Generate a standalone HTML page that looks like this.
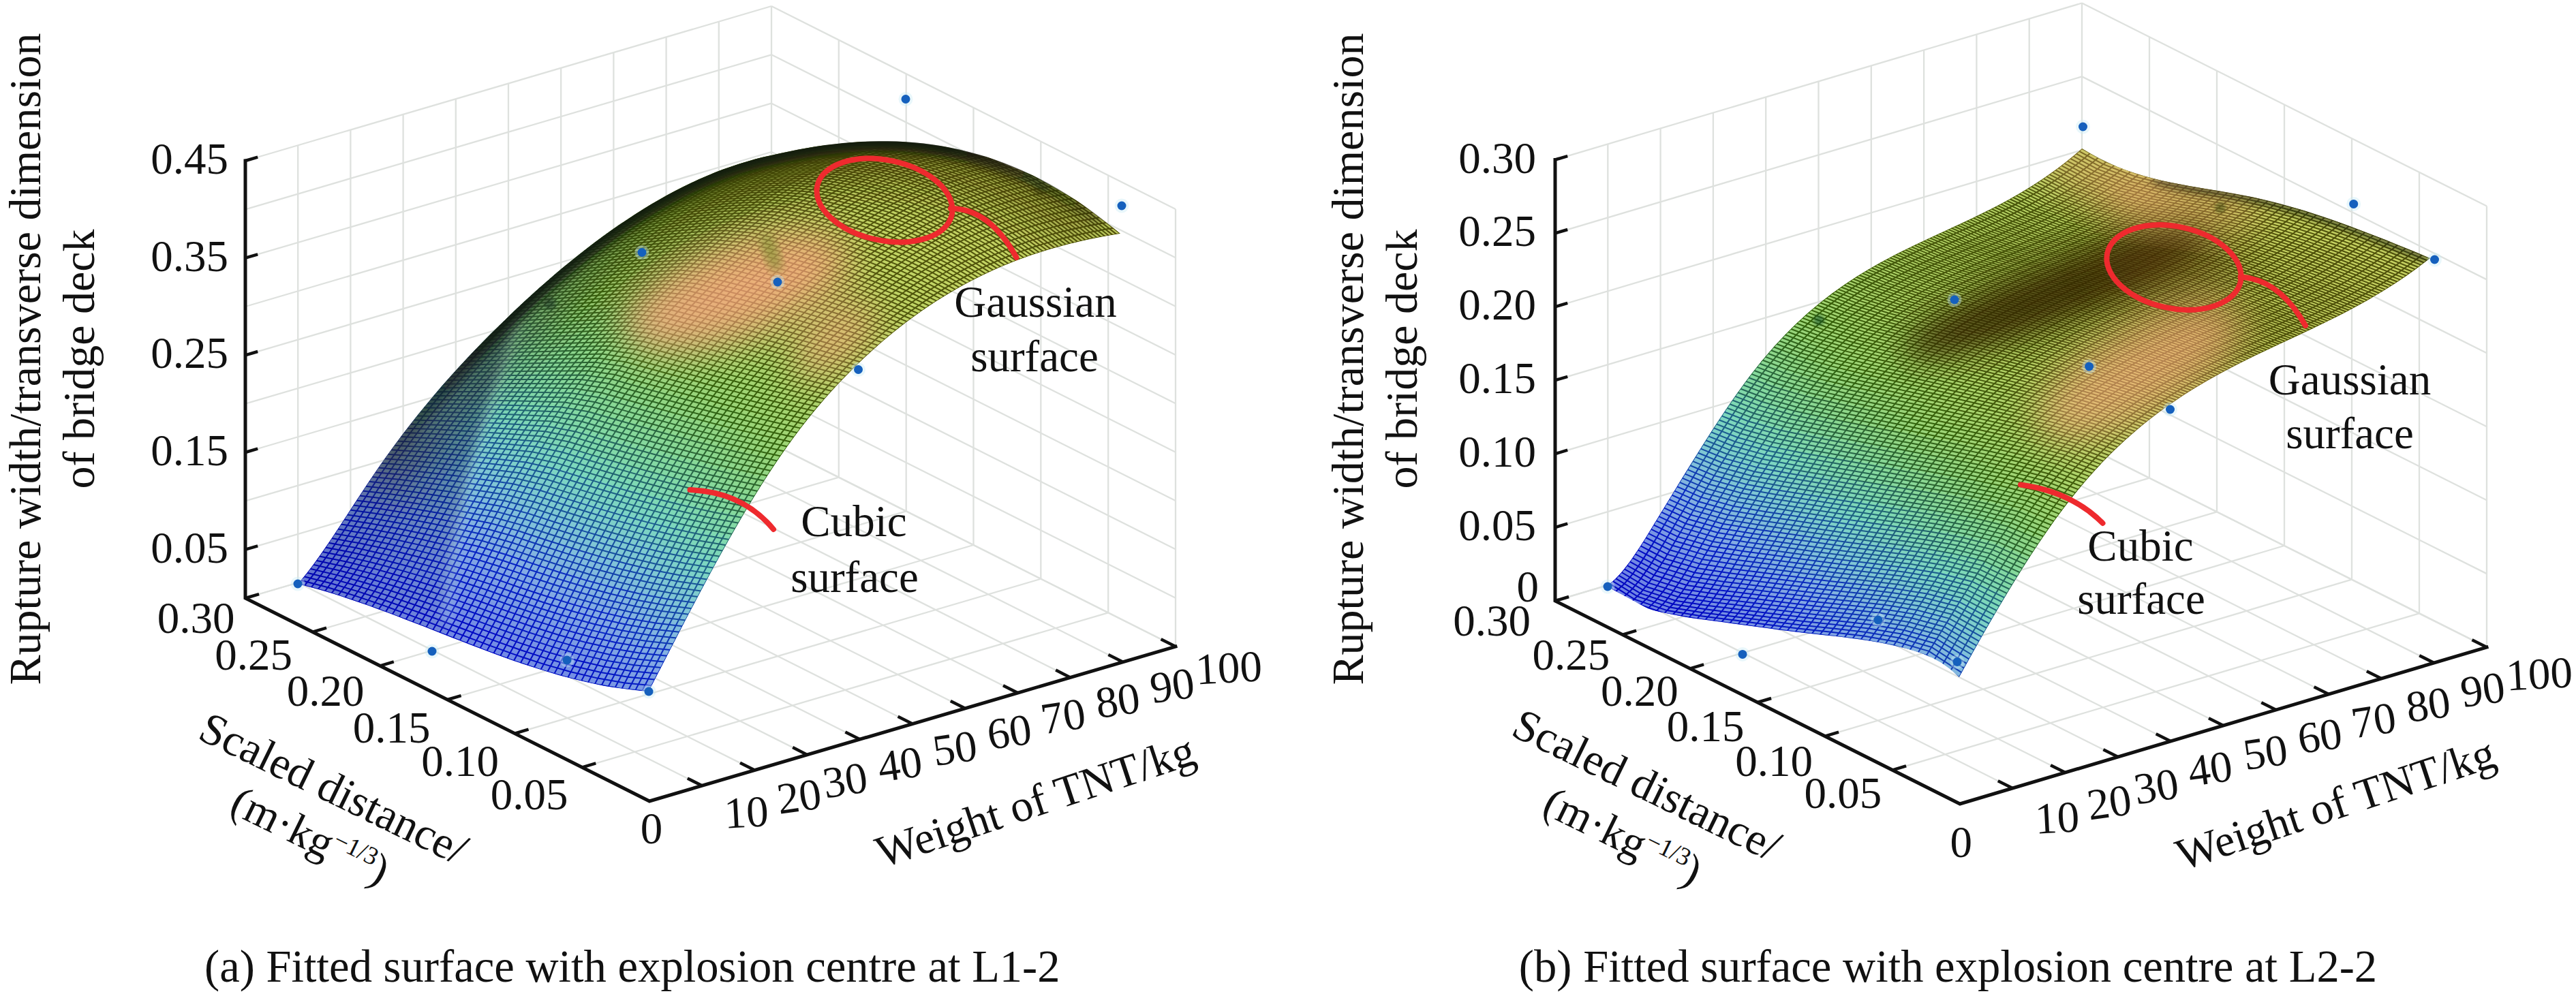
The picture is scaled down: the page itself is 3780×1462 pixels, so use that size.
<!DOCTYPE html>
<html><head><meta charset="utf-8"><title>Fitted surfaces</title>
<style>html,body{margin:0;padding:0;background:#fff}body{width:3780px;height:1462px;overflow:hidden}text{font-family:'Liberation Serif', serif}</style></head>
<body>
<svg width="3780" height="1462" viewBox="0 0 3780 1462" style="display:block;font-family:'Liberation Serif', serif;font-size:65px" fill="#111">
<rect width="3780" height="1462" fill="#fff"/>
<defs>
<linearGradient id="qL0" gradientUnits="userSpaceOnUse" x1="954.9" y1="1009.4" x2="439.9" y2="853.6"><stop offset="0" stop-color="#7e9fe4"/><stop offset="0.2" stop-color="#7590e4"/><stop offset="0.5" stop-color="#7289e4"/><stop offset="0.8" stop-color="#7086e4"/><stop offset="1" stop-color="#6e81e4"/></linearGradient><linearGradient id="qL1" gradientUnits="userSpaceOnUse" x1="960.6" y1="998.2" x2="445.6" y2="846.7"><stop offset="0" stop-color="#80a3e4"/><stop offset="0.2" stop-color="#7793e4"/><stop offset="0.5" stop-color="#738be4"/><stop offset="0.8" stop-color="#7187e4"/><stop offset="1" stop-color="#6f82e4"/></linearGradient><linearGradient id="qL2" gradientUnits="userSpaceOnUse" x1="966.4" y1="987.1" x2="451.4" y2="839.5"><stop offset="0" stop-color="#82a6e4"/><stop offset="0.2" stop-color="#7997e4"/><stop offset="0.5" stop-color="#758ee4"/><stop offset="0.8" stop-color="#7289e4"/><stop offset="1" stop-color="#6f83e4"/></linearGradient><linearGradient id="qL3" gradientUnits="userSpaceOnUse" x1="972.2" y1="975.9" x2="457.2" y2="831.9"><stop offset="0" stop-color="#84aae4"/><stop offset="0.2" stop-color="#7b9ae4"/><stop offset="0.5" stop-color="#7792e4"/><stop offset="0.8" stop-color="#728ae4"/><stop offset="1" stop-color="#7084e4"/></linearGradient><linearGradient id="qL4" gradientUnits="userSpaceOnUse" x1="978" y1="964.7" x2="463" y2="824.1"><stop offset="0" stop-color="#83aee2"/><stop offset="0.2" stop-color="#7d9ee4"/><stop offset="0.5" stop-color="#7895e4"/><stop offset="0.8" stop-color="#748de4"/><stop offset="1" stop-color="#7085e4"/></linearGradient><linearGradient id="qL5" gradientUnits="userSpaceOnUse" x1="983.7" y1="953.5" x2="468.7" y2="816"><stop offset="0" stop-color="#83b2e1"/><stop offset="0.2" stop-color="#7fa1e4"/><stop offset="0.5" stop-color="#7a98e4"/><stop offset="0.8" stop-color="#7690e4"/><stop offset="1" stop-color="#7187e4"/></linearGradient><linearGradient id="qL6" gradientUnits="userSpaceOnUse" x1="989.5" y1="942.3" x2="474.5" y2="807.8"><stop offset="0" stop-color="#82b6df"/><stop offset="0.2" stop-color="#81a5e4"/><stop offset="0.5" stop-color="#7c9ce4"/><stop offset="0.8" stop-color="#7793e4"/><stop offset="1" stop-color="#7188e4"/></linearGradient><linearGradient id="qL7" gradientUnits="userSpaceOnUse" x1="995.3" y1="931.2" x2="480.2" y2="799.4"><stop offset="0" stop-color="#81badd"/><stop offset="0.2" stop-color="#83a8e4"/><stop offset="0.5" stop-color="#7e9fe4"/><stop offset="0.8" stop-color="#7996e4"/><stop offset="1" stop-color="#7289e4"/></linearGradient><linearGradient id="qL8" gradientUnits="userSpaceOnUse" x1="1001" y1="920.1" x2="486" y2="790.8"><stop offset="0" stop-color="#81bddb"/><stop offset="0.2" stop-color="#84ace3"/><stop offset="0.5" stop-color="#80a3e4"/><stop offset="0.8" stop-color="#7b99e4"/><stop offset="1" stop-color="#738be4"/></linearGradient><linearGradient id="qL9" gradientUnits="userSpaceOnUse" x1="1006.8" y1="909" x2="491.8" y2="782.1"><stop offset="0" stop-color="#80c1d9"/><stop offset="0.2" stop-color="#83b0e1"/><stop offset="0.5" stop-color="#82a7e4"/><stop offset="0.8" stop-color="#7c9ce4"/><stop offset="1" stop-color="#758ee4"/></linearGradient><linearGradient id="qL10" gradientUnits="userSpaceOnUse" x1="1012.5" y1="898" x2="497.6" y2="773.3"><stop offset="0" stop-color="#7fc5d6"/><stop offset="0.2" stop-color="#82b4df"/><stop offset="0.5" stop-color="#84aae4"/><stop offset="0.8" stop-color="#7e9fe4"/><stop offset="1" stop-color="#7691e4"/></linearGradient><linearGradient id="qL11" gradientUnits="userSpaceOnUse" x1="1018.3" y1="887" x2="503.3" y2="764.5"><stop offset="0" stop-color="#7fc8d3"/><stop offset="0.2" stop-color="#81b8de"/><stop offset="0.5" stop-color="#83aee2"/><stop offset="0.8" stop-color="#80a2e4"/><stop offset="1" stop-color="#7793e4"/></linearGradient><linearGradient id="qL12" gradientUnits="userSpaceOnUse" x1="1024.1" y1="876" x2="509.1" y2="755.6"><stop offset="0" stop-color="#7ecbcf"/><stop offset="0.2" stop-color="#81bcdc"/><stop offset="0.5" stop-color="#83b2e0"/><stop offset="0.8" stop-color="#81a6e4"/><stop offset="1" stop-color="#7996e4"/></linearGradient><linearGradient id="qL13" gradientUnits="userSpaceOnUse" x1="1029.8" y1="865.2" x2="514.9" y2="746.7"><stop offset="0" stop-color="#7dcecb"/><stop offset="0.2" stop-color="#80c0da"/><stop offset="0.5" stop-color="#82b6df"/><stop offset="0.8" stop-color="#83a9e4"/><stop offset="1" stop-color="#7a99e4"/></linearGradient><linearGradient id="qL14" gradientUnits="userSpaceOnUse" x1="1035.6" y1="854.4" x2="520.6" y2="737.8"><stop offset="0" stop-color="#7dd1c7"/><stop offset="0.2" stop-color="#7fc4d7"/><stop offset="0.5" stop-color="#81badd"/><stop offset="0.8" stop-color="#84ace3"/><stop offset="1" stop-color="#7c9be4"/></linearGradient><linearGradient id="qL15" gradientUnits="userSpaceOnUse" x1="1041.4" y1="843.7" x2="526.4" y2="729"><stop offset="0" stop-color="#7cd4c4"/><stop offset="0.2" stop-color="#7fc7d3"/><stop offset="0.5" stop-color="#81bedb"/><stop offset="0.8" stop-color="#83afe2"/><stop offset="1" stop-color="#7d9ee4"/></linearGradient><linearGradient id="qL16" gradientUnits="userSpaceOnUse" x1="1047.2" y1="833" x2="532.2" y2="720.2"><stop offset="0" stop-color="#7bd7c0"/><stop offset="0.2" stop-color="#7ecad0"/><stop offset="0.5" stop-color="#80c1d9"/><stop offset="0.8" stop-color="#82b3e0"/><stop offset="1" stop-color="#7fa1e4"/></linearGradient><linearGradient id="qL17" gradientUnits="userSpaceOnUse" x1="1052.9" y1="822.5" x2="537.9" y2="711.4"><stop offset="0" stop-color="#7cd8bb"/><stop offset="0.2" stop-color="#7dcdcc"/><stop offset="0.5" stop-color="#7fc5d7"/><stop offset="0.8" stop-color="#82b6df"/><stop offset="1" stop-color="#80a3e4"/></linearGradient><linearGradient id="qL18" gradientUnits="userSpaceOnUse" x1="1058.7" y1="812" x2="543.7" y2="702.8"><stop offset="0" stop-color="#7dd8b7"/><stop offset="0.2" stop-color="#7dd0c8"/><stop offset="0.5" stop-color="#7fc8d3"/><stop offset="0.8" stop-color="#81b9dd"/><stop offset="1" stop-color="#82a6e4"/></linearGradient><linearGradient id="qL19" gradientUnits="userSpaceOnUse" x1="1064.5" y1="801.6" x2="549.5" y2="694.3"><stop offset="0" stop-color="#7fd9b2"/><stop offset="0.2" stop-color="#7cd3c4"/><stop offset="0.5" stop-color="#7ecbcf"/><stop offset="0.8" stop-color="#81bddc"/><stop offset="1" stop-color="#83a8e4"/></linearGradient><linearGradient id="qL20" gradientUnits="userSpaceOnUse" x1="1070.2" y1="791.4" x2="555.2" y2="685.9"><stop offset="0" stop-color="#80d9ad"/><stop offset="0.2" stop-color="#7cd6c1"/><stop offset="0.5" stop-color="#7dcdcc"/><stop offset="0.8" stop-color="#80c0da"/><stop offset="1" stop-color="#84abe4"/></linearGradient><linearGradient id="qL21" gradientUnits="userSpaceOnUse" x1="1076" y1="781.3" x2="561" y2="677.6"><stop offset="0" stop-color="#82d9a8"/><stop offset="0.2" stop-color="#7cd8bd"/><stop offset="0.5" stop-color="#7dd0c8"/><stop offset="0.8" stop-color="#80c3d9"/><stop offset="1" stop-color="#83aee2"/></linearGradient><linearGradient id="qL22" gradientUnits="userSpaceOnUse" x1="1081.8" y1="771.3" x2="566.8" y2="669.5"><stop offset="0" stop-color="#83d9a4"/><stop offset="0.2" stop-color="#7dd8b8"/><stop offset="0.5" stop-color="#7cd3c5"/><stop offset="0.8" stop-color="#7fc6d5"/><stop offset="1" stop-color="#83b0e1"/></linearGradient><linearGradient id="qL23" gradientUnits="userSpaceOnUse" x1="1087.5" y1="761.4" x2="572.5" y2="661.4"><stop offset="0" stop-color="#84d99f"/><stop offset="0.2" stop-color="#7ed8b3"/><stop offset="0.5" stop-color="#7cd6c1"/><stop offset="0.8" stop-color="#7fc8d2"/><stop offset="1" stop-color="#82b3e0"/></linearGradient><linearGradient id="qL24" gradientUnits="userSpaceOnUse" x1="1093.3" y1="751.6" x2="578.3" y2="653.5"><stop offset="0" stop-color="#86d99a"/><stop offset="0.2" stop-color="#80d9ae"/><stop offset="0.5" stop-color="#7bd8be"/><stop offset="0.8" stop-color="#7ecacf"/><stop offset="1" stop-color="#82b6df"/></linearGradient><linearGradient id="qL25" gradientUnits="userSpaceOnUse" x1="1099.1" y1="741.9" x2="584.1" y2="645.7"><stop offset="0" stop-color="#88d996"/><stop offset="0.2" stop-color="#81d9aa"/><stop offset="0.5" stop-color="#7dd8b9"/><stop offset="0.8" stop-color="#7ecdcd"/><stop offset="1" stop-color="#82b8de"/></linearGradient><linearGradient id="qL26" gradientUnits="userSpaceOnUse" x1="1104.8" y1="732.4" x2="589.8" y2="638"><stop offset="0" stop-color="#8ad892"/><stop offset="0.2" stop-color="#82d9a5"/><stop offset="0.5" stop-color="#7ed8b5"/><stop offset="0.8" stop-color="#7dcfca"/><stop offset="1" stop-color="#81bbdd"/></linearGradient><linearGradient id="qL27" gradientUnits="userSpaceOnUse" x1="1110.6" y1="723.1" x2="595.6" y2="630.5"><stop offset="0" stop-color="#8cd78e"/><stop offset="0.2" stop-color="#84d9a1"/><stop offset="0.5" stop-color="#7fd9b0"/><stop offset="0.8" stop-color="#7dd1c7"/><stop offset="1" stop-color="#81bddb"/></linearGradient><linearGradient id="qL28" gradientUnits="userSpaceOnUse" x1="1116.4" y1="713.8" x2="601.4" y2="623"><stop offset="0" stop-color="#8fd789"/><stop offset="0.2" stop-color="#85d99d"/><stop offset="0.5" stop-color="#80d9ac"/><stop offset="0.8" stop-color="#7cd3c4"/><stop offset="1" stop-color="#80bfda"/></linearGradient><linearGradient id="qL29" gradientUnits="userSpaceOnUse" x1="1122.1" y1="704.7" x2="607.1" y2="615.6"><stop offset="0" stop-color="#91d685"/><stop offset="0.2" stop-color="#87d998"/><stop offset="0.5" stop-color="#82d9a8"/><stop offset="0.8" stop-color="#7cd6c1"/><stop offset="1" stop-color="#80c2d9"/></linearGradient><linearGradient id="qL30" gradientUnits="userSpaceOnUse" x1="1127.9" y1="695.8" x2="612.9" y2="608.4"><stop offset="0" stop-color="#93d581"/><stop offset="0.2" stop-color="#89d894"/><stop offset="0.5" stop-color="#83d9a4"/><stop offset="0.8" stop-color="#7bd8bf"/><stop offset="1" stop-color="#7fc4d8"/></linearGradient><linearGradient id="qL31" gradientUnits="userSpaceOnUse" x1="1133.7" y1="687" x2="618.7" y2="601.2"><stop offset="0" stop-color="#95d57e"/><stop offset="0.2" stop-color="#8bd890"/><stop offset="0.5" stop-color="#84d9a0"/><stop offset="0.8" stop-color="#7cd8bb"/><stop offset="1" stop-color="#7fc6d5"/></linearGradient><linearGradient id="qL32" gradientUnits="userSpaceOnUse" x1="1139.4" y1="678.3" x2="624.4" y2="594.2"><stop offset="0" stop-color="#97d47a"/><stop offset="0.2" stop-color="#8dd78c"/><stop offset="0.5" stop-color="#85d99c"/><stop offset="0.8" stop-color="#7dd8b8"/><stop offset="1" stop-color="#7fc7d3"/></linearGradient><linearGradient id="qL33" gradientUnits="userSpaceOnUse" x1="1145.2" y1="669.9" x2="630.2" y2="587.2"><stop offset="0" stop-color="#99d476"/><stop offset="0.2" stop-color="#8fd689"/><stop offset="0.5" stop-color="#87d998"/><stop offset="0.8" stop-color="#7ed8b4"/><stop offset="1" stop-color="#7ec9d1"/></linearGradient><linearGradient id="qL34" gradientUnits="userSpaceOnUse" x1="1151" y1="661.5" x2="636" y2="580.3"><stop offset="0" stop-color="#9bd475"/><stop offset="0.2" stop-color="#91d685"/><stop offset="0.5" stop-color="#88d895"/><stop offset="0.8" stop-color="#7fd9b1"/><stop offset="1" stop-color="#7ecbcf"/></linearGradient><linearGradient id="qL35" gradientUnits="userSpaceOnUse" x1="1156.7" y1="653.4" x2="641.7" y2="573.5"><stop offset="0" stop-color="#9dd473"/><stop offset="0.2" stop-color="#93d581"/><stop offset="0.5" stop-color="#8ad891"/><stop offset="0.8" stop-color="#80d9ae"/><stop offset="1" stop-color="#7ecccd"/></linearGradient><linearGradient id="qL36" gradientUnits="userSpaceOnUse" x1="1162.5" y1="645.4" x2="647.5" y2="566.8"><stop offset="0" stop-color="#9fd472"/><stop offset="0.2" stop-color="#95d57e"/><stop offset="0.5" stop-color="#8cd78e"/><stop offset="0.8" stop-color="#81d9ab"/><stop offset="1" stop-color="#7dcecb"/></linearGradient><linearGradient id="qL37" gradientUnits="userSpaceOnUse" x1="1168.2" y1="637.6" x2="653.3" y2="560.2"><stop offset="0" stop-color="#a1d471"/><stop offset="0.2" stop-color="#97d47a"/><stop offset="0.5" stop-color="#8ed78a"/><stop offset="0.8" stop-color="#82d9a8"/><stop offset="1" stop-color="#7dd0c9"/></linearGradient><linearGradient id="qL38" gradientUnits="userSpaceOnUse" x1="1174" y1="629.9" x2="659" y2="553.7"><stop offset="0" stop-color="#a3d470"/><stop offset="0.2" stop-color="#98d477"/><stop offset="0.5" stop-color="#90d687"/><stop offset="0.8" stop-color="#83d9a5"/><stop offset="1" stop-color="#7dd1c7"/></linearGradient><linearGradient id="qL39" gradientUnits="userSpaceOnUse" x1="1179.8" y1="622.4" x2="664.8" y2="547.3"><stop offset="0" stop-color="#a4d46f"/><stop offset="0.2" stop-color="#9ad475"/><stop offset="0.5" stop-color="#91d684"/><stop offset="0.8" stop-color="#84d9a2"/><stop offset="1" stop-color="#7cd3c5"/></linearGradient><linearGradient id="qL40" gradientUnits="userSpaceOnUse" x1="1185.6" y1="615.1" x2="670.6" y2="540.9"><stop offset="0" stop-color="#a6d46e"/><stop offset="0.2" stop-color="#9cd474"/><stop offset="0.5" stop-color="#93d581"/><stop offset="0.8" stop-color="#84d99f"/><stop offset="1" stop-color="#7cd4c3"/></linearGradient><linearGradient id="qL41" gradientUnits="userSpaceOnUse" x1="1191.3" y1="608" x2="676.3" y2="534.6"><stop offset="0" stop-color="#a8d46d"/><stop offset="0.2" stop-color="#9ed473"/><stop offset="0.5" stop-color="#95d57e"/><stop offset="0.8" stop-color="#85d99c"/><stop offset="1" stop-color="#7cd6c1"/></linearGradient><linearGradient id="qL42" gradientUnits="userSpaceOnUse" x1="1197.1" y1="601" x2="682.1" y2="528.4"><stop offset="0" stop-color="#a9d46c"/><stop offset="0.2" stop-color="#9fd472"/><stop offset="0.5" stop-color="#96d47b"/><stop offset="0.8" stop-color="#86d999"/><stop offset="1" stop-color="#7bd7bf"/></linearGradient><linearGradient id="qL43" gradientUnits="userSpaceOnUse" x1="1202.9" y1="594.1" x2="687.9" y2="522.2"><stop offset="0" stop-color="#abd46b"/><stop offset="0.2" stop-color="#a1d471"/><stop offset="0.5" stop-color="#98d478"/><stop offset="0.8" stop-color="#88d996"/><stop offset="1" stop-color="#7cd8bd"/></linearGradient><linearGradient id="qL44" gradientUnits="userSpaceOnUse" x1="1208.6" y1="587.4" x2="693.6" y2="516.1"><stop offset="0" stop-color="#add46a"/><stop offset="0.2" stop-color="#a3d470"/><stop offset="0.5" stop-color="#99d476"/><stop offset="0.8" stop-color="#89d894"/><stop offset="1" stop-color="#7cd8ba"/></linearGradient><linearGradient id="qL45" gradientUnits="userSpaceOnUse" x1="1214.4" y1="580.8" x2="699.4" y2="510.1"><stop offset="0" stop-color="#aed469"/><stop offset="0.2" stop-color="#a4d46f"/><stop offset="0.5" stop-color="#9bd475"/><stop offset="0.8" stop-color="#8ad891"/><stop offset="1" stop-color="#7dd8b8"/></linearGradient><linearGradient id="qL46" gradientUnits="userSpaceOnUse" x1="1220.1" y1="574.4" x2="705.1" y2="504.1"><stop offset="0" stop-color="#b0d468"/><stop offset="0.2" stop-color="#a6d46e"/><stop offset="0.5" stop-color="#9dd474"/><stop offset="0.8" stop-color="#8cd78f"/><stop offset="1" stop-color="#7ed8b6"/></linearGradient><linearGradient id="qL47" gradientUnits="userSpaceOnUse" x1="1225.9" y1="568.1" x2="710.9" y2="498.2"><stop offset="0" stop-color="#b1d467"/><stop offset="0.2" stop-color="#a7d46d"/><stop offset="0.5" stop-color="#9ed473"/><stop offset="0.8" stop-color="#8dd78c"/><stop offset="1" stop-color="#7ed8b3"/></linearGradient><linearGradient id="qL48" gradientUnits="userSpaceOnUse" x1="1231.7" y1="561.9" x2="716.7" y2="492.4"><stop offset="0" stop-color="#b2d467"/><stop offset="0.2" stop-color="#a9d46c"/><stop offset="0.5" stop-color="#a0d472"/><stop offset="0.8" stop-color="#8fd78a"/><stop offset="1" stop-color="#7fd9b1"/></linearGradient><linearGradient id="qL49" gradientUnits="userSpaceOnUse" x1="1237.4" y1="555.9" x2="722.4" y2="486.6"><stop offset="0" stop-color="#b3d466"/><stop offset="0.2" stop-color="#aad46b"/><stop offset="0.5" stop-color="#a1d471"/><stop offset="0.8" stop-color="#90d687"/><stop offset="1" stop-color="#80d9af"/></linearGradient><linearGradient id="qL50" gradientUnits="userSpaceOnUse" x1="1243.2" y1="549.9" x2="728.2" y2="480.9"><stop offset="0" stop-color="#b4d466"/><stop offset="0.2" stop-color="#acd46a"/><stop offset="0.5" stop-color="#a3d470"/><stop offset="0.8" stop-color="#91d685"/><stop offset="1" stop-color="#80d9ac"/></linearGradient><linearGradient id="qL51" gradientUnits="userSpaceOnUse" x1="1249" y1="544.1" x2="734" y2="475.2"><stop offset="0" stop-color="#b4d466"/><stop offset="0.2" stop-color="#add469"/><stop offset="0.5" stop-color="#a4d46f"/><stop offset="0.8" stop-color="#92d582"/><stop offset="1" stop-color="#81d9aa"/></linearGradient><linearGradient id="qL52" gradientUnits="userSpaceOnUse" x1="1254.8" y1="538.4" x2="739.8" y2="469.5"><stop offset="0" stop-color="#b5d466"/><stop offset="0.2" stop-color="#afd468"/><stop offset="0.5" stop-color="#a5d46e"/><stop offset="0.8" stop-color="#94d580"/><stop offset="1" stop-color="#82d9a8"/></linearGradient><linearGradient id="qL53" gradientUnits="userSpaceOnUse" x1="1260.5" y1="532.8" x2="745.5" y2="464"><stop offset="0" stop-color="#b6d466"/><stop offset="0.2" stop-color="#b0d468"/><stop offset="0.5" stop-color="#a7d46d"/><stop offset="0.8" stop-color="#95d57d"/><stop offset="1" stop-color="#82d9a6"/></linearGradient><linearGradient id="qL54" gradientUnits="userSpaceOnUse" x1="1266.3" y1="527.3" x2="751.3" y2="458.4"><stop offset="0" stop-color="#b6d466"/><stop offset="0.2" stop-color="#b1d467"/><stop offset="0.5" stop-color="#a8d46c"/><stop offset="0.8" stop-color="#96d47b"/><stop offset="1" stop-color="#83d9a4"/></linearGradient><linearGradient id="qL55" gradientUnits="userSpaceOnUse" x1="1272" y1="521.9" x2="757" y2="452.9"><stop offset="0" stop-color="#b7d465"/><stop offset="0.2" stop-color="#b2d466"/><stop offset="0.5" stop-color="#aad46c"/><stop offset="0.8" stop-color="#98d479"/><stop offset="1" stop-color="#84d9a1"/></linearGradient><linearGradient id="qL56" gradientUnits="userSpaceOnUse" x1="1277.8" y1="516.6" x2="762.8" y2="447.5"><stop offset="0" stop-color="#b8d465"/><stop offset="0.2" stop-color="#b3d466"/><stop offset="0.5" stop-color="#abd46b"/><stop offset="0.8" stop-color="#99d476"/><stop offset="1" stop-color="#84d99f"/></linearGradient><linearGradient id="qL57" gradientUnits="userSpaceOnUse" x1="1283.6" y1="511.4" x2="768.6" y2="442.1"><stop offset="0" stop-color="#b8d465"/><stop offset="0.2" stop-color="#b4d466"/><stop offset="0.5" stop-color="#acd46a"/><stop offset="0.8" stop-color="#9ad475"/><stop offset="1" stop-color="#85d99d"/></linearGradient><linearGradient id="qL58" gradientUnits="userSpaceOnUse" x1="1289.3" y1="506.2" x2="774.4" y2="436.8"><stop offset="0" stop-color="#b9d465"/><stop offset="0.2" stop-color="#b5d466"/><stop offset="0.5" stop-color="#aed469"/><stop offset="0.8" stop-color="#9bd474"/><stop offset="1" stop-color="#85d99b"/></linearGradient><linearGradient id="qL59" gradientUnits="userSpaceOnUse" x1="1295.1" y1="501.2" x2="780.1" y2="431.5"><stop offset="0" stop-color="#bad465"/><stop offset="0.2" stop-color="#b5d466"/><stop offset="0.5" stop-color="#afd468"/><stop offset="0.8" stop-color="#9dd474"/><stop offset="1" stop-color="#86d999"/></linearGradient><linearGradient id="qL60" gradientUnits="userSpaceOnUse" x1="1300.9" y1="496.3" x2="785.9" y2="426.3"><stop offset="0" stop-color="#bad465"/><stop offset="0.2" stop-color="#b6d466"/><stop offset="0.5" stop-color="#b0d468"/><stop offset="0.8" stop-color="#9ed473"/><stop offset="1" stop-color="#87d997"/></linearGradient><linearGradient id="qL61" gradientUnits="userSpaceOnUse" x1="1306.7" y1="491.5" x2="791.6" y2="421.1"><stop offset="0" stop-color="#bbd465"/><stop offset="0.2" stop-color="#b7d466"/><stop offset="0.5" stop-color="#b1d467"/><stop offset="0.8" stop-color="#9fd472"/><stop offset="1" stop-color="#88d895"/></linearGradient><linearGradient id="qL62" gradientUnits="userSpaceOnUse" x1="1312.4" y1="486.8" x2="797.4" y2="416"><stop offset="0" stop-color="#bbd465"/><stop offset="0.2" stop-color="#b8d465"/><stop offset="0.5" stop-color="#b2d466"/><stop offset="0.8" stop-color="#a0d471"/><stop offset="1" stop-color="#89d894"/></linearGradient><linearGradient id="qL63" gradientUnits="userSpaceOnUse" x1="1318.2" y1="482.2" x2="803.2" y2="411"><stop offset="0" stop-color="#bcd464"/><stop offset="0.2" stop-color="#b8d465"/><stop offset="0.5" stop-color="#b3d466"/><stop offset="0.8" stop-color="#a1d471"/><stop offset="1" stop-color="#8ad892"/></linearGradient><linearGradient id="qL64" gradientUnits="userSpaceOnUse" x1="1323.9" y1="477.7" x2="809" y2="405.9"><stop offset="0" stop-color="#bcd464"/><stop offset="0.2" stop-color="#b9d465"/><stop offset="0.5" stop-color="#b4d466"/><stop offset="0.8" stop-color="#a2d470"/><stop offset="1" stop-color="#8bd890"/></linearGradient><linearGradient id="qL65" gradientUnits="userSpaceOnUse" x1="1329.7" y1="473.3" x2="814.7" y2="401"><stop offset="0" stop-color="#bdd464"/><stop offset="0.2" stop-color="#bad465"/><stop offset="0.5" stop-color="#b4d466"/><stop offset="0.8" stop-color="#a4d46f"/><stop offset="1" stop-color="#8cd78e"/></linearGradient><linearGradient id="qL66" gradientUnits="userSpaceOnUse" x1="1335.5" y1="468.9" x2="820.5" y2="396.1"><stop offset="0" stop-color="#bdd464"/><stop offset="0.2" stop-color="#bad465"/><stop offset="0.5" stop-color="#b5d466"/><stop offset="0.8" stop-color="#a5d46f"/><stop offset="1" stop-color="#8dd78c"/></linearGradient><linearGradient id="qL67" gradientUnits="userSpaceOnUse" x1="1341.2" y1="464.7" x2="826.2" y2="391.3"><stop offset="0" stop-color="#bed464"/><stop offset="0.2" stop-color="#bbd465"/><stop offset="0.5" stop-color="#b6d466"/><stop offset="0.8" stop-color="#a6d46e"/><stop offset="1" stop-color="#8ed78b"/></linearGradient><linearGradient id="qL68" gradientUnits="userSpaceOnUse" x1="1347" y1="460.5" x2="832" y2="386.5"><stop offset="0" stop-color="#bed464"/><stop offset="0.2" stop-color="#bbd465"/><stop offset="0.5" stop-color="#b6d466"/><stop offset="0.8" stop-color="#a7d46d"/><stop offset="1" stop-color="#8fd789"/></linearGradient><linearGradient id="qL69" gradientUnits="userSpaceOnUse" x1="1352.8" y1="456.4" x2="837.8" y2="381.8"><stop offset="0" stop-color="#bed464"/><stop offset="0.2" stop-color="#bcd464"/><stop offset="0.5" stop-color="#b7d465"/><stop offset="0.8" stop-color="#a8d46d"/><stop offset="1" stop-color="#90d687"/></linearGradient><linearGradient id="qL70" gradientUnits="userSpaceOnUse" x1="1358.5" y1="452.5" x2="843.5" y2="377.1"><stop offset="0" stop-color="#bfd464"/><stop offset="0.2" stop-color="#bdd464"/><stop offset="0.5" stop-color="#b8d465"/><stop offset="0.8" stop-color="#a9d46c"/><stop offset="1" stop-color="#91d686"/></linearGradient><linearGradient id="qL71" gradientUnits="userSpaceOnUse" x1="1364.3" y1="448.6" x2="849.3" y2="372.5"><stop offset="0" stop-color="#bfd464"/><stop offset="0.2" stop-color="#bdd464"/><stop offset="0.5" stop-color="#b8d465"/><stop offset="0.8" stop-color="#aad46b"/><stop offset="1" stop-color="#91d684"/></linearGradient><linearGradient id="qL72" gradientUnits="userSpaceOnUse" x1="1370.1" y1="444.8" x2="855.1" y2="368"><stop offset="0" stop-color="#c0d464"/><stop offset="0.2" stop-color="#bed464"/><stop offset="0.5" stop-color="#b9d465"/><stop offset="0.8" stop-color="#abd46b"/><stop offset="1" stop-color="#92d683"/></linearGradient><linearGradient id="qL73" gradientUnits="userSpaceOnUse" x1="1375.8" y1="441" x2="860.8" y2="363.5"><stop offset="0" stop-color="#c0d464"/><stop offset="0.2" stop-color="#bed464"/><stop offset="0.5" stop-color="#b9d465"/><stop offset="0.8" stop-color="#acd46a"/><stop offset="1" stop-color="#93d581"/></linearGradient><linearGradient id="qL74" gradientUnits="userSpaceOnUse" x1="1381.6" y1="437.4" x2="866.6" y2="359"><stop offset="0" stop-color="#c0d463"/><stop offset="0.2" stop-color="#bfd464"/><stop offset="0.5" stop-color="#bad465"/><stop offset="0.8" stop-color="#add46a"/><stop offset="1" stop-color="#94d580"/></linearGradient><linearGradient id="qL75" gradientUnits="userSpaceOnUse" x1="1387.4" y1="433.8" x2="872.4" y2="354.7"><stop offset="0" stop-color="#c1d463"/><stop offset="0.2" stop-color="#bfd464"/><stop offset="0.5" stop-color="#bad465"/><stop offset="0.8" stop-color="#aed469"/><stop offset="1" stop-color="#95d57e"/></linearGradient><linearGradient id="qL76" gradientUnits="userSpaceOnUse" x1="1393.2" y1="430.4" x2="878.1" y2="350.4"><stop offset="0" stop-color="#c1d463"/><stop offset="0.2" stop-color="#c0d464"/><stop offset="0.5" stop-color="#bbd465"/><stop offset="0.8" stop-color="#afd468"/><stop offset="1" stop-color="#95d57d"/></linearGradient><linearGradient id="qL77" gradientUnits="userSpaceOnUse" x1="1398.9" y1="427" x2="883.9" y2="346.1"><stop offset="0" stop-color="#c1d463"/><stop offset="0.2" stop-color="#c0d463"/><stop offset="0.5" stop-color="#bbd465"/><stop offset="0.8" stop-color="#b0d468"/><stop offset="1" stop-color="#96d47b"/></linearGradient><linearGradient id="qL78" gradientUnits="userSpaceOnUse" x1="1404.7" y1="423.6" x2="889.7" y2="341.9"><stop offset="0" stop-color="#c2d463"/><stop offset="0.2" stop-color="#c1d463"/><stop offset="0.5" stop-color="#bcd464"/><stop offset="0.8" stop-color="#b1d467"/><stop offset="1" stop-color="#97d47a"/></linearGradient><linearGradient id="qL79" gradientUnits="userSpaceOnUse" x1="1410.4" y1="420.4" x2="895.4" y2="337.8"><stop offset="0" stop-color="#c2d463"/><stop offset="0.2" stop-color="#c1d463"/><stop offset="0.5" stop-color="#bcd464"/><stop offset="0.8" stop-color="#b1d467"/><stop offset="1" stop-color="#98d479"/></linearGradient><linearGradient id="qL80" gradientUnits="userSpaceOnUse" x1="1416.2" y1="417.2" x2="901.2" y2="333.7"><stop offset="0" stop-color="#c2d463"/><stop offset="0.2" stop-color="#c2d463"/><stop offset="0.5" stop-color="#bdd464"/><stop offset="0.8" stop-color="#b2d467"/><stop offset="1" stop-color="#98d477"/></linearGradient><linearGradient id="qL81" gradientUnits="userSpaceOnUse" x1="1422" y1="414.2" x2="907" y2="329.8"><stop offset="0" stop-color="#c2d463"/><stop offset="0.2" stop-color="#c2d463"/><stop offset="0.5" stop-color="#bdd464"/><stop offset="0.8" stop-color="#b2d466"/><stop offset="1" stop-color="#99d476"/></linearGradient><linearGradient id="qL82" gradientUnits="userSpaceOnUse" x1="1427.8" y1="411.2" x2="912.8" y2="325.8"><stop offset="0" stop-color="#c3d463"/><stop offset="0.2" stop-color="#c3d463"/><stop offset="0.5" stop-color="#bed464"/><stop offset="0.8" stop-color="#b3d466"/><stop offset="1" stop-color="#9ad475"/></linearGradient><linearGradient id="qL83" gradientUnits="userSpaceOnUse" x1="1433.5" y1="408.2" x2="918.5" y2="321.9"><stop offset="0" stop-color="#c3d463"/><stop offset="0.2" stop-color="#c3d463"/><stop offset="0.5" stop-color="#bed464"/><stop offset="0.8" stop-color="#b3d466"/><stop offset="1" stop-color="#9ad475"/></linearGradient><linearGradient id="qL84" gradientUnits="userSpaceOnUse" x1="1439.3" y1="405.4" x2="924.3" y2="318.1"><stop offset="0" stop-color="#c3d463"/><stop offset="0.2" stop-color="#c3d463"/><stop offset="0.5" stop-color="#bfd464"/><stop offset="0.8" stop-color="#b4d466"/><stop offset="1" stop-color="#9bd475"/></linearGradient><linearGradient id="qL85" gradientUnits="userSpaceOnUse" x1="1445" y1="402.6" x2="930" y2="314.4"><stop offset="0" stop-color="#c3d463"/><stop offset="0.2" stop-color="#c3d463"/><stop offset="0.5" stop-color="#bfd464"/><stop offset="0.8" stop-color="#b4d466"/><stop offset="1" stop-color="#9cd474"/></linearGradient><linearGradient id="qL86" gradientUnits="userSpaceOnUse" x1="1450.8" y1="399.9" x2="935.8" y2="310.7"><stop offset="0" stop-color="#c3d463"/><stop offset="0.2" stop-color="#c4d363"/><stop offset="0.5" stop-color="#bfd464"/><stop offset="0.8" stop-color="#b5d466"/><stop offset="1" stop-color="#9cd474"/></linearGradient><linearGradient id="qL87" gradientUnits="userSpaceOnUse" x1="1456.6" y1="397.2" x2="941.6" y2="307.1"><stop offset="0" stop-color="#c3d463"/><stop offset="0.2" stop-color="#c4d363"/><stop offset="0.5" stop-color="#c0d464"/><stop offset="0.8" stop-color="#b5d466"/><stop offset="1" stop-color="#9dd474"/></linearGradient><linearGradient id="qL88" gradientUnits="userSpaceOnUse" x1="1462.3" y1="394.6" x2="947.4" y2="303.6"><stop offset="0" stop-color="#c3d463"/><stop offset="0.2" stop-color="#c4d363"/><stop offset="0.5" stop-color="#c0d464"/><stop offset="0.8" stop-color="#b5d466"/><stop offset="1" stop-color="#9dd473"/></linearGradient><linearGradient id="qL89" gradientUnits="userSpaceOnUse" x1="1468.1" y1="392.1" x2="953.1" y2="300.1"><stop offset="0" stop-color="#c3d463"/><stop offset="0.2" stop-color="#c4d363"/><stop offset="0.5" stop-color="#c0d463"/><stop offset="0.8" stop-color="#b6d466"/><stop offset="1" stop-color="#9ed473"/></linearGradient><linearGradient id="qL90" gradientUnits="userSpaceOnUse" x1="1473.9" y1="389.7" x2="958.9" y2="296.7"><stop offset="0" stop-color="#c3d463"/><stop offset="0.2" stop-color="#c4d363"/><stop offset="0.5" stop-color="#c1d463"/><stop offset="0.8" stop-color="#b6d466"/><stop offset="1" stop-color="#9ed472"/></linearGradient><linearGradient id="qL91" gradientUnits="userSpaceOnUse" x1="1479.7" y1="387.3" x2="964.6" y2="293.3"><stop offset="0" stop-color="#c4d363"/><stop offset="0.2" stop-color="#c4d362"/><stop offset="0.5" stop-color="#c1d463"/><stop offset="0.8" stop-color="#b6d466"/><stop offset="1" stop-color="#9fd472"/></linearGradient><linearGradient id="qL92" gradientUnits="userSpaceOnUse" x1="1485.4" y1="385" x2="970.4" y2="290"><stop offset="0" stop-color="#c4d363"/><stop offset="0.2" stop-color="#c4d362"/><stop offset="0.5" stop-color="#c1d463"/><stop offset="0.8" stop-color="#b7d466"/><stop offset="1" stop-color="#9fd472"/></linearGradient><linearGradient id="qL93" gradientUnits="userSpaceOnUse" x1="1491.2" y1="382.7" x2="976.2" y2="286.8"><stop offset="0" stop-color="#c4d363"/><stop offset="0.2" stop-color="#c4d362"/><stop offset="0.5" stop-color="#c2d463"/><stop offset="0.8" stop-color="#b7d466"/><stop offset="1" stop-color="#a0d472"/></linearGradient><linearGradient id="qL94" gradientUnits="userSpaceOnUse" x1="1497" y1="380.6" x2="981.9" y2="283.7"><stop offset="0" stop-color="#c4d363"/><stop offset="0.2" stop-color="#c4d362"/><stop offset="0.5" stop-color="#c2d463"/><stop offset="0.8" stop-color="#b7d465"/><stop offset="1" stop-color="#a0d471"/></linearGradient><linearGradient id="qL95" gradientUnits="userSpaceOnUse" x1="1502.7" y1="378.4" x2="987.7" y2="280.6"><stop offset="0" stop-color="#c4d363"/><stop offset="0.2" stop-color="#c4d362"/><stop offset="0.5" stop-color="#c2d463"/><stop offset="0.8" stop-color="#b7d465"/><stop offset="1" stop-color="#a1d471"/></linearGradient><linearGradient id="qL96" gradientUnits="userSpaceOnUse" x1="1508.5" y1="376.4" x2="993.5" y2="277.6"><stop offset="0" stop-color="#c4d363"/><stop offset="0.2" stop-color="#c4d362"/><stop offset="0.5" stop-color="#c2d463"/><stop offset="0.8" stop-color="#b8d465"/><stop offset="1" stop-color="#a1d471"/></linearGradient><linearGradient id="qL97" gradientUnits="userSpaceOnUse" x1="1514.2" y1="374.4" x2="999.2" y2="274.7"><stop offset="0" stop-color="#c4d363"/><stop offset="0.2" stop-color="#c4d362"/><stop offset="0.5" stop-color="#c3d463"/><stop offset="0.8" stop-color="#b8d465"/><stop offset="1" stop-color="#a2d471"/></linearGradient><linearGradient id="qL98" gradientUnits="userSpaceOnUse" x1="1520" y1="372.4" x2="1005" y2="271.8"><stop offset="0" stop-color="#c4d363"/><stop offset="0.2" stop-color="#c4d362"/><stop offset="0.5" stop-color="#c3d463"/><stop offset="0.8" stop-color="#b8d465"/><stop offset="1" stop-color="#a2d470"/></linearGradient><linearGradient id="qL99" gradientUnits="userSpaceOnUse" x1="1525.8" y1="370.5" x2="1010.8" y2="269"><stop offset="0" stop-color="#c4d363"/><stop offset="0.2" stop-color="#c4d362"/><stop offset="0.5" stop-color="#c3d463"/><stop offset="0.8" stop-color="#b8d465"/><stop offset="1" stop-color="#a2d470"/></linearGradient><linearGradient id="qL100" gradientUnits="userSpaceOnUse" x1="1531.6" y1="368.7" x2="1016.6" y2="266.3"><stop offset="0" stop-color="#c4d363"/><stop offset="0.2" stop-color="#c4d362"/><stop offset="0.5" stop-color="#c3d463"/><stop offset="0.8" stop-color="#b8d465"/><stop offset="1" stop-color="#a3d470"/></linearGradient><linearGradient id="qL101" gradientUnits="userSpaceOnUse" x1="1537.3" y1="367" x2="1022.3" y2="263.6"><stop offset="0" stop-color="#c4d363"/><stop offset="0.2" stop-color="#c4d362"/><stop offset="0.5" stop-color="#c3d463"/><stop offset="0.8" stop-color="#b9d465"/><stop offset="1" stop-color="#a3d470"/></linearGradient><linearGradient id="qL102" gradientUnits="userSpaceOnUse" x1="1543.1" y1="365.2" x2="1028.1" y2="261"><stop offset="0" stop-color="#c4d363"/><stop offset="0.2" stop-color="#c4d362"/><stop offset="0.5" stop-color="#c3d463"/><stop offset="0.8" stop-color="#b9d465"/><stop offset="1" stop-color="#a3d470"/></linearGradient><linearGradient id="qL103" gradientUnits="userSpaceOnUse" x1="1548.8" y1="363.6" x2="1033.8" y2="258.5"><stop offset="0" stop-color="#c4d363"/><stop offset="0.2" stop-color="#c4d362"/><stop offset="0.5" stop-color="#c3d463"/><stop offset="0.8" stop-color="#b9d465"/><stop offset="1" stop-color="#a3d46f"/></linearGradient><linearGradient id="qL104" gradientUnits="userSpaceOnUse" x1="1554.6" y1="362" x2="1039.6" y2="256.1"><stop offset="0" stop-color="#c4d363"/><stop offset="0.2" stop-color="#c4d362"/><stop offset="0.5" stop-color="#c3d463"/><stop offset="0.8" stop-color="#b9d465"/><stop offset="1" stop-color="#a4d46f"/></linearGradient><linearGradient id="qL105" gradientUnits="userSpaceOnUse" x1="1560.4" y1="360.4" x2="1045.4" y2="253.7"><stop offset="0" stop-color="#c4d363"/><stop offset="0.2" stop-color="#c4d362"/><stop offset="0.5" stop-color="#c3d463"/><stop offset="0.8" stop-color="#b9d465"/><stop offset="1" stop-color="#a4d46f"/></linearGradient><linearGradient id="qL106" gradientUnits="userSpaceOnUse" x1="1566.2" y1="358.9" x2="1051.2" y2="251.5"><stop offset="0" stop-color="#c4d363"/><stop offset="0.2" stop-color="#c4d362"/><stop offset="0.5" stop-color="#c3d463"/><stop offset="0.8" stop-color="#b9d465"/><stop offset="1" stop-color="#a4d46f"/></linearGradient><linearGradient id="qL107" gradientUnits="userSpaceOnUse" x1="1571.9" y1="357.4" x2="1056.9" y2="249.2"><stop offset="0" stop-color="#c4d363"/><stop offset="0.2" stop-color="#c4d362"/><stop offset="0.5" stop-color="#c3d463"/><stop offset="0.8" stop-color="#b9d465"/><stop offset="1" stop-color="#a4d46f"/></linearGradient><linearGradient id="qL108" gradientUnits="userSpaceOnUse" x1="1577.7" y1="356" x2="1062.7" y2="247.1"><stop offset="0" stop-color="#c4d363"/><stop offset="0.2" stop-color="#c4d362"/><stop offset="0.5" stop-color="#c3d463"/><stop offset="0.8" stop-color="#b9d465"/><stop offset="1" stop-color="#a4d46f"/></linearGradient><linearGradient id="qL109" gradientUnits="userSpaceOnUse" x1="1583.4" y1="354.7" x2="1068.4" y2="245"><stop offset="0" stop-color="#c4d363"/><stop offset="0.2" stop-color="#c4d362"/><stop offset="0.5" stop-color="#c3d463"/><stop offset="0.8" stop-color="#b9d465"/><stop offset="1" stop-color="#a4d46f"/></linearGradient><linearGradient id="qL110" gradientUnits="userSpaceOnUse" x1="1589.2" y1="353.4" x2="1074.2" y2="243"><stop offset="0" stop-color="#c4d363"/><stop offset="0.2" stop-color="#c4d362"/><stop offset="0.5" stop-color="#c3d463"/><stop offset="0.8" stop-color="#b9d465"/><stop offset="1" stop-color="#a5d46f"/></linearGradient><linearGradient id="qL111" gradientUnits="userSpaceOnUse" x1="1595" y1="352.1" x2="1080" y2="241.1"><stop offset="0" stop-color="#c4d363"/><stop offset="0.2" stop-color="#c4d362"/><stop offset="0.5" stop-color="#c3d463"/><stop offset="0.8" stop-color="#b9d465"/><stop offset="1" stop-color="#a5d46f"/></linearGradient><linearGradient id="qL112" gradientUnits="userSpaceOnUse" x1="1600.8" y1="350.9" x2="1085.8" y2="239.3"><stop offset="0" stop-color="#c4d363"/><stop offset="0.2" stop-color="#c4d362"/><stop offset="0.5" stop-color="#c3d463"/><stop offset="0.8" stop-color="#b9d465"/><stop offset="1" stop-color="#a5d46f"/></linearGradient><linearGradient id="qL113" gradientUnits="userSpaceOnUse" x1="1606.5" y1="349.7" x2="1091.5" y2="237.5"><stop offset="0" stop-color="#c4d363"/><stop offset="0.2" stop-color="#c4d362"/><stop offset="0.5" stop-color="#c3d463"/><stop offset="0.8" stop-color="#b9d465"/><stop offset="1" stop-color="#a5d46f"/></linearGradient><linearGradient id="qL114" gradientUnits="userSpaceOnUse" x1="1612.3" y1="348.5" x2="1097.3" y2="235.9"><stop offset="0" stop-color="#c3d463"/><stop offset="0.2" stop-color="#c4d362"/><stop offset="0.5" stop-color="#c3d463"/><stop offset="0.8" stop-color="#b9d465"/><stop offset="1" stop-color="#a5d46f"/></linearGradient><linearGradient id="qL115" gradientUnits="userSpaceOnUse" x1="1618" y1="347.5" x2="1103.1" y2="234.3"><stop offset="0" stop-color="#c3d463"/><stop offset="0.2" stop-color="#c4d362"/><stop offset="0.5" stop-color="#c3d463"/><stop offset="0.8" stop-color="#b9d465"/><stop offset="1" stop-color="#a5d46f"/></linearGradient><linearGradient id="qL116" gradientUnits="userSpaceOnUse" x1="1623.8" y1="346.4" x2="1108.8" y2="232.7"><stop offset="0" stop-color="#c3d463"/><stop offset="0.2" stop-color="#c4d362"/><stop offset="0.5" stop-color="#c3d463"/><stop offset="0.8" stop-color="#b9d465"/><stop offset="1" stop-color="#a5d46f"/></linearGradient><linearGradient id="qL117" gradientUnits="userSpaceOnUse" x1="1629.6" y1="345.4" x2="1114.6" y2="231.3"><stop offset="0" stop-color="#c3d463"/><stop offset="0.2" stop-color="#c4d362"/><stop offset="0.5" stop-color="#c3d463"/><stop offset="0.8" stop-color="#b9d465"/><stop offset="1" stop-color="#a5d46f"/></linearGradient><linearGradient id="qL118" gradientUnits="userSpaceOnUse" x1="1635.4" y1="344.4" x2="1120.3" y2="229.9"><stop offset="0" stop-color="#c3d463"/><stop offset="0.2" stop-color="#c4d362"/><stop offset="0.5" stop-color="#c3d463"/><stop offset="0.8" stop-color="#b9d465"/><stop offset="1" stop-color="#a4d46f"/></linearGradient><linearGradient id="qL119" gradientUnits="userSpaceOnUse" x1="1641.1" y1="343.5" x2="1126.1" y2="228.6"><stop offset="0" stop-color="#c3d463"/><stop offset="0.2" stop-color="#c4d362"/><stop offset="0.5" stop-color="#c3d463"/><stop offset="0.8" stop-color="#b9d465"/><stop offset="1" stop-color="#a4d46f"/></linearGradient><g id="qL"><path d="M951.7,1015.6L887.3,1007.6L822.9,992.5L758.5,972.2L694.2,948.6L629.8,923.5L565.4,898.7L501,876.1L436.5,857.5L443.2,849.7L507.6,867.3L571.9,889L636.3,912.8L700.6,937.4L765,960.7L829.3,980.6L893.7,995.4L958.1,1003.2Z" fill="url(#qL0)"/><path d="M957.4,1004.5L893.1,996.7L828.7,981.9L764.3,961.9L699.9,938.6L635.5,914L571.1,890.2L506.7,868.5L442.3,850.8L449,842.6L513.3,859.4L577.7,880.2L642,903.1L706.4,927.1L770.7,950.1L835.1,969.8L899.5,984.3L963.9,992Z" fill="url(#qL1)"/><path d="M963.2,993.3L898.8,985.6L834.5,971L770.1,951.3L705.7,928.3L641.3,904.3L576.9,881.3L512.5,860.5L448.1,843.7L454.7,835.2L519.1,851.2L583.4,871.1L647.8,893.1L712.1,916.6L776.5,939.3L840.9,958.7L905.2,973.2L969.6,980.8Z" fill="url(#qL2)"/><path d="M969,982.1L904.6,974.4L840.2,960L775.8,940.5L711.5,917.8L647.1,894.3L582.7,872.3L518.3,852.3L453.9,836.3L460.5,827.5L524.8,842.7L589.2,861.8L653.5,882.9L717.9,905.9L782.3,928.3L846.6,947.6L911,961.9L975.4,969.6Z" fill="url(#qL3)"/><path d="M974.7,970.9L910.4,963.2L846,948.8L781.6,929.6L717.2,907.1L652.9,884.1L588.5,863L524.1,843.9L459.7,828.6L466.2,819.6L530.6,834L594.9,852.3L659.3,872.5L723.7,895L788,917.2L852.4,936.3L916.8,950.6L981.2,958.5Z" fill="url(#qL4)"/><path d="M980.5,959.7L916.1,951.9L851.8,937.6L787.4,918.5L723,896.3L658.6,873.8L594.2,853.5L529.8,835.2L465.4,820.7L472,811.4L536.4,825.2L600.7,842.6L665.1,862L729.4,884L793.8,906L858.2,925L922.5,939.3L986.9,947.3Z" fill="url(#qL5)"/><path d="M986.3,948.5L921.9,940.5L857.5,926.2L793.2,907.3L728.8,885.3L664.4,863.2L600,843.8L535.6,826.4L471.2,812.5L477.8,803L542.1,816.2L606.5,832.8L670.8,851.4L735.2,872.9L799.6,894.7L863.9,913.6L928.3,927.9L992.7,936.1Z" fill="url(#qL6)"/><path d="M992,937.4L927.7,929.2L863.3,914.8L798.9,896L734.5,874.2L670.2,852.6L605.8,834L541.4,817.3L477,804.2L483.5,794.5L547.9,807L612.2,822.9L676.6,840.7L741,861.8L805.3,883.4L869.7,902.1L934.1,916.5L998.5,925Z" fill="url(#qL7)"/><path d="M997.8,926.2L933.4,917.8L869.1,903.4L804.7,884.6L740.3,863L675.9,841.9L611.5,824.1L547.1,808.2L482.7,795.7L489.3,785.9L553.6,797.7L618,812.9L682.4,829.9L746.7,850.6L811.1,872L875.5,890.7L939.8,905.2L1004.2,913.9Z" fill="url(#qL8)"/><path d="M1003.6,915.1L939.2,906.4L874.8,891.9L810.5,873.2L746.1,851.8L681.7,831.1L617.3,814.1L552.9,798.9L488.5,787L495.1,777.1L559.4,788.4L623.8,802.9L688.1,819.1L752.5,839.3L816.9,860.6L881.2,879.2L945.6,893.8L1010,902.8Z" fill="url(#qL9)"/><path d="M1009.3,904.1L945,895L880.6,880.5L816.2,861.8L751.8,840.6L687.5,820.3L623.1,804.1L558.7,789.6L494.3,778.3L500.8,768.3L565.2,779L629.5,792.8L693.9,808.2L758.3,828.1L822.6,849.2L887,867.8L951.4,882.5L1015.8,891.8Z" fill="url(#qL10)"/><path d="M1015.1,893.1L950.7,883.7L886.4,869.1L822,850.5L757.6,829.4L693.2,809.5L628.8,794L564.4,780.2L500.1,769.5L506.6,759.4L570.9,769.6L635.3,782.7L699.7,797.4L764,816.9L828.4,837.9L892.8,856.4L957.1,871.2L1021.5,880.9Z" fill="url(#qL11)"/><path d="M1020.9,882.1L956.5,872.4L892.1,857.7L827.8,839.1L763.4,818.2L699,798.7L634.6,783.9L570.2,770.8L505.8,760.6L512.3,750.6L576.7,760.2L641.1,772.6L705.4,786.6L769.8,805.8L834.2,826.6L898.5,845.1L962.9,860L1027.3,870Z" fill="url(#qL12)"/><path d="M1026.6,871.2L962.3,861.2L897.9,846.3L833.5,827.8L769.1,807L704.8,787.9L640.4,773.9L576,761.4L511.6,751.7L518.1,741.7L582.5,750.8L646.8,762.6L711.2,775.9L775.6,794.6L839.9,815.3L904.3,833.8L968.7,848.8L1033.1,859.1Z" fill="url(#qL13)"/><path d="M1032.4,860.4L968,850.1L903.7,835.1L839.3,816.6L774.9,795.9L710.5,777.1L646.1,763.8L581.7,752L517.4,742.8L523.9,732.8L588.2,741.4L652.6,752.6L717,765.2L781.3,783.6L845.7,804.2L910.1,822.6L974.4,837.7L1038.8,848.4Z" fill="url(#qL14)"/><path d="M1038.2,849.6L973.8,839L909.4,823.9L845.1,805.4L780.7,784.8L716.3,766.4L651.9,753.8L587.5,742.6L523.1,734L529.6,724L594,732.1L658.4,742.7L722.7,754.6L787.1,772.7L851.5,793.1L915.8,811.5L980.2,826.8L1044.6,837.7Z" fill="url(#qL15)"/><path d="M1043.9,838.9L979.6,828L915.2,812.8L850.8,794.3L786.4,773.9L722.1,755.8L657.7,743.9L593.3,733.3L528.9,725.1L535.4,715.2L599.8,722.8L664.1,732.8L728.5,744.1L792.9,761.8L857.2,782.1L921.6,800.5L986,815.9L1050.4,827.1Z" fill="url(#qL16)"/><path d="M1049.7,828.3L985.3,817.1L921,801.8L856.6,783.4L792.2,763L727.8,745.3L663.4,734L599,724L534.6,716.4L541.2,706.5L605.5,713.7L669.9,723.1L734.3,733.7L798.6,751.1L863,771.3L927.4,789.6L991.8,805.1L1056.1,816.6Z" fill="url(#qL17)"/><path d="M1055.5,817.8L991.1,806.3L926.7,790.9L862.3,772.5L798,752.3L733.6,734.9L669.2,724.3L604.8,714.8L540.4,707.7L547,697.9L611.3,704.6L675.7,713.4L740,723.4L804.4,740.5L868.8,760.5L933.1,778.8L997.5,794.4L1061.9,806.2Z" fill="url(#qL18)"/><path d="M1061.2,807.4L996.9,795.6L932.5,780.1L868.1,761.8L803.7,741.7L739.3,724.7L675,714.6L610.6,705.8L546.2,699.1L552.7,689.5L617.1,695.7L681.4,703.9L745.8,713.3L810.2,730L874.5,749.9L938.9,768.2L1003.3,783.8L1067.7,795.9Z" fill="url(#qL19)"/><path d="M1067,797.1L1002.6,785.1L938.2,769.4L873.9,751.2L809.5,731.2L745.1,714.5L680.7,705.1L616.3,696.8L551.9,690.6L558.5,681.1L622.9,686.9L687.2,694.5L751.6,703.3L815.9,719.7L880.3,739.5L944.7,757.7L1009.1,773.4L1073.4,785.7Z" fill="url(#qL20)"/><path d="M1072.8,786.9L1008.4,774.6L944,758.9L879.6,740.7L815.3,720.9L750.9,704.5L686.5,695.7L622.1,688L557.7,682.3L564.3,672.9L628.6,678.2L693,685.3L757.3,693.4L821.7,709.5L886.1,729.2L950.5,747.3L1014.8,763.1L1079.2,775.6Z" fill="url(#qL21)"/><path d="M1078.5,776.8L1014.1,764.3L949.8,748.5L885.4,730.4L821,710.7L756.6,694.6L692.2,686.5L627.9,679.4L563.5,674.1L570,664.9L634.4,669.6L698.8,676.2L763.1,683.7L827.5,699.4L891.9,719L956.2,737.1L1020.6,752.9L1085,765.7Z" fill="url(#qL22)"/><path d="M1084.3,766.9L1019.9,754.1L955.5,738.3L891.2,720.2L826.8,700.6L762.4,684.9L698,677.4L633.6,670.8L569.2,666L575.8,656.9L640.2,661.2L704.5,667.2L768.9,674.1L833.3,689.5L897.6,708.9L962,727L1026.4,742.9L1090.8,755.8Z" fill="url(#qL23)"/><path d="M1090,757L1025.7,744.1L961.3,728.2L896.9,710.2L832.5,690.7L768.2,675.3L703.8,668.4L639.4,662.4L575,658L581.6,649L645.9,652.9L710.3,658.4L774.7,664.7L839,679.7L903.4,699.1L967.8,717L1032.1,733L1096.5,746.1Z" fill="url(#qL24)"/><path d="M1095.8,747.3L1031.4,734.2L967.1,718.3L902.7,700.3L838.3,681L773.9,665.9L709.5,659.5L645.1,654L580.7,650.2L587.4,641.3L651.7,644.7L716.1,649.6L780.4,655.4L844.8,670.1L909.2,689.3L973.5,707.2L1037.9,723.2L1102.3,736.6Z" fill="url(#qL25)"/><path d="M1101.6,737.8L1037.2,724.4L972.8,708.4L908.4,690.5L844.1,671.3L779.7,656.6L715.3,650.8L650.9,645.8L586.5,642.4L593.1,633.7L657.5,636.6L721.8,641L786.2,646.2L850.6,660.7L914.9,679.7L979.3,697.6L1043.7,713.6L1108.1,727.1Z" fill="url(#qL26)"/><path d="M1107.3,728.3L1043,714.8L978.6,698.8L914.2,680.9L849.8,661.9L785.4,647.4L721.1,642.2L656.7,637.8L592.3,634.8L598.9,626.2L663.3,628.7L727.6,632.6L792,637.2L856.3,651.4L920.7,670.3L985.1,688.1L1049.5,704.1L1113.8,717.8Z" fill="url(#qL27)"/><path d="M1113.1,719L1048.7,705.3L984.3,689.3L920,671.5L855.6,652.5L791.2,638.4L726.8,633.7L662.4,629.8L598,627.3L604.7,618.7L669,620.9L733.4,624.2L797.7,628.3L862.1,642.2L926.5,661L990.9,678.7L1055.2,694.8L1119.6,708.6Z" fill="url(#qL28)"/><path d="M1118.9,709.8L1054.5,696L990.1,679.9L925.7,662.2L861.4,643.4L797,629.5L732.6,625.4L668.2,622L603.8,619.8L610.4,611.4L674.8,613.1L739.2,616L803.5,619.6L867.9,633.2L932.2,651.9L996.6,669.5L1061,685.6L1125.4,699.6Z" fill="url(#qL29)"/><path d="M1124.6,700.8L1060.2,686.8L995.9,670.7L931.5,653L867.1,634.4L802.7,620.8L738.3,617.2L674,614.2L609.6,612.5L616.2,604.2L680.6,605.5L744.9,608L809.3,611L873.6,624.3L938,642.9L1002.4,660.5L1066.8,676.6L1131.1,690.8Z" fill="url(#qL30)"/><path d="M1130.4,691.9L1066,677.8L1001.6,661.7L937.3,644.1L872.9,625.5L808.5,612.2L744.1,609.1L679.7,606.6L615.3,605.3L622,597.1L686.3,598L750.7,600L815.1,602.6L879.4,615.6L943.8,634.1L1008.2,651.6L1072.5,667.8L1136.9,682Z" fill="url(#qL31)"/><path d="M1136.1,683.2L1071.8,668.9L1007.4,652.8L943,635.2L878.6,616.8L814.3,603.7L749.9,601.1L685.5,599.1L621.1,598.2L627.7,590.1L692.1,590.6L756.5,592.2L820.8,594.3L885.2,607.1L949.6,625.4L1013.9,642.9L1078.3,659.1L1142.7,673.5Z" fill="url(#qL32)"/><path d="M1141.9,674.6L1077.5,660.2L1013.2,644.1L948.8,626.6L884.4,608.2L820,595.4L755.6,593.3L691.2,591.7L626.9,591.2L633.5,583.2L697.9,583.4L762.2,584.5L826.6,586.2L891,598.7L955.3,616.9L1019.7,634.3L1084.1,650.6L1148.5,665.1Z" fill="url(#qL33)"/><path d="M1147.7,666.2L1083.3,651.7L1018.9,635.5L954.5,618.1L890.2,599.8L825.8,587.3L761.4,585.6L697,584.5L632.6,584.3L639.3,576.4L703.6,576.2L768,576.9L832.4,578.2L896.7,590.4L961.1,608.6L1025.5,626L1089.9,642.2L1154.2,656.8Z" fill="url(#qL34)"/><path d="M1153.4,658L1089.1,643.3L1024.7,627.1L960.3,609.7L895.9,591.6L831.5,579.3L767.2,578L702.8,577.3L638.4,577.4L645.1,569.6L709.4,569.1L773.8,569.5L838.1,570.3L902.5,582.4L966.9,600.4L1031.3,617.8L1095.6,634L1160,648.8Z" fill="url(#qL35)"/><path d="M1159.2,649.9L1094.8,635.1L1030.4,618.9L966.1,601.6L901.7,583.5L837.3,571.4L772.9,570.6L708.5,570.2L644.1,570.7L650.8,563L715.2,562.2L779.5,562.2L843.9,562.6L908.3,574.5L972.7,592.4L1037,609.7L1101.4,626L1165.8,640.9Z" fill="url(#qL36)"/><path d="M1164.9,642L1100.6,627.1L1036.2,610.8L971.8,593.5L907.4,575.6L843.1,563.7L778.7,563.3L714.3,563.3L649.9,564L656.6,556.4L721,555.3L785.3,555L849.7,555.1L914.1,566.7L978.4,584.6L1042.8,601.8L1107.2,618.1L1171.6,633.1Z" fill="url(#qL37)"/><path d="M1170.7,634.3L1106.3,619.3L1042,603L977.6,585.7L913.2,567.8L848.8,556.2L784.4,556.1L720.1,556.4L655.7,557.5L662.4,549.9L726.7,548.6L791.1,547.9L855.5,547.7L919.8,559.1L984.2,576.9L1048.6,594.1L1112.9,610.5L1177.3,625.6Z" fill="url(#qL38)"/><path d="M1176.5,626.7L1112.1,611.6L1047.7,595.3L983.3,578L919,560.2L854.6,548.8L790.2,549L725.8,549.6L661.4,551L668.1,543.5L732.5,541.9L796.9,541L861.2,540.4L925.6,551.7L990,569.4L1054.3,586.6L1118.7,603L1183.1,618.2Z" fill="url(#qL39)"/><path d="M1182.2,619.3L1117.9,604.1L1053.5,587.7L989.1,570.5L924.7,552.8L860.4,541.5L796,542.1L731.6,543L667.2,544.6L673.9,537.2L738.3,535.4L802.6,534.2L867,533.3L931.4,544.4L995.7,562.1L1060.1,579.2L1124.5,595.6L1188.9,611Z" fill="url(#qL40)"/><path d="M1188,612.1L1123.6,596.7L1059.2,580.3L994.9,563.2L930.5,545.5L866.1,534.4L801.7,535.2L737.3,536.4L673,538.2L679.7,530.9L744,528.9L808.4,527.4L872.8,526.3L937.1,537.3L1001.5,554.9L1065.9,572L1130.3,588.5L1194.6,603.9Z" fill="url(#qL41)"/><path d="M1193.8,605L1129.4,589.5L1065,573.1L1000.6,556L936.3,538.4L871.9,527.4L807.5,528.5L743.1,530L678.7,532L685.4,524.8L749.8,522.5L814.2,520.8L878.5,519.4L942.9,530.3L1007.3,547.8L1071.7,564.9L1136,581.4L1200.4,597Z" fill="url(#qL42)"/><path d="M1199.5,598L1135.1,582.5L1070.8,566L1006.4,548.9L942,531.3L877.6,520.5L813.3,521.9L748.9,523.6L684.5,525.8L691.2,518.6L755.6,516.2L819.9,514.3L884.3,512.6L948.7,523.3L1013.1,540.8L1077.4,558L1141.8,574.5L1206.2,590.2Z" fill="url(#qL43)"/><path d="M1205.3,591.3L1140.9,575.6L1076.5,559L1012.2,541.9L947.8,524.4L883.4,513.7L819,515.3L754.6,517.2L690.3,519.7L697,512.6L761.3,509.9L825.7,507.8L890.1,505.9L954.5,516.5L1018.8,533.9L1083.2,551.1L1147.6,567.7L1212,583.6Z" fill="url(#qL44)"/><path d="M1211,584.6L1146.7,568.7L1082.3,552.1L1017.9,535L953.5,517.5L889.2,506.9L824.8,508.8L760.4,511L696,513.6L702.8,506.6L767.1,503.7L831.5,501.3L895.9,499.2L960.2,509.7L1024.6,527.1L1089,544.2L1153.3,561L1217.7,577.1Z" fill="url(#qL45)"/><path d="M1216.8,578.1L1152.4,562L1088.1,545.3L1023.7,528.2L959.3,510.8L894.9,500.3L830.5,502.4L766.2,504.8L701.8,507.6L708.5,500.7L772.9,497.6L837.3,495L901.6,492.7L966,503L1030.4,520.3L1094.7,537.5L1159.1,554.4L1223.5,570.7Z" fill="url(#qL46)"/><path d="M1222.6,571.7L1158.2,555.4L1093.8,538.6L1029.5,521.4L965.1,504.1L900.7,493.7L836.3,496L771.9,498.6L707.5,501.7L714.3,494.8L778.7,491.5L843,488.7L907.4,486.2L971.8,496.4L1036.1,513.7L1100.5,530.9L1164.9,547.9L1229.3,564.5Z" fill="url(#qL47)"/><path d="M1228.3,565.5L1164,548.9L1099.6,531.9L1035.2,514.7L970.8,497.4L906.5,487.2L842.1,489.7L777.7,492.5L713.3,495.8L720.1,489L784.4,485.5L848.8,482.4L913.2,479.7L977.5,489.8L1041.9,507.1L1106.3,524.3L1170.7,541.4L1235,558.4Z" fill="url(#qL48)"/><path d="M1234.1,559.4L1169.7,542.5L1105.4,525.4L1041,508.1L976.6,490.9L912.2,480.8L847.8,483.4L783.5,486.5L719.1,490L725.8,483.2L790.2,479.5L854.6,476.2L918.9,473.4L983.3,483.3L1047.7,500.5L1112,517.8L1176.4,535.1L1240.8,552.4Z" fill="url(#qL49)"/><path d="M1239.8,553.4L1175.5,536.2L1111.1,518.9L1046.7,501.6L982.4,484.4L918,474.4L853.6,477.2L789.2,480.5L724.8,484.2L731.6,477.5L796,473.5L860.3,470.1L924.7,467.1L989.1,476.9L1053.4,494L1117.8,511.4L1182.2,528.9L1246.6,546.5Z" fill="url(#qL50)"/><path d="M1245.6,547.5L1181.2,529.9L1116.9,512.4L1052.5,495.1L988.1,477.9L923.8,468.1L859.4,471.1L795,474.5L730.6,478.5L737.4,471.9L801.7,467.6L866.1,464L930.5,460.8L994.8,470.5L1059.2,487.6L1123.6,505L1188,522.7L1252.4,540.7Z" fill="url(#qL51)"/><path d="M1251.4,541.7L1187,523.8L1122.6,506.1L1058.3,488.6L993.9,471.6L929.5,461.9L865.1,465L800.8,468.6L736.4,472.8L743.1,466.2L807.5,461.8L871.9,457.9L936.2,454.6L1000.6,464.2L1065,481.2L1129.4,498.7L1193.7,516.7L1258.1,535.1Z" fill="url(#qL52)"/><path d="M1257.1,536L1192.8,517.7L1128.4,499.8L1064,482.3L999.7,465.2L935.3,455.7L870.9,458.9L806.5,462.8L742.1,467.2L748.9,460.7L813.3,455.9L877.6,451.9L942,448.5L1006.4,458L1070.7,474.9L1135.1,492.5L1199.5,510.7L1263.9,529.5Z" fill="url(#qL53)"/><path d="M1262.9,530.5L1198.5,511.7L1134.2,493.5L1069.8,475.9L1005.4,459L941,449.5L876.7,452.9L812.3,456.9L747.9,461.7L754.7,455.2L819,450.2L883.4,445.9L947.8,442.4L1012.1,451.8L1076.5,468.7L1140.9,486.3L1205.3,504.8L1269.7,524.1Z" fill="url(#qL54)"/><path d="M1268.7,525L1204.3,505.8L1139.9,487.4L1075.6,469.7L1011.2,452.8L946.8,443.4L882.4,446.9L818,451.2L753.7,456.1L760.4,449.7L824.8,444.5L889.2,440L953.5,436.4L1017.9,445.6L1082.3,462.5L1146.7,480.2L1211.1,499L1275.4,518.7Z" fill="url(#qL55)"/><path d="M1274.4,519.7L1210.1,500L1145.7,481.2L1081.3,463.5L1017,446.6L952.6,437.4L888.2,441L823.8,445.5L759.4,450.7L766.2,444.3L830.6,438.8L894.9,434.2L959.3,430.4L1023.7,439.5L1088.1,456.3L1152.4,474.2L1216.8,493.2L1281.2,513.5Z" fill="url(#qL56)"/><path d="M1280.2,514.4L1215.8,494.2L1151.5,475.2L1087.1,457.3L1022.7,440.6L958.3,431.5L894,435.2L829.6,439.8L765.2,445.3L772,439L836.3,433.2L900.7,428.3L965.1,424.5L1029.5,433.5L1093.8,450.2L1158.2,468.2L1222.6,487.6L1287,508.3Z" fill="url(#qL57)"/><path d="M1285.9,509.2L1221.6,488.5L1157.2,469.2L1092.9,451.3L1028.5,434.5L964.1,425.5L899.7,429.3L835.3,434.2L771,439.9L777.7,433.7L842.1,427.6L906.5,422.6L970.9,418.7L1035.2,427.6L1099.6,444.2L1164,462.3L1228.4,482L1292.8,503.3Z" fill="url(#qL58)"/><path d="M1291.7,504.2L1227.4,483L1163,463.3L1098.6,445.2L1034.2,428.6L969.9,419.7L905.5,423.6L841.1,428.6L776.7,434.6L783.5,428.4L847.9,422.1L912.2,416.9L976.6,412.9L1041,421.7L1105.4,438.3L1169.7,456.5L1234.1,476.5L1298.5,498.3Z" fill="url(#qL59)"/><path d="M1297.5,499.2L1233.1,477.4L1168.8,457.5L1104.4,439.3L1040,422.7L975.6,413.9L911.2,417.9L846.9,423.1L782.5,429.4L789.3,423.2L853.6,416.6L918,411.2L982.4,407.2L1046.8,415.9L1111.1,432.4L1175.5,450.8L1239.9,471.1L1304.3,493.5Z" fill="url(#qL60)"/><path d="M1303.2,494.4L1238.9,472L1174.5,451.7L1110.1,433.4L1045.8,416.8L981.4,408.2L917,412.2L852.6,417.6L788.2,424.2L795.1,418.1L859.4,411.2L923.8,405.7L988.2,401.6L1052.5,410.1L1116.9,426.6L1181.3,445.1L1245.7,465.7L1310.1,488.7Z" fill="url(#qL61)"/><path d="M1309,489.6L1244.6,466.7L1180.3,446.1L1115.9,427.6L1051.5,411.1L987.2,402.6L922.8,406.6L858.4,412.2L794,419L800.8,413L865.2,405.9L929.6,400.1L993.9,396L1058.3,404.4L1122.7,420.8L1187.1,439.5L1251.4,460.5L1315.8,484Z" fill="url(#qL62)"/><path d="M1314.8,484.9L1250.4,461.4L1186,440.4L1121.7,421.8L1057.3,405.4L992.9,397L928.5,401.1L864.2,406.8L799.8,413.9L806.6,408L871,400.6L935.3,394.7L999.7,390.5L1064.1,398.8L1128.4,415.2L1192.8,433.9L1257.2,455.3L1321.6,479.5Z" fill="url(#qL63)"/><path d="M1320.5,480.3L1256.2,456.2L1191.8,434.9L1127.4,416.1L1063.1,399.7L998.7,391.4L934.3,395.6L869.9,401.5L805.5,408.9L812.4,403L876.7,395.3L941.1,389.2L1005.5,385L1069.8,393.2L1134.2,409.5L1198.6,428.5L1263,450.2L1327.4,475Z" fill="url(#qL64)"/><path d="M1326.3,475.9L1261.9,451.1L1197.6,429.4L1133.2,410.5L1068.8,394.2L1004.4,386L940.1,390.2L875.7,396.3L811.3,403.9L818.1,398.1L882.5,390.1L946.9,383.9L1011.2,379.6L1075.6,387.7L1140,404L1204.4,423.1L1268.8,445.2L1333.2,470.6Z" fill="url(#qL65)"/><path d="M1332,471.5L1267.7,446.1L1203.3,424L1139,405L1074.6,388.7L1010.2,380.6L945.8,384.8L881.5,391.1L817.1,399L823.9,393.2L888.3,385L952.6,378.6L1017,374.3L1081.4,382.3L1145.7,398.5L1210.1,417.8L1274.5,440.3L1338.9,466.3Z" fill="url(#qL66)"/><path d="M1337.8,467.2L1273.5,441.2L1209.1,418.7L1144.7,399.5L1080.4,383.3L1016,375.3L951.6,379.5L887.2,385.9L822.8,394.1L829.7,388.4L894,379.9L958.4,373.4L1022.8,369.1L1087.1,377L1151.5,393.1L1215.9,412.5L1280.3,435.4L1344.7,462.2Z" fill="url(#qL67)"/><path d="M1343.6,463L1279.2,436.3L1214.9,413.5L1150.5,394.1L1086.1,377.9L1021.7,370L957.4,374.3L893,380.8L828.6,389.3L835.4,383.7L899.8,374.9L964.2,368.2L1028.5,363.9L1092.9,371.7L1157.3,387.8L1221.7,407.4L1286.1,430.7L1350.5,458Z" fill="url(#qL68)"/><path d="M1349.3,458.9L1285,431.5L1220.6,408.3L1156.3,388.8L1091.9,372.6L1027.5,364.8L963.1,369.1L898.7,375.8L834.4,384.6L841.2,379L905.6,370L969.9,363.1L1034.3,358.8L1098.7,366.5L1163.1,382.6L1227.4,402.3L1291.8,426L1356.2,454Z" fill="url(#qL69)"/><path d="M1355.1,454.8L1290.7,426.9L1226.4,403.2L1162,383.5L1097.6,367.4L1033.3,359.7L968.9,364L904.5,370.9L840.1,379.9L847,374.4L911.3,365.1L975.7,358.1L1040.1,353.8L1104.5,361.4L1168.8,377.4L1233.2,397.3L1297.6,421.4L1362,450.1Z" fill="url(#qL70)"/><path d="M1360.9,450.9L1296.5,422.2L1232.2,398.2L1167.8,378.3L1103.4,362.3L1039,354.7L974.7,359L910.3,366L845.9,375.2L852.7,369.8L917.1,360.2L981.5,353.1L1045.9,348.8L1110.2,356.4L1174.6,372.3L1239,392.4L1303.4,416.9L1367.8,446.2Z" fill="url(#qL71)"/><path d="M1366.6,447L1302.3,417.7L1237.9,393.3L1173.5,373.3L1109.2,357.3L1044.8,349.7L980.4,354L916,361.1L851.6,370.6L858.5,365.3L922.9,355.5L987.3,348.2L1051.6,344L1116,351.4L1180.4,367.3L1244.8,387.5L1309.1,412.4L1373.6,442.5Z" fill="url(#qL72)"/><path d="M1372.4,443.2L1308,413.3L1243.7,388.4L1179.3,368.2L1114.9,352.3L1050.6,344.9L986.2,349.1L921.8,356.4L857.4,366.1L864.3,360.8L928.7,350.8L993,343.4L1057.4,339.2L1121.8,346.5L1186.1,362.4L1250.5,382.8L1314.9,408.1L1379.3,438.8Z" fill="url(#qL73)"/><path d="M1378.1,439.6L1313.8,408.9L1249.4,383.7L1185.1,363.3L1120.7,347.4L1056.3,340.1L991.9,344.3L927.6,351.7L863.2,361.7L870.1,356.4L934.4,346.2L998.8,338.7L1063.2,334.4L1127.5,341.7L1191.9,357.6L1256.3,378.1L1320.7,403.8L1385.1,435.2Z" fill="url(#qL74)"/><path d="M1383.9,436L1319.6,404.7L1255.2,379L1190.8,358.5L1126.5,342.6L1062.1,335.3L997.7,339.6L933.3,347L868.9,357.3L875.8,352.1L940.2,341.6L1004.6,334L1068.9,329.8L1133.3,337L1197.7,352.8L1262.1,373.5L1326.5,399.7L1390.9,431.7Z" fill="url(#qL75)"/><path d="M1389.7,432.4L1325.3,400.5L1261,374.4L1196.6,353.7L1132.2,337.9L1067.8,330.7L1003.5,334.9L939.1,342.5L874.7,352.9L881.6,347.8L946,337.1L1010.3,329.4L1074.7,325.2L1139.1,332.3L1203.5,348.1L1267.8,369L1332.2,395.6L1396.6,428.3Z" fill="url(#qL76)"/><path d="M1395.4,429L1331.1,396.4L1266.7,369.9L1202.4,349L1138,333.2L1073.6,326.1L1009.2,330.3L944.9,337.9L880.5,348.6L887.4,343.6L951.7,332.7L1016.1,324.9L1080.5,320.7L1144.8,327.8L1209.2,343.5L1273.6,364.6L1338,391.6L1402.4,424.9Z" fill="url(#qL77)"/><path d="M1401.2,425.6L1336.8,392.4L1272.5,365.5L1208.1,344.4L1143.7,328.7L1079.4,321.6L1015,325.7L950.6,333.5L886.2,344.4L893.1,339.4L957.5,328.3L1021.9,320.4L1086.2,316.3L1150.6,323.3L1215,339L1279.4,360.3L1343.8,387.6L1408.2,421.7Z" fill="url(#qL78)"/><path d="M1407,422.3L1342.6,388.4L1278.3,361.1L1213.9,339.9L1149.5,324.2L1085.1,317.2L1020.8,321.3L956.4,329.1L892,340.3L898.9,335.4L963.3,324L1027.6,316L1092,312L1156.4,318.9L1220.8,334.6L1285.1,356L1349.5,383.8L1413.9,418.5Z" fill="url(#qL79)"/><path d="M1412.7,419.1L1348.4,384.6L1284,356.9L1219.6,335.5L1155.3,319.8L1090.9,312.8L1026.5,316.9L962.1,324.8L897.8,336.2L904.7,331.3L969,319.8L1033.4,311.7L1097.8,307.8L1162.2,314.6L1226.5,330.3L1290.9,351.9L1355.3,380L1419.7,415.3Z" fill="url(#qL80)"/><path d="M1418.5,416L1354.1,380.8L1289.8,352.7L1225.4,331.1L1161,315.5L1096.7,308.6L1032.3,312.6L967.9,320.6L903.5,332.1L910.4,327.4L974.8,315.6L1039.2,307.5L1103.6,303.6L1167.9,310.4L1232.3,326.1L1296.7,347.8L1361.1,376.4L1425.5,412.3Z" fill="url(#qL81)"/><path d="M1424.2,413L1359.9,377.1L1295.5,348.6L1231.2,326.9L1166.8,311.2L1102.4,304.4L1038,308.3L973.7,316.4L909.3,328.2L916.2,323.5L980.6,311.6L1045,303.3L1109.3,299.5L1173.7,306.3L1238.1,321.9L1302.5,343.9L1366.9,372.8L1431.3,409.3Z" fill="url(#qL82)"/><path d="M1430,410L1365.7,373.5L1301.3,344.6L1236.9,322.7L1172.6,307.1L1108.2,300.3L1043.8,304.2L979.4,312.4L915.1,324.3L922,319.6L986.3,307.5L1050.7,299.3L1115.1,295.5L1179.5,302.3L1243.8,317.9L1308.2,340L1372.6,369.3L1437,406.5Z" fill="url(#qL83)"/><path d="M1435.8,407.1L1371.4,370L1307.1,340.7L1242.7,318.7L1178.3,303.1L1113.9,296.3L1049.6,300.1L985.2,308.3L920.8,320.4L927.8,315.9L992.1,303.6L1056.5,295.3L1120.9,291.6L1185.2,298.3L1249.6,313.9L1314,336.2L1378.4,365.9L1442.8,403.6Z" fill="url(#qL84)"/><path d="M1441.5,404.2L1377.2,366.6L1312.8,336.9L1248.5,314.7L1184.1,299.1L1119.7,292.4L1055.3,296.1L991,304.4L926.6,316.6L933.5,312.2L997.9,299.8L1062.3,291.4L1126.6,287.8L1191,294.4L1255.4,310L1319.8,332.5L1384.2,362.5L1448.6,400.9Z" fill="url(#qL85)"/><path d="M1447.3,401.5L1382.9,363.2L1318.6,333.2L1254.2,310.8L1189.8,295.2L1125.5,288.5L1061.1,292.2L996.7,300.5L932.3,312.9L939.3,308.5L1003.7,296L1068,287.6L1132.4,284L1196.8,290.7L1261.2,306.2L1325.5,328.8L1389.9,359.3L1454.3,398.2Z" fill="url(#qL86)"/><path d="M1453.1,398.8L1388.7,359.9L1324.4,329.6L1260,307L1195.6,291.4L1131.2,284.8L1066.9,288.3L1002.5,296.7L938.1,309.3L945.1,304.9L1009.4,292.3L1073.8,283.8L1138.2,280.4L1202.6,287L1266.9,302.5L1331.3,325.3L1395.7,356.1L1460.1,395.6Z" fill="url(#qL87)"/><path d="M1458.8,396.2L1394.5,356.8L1330.1,326L1265.7,303.3L1201.4,287.7L1137,281.1L1072.6,284.6L1008.2,293L943.9,305.7L950.8,301.4L1015.2,288.6L1079.6,280.1L1144,276.8L1208.3,283.4L1272.7,298.9L1337.1,321.9L1401.5,353L1465.9,393.1Z" fill="url(#qL88)"/><path d="M1464.6,393.6L1400.2,353.7L1335.9,322.6L1271.5,299.7L1207.1,284.1L1142.8,277.5L1078.4,280.9L1014,289.4L949.6,302.2L956.6,298L1021,285.1L1085.3,276.6L1149.7,273.3L1214.1,279.9L1278.5,295.4L1342.9,318.5L1407.2,350L1471.6,390.6Z" fill="url(#qL89)"/><path d="M1470.4,391.1L1406,350.6L1341.6,319.2L1277.3,296.1L1212.9,280.6L1148.5,274L1084.2,277.3L1019.8,285.8L955.4,298.7L962.4,294.6L1026.7,281.6L1091.1,273.1L1155.5,269.9L1219.9,276.5L1284.2,292L1348.6,315.3L1413,347.1L1477.4,388.2Z" fill="url(#qL90)"/><path d="M1476.1,388.7L1411.8,347.7L1347.4,315.9L1283,292.7L1218.7,277.2L1154.3,270.6L1089.9,273.8L1025.5,282.3L961.2,295.3L968.1,291.3L1032.5,278.2L1096.9,269.7L1161.3,266.6L1225.6,273.1L1290,288.7L1354.4,312.1L1418.8,344.2L1483.2,385.9Z" fill="url(#qL91)"/><path d="M1481.9,386.4L1417.5,344.8L1353.2,312.8L1288.8,289.4L1224.4,273.8L1160,267.3L1095.7,270.4L1031.3,278.9L966.9,292L973.9,288.1L1038.3,274.8L1102.7,266.3L1167,263.3L1231.4,269.9L1295.8,285.4L1360.2,309L1424.6,341.4L1489,383.6Z" fill="url(#qL92)"/><path d="M1487.6,384.1L1423.3,342L1358.9,309.7L1294.6,286.1L1230.2,270.6L1165.8,264L1101.4,267L1037.1,275.5L972.7,288.7L979.7,284.9L1044.1,271.6L1108.4,263.1L1172.8,260.2L1237.2,266.7L1301.6,282.3L1365.9,306L1430.3,338.8L1494.7,381.4Z" fill="url(#qL93)"/><path d="M1493.4,381.9L1429.1,339.3L1364.7,306.6L1300.3,283L1235.9,267.4L1171.6,260.9L1107.2,263.8L1042.8,272.3L978.5,285.6L985.4,281.8L1049.8,268.4L1114.2,259.9L1178.6,257.1L1243,263.7L1307.3,279.2L1371.7,303.1L1436.1,336.1L1500.5,379.2Z" fill="url(#qL94)"/><path d="M1499.2,379.7L1434.8,336.7L1370.5,303.7L1306.1,279.9L1241.7,264.3L1177.3,257.8L1113,260.6L1048.6,269.1L984.2,282.4L991.2,278.8L1055.6,265.3L1120,256.8L1184.3,254.2L1248.7,260.7L1313.1,276.3L1377.5,300.3L1441.9,333.6L1506.3,377.2Z" fill="url(#qL95)"/><path d="M1504.9,377.6L1440.6,334.2L1376.2,300.9L1311.8,276.9L1247.5,261.4L1183.1,254.8L1118.7,257.5L1054.4,266L990,279.4L997,275.8L1061.4,262.3L1125.7,253.8L1190.1,251.3L1254.5,257.8L1318.9,273.4L1383.2,297.6L1447.6,331.2L1512,375.1Z" fill="url(#qL96)"/><path d="M1510.7,375.6L1446.3,331.7L1382,298.1L1317.6,274L1253.2,258.5L1188.9,251.9L1124.5,254.5L1060.1,262.9L995.7,276.4L1002.8,272.9L1067.1,259.4L1131.5,250.9L1195.9,248.5L1260.3,255L1324.6,270.6L1389,294.9L1453.4,328.8L1517.8,373.2Z" fill="url(#qL97)"/><path d="M1516.5,373.6L1452.1,329.3L1387.7,295.5L1323.4,271.2L1259,255.6L1194.6,249.1L1130.3,251.5L1065.9,260L1001.5,273.5L1008.5,270.1L1072.9,256.5L1137.3,248.1L1201.7,245.7L1266,252.3L1330.4,267.9L1394.8,292.4L1459.2,326.5L1523.6,371.3Z" fill="url(#qL98)"/><path d="M1522.2,371.7L1457.9,327L1393.5,292.9L1329.1,268.5L1264.8,252.9L1200.4,246.3L1136,248.7L1071.6,257.1L1007.3,270.7L1014.3,267.3L1078.7,253.7L1143,245.3L1207.4,243.1L1271.8,249.7L1336.2,265.4L1400.6,289.9L1464.9,324.3L1529.3,369.4Z" fill="url(#qL99)"/><path d="M1528,369.8L1463.6,324.8L1399.3,290.4L1334.9,265.9L1270.5,250.3L1206.2,243.7L1141.8,245.9L1077.4,254.3L1013,267.9L1020.1,264.6L1084.4,251L1148.8,242.7L1213.2,240.6L1277.6,247.2L1342,262.8L1406.3,287.5L1470.7,322.1L1535.1,367.6Z" fill="url(#qL100)"/><path d="M1533.8,368L1469.4,322.6L1405,288L1340.7,263.4L1276.3,247.8L1211.9,241.1L1147.5,243.3L1083.2,251.6L1018.8,265.2L1025.8,262L1090.2,248.4L1154.6,240.1L1219,238.1L1283.3,244.8L1347.7,260.4L1412.1,285.2L1476.5,320L1540.9,365.9Z" fill="url(#qL101)"/><path d="M1539.5,366.3L1475.2,320.5L1410.8,285.7L1346.4,261L1282.1,245.3L1217.7,238.6L1153.3,240.7L1088.9,249L1024.6,262.6L1031.6,259.5L1096,245.9L1160.4,237.6L1224.7,235.7L1289.1,242.4L1353.5,258.1L1417.9,283L1482.3,318L1546.6,364.2Z" fill="url(#qL102)"/><path d="M1545.3,364.6L1480.9,318.5L1416.6,283.5L1352.2,258.6L1287.8,242.9L1223.4,236.2L1159.1,238.2L1094.7,246.4L1030.3,260L1037.4,257L1101.8,243.4L1166.1,235.2L1230.5,233.4L1294.9,240.2L1359.3,255.9L1423.6,280.9L1488,316.1L1552.4,362.6Z" fill="url(#qL103)"/><path d="M1551.1,362.9L1486.7,316.5L1422.3,281.3L1358,256.4L1293.6,240.7L1229.2,233.9L1164.8,235.7L1100.5,243.9L1036.1,257.6L1043.1,254.6L1107.5,241L1171.9,232.9L1236.3,231.2L1300.7,238L1365,253.7L1429.4,278.8L1493.8,314.3L1558.2,361Z" fill="url(#qL104)"/><path d="M1556.8,361.4L1492.5,314.7L1428.1,279.3L1363.7,254.2L1299.3,238.5L1235,231.7L1170.6,233.4L1106.2,241.5L1041.9,255.2L1048.9,252.3L1113.3,238.7L1177.7,230.7L1242,229.1L1306.4,235.9L1370.8,251.7L1435.2,276.9L1499.6,312.5L1563.9,359.5Z" fill="url(#qL105)"/><path d="M1562.6,359.8L1498.2,312.9L1433.9,277.3L1369.5,252.1L1305.1,236.4L1240.7,229.6L1176.4,231.2L1112,239.2L1047.6,252.8L1054.7,250.1L1119.1,236.5L1183.4,228.5L1247.8,227L1312.2,233.9L1376.6,249.7L1440.9,275L1505.3,310.7L1569.7,358Z" fill="url(#qL106)"/><path d="M1568.4,358.3L1504,311.1L1439.6,275.4L1375.2,250.1L1310.9,234.3L1246.5,227.5L1182.1,229L1117.8,237L1053.4,250.6L1060.5,247.9L1124.8,234.4L1189.2,226.4L1253.6,225.1L1318,232L1382.3,247.8L1446.7,273.2L1511.1,309.1L1575.5,356.6Z" fill="url(#qL107)"/><path d="M1574.1,356.9L1509.8,309.5L1445.4,273.6L1381,248.2L1316.6,232.4L1252.3,225.5L1187.9,226.9L1123.5,234.9L1059.1,248.4L1066.2,245.8L1130.6,232.3L1195,224.4L1259.4,223.2L1323.7,230.1L1388.1,246L1452.5,271.4L1516.9,307.5L1581.2,355.2Z" fill="url(#qL108)"/><path d="M1579.9,355.5L1515.5,307.9L1451.1,271.8L1386.8,246.4L1322.4,230.5L1258,223.6L1193.7,224.9L1129.3,232.8L1064.9,246.3L1072,243.8L1136.4,230.3L1200.7,222.5L1265.1,221.4L1329.5,228.4L1393.9,244.3L1458.3,269.8L1522.6,306L1587,353.8Z" fill="url(#qL109)"/><path d="M1585.7,354.2L1521.3,306.4L1456.9,270.2L1392.5,244.7L1328.2,228.8L1263.8,221.8L1199.4,223L1135,230.8L1070.7,244.2L1077.8,241.8L1142.1,228.5L1206.5,220.7L1270.9,219.7L1335.3,226.7L1399.6,242.6L1464,268.2L1528.4,304.6L1592.8,352.6Z" fill="url(#qL110)"/><path d="M1591.4,352.9L1527,304.9L1462.7,268.6L1398.3,243L1333.9,227.1L1269.6,220.1L1205.2,221.1L1140.8,228.9L1076.4,242.3L1083.5,240L1147.9,226.6L1212.3,219L1276.7,218.1L1341,225.1L1405.4,241.1L1469.8,266.8L1534.2,303.2L1598.6,351.3Z" fill="url(#qL111)"/><path d="M1597.2,351.6L1532.8,303.5L1468.4,267.1L1404.1,241.4L1339.7,225.5L1275.3,218.4L1210.9,219.4L1146.6,227.1L1082.2,240.4L1089.3,238.2L1153.7,224.9L1218.1,217.4L1282.4,216.5L1346.8,223.6L1411.2,239.6L1475.6,265.4L1539.9,301.9L1604.3,350.1Z" fill="url(#qL112)"/><path d="M1602.9,350.4L1538.6,302.2L1474.2,265.7L1409.8,240L1345.5,224L1281.1,216.9L1216.7,217.7L1152.3,225.3L1088,238.6L1095.1,236.5L1159.4,223.3L1223.8,215.8L1288.2,215L1352.6,222.2L1417,238.2L1481.3,264L1545.7,300.6L1610.1,349Z" fill="url(#qL113)"/><path d="M1608.7,349.2L1544.3,300.9L1480,264.3L1415.6,238.5L1351.2,222.5L1286.8,215.4L1222.5,216.1L1158.1,223.7L1093.7,236.9L1100.8,234.8L1165.2,221.7L1229.6,214.3L1294,213.7L1358.3,220.9L1422.7,236.9L1487.1,262.8L1551.5,299.4L1615.9,347.9Z" fill="url(#qL114)"/><path d="M1614.5,348.1L1550.1,299.7L1485.7,263.1L1421.4,237.2L1357,221.2L1292.6,214L1228.2,214.7L1163.9,222.1L1099.5,235.2L1106.6,233.3L1171,220.2L1235.4,212.9L1299.7,212.3L1364.1,219.6L1428.5,235.7L1492.9,261.6L1557.2,298.3L1621.6,346.8Z" fill="url(#qL115)"/><path d="M1620.2,347L1555.9,298.5L1491.5,261.9L1427.1,236L1362.7,219.9L1298.4,212.6L1234,213.2L1169.6,220.6L1105.3,233.6L1112.4,231.8L1176.8,218.8L1241.1,211.6L1305.5,211.1L1369.9,218.4L1434.3,234.6L1498.6,260.5L1563,297.2L1627.4,345.8Z" fill="url(#qL116)"/><path d="M1626,346L1561.6,297.5L1497.3,260.7L1432.9,234.8L1368.5,218.7L1304.1,211.4L1239.8,211.9L1175.4,219.2L1111,232.2L1118.1,230.4L1182.5,217.5L1246.9,210.4L1311.3,210L1375.7,217.3L1440,233.5L1504.4,259.4L1568.8,296.2L1633.2,344.8Z" fill="url(#qL117)"/><path d="M1631.8,345L1567.4,296.4L1503,259.7L1438.7,233.7L1374.3,217.6L1309.9,210.2L1245.5,210.7L1181.2,217.8L1116.8,230.7L1123.9,229.1L1188.3,216.3L1252.7,209.2L1317,208.9L1381.4,216.3L1445.8,232.5L1510.2,258.5L1574.5,295.2L1638.9,343.8Z" fill="url(#qL118)"/><path d="M1637.5,344L1573.2,295.5L1508.8,258.7L1444.4,232.7L1380,216.6L1315.7,209.1L1251.3,209.5L1186.9,216.6L1122.5,229.4L1129.7,227.9L1194.1,215.1L1258.4,208.2L1322.8,207.9L1387.2,215.4L1451.6,231.6L1515.9,257.6L1580.3,294.4L1644.7,342.9Z" fill="url(#qL119)"/></g><linearGradient id="lL0" gradientUnits="userSpaceOnUse" x1="960.6" y1="998.2" x2="445.6" y2="846.4"><stop offset="0" stop-color="#061fc3"/><stop offset="0.2" stop-color="#0211c3"/><stop offset="0.5" stop-color="#0009c3"/><stop offset="0.8" stop-color="#0007c1"/><stop offset="1" stop-color="#0005bf"/></linearGradient><linearGradient id="lL3" gradientUnits="userSpaceOnUse" x1="978" y1="964.7" x2="462.9" y2="823.9"><stop offset="0" stop-color="#0a2bbf"/><stop offset="0.2" stop-color="#051bc3"/><stop offset="0.5" stop-color="#0313c3"/><stop offset="0.8" stop-color="#010bc3"/><stop offset="1" stop-color="#0006c0"/></linearGradient><linearGradient id="lL6" gradientUnits="userSpaceOnUse" x1="995.2" y1="931.2" x2="480.2" y2="799.2"><stop offset="0" stop-color="#0f3bb1"/><stop offset="0.2" stop-color="#0825c3"/><stop offset="0.5" stop-color="#051cc3"/><stop offset="0.8" stop-color="#0314c3"/><stop offset="1" stop-color="#0008c2"/></linearGradient><linearGradient id="lL9" gradientUnits="userSpaceOnUse" x1="1012.5" y1="898" x2="497.6" y2="773.2"><stop offset="0" stop-color="#154aa4"/><stop offset="0.2" stop-color="#0d34b7"/><stop offset="0.5" stop-color="#0826c3"/><stop offset="0.8" stop-color="#051cc3"/><stop offset="1" stop-color="#020fc3"/></linearGradient><linearGradient id="lL12" gradientUnits="userSpaceOnUse" x1="1029.8" y1="865.2" x2="514.9" y2="746.7"><stop offset="0" stop-color="#195696"/><stop offset="0.2" stop-color="#1344a9"/><stop offset="0.5" stop-color="#0e36b5"/><stop offset="0.8" stop-color="#0825c3"/><stop offset="1" stop-color="#0416c3"/></linearGradient><linearGradient id="lL15" gradientUnits="userSpaceOnUse" x1="1047.2" y1="833.1" x2="532.2" y2="720.2"><stop offset="0" stop-color="#1d6288"/><stop offset="0.2" stop-color="#17519b"/><stop offset="0.5" stop-color="#1346a8"/><stop offset="0.8" stop-color="#0c32b9"/><stop offset="1" stop-color="#061dc3"/></linearGradient><linearGradient id="lL18" gradientUnits="userSpaceOnUse" x1="1064.5" y1="801.8" x2="549.5" y2="694.4"><stop offset="0" stop-color="#21646f"/><stop offset="0.2" stop-color="#1b5d8e"/><stop offset="0.5" stop-color="#17529b"/><stop offset="0.8" stop-color="#1140ae"/><stop offset="1" stop-color="#0825c3"/></linearGradient><linearGradient id="lL21" gradientUnits="userSpaceOnUse" x1="1081.8" y1="771.4" x2="566.8" y2="669.6"><stop offset="0" stop-color="#256555"/><stop offset="0.2" stop-color="#1f647b"/><stop offset="0.5" stop-color="#1b5d8e"/><stop offset="0.8" stop-color="#154ba3"/><stop offset="1" stop-color="#0b2fbc"/></linearGradient><linearGradient id="lL24" gradientUnits="userSpaceOnUse" x1="1099.1" y1="742.1" x2="584.1" y2="645.8"><stop offset="0" stop-color="#29663c"/><stop offset="0.2" stop-color="#236560"/><stop offset="0.5" stop-color="#1f647d"/><stop offset="0.8" stop-color="#185598"/><stop offset="1" stop-color="#0f39b3"/></linearGradient><linearGradient id="lL27" gradientUnits="userSpaceOnUse" x1="1116.3" y1="714" x2="601.4" y2="623.1"><stop offset="0" stop-color="#2c6529"/><stop offset="0.2" stop-color="#276648"/><stop offset="0.5" stop-color="#236565"/><stop offset="0.8" stop-color="#1b5d8d"/><stop offset="1" stop-color="#1243ab"/></linearGradient><linearGradient id="lL30" gradientUnits="userSpaceOnUse" x1="1133.7" y1="687.1" x2="618.7" y2="601.3"><stop offset="0" stop-color="#306416"/><stop offset="0.2" stop-color="#2b6533"/><stop offset="0.5" stop-color="#26664e"/><stop offset="0.8" stop-color="#1e6481"/><stop offset="1" stop-color="#154ba2"/></linearGradient><linearGradient id="lL33" gradientUnits="userSpaceOnUse" x1="1151" y1="661.7" x2="636" y2="580.4"><stop offset="0" stop-color="#33630a"/><stop offset="0.2" stop-color="#2e6522"/><stop offset="0.5" stop-color="#29663b"/><stop offset="0.8" stop-color="#21646e"/><stop offset="1" stop-color="#17529a"/></linearGradient><linearGradient id="lL36" gradientUnits="userSpaceOnUse" x1="1168.2" y1="637.7" x2="653.3" y2="560.3"><stop offset="0" stop-color="#38600a"/><stop offset="0.2" stop-color="#306411"/><stop offset="0.5" stop-color="#2c652a"/><stop offset="0.8" stop-color="#24655c"/><stop offset="1" stop-color="#1a5893"/></linearGradient><linearGradient id="lL39" gradientUnits="userSpaceOnUse" x1="1185.6" y1="615.3" x2="670.6" y2="541"><stop offset="0" stop-color="#3d5e0b"/><stop offset="0.2" stop-color="#34620a"/><stop offset="0.5" stop-color="#2f641b"/><stop offset="0.8" stop-color="#27664c"/><stop offset="1" stop-color="#1c5f8c"/></linearGradient><linearGradient id="lL42" gradientUnits="userSpaceOnUse" x1="1202.8" y1="594.3" x2="687.9" y2="522.3"><stop offset="0" stop-color="#415b0b"/><stop offset="0.2" stop-color="#38600a"/><stop offset="0.5" stop-color="#31640d"/><stop offset="0.8" stop-color="#29663d"/><stop offset="1" stop-color="#1e6484"/></linearGradient><linearGradient id="lL45" gradientUnits="userSpaceOnUse" x1="1220.2" y1="574.5" x2="705.1" y2="504.2"><stop offset="0" stop-color="#44590b"/><stop offset="0.2" stop-color="#3c5e0a"/><stop offset="0.5" stop-color="#34620a"/><stop offset="0.8" stop-color="#2b6531"/><stop offset="1" stop-color="#206476"/></linearGradient><linearGradient id="lL48" gradientUnits="userSpaceOnUse" x1="1237.4" y1="556" x2="722.5" y2="486.7"><stop offset="0" stop-color="#47580b"/><stop offset="0.2" stop-color="#405c0b"/><stop offset="0.5" stop-color="#38600a"/><stop offset="0.8" stop-color="#2d6525"/><stop offset="1" stop-color="#226569"/></linearGradient><linearGradient id="lL51" gradientUnits="userSpaceOnUse" x1="1254.8" y1="538.5" x2="739.8" y2="469.6"><stop offset="0" stop-color="#48570b"/><stop offset="0.2" stop-color="#445a0b"/><stop offset="0.5" stop-color="#3c5e0a"/><stop offset="0.8" stop-color="#2f6419"/><stop offset="1" stop-color="#24655d"/></linearGradient><linearGradient id="lL54" gradientUnits="userSpaceOnUse" x1="1272.1" y1="522" x2="757.1" y2="453"><stop offset="0" stop-color="#49570b"/><stop offset="0.2" stop-color="#47580b"/><stop offset="0.5" stop-color="#3f5c0b"/><stop offset="0.8" stop-color="#31640e"/><stop offset="1" stop-color="#266551"/></linearGradient><linearGradient id="lL57" gradientUnits="userSpaceOnUse" x1="1289.3" y1="506.3" x2="774.4" y2="436.8"><stop offset="0" stop-color="#4a560b"/><stop offset="0.2" stop-color="#48580b"/><stop offset="0.5" stop-color="#435a0b"/><stop offset="0.8" stop-color="#33620a"/><stop offset="1" stop-color="#286645"/></linearGradient><linearGradient id="lL60" gradientUnits="userSpaceOnUse" x1="1306.7" y1="491.6" x2="791.7" y2="421.2"><stop offset="0" stop-color="#4b560b"/><stop offset="0.2" stop-color="#49570b"/><stop offset="0.5" stop-color="#46590b"/><stop offset="0.8" stop-color="#37610a"/><stop offset="1" stop-color="#29663b"/></linearGradient><linearGradient id="lL63" gradientUnits="userSpaceOnUse" x1="1324" y1="477.8" x2="809" y2="406"><stop offset="0" stop-color="#4c550b"/><stop offset="0.2" stop-color="#4a560b"/><stop offset="0.5" stop-color="#47580b"/><stop offset="0.8" stop-color="#395f0a"/><stop offset="1" stop-color="#2b6533"/></linearGradient><linearGradient id="lL66" gradientUnits="userSpaceOnUse" x1="1341.2" y1="464.8" x2="826.2" y2="391.3"><stop offset="0" stop-color="#4d550b"/><stop offset="0.2" stop-color="#4b560b"/><stop offset="0.5" stop-color="#49570b"/><stop offset="0.8" stop-color="#3c5e0a"/><stop offset="1" stop-color="#2c652a"/></linearGradient><linearGradient id="lL69" gradientUnits="userSpaceOnUse" x1="1358.5" y1="452.5" x2="843.5" y2="377.2"><stop offset="0" stop-color="#4e550b"/><stop offset="0.2" stop-color="#4c550b"/><stop offset="0.5" stop-color="#4a570b"/><stop offset="0.8" stop-color="#3f5c0b"/><stop offset="1" stop-color="#2d6523"/></linearGradient><linearGradient id="lL72" gradientUnits="userSpaceOnUse" x1="1375.8" y1="441.1" x2="860.8" y2="363.5"><stop offset="0" stop-color="#4e540b"/><stop offset="0.2" stop-color="#4d550b"/><stop offset="0.5" stop-color="#4b560b"/><stop offset="0.8" stop-color="#415b0b"/><stop offset="1" stop-color="#2f641b"/></linearGradient><linearGradient id="lL75" gradientUnits="userSpaceOnUse" x1="1393.2" y1="430.4" x2="878.1" y2="350.4"><stop offset="0" stop-color="#4f540b"/><stop offset="0.2" stop-color="#4e540b"/><stop offset="0.5" stop-color="#4b560b"/><stop offset="0.8" stop-color="#445a0b"/><stop offset="1" stop-color="#306414"/></linearGradient><linearGradient id="lL78" gradientUnits="userSpaceOnUse" x1="1410.4" y1="420.5" x2="895.4" y2="337.9"><stop offset="0" stop-color="#4f540b"/><stop offset="0.2" stop-color="#4f540b"/><stop offset="0.5" stop-color="#4c550b"/><stop offset="0.8" stop-color="#46590b"/><stop offset="1" stop-color="#31640e"/></linearGradient><linearGradient id="lL81" gradientUnits="userSpaceOnUse" x1="1427.8" y1="411.2" x2="912.7" y2="325.9"><stop offset="0" stop-color="#50540b"/><stop offset="0.2" stop-color="#50540b"/><stop offset="0.5" stop-color="#4d550b"/><stop offset="0.8" stop-color="#47580b"/><stop offset="1" stop-color="#32630a"/></linearGradient><linearGradient id="lL84" gradientUnits="userSpaceOnUse" x1="1445" y1="402.6" x2="930" y2="314.5"><stop offset="0" stop-color="#50530b"/><stop offset="0.2" stop-color="#50530b"/><stop offset="0.5" stop-color="#4e550b"/><stop offset="0.8" stop-color="#48580b"/><stop offset="1" stop-color="#34620a"/></linearGradient><linearGradient id="lL87" gradientUnits="userSpaceOnUse" x1="1462.3" y1="394.7" x2="947.4" y2="303.6"><stop offset="0" stop-color="#50530b"/><stop offset="0.2" stop-color="#50530b"/><stop offset="0.5" stop-color="#4e540b"/><stop offset="0.8" stop-color="#48570b"/><stop offset="1" stop-color="#35620a"/></linearGradient><linearGradient id="lL90" gradientUnits="userSpaceOnUse" x1="1479.7" y1="387.4" x2="964.7" y2="293.4"><stop offset="0" stop-color="#50530b"/><stop offset="0.2" stop-color="#50530b"/><stop offset="0.5" stop-color="#4f540b"/><stop offset="0.8" stop-color="#49570b"/><stop offset="1" stop-color="#37610a"/></linearGradient><linearGradient id="lL93" gradientUnits="userSpaceOnUse" x1="1497" y1="380.6" x2="982" y2="283.7"><stop offset="0" stop-color="#50530b"/><stop offset="0.2" stop-color="#50530b"/><stop offset="0.5" stop-color="#4f540b"/><stop offset="0.8" stop-color="#49570b"/><stop offset="1" stop-color="#38600a"/></linearGradient><linearGradient id="lL96" gradientUnits="userSpaceOnUse" x1="1514.2" y1="374.4" x2="999.2" y2="274.7"><stop offset="0" stop-color="#50530b"/><stop offset="0.2" stop-color="#50530b"/><stop offset="0.5" stop-color="#50540b"/><stop offset="0.8" stop-color="#4a570b"/><stop offset="1" stop-color="#39600a"/></linearGradient><linearGradient id="lL99" gradientUnits="userSpaceOnUse" x1="1531.6" y1="368.8" x2="1016.5" y2="266.3"><stop offset="0" stop-color="#50530b"/><stop offset="0.2" stop-color="#50530b"/><stop offset="0.5" stop-color="#50530b"/><stop offset="0.8" stop-color="#4a560b"/><stop offset="1" stop-color="#3a5f0a"/></linearGradient><linearGradient id="lL102" gradientUnits="userSpaceOnUse" x1="1548.8" y1="363.6" x2="1033.8" y2="258.6"><stop offset="0" stop-color="#50530b"/><stop offset="0.2" stop-color="#50530b"/><stop offset="0.5" stop-color="#50530b"/><stop offset="0.8" stop-color="#4a560b"/><stop offset="1" stop-color="#3a5f0a"/></linearGradient><linearGradient id="lL105" gradientUnits="userSpaceOnUse" x1="1566.2" y1="358.9" x2="1051.2" y2="251.5"><stop offset="0" stop-color="#50530b"/><stop offset="0.2" stop-color="#50530b"/><stop offset="0.5" stop-color="#50530b"/><stop offset="0.8" stop-color="#4a560b"/><stop offset="1" stop-color="#3b5f0a"/></linearGradient><linearGradient id="lL108" gradientUnits="userSpaceOnUse" x1="1583.5" y1="354.7" x2="1068.5" y2="245.1"><stop offset="0" stop-color="#50530b"/><stop offset="0.2" stop-color="#50530b"/><stop offset="0.5" stop-color="#50530b"/><stop offset="0.8" stop-color="#4b560b"/><stop offset="1" stop-color="#3b5e0a"/></linearGradient><linearGradient id="lL111" gradientUnits="userSpaceOnUse" x1="1600.8" y1="350.9" x2="1085.8" y2="239.4"><stop offset="0" stop-color="#50530b"/><stop offset="0.2" stop-color="#50530b"/><stop offset="0.5" stop-color="#50530b"/><stop offset="0.8" stop-color="#4b560b"/><stop offset="1" stop-color="#3b5e0a"/></linearGradient><linearGradient id="lL114" gradientUnits="userSpaceOnUse" x1="1618.1" y1="347.5" x2="1103.1" y2="234.3"><stop offset="0" stop-color="#50530b"/><stop offset="0.2" stop-color="#50530b"/><stop offset="0.5" stop-color="#50530b"/><stop offset="0.8" stop-color="#4a560b"/><stop offset="1" stop-color="#3b5e0a"/></linearGradient><linearGradient id="lL117" gradientUnits="userSpaceOnUse" x1="1635.3" y1="344.4" x2="1120.4" y2="230"><stop offset="0" stop-color="#50530b"/><stop offset="0.2" stop-color="#50530b"/><stop offset="0.5" stop-color="#50530b"/><stop offset="0.8" stop-color="#4a560b"/><stop offset="1" stop-color="#3b5e0a"/></linearGradient><g id="lL"><path d="M951.7,1015.6L887.3,1007.6L822.9,992.5L758.5,972.2L694.2,948.6L629.8,923.5L565.4,898.7L501,876.1L436.6,857.6L454.7,835.2L519.1,851.2L583.4,871.1L647.8,893.1L712.1,916.6L776.5,939.3L840.9,958.7L905.2,973.2L969.6,980.8Z" fill="url(#lL0)"/><path d="M969,982.1L904.6,974.4L840.2,960L775.9,940.5L711.5,917.8L647.1,894.3L582.7,872.3L518.3,852.3L453.9,836.3L472,811.4L536.4,825.2L600.7,842.6L665.1,862L729.4,884L793.8,906L858.2,925L922.5,939.3L986.9,947.3Z" fill="url(#lL3)"/><path d="M986.3,948.5L921.9,940.5L857.5,926.2L793.2,907.3L728.8,885.3L664.4,863.2L600,843.8L535.6,826.4L471.2,812.5L489.3,785.9L553.6,797.7L618,812.9L682.4,829.9L746.7,850.6L811.1,872L875.5,890.7L939.8,905.2L1004.2,913.9Z" fill="url(#lL6)"/><path d="M1003.6,915.1L939.2,906.4L874.8,891.9L810.5,873.2L746.1,851.8L681.7,831.1L617.3,814.1L552.9,798.9L488.5,787L506.6,759.4L570.9,769.6L635.3,782.7L699.7,797.4L764,816.9L828.4,837.9L892.8,856.4L957.1,871.2L1021.5,880.9Z" fill="url(#lL9)"/><path d="M1020.9,882.1L956.5,872.4L892.1,857.7L827.8,839.1L763.4,818.2L699,798.7L634.6,783.9L570.2,770.8L505.8,760.6L523.9,732.8L588.2,741.4L652.6,752.6L717,765.2L781.3,783.6L845.7,804.2L910.1,822.6L974.4,837.7L1038.8,848.4Z" fill="url(#lL12)"/><path d="M1038.2,849.6L973.8,839L909.4,823.9L845,805.4L780.7,784.8L716.3,766.4L651.9,753.8L587.5,742.6L523.1,734L541.2,706.5L605.5,713.7L669.9,723.1L734.3,733.7L798.6,751.1L863,771.3L927.4,789.6L991.8,805.1L1056.1,816.6Z" fill="url(#lL15)"/><path d="M1055.5,817.8L991.1,806.3L926.7,790.9L862.3,772.5L798,752.3L733.6,734.9L669.2,724.3L604.8,714.8L540.4,707.7L558.5,681.1L622.9,686.9L687.2,694.5L751.6,703.3L815.9,719.6L880.3,739.5L944.7,757.7L1009.1,773.4L1073.4,785.7Z" fill="url(#lL18)"/><path d="M1072.7,786.9L1008.4,774.6L944,758.9L879.6,740.7L815.3,720.9L750.9,704.5L686.5,695.7L622.1,688L557.7,682.3L575.8,656.9L640.2,661.2L704.5,667.2L768.9,674.1L833.2,689.5L897.6,708.9L962,727L1026.4,742.9L1090.8,755.8Z" fill="url(#lL21)"/><path d="M1090,757L1025.7,744.1L961.3,728.2L896.9,710.2L832.5,690.7L768.2,675.3L703.8,668.4L639.4,662.4L575,658L593.1,633.7L657.5,636.6L721.8,641L786.2,646.2L850.6,660.7L914.9,679.7L979.3,697.6L1043.7,713.6L1108.1,727.1Z" fill="url(#lL24)"/><path d="M1107.3,728.3L1043,714.8L978.6,698.8L914.2,680.9L849.8,661.9L785.4,647.4L721.1,642.2L656.7,637.8L592.3,634.8L610.4,611.4L674.8,613.1L739.1,616L803.5,619.6L867.9,633.2L932.2,651.9L996.6,669.5L1061,685.6L1125.4,699.6Z" fill="url(#lL27)"/><path d="M1124.6,700.8L1060.2,686.8L995.9,670.7L931.5,653L867.1,634.4L802.7,620.8L738.3,617.2L673.9,614.2L609.6,612.5L627.7,590.1L692.1,590.6L756.5,592.2L820.8,594.3L885.2,607.1L949.6,625.4L1013.9,642.9L1078.3,659.1L1142.7,673.5Z" fill="url(#lL30)"/><path d="M1141.9,674.6L1077.5,660.2L1013.2,644.1L948.8,626.6L884.4,608.2L820,595.4L755.6,593.3L691.2,591.7L626.8,591.2L645.1,569.6L709.4,569.1L773.8,569.5L838.1,570.3L902.5,582.4L966.9,600.4L1031.2,617.7L1095.6,634L1160,648.8Z" fill="url(#lL33)"/><path d="M1159.2,649.9L1094.8,635.1L1030.4,618.9L966.1,601.5L901.7,583.5L837.3,571.4L772.9,570.6L708.5,570.2L644.1,570.7L662.4,549.9L726.7,548.6L791.1,547.9L855.4,547.7L919.8,559.1L984.2,576.9L1048.6,594.1L1112.9,610.5L1177.3,625.6Z" fill="url(#lL36)"/><path d="M1176.5,626.7L1112.1,611.6L1047.7,595.3L983.3,578L919,560.2L854.6,548.8L790.2,549L725.8,549.6L661.4,551L679.7,530.9L744,528.9L808.4,527.4L872.8,526.3L937.1,537.3L1001.5,554.9L1065.9,572L1130.3,588.4L1194.6,603.9Z" fill="url(#lL39)"/><path d="M1193.7,605L1129.4,589.5L1065,573.1L1000.6,556L936.3,538.4L871.9,527.4L807.5,528.5L743.1,530L678.7,532L697,512.6L761.3,509.9L825.7,507.8L890.1,505.9L954.4,516.5L1018.8,533.9L1083.2,551.1L1147.6,567.7L1212,583.6Z" fill="url(#lL42)"/><path d="M1211,584.6L1146.7,568.7L1082.3,552.1L1017.9,535L953.5,517.5L889.2,506.9L824.8,508.8L760.4,511L696,513.6L714.3,494.8L778.7,491.5L843,488.7L907.4,486.2L971.8,496.4L1036.1,513.7L1100.5,530.9L1164.9,547.8L1229.3,564.5Z" fill="url(#lL45)"/><path d="M1228.3,565.5L1164,548.9L1099.6,531.9L1035.2,514.7L970.8,497.4L906.5,487.2L842.1,489.7L777.7,492.5L713.3,495.8L731.6,477.5L796,473.5L860.3,470.1L924.7,467.1L989.1,476.9L1053.4,494L1117.8,511.4L1182.2,528.9L1246.6,546.5Z" fill="url(#lL48)"/><path d="M1245.6,547.5L1181.2,529.9L1116.9,512.4L1052.5,495.1L988.1,477.9L923.7,468.1L859.4,471.1L795,474.5L730.6,478.5L748.9,460.7L813.3,455.9L877.6,451.9L942,448.5L1006.4,458L1070.7,474.9L1135.1,492.5L1199.5,510.7L1263.9,529.5Z" fill="url(#lL51)"/><path d="M1262.9,530.5L1198.5,511.7L1134.2,493.5L1069.8,475.9L1005.4,459L941,449.5L876.7,452.9L812.3,456.9L747.9,461.7L766.2,444.3L830.6,438.8L894.9,434.2L959.3,430.4L1023.7,439.5L1088.1,456.3L1152.4,474.2L1216.8,493.2L1281.2,513.5Z" fill="url(#lL54)"/><path d="M1280.2,514.4L1215.8,494.2L1151.5,475.2L1087.1,457.3L1022.7,440.6L958.3,431.4L894,435.2L829.6,439.8L765.2,445.3L783.5,428.4L847.9,422.1L912.2,416.9L976.6,412.9L1041,421.7L1105.4,438.3L1169.7,456.5L1234.1,476.5L1298.5,498.3Z" fill="url(#lL57)"/><path d="M1297.5,499.2L1233.1,477.4L1168.8,457.5L1104.4,439.3L1040,422.7L975.6,413.9L911.2,417.9L846.9,423.1L782.5,429.4L800.8,413L865.2,405.9L929.6,400.1L993.9,396L1058.3,404.4L1122.7,420.8L1187,439.5L1251.4,460.5L1315.8,484Z" fill="url(#lL60)"/><path d="M1314.7,484.9L1250.4,461.4L1186,440.4L1121.7,421.8L1057.3,405.4L992.9,397L928.5,401.1L864.2,406.8L799.8,413.9L818.1,398.1L882.5,390.1L946.9,383.9L1011.2,379.6L1075.6,387.7L1140,404L1204.4,423.1L1268.7,445.2L1333.2,470.6Z" fill="url(#lL63)"/><path d="M1332,471.5L1267.7,446.1L1203.3,424L1139,405L1074.6,388.7L1010.2,380.6L945.8,384.8L881.4,391.1L817.1,399L835.4,383.7L899.8,374.9L964.2,368.2L1028.5,363.9L1092.9,371.7L1157.3,387.8L1221.7,407.4L1286.1,430.6L1350.5,458Z" fill="url(#lL66)"/><path d="M1349.3,458.8L1285,431.5L1220.6,408.3L1156.3,388.8L1091.9,372.6L1027.5,364.8L963.1,369.1L898.7,375.8L834.4,384.6L852.7,369.8L917.1,360.2L981.5,353.1L1045.9,348.8L1110.2,356.3L1174.6,372.3L1239,392.4L1303.4,416.9L1367.8,446.2Z" fill="url(#lL69)"/><path d="M1366.6,447L1302.3,417.7L1237.9,393.3L1173.5,373.2L1109.2,357.3L1044.8,349.7L980.4,354L916,361.1L851.6,370.6L870.1,356.4L934.4,346.1L998.8,338.7L1063.2,334.4L1127.5,341.7L1191.9,357.6L1256.3,378.1L1320.7,403.8L1385.1,435.2Z" fill="url(#lL72)"/><path d="M1383.9,435.9L1319.6,404.7L1255.2,379L1190.8,358.5L1126.5,342.6L1062.1,335.3L997.7,339.5L933.3,347L868.9,357.3L887.4,343.6L951.7,332.7L1016.1,324.8L1080.5,320.7L1144.8,327.8L1209.2,343.5L1273.6,364.6L1338,391.6L1402.4,424.9Z" fill="url(#lL75)"/><path d="M1401.2,425.6L1336.8,392.3L1272.5,365.5L1208.1,344.4L1143.7,328.7L1079.4,321.6L1015,325.7L950.6,333.5L886.2,344.4L904.7,331.3L969,319.8L1033.4,311.7L1097.8,307.7L1162.2,314.6L1226.5,330.3L1290.9,351.9L1355.3,380L1419.7,415.3Z" fill="url(#lL78)"/><path d="M1418.5,416L1354.1,380.8L1289.8,352.7L1225.4,331.1L1161,315.5L1096.7,308.6L1032.3,312.5L967.9,320.6L903.5,332.1L922,319.6L986.3,307.5L1050.7,299.3L1115.1,295.5L1179.5,302.3L1243.8,317.8L1308.2,340L1372.6,369.3L1437,406.4Z" fill="url(#lL81)"/><path d="M1435.8,407.1L1371.4,370L1307.1,340.7L1242.7,318.6L1178.3,303L1113.9,296.3L1049.6,300.1L985.2,308.3L920.8,320.4L939.3,308.5L1003.7,296L1068,287.6L1132.4,284L1196.8,290.7L1261.2,306.2L1325.5,328.8L1389.9,359.3L1454.3,398.2Z" fill="url(#lL84)"/><path d="M1453.1,398.8L1388.7,359.9L1324.3,329.6L1260,307L1195.6,291.4L1131.2,284.8L1066.9,288.3L1002.5,296.7L938.1,309.3L956.6,298L1021,285.1L1085.3,276.6L1149.7,273.3L1214.1,279.9L1278.5,295.4L1342.9,318.5L1407.2,350L1471.6,390.6Z" fill="url(#lL87)"/><path d="M1470.4,391.1L1406,350.6L1341.6,319.2L1277.3,296.1L1212.9,280.6L1148.5,274L1084.1,277.3L1019.8,285.8L955.4,298.7L973.9,288.1L1038.3,274.8L1102.7,266.3L1167,263.3L1231.4,269.9L1295.8,285.4L1360.2,309L1424.6,341.4L1488.9,383.6Z" fill="url(#lL90)"/><path d="M1487.6,384.1L1423.3,342L1358.9,309.7L1294.6,286.1L1230.2,270.6L1165.8,264L1101.4,267L1037.1,275.5L972.7,288.7L991.2,278.7L1055.6,265.3L1120,256.8L1184.3,254.1L1248.7,260.7L1313.1,276.3L1377.5,300.3L1441.9,333.6L1506.3,377.1Z" fill="url(#lL93)"/><path d="M1504.9,377.6L1440.6,334.2L1376.2,300.9L1311.8,276.9L1247.5,261.3L1183.1,254.8L1118.7,257.5L1054.4,266L990,279.4L1008.5,270.1L1072.9,256.5L1137.3,248.1L1201.7,245.7L1266,252.3L1330.4,267.9L1394.8,292.4L1459.2,326.5L1523.6,371.2Z" fill="url(#lL96)"/><path d="M1522.2,371.7L1457.9,327L1393.5,292.9L1329.1,268.5L1264.8,252.9L1200.4,246.3L1136,248.7L1071.6,257.1L1007.3,270.7L1025.8,262L1090.2,248.4L1154.6,240.1L1219,238.1L1283.3,244.8L1347.7,260.4L1412.1,285.2L1476.5,320L1540.9,365.9Z" fill="url(#lL99)"/><path d="M1539.5,366.3L1475.2,320.5L1410.8,285.7L1346.4,261L1282,245.3L1217.7,238.6L1153.3,240.7L1088.9,249L1024.6,262.6L1043.1,254.6L1107.5,241L1171.9,232.9L1236.3,231.2L1300.7,238L1365,253.7L1429.4,278.8L1493.8,314.2L1558.2,361Z" fill="url(#lL102)"/><path d="M1556.8,361.3L1492.5,314.7L1428.1,279.3L1363.7,254.2L1299.3,238.5L1235,231.7L1170.6,233.4L1106.2,241.5L1041.8,255.2L1060.5,247.9L1124.8,234.4L1189.2,226.4L1253.6,225.1L1318,232L1382.3,247.8L1446.7,273.2L1511.1,309.1L1575.5,356.6Z" fill="url(#lL105)"/><path d="M1574.1,356.9L1509.7,309.5L1445.4,273.6L1381,248.2L1316.6,232.4L1252.3,225.5L1187.9,226.9L1123.5,234.8L1059.1,248.4L1077.8,241.8L1142.1,228.4L1206.5,220.7L1270.9,219.7L1335.3,226.7L1399.6,242.6L1464,268.2L1528.4,304.5L1592.8,352.6Z" fill="url(#lL108)"/><path d="M1591.4,352.9L1527,304.9L1462.7,268.6L1398.3,243L1333.9,227.1L1269.5,220.1L1205.2,221.1L1140.8,228.9L1076.4,242.3L1095.1,236.5L1159.4,223.3L1223.8,215.8L1288.2,215L1352.6,222.2L1417,238.2L1481.3,264L1545.7,300.6L1610.1,349Z" fill="url(#lL111)"/><path d="M1608.7,349.2L1544.3,300.9L1480,264.3L1415.6,238.5L1351.2,222.5L1286.8,215.4L1222.5,216.1L1158.1,223.6L1093.7,236.9L1112.4,231.8L1176.8,218.8L1241.1,211.6L1305.5,211.1L1369.9,218.4L1434.3,234.5L1498.6,260.5L1563,297.2L1627.4,345.8Z" fill="url(#lL114)"/><path d="M1626,346L1561.6,297.4L1497.3,260.7L1432.9,234.8L1368.5,218.7L1304.1,211.4L1239.8,211.9L1175.4,219.1L1111,232.1L1129.7,227.8L1194.1,215.1L1258.4,208.2L1322.8,207.9L1387.2,215.4L1451.6,231.6L1515.9,257.6L1580.3,294.3L1644.7,342.9Z" fill="url(#lL117)"/></g>
<linearGradient id="qR0" gradientUnits="userSpaceOnUse" x1="2877.9" y1="988.8" x2="2360.9" y2="857.8"><stop offset="0" stop-color="#82b7de"/><stop offset="0.2" stop-color="#83b0e1"/><stop offset="0.5" stop-color="#7a98e4"/><stop offset="0.8" stop-color="#7085e4"/><stop offset="1" stop-color="#6e81e4"/></linearGradient><linearGradient id="qR1" gradientUnits="userSpaceOnUse" x1="2883.6" y1="978.4" x2="2366.7" y2="853.1"><stop offset="0" stop-color="#81bcdc"/><stop offset="0.2" stop-color="#82b4e0"/><stop offset="0.5" stop-color="#7c9be4"/><stop offset="0.8" stop-color="#7187e4"/><stop offset="1" stop-color="#6e82e4"/></linearGradient><linearGradient id="qR2" gradientUnits="userSpaceOnUse" x1="2889.4" y1="968" x2="2372.5" y2="847.5"><stop offset="0" stop-color="#80c0da"/><stop offset="0.2" stop-color="#82b7de"/><stop offset="0.5" stop-color="#7d9ee4"/><stop offset="0.8" stop-color="#7188e4"/><stop offset="1" stop-color="#6f83e4"/></linearGradient><linearGradient id="qR3" gradientUnits="userSpaceOnUse" x1="2895.2" y1="957.7" x2="2378.3" y2="841.1"><stop offset="0" stop-color="#7fc4d7"/><stop offset="0.2" stop-color="#81bbdc"/><stop offset="0.5" stop-color="#7fa1e4"/><stop offset="0.8" stop-color="#728ae4"/><stop offset="1" stop-color="#6f84e4"/></linearGradient><linearGradient id="qR4" gradientUnits="userSpaceOnUse" x1="2900.9" y1="947.5" x2="2384.1" y2="834.1"><stop offset="0" stop-color="#7fc8d3"/><stop offset="0.2" stop-color="#80bfda"/><stop offset="0.5" stop-color="#81a4e4"/><stop offset="0.8" stop-color="#748ce4"/><stop offset="1" stop-color="#7085e4"/></linearGradient><linearGradient id="qR5" gradientUnits="userSpaceOnUse" x1="2906.7" y1="937.3" x2="2389.9" y2="826.5"><stop offset="0" stop-color="#7ecbce"/><stop offset="0.2" stop-color="#80c3d9"/><stop offset="0.5" stop-color="#83a8e4"/><stop offset="0.8" stop-color="#758fe4"/><stop offset="1" stop-color="#7187e4"/></linearGradient><linearGradient id="qR6" gradientUnits="userSpaceOnUse" x1="2912.4" y1="927.2" x2="2395.8" y2="818.3"><stop offset="0" stop-color="#7dcfca"/><stop offset="0.2" stop-color="#7fc6d5"/><stop offset="0.5" stop-color="#84abe3"/><stop offset="0.8" stop-color="#7793e4"/><stop offset="1" stop-color="#7288e4"/></linearGradient><linearGradient id="qR7" gradientUnits="userSpaceOnUse" x1="2918.2" y1="917.2" x2="2401.6" y2="809.8"><stop offset="0" stop-color="#7cd2c5"/><stop offset="0.2" stop-color="#7ec9d1"/><stop offset="0.5" stop-color="#83afe2"/><stop offset="0.8" stop-color="#7997e4"/><stop offset="1" stop-color="#728ae4"/></linearGradient><linearGradient id="qR8" gradientUnits="userSpaceOnUse" x1="2923.9" y1="907.2" x2="2407.4" y2="800.9"><stop offset="0" stop-color="#7cd6c1"/><stop offset="0.2" stop-color="#7ecccd"/><stop offset="0.5" stop-color="#82b3e0"/><stop offset="0.8" stop-color="#7b9ae4"/><stop offset="1" stop-color="#748de4"/></linearGradient><linearGradient id="qR9" gradientUnits="userSpaceOnUse" x1="2929.7" y1="897.4" x2="2413.2" y2="791.7"><stop offset="0" stop-color="#7cd8bc"/><stop offset="0.2" stop-color="#7dcfc9"/><stop offset="0.5" stop-color="#82b7de"/><stop offset="0.8" stop-color="#7d9ee4"/><stop offset="1" stop-color="#7691e4"/></linearGradient><linearGradient id="qR10" gradientUnits="userSpaceOnUse" x1="2935.5" y1="887.6" x2="2419" y2="782.3"><stop offset="0" stop-color="#7dd8b6"/><stop offset="0.2" stop-color="#7cd3c5"/><stop offset="0.5" stop-color="#81bcdc"/><stop offset="0.8" stop-color="#80a2e4"/><stop offset="1" stop-color="#7895e4"/></linearGradient><linearGradient id="qR11" gradientUnits="userSpaceOnUse" x1="2941.2" y1="877.9" x2="2424.8" y2="772.8"><stop offset="0" stop-color="#7fd9b1"/><stop offset="0.2" stop-color="#7cd6c1"/><stop offset="0.5" stop-color="#80c0da"/><stop offset="0.8" stop-color="#82a6e4"/><stop offset="1" stop-color="#7a98e4"/></linearGradient><linearGradient id="qR12" gradientUnits="userSpaceOnUse" x1="2947" y1="868.3" x2="2430.6" y2="763.3"><stop offset="0" stop-color="#81d9ab"/><stop offset="0.2" stop-color="#7cd8bd"/><stop offset="0.5" stop-color="#7fc4d8"/><stop offset="0.8" stop-color="#84aae4"/><stop offset="1" stop-color="#7c9ce4"/></linearGradient><linearGradient id="qR13" gradientUnits="userSpaceOnUse" x1="2952.7" y1="858.8" x2="2436.4" y2="753.8"><stop offset="0" stop-color="#82d9a5"/><stop offset="0.2" stop-color="#7dd8b8"/><stop offset="0.5" stop-color="#7fc7d4"/><stop offset="0.8" stop-color="#83aee2"/><stop offset="1" stop-color="#7ea0e4"/></linearGradient><linearGradient id="qR14" gradientUnits="userSpaceOnUse" x1="2958.5" y1="849.5" x2="2442.2" y2="744.2"><stop offset="0" stop-color="#84d9a0"/><stop offset="0.2" stop-color="#7fd8b2"/><stop offset="0.5" stop-color="#7ecad0"/><stop offset="0.8" stop-color="#83b2e0"/><stop offset="1" stop-color="#80a4e4"/></linearGradient><linearGradient id="qR15" gradientUnits="userSpaceOnUse" x1="2964.3" y1="840.2" x2="2448" y2="734.7"><stop offset="0" stop-color="#86d99a"/><stop offset="0.2" stop-color="#80d9ad"/><stop offset="0.5" stop-color="#7dcdcc"/><stop offset="0.8" stop-color="#82b6de"/><stop offset="1" stop-color="#82a7e4"/></linearGradient><linearGradient id="qR16" gradientUnits="userSpaceOnUse" x1="2970" y1="831" x2="2453.8" y2="725.2"><stop offset="0" stop-color="#88d895"/><stop offset="0.2" stop-color="#82d9a8"/><stop offset="0.5" stop-color="#7dd1c8"/><stop offset="0.8" stop-color="#81bbdc"/><stop offset="1" stop-color="#84abe4"/></linearGradient><linearGradient id="qR17" gradientUnits="userSpaceOnUse" x1="2975.8" y1="822" x2="2459.6" y2="715.7"><stop offset="0" stop-color="#8bd890"/><stop offset="0.2" stop-color="#83d9a3"/><stop offset="0.5" stop-color="#7cd4c4"/><stop offset="0.8" stop-color="#80bfdb"/><stop offset="1" stop-color="#83afe2"/></linearGradient><linearGradient id="qR18" gradientUnits="userSpaceOnUse" x1="2981.5" y1="813.1" x2="2465.5" y2="706.2"><stop offset="0" stop-color="#8ed78b"/><stop offset="0.2" stop-color="#85d99e"/><stop offset="0.5" stop-color="#7bd7c0"/><stop offset="0.8" stop-color="#80c3d9"/><stop offset="1" stop-color="#82b3e0"/></linearGradient><linearGradient id="qR19" gradientUnits="userSpaceOnUse" x1="2987.3" y1="804.3" x2="2471.3" y2="696.8"><stop offset="0" stop-color="#90d686"/><stop offset="0.2" stop-color="#86d999"/><stop offset="0.5" stop-color="#7cd8bb"/><stop offset="0.8" stop-color="#7fc6d5"/><stop offset="1" stop-color="#82b7de"/></linearGradient><linearGradient id="qR20" gradientUnits="userSpaceOnUse" x1="2993" y1="795.7" x2="2477.1" y2="687.4"><stop offset="0" stop-color="#93d581"/><stop offset="0.2" stop-color="#89d894"/><stop offset="0.5" stop-color="#7ed8b6"/><stop offset="0.8" stop-color="#7ecad0"/><stop offset="1" stop-color="#81bbdc"/></linearGradient><linearGradient id="qR21" gradientUnits="userSpaceOnUse" x1="2998.8" y1="787.2" x2="2482.9" y2="678"><stop offset="0" stop-color="#95d57d"/><stop offset="0.2" stop-color="#8bd890"/><stop offset="0.5" stop-color="#7fd9b1"/><stop offset="0.8" stop-color="#7ecdcc"/><stop offset="1" stop-color="#80bfda"/></linearGradient><linearGradient id="qR22" gradientUnits="userSpaceOnUse" x1="3004.6" y1="778.8" x2="2488.7" y2="668.7"><stop offset="0" stop-color="#98d478"/><stop offset="0.2" stop-color="#8ed78b"/><stop offset="0.5" stop-color="#81d9ab"/><stop offset="0.8" stop-color="#7dd0c8"/><stop offset="1" stop-color="#80c3d8"/></linearGradient><linearGradient id="qR23" gradientUnits="userSpaceOnUse" x1="3010.3" y1="770.6" x2="2494.5" y2="659.4"><stop offset="0" stop-color="#9ad475"/><stop offset="0.2" stop-color="#90d687"/><stop offset="0.5" stop-color="#82d9a6"/><stop offset="0.8" stop-color="#7cd3c4"/><stop offset="1" stop-color="#7fc7d4"/></linearGradient><linearGradient id="qR24" gradientUnits="userSpaceOnUse" x1="3016.1" y1="762.6" x2="2500.3" y2="650.2"><stop offset="0" stop-color="#9dd473"/><stop offset="0.2" stop-color="#93d582"/><stop offset="0.5" stop-color="#84d9a1"/><stop offset="0.8" stop-color="#7cd6c1"/><stop offset="1" stop-color="#7ecad0"/></linearGradient><linearGradient id="qR25" gradientUnits="userSpaceOnUse" x1="3021.8" y1="754.7" x2="2506.1" y2="641.1"><stop offset="0" stop-color="#9fd472"/><stop offset="0.2" stop-color="#95d57e"/><stop offset="0.5" stop-color="#85d99d"/><stop offset="0.8" stop-color="#7cd8bc"/><stop offset="1" stop-color="#7ecdcc"/></linearGradient><linearGradient id="qR26" gradientUnits="userSpaceOnUse" x1="3027.6" y1="747" x2="2511.9" y2="632.1"><stop offset="0" stop-color="#a2d470"/><stop offset="0.2" stop-color="#97d47a"/><stop offset="0.5" stop-color="#87d998"/><stop offset="0.8" stop-color="#7dd8b7"/><stop offset="1" stop-color="#7dd0c8"/></linearGradient><linearGradient id="qR27" gradientUnits="userSpaceOnUse" x1="3033.4" y1="739.4" x2="2517.7" y2="623.1"><stop offset="0" stop-color="#a4d46f"/><stop offset="0.2" stop-color="#99d476"/><stop offset="0.5" stop-color="#89d893"/><stop offset="0.8" stop-color="#7fd9b2"/><stop offset="1" stop-color="#7cd3c5"/></linearGradient><linearGradient id="qR28" gradientUnits="userSpaceOnUse" x1="3039.1" y1="732" x2="2523.5" y2="614.3"><stop offset="0" stop-color="#a6d46e"/><stop offset="0.2" stop-color="#9cd474"/><stop offset="0.5" stop-color="#8cd78f"/><stop offset="0.8" stop-color="#80d9ad"/><stop offset="1" stop-color="#7cd6c1"/></linearGradient><linearGradient id="qR29" gradientUnits="userSpaceOnUse" x1="3044.9" y1="724.8" x2="2529.3" y2="605.6"><stop offset="0" stop-color="#a8d46c"/><stop offset="0.2" stop-color="#9ed473"/><stop offset="0.5" stop-color="#8ed78a"/><stop offset="0.8" stop-color="#82d9a8"/><stop offset="1" stop-color="#7cd8bd"/></linearGradient><linearGradient id="qR30" gradientUnits="userSpaceOnUse" x1="3050.6" y1="717.7" x2="2535.2" y2="597"><stop offset="0" stop-color="#abd46b"/><stop offset="0.2" stop-color="#a0d472"/><stop offset="0.5" stop-color="#90d686"/><stop offset="0.8" stop-color="#83d9a3"/><stop offset="1" stop-color="#7dd8b8"/></linearGradient><linearGradient id="qR31" gradientUnits="userSpaceOnUse" x1="3056.4" y1="710.8" x2="2541" y2="588.5"><stop offset="0" stop-color="#add46a"/><stop offset="0.2" stop-color="#a2d470"/><stop offset="0.5" stop-color="#93d582"/><stop offset="0.8" stop-color="#84d99f"/><stop offset="1" stop-color="#7ed8b3"/></linearGradient><linearGradient id="qR32" gradientUnits="userSpaceOnUse" x1="3062.1" y1="704.1" x2="2546.8" y2="580.2"><stop offset="0" stop-color="#afd469"/><stop offset="0.2" stop-color="#a4d46f"/><stop offset="0.5" stop-color="#95d57e"/><stop offset="0.8" stop-color="#86d99a"/><stop offset="1" stop-color="#80d9ae"/></linearGradient><linearGradient id="qR33" gradientUnits="userSpaceOnUse" x1="3067.9" y1="697.6" x2="2552.6" y2="572.1"><stop offset="0" stop-color="#b0d467"/><stop offset="0.2" stop-color="#a6d46e"/><stop offset="0.5" stop-color="#97d47a"/><stop offset="0.8" stop-color="#88d996"/><stop offset="1" stop-color="#81d9aa"/></linearGradient><linearGradient id="qR34" gradientUnits="userSpaceOnUse" x1="3073.7" y1="691.2" x2="2558.4" y2="564.1"><stop offset="0" stop-color="#b2d467"/><stop offset="0.2" stop-color="#a8d46d"/><stop offset="0.5" stop-color="#99d476"/><stop offset="0.8" stop-color="#8ad892"/><stop offset="1" stop-color="#82d9a5"/></linearGradient><linearGradient id="qR35" gradientUnits="userSpaceOnUse" x1="3079.4" y1="684.9" x2="2564.2" y2="556.2"><stop offset="0" stop-color="#b3d466"/><stop offset="0.2" stop-color="#aad46b"/><stop offset="0.5" stop-color="#9bd475"/><stop offset="0.8" stop-color="#8cd78e"/><stop offset="1" stop-color="#84d9a1"/></linearGradient><linearGradient id="qR36" gradientUnits="userSpaceOnUse" x1="3085.2" y1="678.8" x2="2570" y2="548.6"><stop offset="0" stop-color="#b4d466"/><stop offset="0.2" stop-color="#acd46a"/><stop offset="0.5" stop-color="#9dd473"/><stop offset="0.8" stop-color="#8ed78a"/><stop offset="1" stop-color="#85d99d"/></linearGradient><linearGradient id="qR37" gradientUnits="userSpaceOnUse" x1="3090.9" y1="672.8" x2="2575.8" y2="541.1"><stop offset="0" stop-color="#b5d466"/><stop offset="0.2" stop-color="#add469"/><stop offset="0.5" stop-color="#9fd472"/><stop offset="0.8" stop-color="#91d686"/><stop offset="1" stop-color="#86d999"/></linearGradient><linearGradient id="qR38" gradientUnits="userSpaceOnUse" x1="3096.7" y1="667" x2="2581.6" y2="533.9"><stop offset="0" stop-color="#b6d466"/><stop offset="0.2" stop-color="#afd468"/><stop offset="0.5" stop-color="#a1d471"/><stop offset="0.8" stop-color="#93d582"/><stop offset="1" stop-color="#89d895"/></linearGradient><linearGradient id="qR39" gradientUnits="userSpaceOnUse" x1="3102.5" y1="661.3" x2="2587.4" y2="526.8"><stop offset="0" stop-color="#b7d465"/><stop offset="0.2" stop-color="#b1d467"/><stop offset="0.5" stop-color="#a3d470"/><stop offset="0.8" stop-color="#94d57f"/><stop offset="1" stop-color="#8bd891"/></linearGradient><linearGradient id="qR40" gradientUnits="userSpaceOnUse" x1="3108.2" y1="655.8" x2="2593.2" y2="519.9"><stop offset="0" stop-color="#b8d465"/><stop offset="0.2" stop-color="#b2d467"/><stop offset="0.5" stop-color="#a5d46f"/><stop offset="0.8" stop-color="#96d47b"/><stop offset="1" stop-color="#8cd78d"/></linearGradient><linearGradient id="qR41" gradientUnits="userSpaceOnUse" x1="3114" y1="650.4" x2="2599" y2="513.2"><stop offset="0" stop-color="#b9d465"/><stop offset="0.2" stop-color="#b3d466"/><stop offset="0.5" stop-color="#a6d46e"/><stop offset="0.8" stop-color="#98d478"/><stop offset="1" stop-color="#8ed78a"/></linearGradient><linearGradient id="qR42" gradientUnits="userSpaceOnUse" x1="3119.7" y1="645.1" x2="2604.9" y2="506.7"><stop offset="0" stop-color="#b9d465"/><stop offset="0.2" stop-color="#b4d466"/><stop offset="0.5" stop-color="#a8d46d"/><stop offset="0.8" stop-color="#9ad475"/><stop offset="1" stop-color="#90d687"/></linearGradient><linearGradient id="qR43" gradientUnits="userSpaceOnUse" x1="3125.5" y1="639.9" x2="2610.7" y2="500.4"><stop offset="0" stop-color="#bad465"/><stop offset="0.2" stop-color="#b5d466"/><stop offset="0.5" stop-color="#a9d46c"/><stop offset="0.8" stop-color="#9cd474"/><stop offset="1" stop-color="#92d683"/></linearGradient><linearGradient id="qR44" gradientUnits="userSpaceOnUse" x1="3131.2" y1="634.9" x2="2616.5" y2="494.2"><stop offset="0" stop-color="#bbd465"/><stop offset="0.2" stop-color="#b5d466"/><stop offset="0.5" stop-color="#abd46b"/><stop offset="0.8" stop-color="#9dd473"/><stop offset="1" stop-color="#93d580"/></linearGradient><linearGradient id="qR45" gradientUnits="userSpaceOnUse" x1="3137" y1="630" x2="2622.3" y2="488.2"><stop offset="0" stop-color="#bcd464"/><stop offset="0.2" stop-color="#b6d466"/><stop offset="0.5" stop-color="#acd46a"/><stop offset="0.8" stop-color="#9fd472"/><stop offset="1" stop-color="#95d57d"/></linearGradient><linearGradient id="qR46" gradientUnits="userSpaceOnUse" x1="3142.8" y1="625.2" x2="2628.1" y2="482.4"><stop offset="0" stop-color="#bcd464"/><stop offset="0.2" stop-color="#b7d465"/><stop offset="0.5" stop-color="#aed469"/><stop offset="0.8" stop-color="#a0d471"/><stop offset="1" stop-color="#97d47a"/></linearGradient><linearGradient id="qR47" gradientUnits="userSpaceOnUse" x1="3148.5" y1="620.5" x2="2633.9" y2="476.7"><stop offset="0" stop-color="#bdd464"/><stop offset="0.2" stop-color="#b8d465"/><stop offset="0.5" stop-color="#afd468"/><stop offset="0.8" stop-color="#a2d470"/><stop offset="1" stop-color="#98d478"/></linearGradient><linearGradient id="qR48" gradientUnits="userSpaceOnUse" x1="3154.3" y1="615.9" x2="2639.7" y2="471.2"><stop offset="0" stop-color="#bed464"/><stop offset="0.2" stop-color="#b8d465"/><stop offset="0.5" stop-color="#b1d467"/><stop offset="0.8" stop-color="#a3d470"/><stop offset="1" stop-color="#9ad476"/></linearGradient><linearGradient id="qR49" gradientUnits="userSpaceOnUse" x1="3160" y1="611.4" x2="2645.5" y2="465.8"><stop offset="0" stop-color="#bed464"/><stop offset="0.2" stop-color="#b9d465"/><stop offset="0.5" stop-color="#b2d467"/><stop offset="0.8" stop-color="#a5d46f"/><stop offset="1" stop-color="#9bd475"/></linearGradient><linearGradient id="qR50" gradientUnits="userSpaceOnUse" x1="3165.8" y1="607" x2="2651.3" y2="460.6"><stop offset="0" stop-color="#bfd464"/><stop offset="0.2" stop-color="#bad465"/><stop offset="0.5" stop-color="#b3d466"/><stop offset="0.8" stop-color="#a6d46e"/><stop offset="1" stop-color="#9cd474"/></linearGradient><linearGradient id="qR51" gradientUnits="userSpaceOnUse" x1="3171.6" y1="602.8" x2="2657.1" y2="455.6"><stop offset="0" stop-color="#bfd464"/><stop offset="0.2" stop-color="#bad465"/><stop offset="0.5" stop-color="#b3d466"/><stop offset="0.8" stop-color="#a7d46d"/><stop offset="1" stop-color="#9ed473"/></linearGradient><linearGradient id="qR52" gradientUnits="userSpaceOnUse" x1="3177.3" y1="598.6" x2="2662.9" y2="450.6"><stop offset="0" stop-color="#c0d464"/><stop offset="0.2" stop-color="#bbd465"/><stop offset="0.5" stop-color="#b4d466"/><stop offset="0.8" stop-color="#a8d46c"/><stop offset="1" stop-color="#9fd472"/></linearGradient><linearGradient id="qR53" gradientUnits="userSpaceOnUse" x1="3183.1" y1="594.5" x2="2668.7" y2="445.8"><stop offset="0" stop-color="#c1d463"/><stop offset="0.2" stop-color="#bbd465"/><stop offset="0.5" stop-color="#b4d466"/><stop offset="0.8" stop-color="#aad46c"/><stop offset="1" stop-color="#a0d472"/></linearGradient><linearGradient id="qR54" gradientUnits="userSpaceOnUse" x1="3188.8" y1="590.5" x2="2674.6" y2="441.2"><stop offset="0" stop-color="#c1d463"/><stop offset="0.2" stop-color="#bcd464"/><stop offset="0.5" stop-color="#b5d466"/><stop offset="0.8" stop-color="#abd46b"/><stop offset="1" stop-color="#a1d471"/></linearGradient><linearGradient id="qR55" gradientUnits="userSpaceOnUse" x1="3194.6" y1="586.6" x2="2680.4" y2="436.6"><stop offset="0" stop-color="#c2d463"/><stop offset="0.2" stop-color="#bcd464"/><stop offset="0.5" stop-color="#b6d466"/><stop offset="0.8" stop-color="#acd46a"/><stop offset="1" stop-color="#a2d470"/></linearGradient><linearGradient id="qR56" gradientUnits="userSpaceOnUse" x1="3200.3" y1="582.8" x2="2686.2" y2="432.2"><stop offset="0" stop-color="#c2d463"/><stop offset="0.2" stop-color="#bdd464"/><stop offset="0.5" stop-color="#b6d466"/><stop offset="0.8" stop-color="#add46a"/><stop offset="1" stop-color="#a3d46f"/></linearGradient><linearGradient id="qR57" gradientUnits="userSpaceOnUse" x1="3206.1" y1="579" x2="2692" y2="427.9"><stop offset="0" stop-color="#c3d463"/><stop offset="0.2" stop-color="#bdd464"/><stop offset="0.5" stop-color="#b7d466"/><stop offset="0.8" stop-color="#aed469"/><stop offset="1" stop-color="#a4d46f"/></linearGradient><linearGradient id="qR58" gradientUnits="userSpaceOnUse" x1="3211.9" y1="575.3" x2="2697.8" y2="423.7"><stop offset="0" stop-color="#c3d463"/><stop offset="0.2" stop-color="#bed464"/><stop offset="0.5" stop-color="#b7d465"/><stop offset="0.8" stop-color="#afd469"/><stop offset="1" stop-color="#a5d46e"/></linearGradient><linearGradient id="qR59" gradientUnits="userSpaceOnUse" x1="3217.6" y1="571.7" x2="2703.6" y2="419.7"><stop offset="0" stop-color="#c3d463"/><stop offset="0.2" stop-color="#bed464"/><stop offset="0.5" stop-color="#b8d465"/><stop offset="0.8" stop-color="#afd468"/><stop offset="1" stop-color="#a6d46e"/></linearGradient><linearGradient id="qR60" gradientUnits="userSpaceOnUse" x1="3223.4" y1="568.2" x2="2709.4" y2="415.7"><stop offset="0" stop-color="#c3d463"/><stop offset="0.2" stop-color="#bfd464"/><stop offset="0.5" stop-color="#b8d465"/><stop offset="0.8" stop-color="#b0d468"/><stop offset="1" stop-color="#a7d46d"/></linearGradient><linearGradient id="qR61" gradientUnits="userSpaceOnUse" x1="3229.1" y1="564.8" x2="2715.2" y2="411.8"><stop offset="0" stop-color="#c4d363"/><stop offset="0.2" stop-color="#bfd464"/><stop offset="0.5" stop-color="#b9d465"/><stop offset="0.8" stop-color="#b1d467"/><stop offset="1" stop-color="#a8d46d"/></linearGradient><linearGradient id="qR62" gradientUnits="userSpaceOnUse" x1="3234.9" y1="561.4" x2="2721" y2="408.1"><stop offset="0" stop-color="#c4d363"/><stop offset="0.2" stop-color="#c0d464"/><stop offset="0.5" stop-color="#b9d465"/><stop offset="0.8" stop-color="#b2d467"/><stop offset="1" stop-color="#a9d46c"/></linearGradient><linearGradient id="qR63" gradientUnits="userSpaceOnUse" x1="3240.7" y1="558" x2="2726.8" y2="404.4"><stop offset="0" stop-color="#c4d363"/><stop offset="0.2" stop-color="#c0d464"/><stop offset="0.5" stop-color="#bad465"/><stop offset="0.8" stop-color="#b2d467"/><stop offset="1" stop-color="#aad46c"/></linearGradient><linearGradient id="qR64" gradientUnits="userSpaceOnUse" x1="3246.4" y1="554.8" x2="2732.6" y2="400.8"><stop offset="0" stop-color="#c4d363"/><stop offset="0.2" stop-color="#c0d463"/><stop offset="0.5" stop-color="#bad465"/><stop offset="0.8" stop-color="#b3d466"/><stop offset="1" stop-color="#aad46b"/></linearGradient><linearGradient id="qR65" gradientUnits="userSpaceOnUse" x1="3252.2" y1="551.6" x2="2738.4" y2="397.3"><stop offset="0" stop-color="#c4d362"/><stop offset="0.2" stop-color="#c1d463"/><stop offset="0.5" stop-color="#bad465"/><stop offset="0.8" stop-color="#b3d466"/><stop offset="1" stop-color="#abd46b"/></linearGradient><linearGradient id="qR66" gradientUnits="userSpaceOnUse" x1="3257.9" y1="548.4" x2="2744.3" y2="393.9"><stop offset="0" stop-color="#c4d362"/><stop offset="0.2" stop-color="#c1d463"/><stop offset="0.5" stop-color="#bbd465"/><stop offset="0.8" stop-color="#b3d466"/><stop offset="1" stop-color="#acd46a"/></linearGradient><linearGradient id="qR67" gradientUnits="userSpaceOnUse" x1="3263.7" y1="545.3" x2="2750.1" y2="390.5"><stop offset="0" stop-color="#c4d362"/><stop offset="0.2" stop-color="#c1d463"/><stop offset="0.5" stop-color="#bbd465"/><stop offset="0.8" stop-color="#b4d466"/><stop offset="1" stop-color="#acd46a"/></linearGradient><linearGradient id="qR68" gradientUnits="userSpaceOnUse" x1="3269.4" y1="542.2" x2="2755.9" y2="387.2"><stop offset="0" stop-color="#c4d362"/><stop offset="0.2" stop-color="#c2d463"/><stop offset="0.5" stop-color="#bbd465"/><stop offset="0.8" stop-color="#b4d466"/><stop offset="1" stop-color="#add46a"/></linearGradient><linearGradient id="qR69" gradientUnits="userSpaceOnUse" x1="3275.2" y1="539.2" x2="2761.7" y2="384"><stop offset="0" stop-color="#c4d362"/><stop offset="0.2" stop-color="#c2d463"/><stop offset="0.5" stop-color="#bcd464"/><stop offset="0.8" stop-color="#b4d466"/><stop offset="1" stop-color="#aed469"/></linearGradient><linearGradient id="qR70" gradientUnits="userSpaceOnUse" x1="3281" y1="536.2" x2="2767.5" y2="380.9"><stop offset="0" stop-color="#c4d362"/><stop offset="0.2" stop-color="#c2d463"/><stop offset="0.5" stop-color="#bcd464"/><stop offset="0.8" stop-color="#b5d466"/><stop offset="1" stop-color="#aed469"/></linearGradient><linearGradient id="qR71" gradientUnits="userSpaceOnUse" x1="3286.7" y1="533.3" x2="2773.3" y2="377.8"><stop offset="0" stop-color="#c4d362"/><stop offset="0.2" stop-color="#c3d463"/><stop offset="0.5" stop-color="#bcd464"/><stop offset="0.8" stop-color="#b5d466"/><stop offset="1" stop-color="#afd469"/></linearGradient><linearGradient id="qR72" gradientUnits="userSpaceOnUse" x1="3292.5" y1="530.4" x2="2779.1" y2="374.8"><stop offset="0" stop-color="#c4d362"/><stop offset="0.2" stop-color="#c3d463"/><stop offset="0.5" stop-color="#bdd464"/><stop offset="0.8" stop-color="#b5d466"/><stop offset="1" stop-color="#afd468"/></linearGradient><linearGradient id="qR73" gradientUnits="userSpaceOnUse" x1="3298.2" y1="527.6" x2="2784.9" y2="371.8"><stop offset="0" stop-color="#c4d362"/><stop offset="0.2" stop-color="#c3d463"/><stop offset="0.5" stop-color="#bdd464"/><stop offset="0.8" stop-color="#b5d466"/><stop offset="1" stop-color="#b0d468"/></linearGradient><linearGradient id="qR74" gradientUnits="userSpaceOnUse" x1="3304" y1="524.7" x2="2790.7" y2="368.8"><stop offset="0" stop-color="#c4d362"/><stop offset="0.2" stop-color="#c3d463"/><stop offset="0.5" stop-color="#bdd464"/><stop offset="0.8" stop-color="#b6d466"/><stop offset="1" stop-color="#b0d468"/></linearGradient><linearGradient id="qR75" gradientUnits="userSpaceOnUse" x1="3309.8" y1="521.9" x2="2796.5" y2="366"><stop offset="0" stop-color="#c4d362"/><stop offset="0.2" stop-color="#c3d463"/><stop offset="0.5" stop-color="#bed464"/><stop offset="0.8" stop-color="#b6d466"/><stop offset="1" stop-color="#b1d467"/></linearGradient><linearGradient id="qR76" gradientUnits="userSpaceOnUse" x1="3315.5" y1="519.1" x2="2802.3" y2="363.1"><stop offset="0" stop-color="#c4d362"/><stop offset="0.2" stop-color="#c3d463"/><stop offset="0.5" stop-color="#bed464"/><stop offset="0.8" stop-color="#b6d466"/><stop offset="1" stop-color="#b1d467"/></linearGradient><linearGradient id="qR77" gradientUnits="userSpaceOnUse" x1="3321.3" y1="516.4" x2="2808.1" y2="360.3"><stop offset="0" stop-color="#c4d362"/><stop offset="0.2" stop-color="#c4d363"/><stop offset="0.5" stop-color="#bed464"/><stop offset="0.8" stop-color="#b6d466"/><stop offset="1" stop-color="#b1d467"/></linearGradient><linearGradient id="qR78" gradientUnits="userSpaceOnUse" x1="3327" y1="513.6" x2="2814" y2="357.5"><stop offset="0" stop-color="#c5d362"/><stop offset="0.2" stop-color="#c4d363"/><stop offset="0.5" stop-color="#bed464"/><stop offset="0.8" stop-color="#b7d466"/><stop offset="1" stop-color="#b2d467"/></linearGradient><linearGradient id="qR79" gradientUnits="userSpaceOnUse" x1="3332.8" y1="510.9" x2="2819.8" y2="354.8"><stop offset="0" stop-color="#c5d362"/><stop offset="0.2" stop-color="#c4d363"/><stop offset="0.5" stop-color="#bfd464"/><stop offset="0.8" stop-color="#b7d465"/><stop offset="1" stop-color="#b2d467"/></linearGradient><linearGradient id="qR80" gradientUnits="userSpaceOnUse" x1="3338.5" y1="508.2" x2="2825.6" y2="352"><stop offset="0" stop-color="#c5d362"/><stop offset="0.2" stop-color="#c4d363"/><stop offset="0.5" stop-color="#bfd464"/><stop offset="0.8" stop-color="#b7d465"/><stop offset="1" stop-color="#b2d466"/></linearGradient><linearGradient id="qR81" gradientUnits="userSpaceOnUse" x1="3344.3" y1="505.5" x2="2831.4" y2="349.3"><stop offset="0" stop-color="#c5d362"/><stop offset="0.2" stop-color="#c4d363"/><stop offset="0.5" stop-color="#bfd464"/><stop offset="0.8" stop-color="#b7d465"/><stop offset="1" stop-color="#b2d466"/></linearGradient><linearGradient id="qR82" gradientUnits="userSpaceOnUse" x1="3350.1" y1="502.8" x2="2837.2" y2="346.6"><stop offset="0" stop-color="#c5d362"/><stop offset="0.2" stop-color="#c4d363"/><stop offset="0.5" stop-color="#bfd464"/><stop offset="0.8" stop-color="#b8d465"/><stop offset="1" stop-color="#b3d466"/></linearGradient><linearGradient id="qR83" gradientUnits="userSpaceOnUse" x1="3355.8" y1="500.1" x2="2843" y2="343.9"><stop offset="0" stop-color="#c5d362"/><stop offset="0.2" stop-color="#c4d362"/><stop offset="0.5" stop-color="#c0d464"/><stop offset="0.8" stop-color="#b8d465"/><stop offset="1" stop-color="#b3d466"/></linearGradient><linearGradient id="qR84" gradientUnits="userSpaceOnUse" x1="3361.6" y1="497.4" x2="2848.8" y2="341.2"><stop offset="0" stop-color="#c5d362"/><stop offset="0.2" stop-color="#c4d362"/><stop offset="0.5" stop-color="#c0d464"/><stop offset="0.8" stop-color="#b8d465"/><stop offset="1" stop-color="#b3d466"/></linearGradient><linearGradient id="qR85" gradientUnits="userSpaceOnUse" x1="3367.3" y1="494.7" x2="2854.6" y2="338.6"><stop offset="0" stop-color="#c5d362"/><stop offset="0.2" stop-color="#c4d362"/><stop offset="0.5" stop-color="#c0d464"/><stop offset="0.8" stop-color="#b8d465"/><stop offset="1" stop-color="#b3d466"/></linearGradient><linearGradient id="qR86" gradientUnits="userSpaceOnUse" x1="3373.1" y1="492" x2="2860.4" y2="335.9"><stop offset="0" stop-color="#c5d362"/><stop offset="0.2" stop-color="#c4d362"/><stop offset="0.5" stop-color="#c0d463"/><stop offset="0.8" stop-color="#b8d465"/><stop offset="1" stop-color="#b4d466"/></linearGradient><linearGradient id="qR87" gradientUnits="userSpaceOnUse" x1="3378.9" y1="489.3" x2="2866.2" y2="333.2"><stop offset="0" stop-color="#c5d362"/><stop offset="0.2" stop-color="#c4d362"/><stop offset="0.5" stop-color="#c0d463"/><stop offset="0.8" stop-color="#b9d465"/><stop offset="1" stop-color="#b4d466"/></linearGradient><linearGradient id="qR88" gradientUnits="userSpaceOnUse" x1="3384.6" y1="486.6" x2="2872" y2="330.5"><stop offset="0" stop-color="#c5d262"/><stop offset="0.2" stop-color="#c4d362"/><stop offset="0.5" stop-color="#c1d463"/><stop offset="0.8" stop-color="#b9d465"/><stop offset="1" stop-color="#b4d466"/></linearGradient><linearGradient id="qR89" gradientUnits="userSpaceOnUse" x1="3390.4" y1="483.9" x2="2877.8" y2="327.8"><stop offset="0" stop-color="#c5d262"/><stop offset="0.2" stop-color="#c4d362"/><stop offset="0.5" stop-color="#c1d463"/><stop offset="0.8" stop-color="#b9d465"/><stop offset="1" stop-color="#b4d466"/></linearGradient><linearGradient id="qR90" gradientUnits="userSpaceOnUse" x1="3396.1" y1="481.1" x2="2883.7" y2="325.1"><stop offset="0" stop-color="#c5d262"/><stop offset="0.2" stop-color="#c4d362"/><stop offset="0.5" stop-color="#c1d463"/><stop offset="0.8" stop-color="#b9d465"/><stop offset="1" stop-color="#b4d466"/></linearGradient><linearGradient id="qR91" gradientUnits="userSpaceOnUse" x1="3401.9" y1="478.4" x2="2889.5" y2="322.3"><stop offset="0" stop-color="#c5d262"/><stop offset="0.2" stop-color="#c4d362"/><stop offset="0.5" stop-color="#c1d463"/><stop offset="0.8" stop-color="#b9d465"/><stop offset="1" stop-color="#b5d466"/></linearGradient><linearGradient id="qR92" gradientUnits="userSpaceOnUse" x1="3407.6" y1="475.6" x2="2895.3" y2="319.6"><stop offset="0" stop-color="#c5d262"/><stop offset="0.2" stop-color="#c4d362"/><stop offset="0.5" stop-color="#c2d463"/><stop offset="0.8" stop-color="#bad465"/><stop offset="1" stop-color="#b5d466"/></linearGradient><linearGradient id="qR93" gradientUnits="userSpaceOnUse" x1="3413.4" y1="472.8" x2="2901.1" y2="316.8"><stop offset="0" stop-color="#c5d261"/><stop offset="0.2" stop-color="#c4d362"/><stop offset="0.5" stop-color="#c2d463"/><stop offset="0.8" stop-color="#bad465"/><stop offset="1" stop-color="#b5d466"/></linearGradient><linearGradient id="qR94" gradientUnits="userSpaceOnUse" x1="3419.2" y1="469.9" x2="2906.9" y2="313.9"><stop offset="0" stop-color="#c5d261"/><stop offset="0.2" stop-color="#c4d362"/><stop offset="0.5" stop-color="#c2d463"/><stop offset="0.8" stop-color="#bad465"/><stop offset="1" stop-color="#b5d466"/></linearGradient><linearGradient id="qR95" gradientUnits="userSpaceOnUse" x1="3424.9" y1="467.1" x2="2912.7" y2="311.1"><stop offset="0" stop-color="#c5d261"/><stop offset="0.2" stop-color="#c4d362"/><stop offset="0.5" stop-color="#c3d463"/><stop offset="0.8" stop-color="#bad465"/><stop offset="1" stop-color="#b6d466"/></linearGradient><linearGradient id="qR96" gradientUnits="userSpaceOnUse" x1="3430.7" y1="464.2" x2="2918.5" y2="308.2"><stop offset="0" stop-color="#c5d261"/><stop offset="0.2" stop-color="#c4d362"/><stop offset="0.5" stop-color="#c3d463"/><stop offset="0.8" stop-color="#bad465"/><stop offset="1" stop-color="#b6d466"/></linearGradient><linearGradient id="qR97" gradientUnits="userSpaceOnUse" x1="3436.4" y1="461.2" x2="2924.3" y2="305.2"><stop offset="0" stop-color="#c5d261"/><stop offset="0.2" stop-color="#c5d362"/><stop offset="0.5" stop-color="#c3d463"/><stop offset="0.8" stop-color="#bbd465"/><stop offset="1" stop-color="#b6d466"/></linearGradient><linearGradient id="qR98" gradientUnits="userSpaceOnUse" x1="3442.2" y1="458.2" x2="2930.1" y2="302.2"><stop offset="0" stop-color="#c5d261"/><stop offset="0.2" stop-color="#c5d362"/><stop offset="0.5" stop-color="#c3d463"/><stop offset="0.8" stop-color="#bbd465"/><stop offset="1" stop-color="#b6d466"/></linearGradient><linearGradient id="qR99" gradientUnits="userSpaceOnUse" x1="3448" y1="455.2" x2="2935.9" y2="299.1"><stop offset="0" stop-color="#c5d261"/><stop offset="0.2" stop-color="#c5d362"/><stop offset="0.5" stop-color="#c3d463"/><stop offset="0.8" stop-color="#bbd465"/><stop offset="1" stop-color="#b7d466"/></linearGradient><linearGradient id="qR100" gradientUnits="userSpaceOnUse" x1="3453.7" y1="452.2" x2="2941.7" y2="296"><stop offset="0" stop-color="#c6d261"/><stop offset="0.2" stop-color="#c5d362"/><stop offset="0.5" stop-color="#c4d363"/><stop offset="0.8" stop-color="#bcd464"/><stop offset="1" stop-color="#b7d465"/></linearGradient><linearGradient id="qR101" gradientUnits="userSpaceOnUse" x1="3459.5" y1="449" x2="2947.5" y2="292.9"><stop offset="0" stop-color="#c6d261"/><stop offset="0.2" stop-color="#c5d362"/><stop offset="0.5" stop-color="#c4d363"/><stop offset="0.8" stop-color="#bcd464"/><stop offset="1" stop-color="#b7d465"/></linearGradient><linearGradient id="qR102" gradientUnits="userSpaceOnUse" x1="3465.2" y1="445.9" x2="2953.4" y2="289.6"><stop offset="0" stop-color="#c6d261"/><stop offset="0.2" stop-color="#c5d362"/><stop offset="0.5" stop-color="#c4d363"/><stop offset="0.8" stop-color="#bcd464"/><stop offset="1" stop-color="#b8d465"/></linearGradient><linearGradient id="qR103" gradientUnits="userSpaceOnUse" x1="3471" y1="442.6" x2="2959.2" y2="286.3"><stop offset="0" stop-color="#c6d261"/><stop offset="0.2" stop-color="#c5d262"/><stop offset="0.5" stop-color="#c4d363"/><stop offset="0.8" stop-color="#bcd464"/><stop offset="1" stop-color="#b8d465"/></linearGradient><linearGradient id="qR104" gradientUnits="userSpaceOnUse" x1="3476.7" y1="439.4" x2="2965" y2="282.9"><stop offset="0" stop-color="#c6d261"/><stop offset="0.2" stop-color="#c5d262"/><stop offset="0.5" stop-color="#c4d362"/><stop offset="0.8" stop-color="#bdd464"/><stop offset="1" stop-color="#b9d465"/></linearGradient><linearGradient id="qR105" gradientUnits="userSpaceOnUse" x1="3482.5" y1="436" x2="2970.8" y2="279.5"><stop offset="0" stop-color="#c6d261"/><stop offset="0.2" stop-color="#c5d262"/><stop offset="0.5" stop-color="#c4d362"/><stop offset="0.8" stop-color="#bdd464"/><stop offset="1" stop-color="#b9d465"/></linearGradient><linearGradient id="qR106" gradientUnits="userSpaceOnUse" x1="3488.3" y1="432.6" x2="2976.6" y2="275.9"><stop offset="0" stop-color="#c6d261"/><stop offset="0.2" stop-color="#c5d261"/><stop offset="0.5" stop-color="#c4d362"/><stop offset="0.8" stop-color="#bed464"/><stop offset="1" stop-color="#b9d465"/></linearGradient><linearGradient id="qR107" gradientUnits="userSpaceOnUse" x1="3494" y1="429.1" x2="2982.4" y2="272.3"><stop offset="0" stop-color="#c6d261"/><stop offset="0.2" stop-color="#c5d261"/><stop offset="0.5" stop-color="#c4d362"/><stop offset="0.8" stop-color="#bed464"/><stop offset="1" stop-color="#bad465"/></linearGradient><linearGradient id="qR108" gradientUnits="userSpaceOnUse" x1="3499.8" y1="425.6" x2="2988.2" y2="268.6"><stop offset="0" stop-color="#c6d261"/><stop offset="0.2" stop-color="#c5d261"/><stop offset="0.5" stop-color="#c4d362"/><stop offset="0.8" stop-color="#bed464"/><stop offset="1" stop-color="#bad465"/></linearGradient><linearGradient id="qR109" gradientUnits="userSpaceOnUse" x1="3505.5" y1="422" x2="2994" y2="264.7"><stop offset="0" stop-color="#c6d261"/><stop offset="0.2" stop-color="#c5d261"/><stop offset="0.5" stop-color="#c4d362"/><stop offset="0.8" stop-color="#bfd464"/><stop offset="1" stop-color="#bbd465"/></linearGradient><linearGradient id="qR110" gradientUnits="userSpaceOnUse" x1="3511.3" y1="418.3" x2="2999.8" y2="260.8"><stop offset="0" stop-color="#c6d261"/><stop offset="0.2" stop-color="#c6d261"/><stop offset="0.5" stop-color="#c4d362"/><stop offset="0.8" stop-color="#bfd464"/><stop offset="1" stop-color="#bbd465"/></linearGradient><linearGradient id="qR111" gradientUnits="userSpaceOnUse" x1="3517.1" y1="414.5" x2="3005.6" y2="256.8"><stop offset="0" stop-color="#c6d261"/><stop offset="0.2" stop-color="#c6d261"/><stop offset="0.5" stop-color="#c4d362"/><stop offset="0.8" stop-color="#c0d464"/><stop offset="1" stop-color="#bcd464"/></linearGradient><linearGradient id="qR112" gradientUnits="userSpaceOnUse" x1="3522.8" y1="410.7" x2="3011.4" y2="252.7"><stop offset="0" stop-color="#c6d261"/><stop offset="0.2" stop-color="#c6d261"/><stop offset="0.5" stop-color="#c5d362"/><stop offset="0.8" stop-color="#c0d463"/><stop offset="1" stop-color="#bcd464"/></linearGradient><linearGradient id="qR113" gradientUnits="userSpaceOnUse" x1="3528.6" y1="406.8" x2="3017.2" y2="248.5"><stop offset="0" stop-color="#c6d261"/><stop offset="0.2" stop-color="#c6d261"/><stop offset="0.5" stop-color="#c5d362"/><stop offset="0.8" stop-color="#c1d463"/><stop offset="1" stop-color="#bdd464"/></linearGradient><linearGradient id="qR114" gradientUnits="userSpaceOnUse" x1="3534.3" y1="402.8" x2="3023.1" y2="244.1"><stop offset="0" stop-color="#c6d261"/><stop offset="0.2" stop-color="#c6d261"/><stop offset="0.5" stop-color="#c5d362"/><stop offset="0.8" stop-color="#c1d463"/><stop offset="1" stop-color="#bdd464"/></linearGradient><linearGradient id="qR115" gradientUnits="userSpaceOnUse" x1="3540.1" y1="398.6" x2="3028.9" y2="239.6"><stop offset="0" stop-color="#c6d261"/><stop offset="0.2" stop-color="#c6d261"/><stop offset="0.5" stop-color="#c5d362"/><stop offset="0.8" stop-color="#c2d463"/><stop offset="1" stop-color="#bed464"/></linearGradient><linearGradient id="qR116" gradientUnits="userSpaceOnUse" x1="3545.8" y1="394.5" x2="3034.7" y2="235.1"><stop offset="0" stop-color="#c6d261"/><stop offset="0.2" stop-color="#c6d261"/><stop offset="0.5" stop-color="#c5d262"/><stop offset="0.8" stop-color="#c2d463"/><stop offset="1" stop-color="#bfd464"/></linearGradient><linearGradient id="qR117" gradientUnits="userSpaceOnUse" x1="3551.6" y1="390.2" x2="3040.5" y2="230.3"><stop offset="0" stop-color="#c6d261"/><stop offset="0.2" stop-color="#c6d261"/><stop offset="0.5" stop-color="#c5d262"/><stop offset="0.8" stop-color="#c3d463"/><stop offset="1" stop-color="#bfd464"/></linearGradient><linearGradient id="qR118" gradientUnits="userSpaceOnUse" x1="3557.4" y1="385.8" x2="3046.3" y2="225.5"><stop offset="0" stop-color="#c6d261"/><stop offset="0.2" stop-color="#c6d261"/><stop offset="0.5" stop-color="#c5d261"/><stop offset="0.8" stop-color="#c3d463"/><stop offset="1" stop-color="#c0d464"/></linearGradient><linearGradient id="qR119" gradientUnits="userSpaceOnUse" x1="3563.1" y1="381.3" x2="3052.1" y2="220.5"><stop offset="0" stop-color="#c6d261"/><stop offset="0.2" stop-color="#c6d261"/><stop offset="0.5" stop-color="#c5d261"/><stop offset="0.8" stop-color="#c4d363"/><stop offset="1" stop-color="#c1d463"/></linearGradient><g id="qR"><path d="M2874.7,994.6L2810,956.4L2745.4,941.6L2680.7,933.3L2616.1,925.8L2551.4,917L2486.8,908.4L2422.1,895.4L2357.4,860.4L2364.4,855.3L2428.9,888.8L2493.5,901.1L2558.1,909.2L2622.7,917.4L2687.3,924.4L2751.9,932.1L2816.5,946.2L2881.1,983Z" fill="url(#qR0)"/><path d="M2880.4,984.2L2815.8,947.4L2751.1,933.3L2686.5,925.5L2621.9,918.5L2557.2,910.3L2492.6,902.2L2428,889.8L2363.3,856.2L2370.1,850L2434.7,882.4L2499.3,894.2L2563.9,901.9L2628.5,909.6L2693.1,916.2L2757.7,923.6L2822.3,937.1L2886.9,972.6Z" fill="url(#qR1)"/><path d="M2886.2,973.8L2821.5,938.3L2756.9,924.7L2692.3,917.4L2627.7,910.7L2563,903L2498.4,895.3L2433.8,883.5L2369.1,851L2375.9,844L2440.5,875.4L2505.1,886.7L2569.7,894.1L2634.3,901.5L2698.9,907.8L2763.4,914.9L2828,927.9L2892.6,962.3Z" fill="url(#qR2)"/><path d="M2891.9,963.5L2827.3,929.1L2762.7,916L2698.1,909L2633.5,902.6L2568.8,895.2L2504.2,887.8L2439.6,876.4L2375,845L2381.7,837.3L2446.3,867.7L2510.8,878.7L2575.4,885.8L2640,893L2704.6,899.2L2769.2,906L2833.8,918.6L2898.4,952Z" fill="url(#qR3)"/><path d="M2897.7,953.2L2833.1,919.8L2768.5,907.2L2703.9,900.3L2639.2,894.2L2574.6,887L2510,879.9L2445.4,868.8L2380.8,838.3L2387.5,829.9L2452,859.5L2516.6,870.3L2581.2,877.2L2645.8,884.3L2710.4,890.3L2775,897L2839.6,909.4L2904.1,941.8Z" fill="url(#qR4)"/><path d="M2903.4,943L2838.8,910.5L2774.2,898.2L2709.6,891.5L2645,885.5L2580.4,878.4L2515.8,871.4L2451.2,860.6L2386.6,831L2393.3,822L2457.8,850.8L2522.4,861.4L2587,868.3L2651.6,875.3L2716.2,881.3L2780.8,887.9L2845.3,900L2909.9,931.6Z" fill="url(#qR5)"/><path d="M2909.2,932.9L2844.6,901.2L2780,889.1L2715.4,882.5L2650.8,876.5L2586.2,869.5L2521.7,862.6L2457.1,852L2392.5,823.1L2399.1,813.6L2463.6,841.8L2528.2,852.3L2592.8,859.2L2657.4,866.1L2721.9,872.1L2786.5,878.8L2851.1,890.7L2915.7,921.6Z" fill="url(#qR6)"/><path d="M2915,922.8L2850.4,891.9L2785.8,880L2721.2,873.3L2656.6,867.3L2592,860.3L2527.5,853.5L2462.9,843L2398.3,814.7L2404.9,804.8L2469.4,832.4L2534,842.8L2598.6,849.8L2663.1,856.8L2727.7,862.9L2792.3,869.6L2856.9,881.4L2921.4,911.6Z" fill="url(#qR7)"/><path d="M2920.7,912.8L2856.1,882.6L2791.5,870.8L2727,864L2662.4,858L2597.8,851L2533.3,844L2468.7,833.6L2404.1,806L2410.7,795.7L2475.2,822.8L2539.8,833.2L2604.3,840.2L2668.9,847.3L2733.5,853.5L2798.1,860.3L2862.6,872.1L2927.2,901.7Z" fill="url(#qR8)"/><path d="M2926.5,902.9L2861.9,873.3L2797.3,861.5L2732.8,854.7L2668.2,848.5L2603.6,841.4L2539.1,834.4L2474.5,824L2409.9,796.9L2416.5,786.4L2481,813L2545.6,823.5L2610.1,830.6L2674.7,837.8L2739.3,844.1L2803.8,851.1L2868.4,862.9L2932.9,891.9Z" fill="url(#qR9)"/><path d="M2932.2,893.1L2867.6,864.1L2803.1,852.3L2738.5,845.3L2674,839L2609.4,831.8L2544.9,824.7L2480.3,814.2L2415.7,787.6L2422.3,777L2486.8,803.2L2551.4,813.6L2615.9,820.9L2680.5,828.2L2745,834.7L2809.6,841.9L2874.2,853.7L2938.7,882.1Z" fill="url(#qR10)"/><path d="M2938,883.3L2873.4,854.8L2808.9,843L2744.3,835.9L2679.8,829.4L2615.2,822.1L2550.6,814.8L2486.1,804.4L2421.5,778.2L2428.1,767.5L2492.6,793.2L2557.2,803.8L2621.7,811.2L2686.3,818.7L2750.8,825.4L2815.4,832.7L2879.9,844.5L2944.5,872.5Z" fill="url(#qR11)"/><path d="M2943.7,873.7L2879.2,845.7L2814.6,833.9L2750.1,826.6L2685.5,819.9L2621,812.4L2556.4,805L2491.9,794.4L2427.3,768.7L2433.9,757.9L2498.4,783.3L2563,793.9L2627.5,801.5L2692,809.2L2756.6,816.1L2821.1,823.6L2885.7,835.4L2950.2,863Z" fill="url(#qR12)"/><path d="M2949.5,864.2L2884.9,836.6L2820.4,824.7L2755.9,817.3L2691.3,810.4L2626.8,802.7L2562.2,795.1L2497.7,784.5L2433.1,759.1L2439.7,748.4L2504.2,773.4L2568.7,784.1L2633.3,791.9L2697.8,799.7L2762.4,806.8L2826.9,814.5L2891.5,826.4L2956,853.5Z" fill="url(#qR13)"/><path d="M2955.2,854.7L2890.7,827.6L2826.2,815.7L2761.6,808L2697.1,800.9L2632.6,793.1L2568,785.3L2503.5,774.6L2439,749.6L2445.5,738.9L2510,763.6L2574.5,774.4L2639.1,782.3L2703.6,790.3L2768.2,797.6L2832.7,805.5L2897.2,817.5L2961.7,844.2Z" fill="url(#qR14)"/><path d="M2961,845.4L2896.5,818.7L2831.9,806.7L2767.4,798.8L2702.9,791.5L2638.4,783.5L2573.8,775.6L2509.3,764.8L2444.8,740.1L2451.3,729.4L2515.8,753.7L2580.3,764.7L2644.9,772.8L2709.4,781L2773.9,788.5L2838.5,796.6L2903,808.7L2967.5,835Z" fill="url(#qR15)"/><path d="M2966.8,836.2L2902.2,809.9L2837.7,797.8L2773.2,789.7L2708.7,782.2L2644.1,774L2579.6,765.9L2515.1,754.9L2450.6,730.6L2457.1,719.9L2521.6,743.9L2586.1,755L2650.7,763.3L2715.2,771.7L2779.7,779.5L2844.2,787.8L2908.8,800L2973.3,825.9Z" fill="url(#qR16)"/><path d="M2972.5,827.1L2908,801.2L2843.5,789L2779,780.6L2714.4,772.9L2649.9,764.5L2585.4,756.2L2520.9,745.2L2456.4,721L2462.9,710.4L2527.4,734.2L2591.9,745.4L2656.5,753.9L2721,762.5L2785.5,770.5L2850,779L2914.5,791.4L2979,816.9Z" fill="url(#qR17)"/><path d="M2978.3,818.1L2913.7,792.5L2849.2,780.2L2784.7,771.7L2720.2,763.7L2655.7,755.1L2591.2,746.6L2526.7,735.4L2462.2,711.6L2468.7,700.9L2533.2,724.5L2597.7,735.8L2662.2,744.5L2726.8,753.3L2791.3,761.6L2855.8,770.4L2920.3,782.8L2984.8,808.1Z" fill="url(#qR18)"/><path d="M2984,809.3L2919.5,784L2855,771.6L2790.5,762.8L2726,754.5L2661.5,745.7L2597,737L2532.5,725.7L2468,702.1L2474.5,691.5L2539,714.8L2603.5,726.3L2668,735.3L2732.5,744.3L2797.1,752.8L2861.6,761.8L2926.1,774.4L2990.6,799.4Z" fill="url(#qR19)"/><path d="M2989.8,800.6L2925.3,775.6L2860.8,763L2796.3,754L2731.8,745.5L2667.3,736.4L2602.8,727.5L2538.3,716L2473.8,692.7L2480.3,682.1L2544.8,705.3L2609.3,716.9L2673.8,726.1L2738.3,735.3L2802.8,744.1L2867.3,753.4L2931.8,766.1L2996.3,790.8Z" fill="url(#qR20)"/><path d="M2995.5,792L2931,767.3L2866.5,754.5L2802.1,745.2L2737.6,736.5L2673.1,727.2L2608.6,718.1L2544.1,706.4L2479.6,683.3L2486.2,672.7L2550.6,695.7L2615.1,707.5L2679.6,716.9L2744.1,726.4L2808.6,735.5L2873.1,745.1L2937.6,758L3002.1,782.4Z" fill="url(#qR21)"/><path d="M3001.3,783.5L2936.8,759.1L2872.3,746.2L2807.8,736.6L2743.3,727.6L2678.9,718.1L2614.4,708.7L2549.9,696.9L2485.4,673.9L2492,663.4L2556.4,686.3L2620.9,698.3L2685.4,707.9L2749.9,717.6L2814.4,727L2878.9,736.8L2943.4,749.9L3007.8,774.1Z" fill="url(#qR22)"/><path d="M3007,775.3L2942.5,751L2878.1,738L2813.6,728.1L2749.1,718.8L2684.7,709.1L2620.2,699.5L2555.7,687.5L2491.2,664.6L2497.8,654.2L2562.2,676.9L2626.7,689.1L2691.2,699L2755.7,709L2820.2,718.6L2884.7,728.7L2949.1,742L3013.6,766Z" fill="url(#qR23)"/><path d="M3012.8,767.1L2948.3,743.1L2883.8,729.9L2819.4,719.7L2754.9,710.1L2690.4,700.2L2626,690.3L2561.5,678.1L2497,655.4L2503.6,645L2568,667.7L2632.5,680L2697,690.2L2761.5,700.4L2826,710.3L2890.4,720.7L2954.9,734.2L3019.4,758Z" fill="url(#qR24)"/><path d="M3018.5,759.2L2954.1,735.3L2889.6,721.9L2825.1,711.4L2760.7,701.6L2696.2,691.4L2631.8,681.2L2567.3,668.8L2502.8,646.2L2509.4,636L2573.9,658.5L2638.3,671.1L2702.8,681.5L2767.3,692L2831.7,702.1L2896.2,712.9L2960.7,726.5L3025.1,750.2Z" fill="url(#qR25)"/><path d="M3024.3,751.3L2959.8,727.7L2895.4,714L2830.9,703.3L2766.5,693.1L2702,682.7L2637.6,672.3L2573.1,659.7L2508.6,637.1L2515.2,627L2579.7,649.4L2644.1,662.2L2708.6,672.9L2773,683.6L2837.5,694.1L2902,705.2L2966.4,719.1L3030.9,742.6Z" fill="url(#qR26)"/><path d="M3030,743.7L2965.6,720.2L2901.1,706.3L2836.7,695.3L2772.2,684.8L2707.8,674.1L2643.3,663.4L2578.9,650.6L2514.4,628.2L2521,618.1L2585.5,640.5L2649.9,653.5L2714.4,664.5L2778.8,675.5L2843.3,686.3L2907.8,697.6L2972.2,711.7L3036.7,735.1Z" fill="url(#qR27)"/><path d="M3035.8,736.2L2971.3,712.8L2906.9,698.7L2842.5,687.4L2778,676.6L2713.6,665.6L2649.1,654.7L2584.7,641.7L2520.2,619.3L2526.8,609.3L2591.3,631.7L2655.7,644.9L2720.2,656.2L2784.6,667.4L2849.1,678.5L2913.5,690.2L2978,704.5L3042.4,727.8Z" fill="url(#qR28)"/><path d="M3041.6,728.9L2977.1,705.6L2912.7,691.3L2848.2,679.6L2783.8,668.6L2719.4,657.3L2654.9,646.1L2590.5,632.8L2526.1,610.5L2532.6,600.7L2597.1,623L2661.5,636.5L2726,648L2790.4,659.5L2854.9,670.9L2919.3,682.9L2983.8,697.5L3048.2,720.7Z" fill="url(#qR29)"/><path d="M3047.3,721.8L2982.9,698.6L2918.4,684L2854,672L2789.6,660.7L2725.2,649.1L2660.7,637.7L2596.3,624.2L2531.9,601.8L2538.5,592.2L2602.9,614.5L2667.3,628.2L2731.8,640L2796.2,651.8L2860.6,663.5L2925.1,675.8L2989.5,690.6L3054,713.7Z" fill="url(#qR30)"/><path d="M3053.1,714.8L2988.6,691.7L2924.2,676.9L2859.8,664.6L2795.4,652.9L2730.9,641.1L2666.5,629.4L2602.1,615.6L2537.7,593.3L2544.3,583.8L2608.7,606.1L2673.1,620.1L2737.6,632.1L2802,644.2L2866.4,656.2L2930.9,668.8L2995.3,683.9L3059.7,706.9Z" fill="url(#qR31)"/><path d="M3058.8,708L2994.4,684.9L2930,669.9L2865.6,657.3L2801.1,645.3L2736.7,633.2L2672.3,621.2L2607.9,607.2L2543.5,584.9L2550.1,575.5L2614.5,597.9L2678.9,612.1L2743.4,624.4L2807.8,636.7L2872.2,649.1L2936.6,662L3001.1,677.3L3065.5,700.3Z" fill="url(#qR32)"/><path d="M3064.6,701.3L3000.1,678.3L2935.7,663.1L2871.3,650.1L2806.9,637.8L2742.5,625.5L2678.1,613.2L2613.7,599L2549.3,576.7L2555.9,567.5L2620.3,589.8L2684.7,604.3L2749.1,616.8L2813.6,629.4L2878,642.1L2942.4,655.3L3006.8,670.9L3071.2,693.8Z" fill="url(#qR33)"/><path d="M3070.3,694.8L3005.9,671.9L2941.5,656.4L2877.1,643.1L2812.7,630.5L2748.3,617.9L2683.9,605.4L2619.5,590.9L2555.1,568.6L2561.7,559.5L2626.1,581.9L2690.5,596.6L2754.9,609.4L2819.4,622.3L2883.8,635.2L2948.2,648.8L3012.6,664.6L3077,687.5Z" fill="url(#qR34)"/><path d="M3076.1,688.5L3011.7,665.6L2947.3,649.8L2882.9,636.3L2818.5,623.4L2754.1,610.5L2689.7,597.7L2625.3,583L2560.9,560.7L2567.5,551.8L2631.9,574.2L2696.3,589.1L2760.7,602.2L2825.1,615.3L2889.6,628.5L2954,642.4L3018.4,658.4L3082.8,681.3Z" fill="url(#qR35)"/><path d="M3081.8,682.3L3017.4,659.4L2953,643.4L2888.6,629.6L2824.2,616.4L2759.9,603.3L2695.5,590.2L2631.1,575.3L2566.7,552.9L2573.3,544.3L2637.7,566.7L2702.1,581.8L2766.5,595.1L2830.9,608.5L2895.3,622L2959.7,636.2L3024.1,652.4L3088.5,675.3Z" fill="url(#qR36)"/><path d="M3087.6,676.3L3023.2,653.4L2958.8,637.2L2894.4,623.1L2830,609.6L2765.6,596.2L2701.3,582.9L2636.9,567.8L2572.5,545.4L2579.2,536.9L2643.5,559.4L2707.9,574.7L2772.3,588.3L2836.7,601.9L2901.1,615.6L2965.5,630.1L3029.9,646.6L3094.3,669.4Z" fill="url(#qR37)"/><path d="M3093.3,670.4L3028.9,647.6L2964.6,631.1L2900.2,616.7L2835.8,602.9L2771.4,589.3L2707,575.8L2642.7,560.5L2578.3,538L2585,529.7L2649.3,552.2L2713.7,567.8L2778.1,581.6L2842.5,595.4L2906.9,609.4L2971.3,624.2L3035.7,640.9L3100.1,663.6Z" fill="url(#qR38)"/><path d="M3099.1,664.6L3034.7,641.8L2970.3,625.2L2905.9,610.5L2841.6,596.4L2777.2,582.6L2712.8,568.9L2648.5,553.3L2584.1,530.8L2590.8,522.8L2655.2,545.3L2719.5,561.1L2783.9,575.1L2848.3,589.1L2912.7,603.4L2977.1,618.4L3041.5,635.3L3105.8,658Z" fill="url(#qR39)"/><path d="M3104.8,659L3040.4,636.2L2976.1,619.3L2911.7,604.4L2847.4,590.1L2783,576.1L2718.6,562.1L2654.3,546.4L2589.9,523.8L2596.6,516L2661,538.6L2725.3,554.5L2789.7,568.7L2854.1,582.9L2918.5,597.5L2982.9,612.7L3047.2,629.8L3111.6,652.6Z" fill="url(#qR40)"/><path d="M3110.6,653.5L3046.2,630.8L2981.8,613.7L2917.5,598.5L2853.1,583.9L2788.8,569.7L2724.4,555.6L2660,539.6L2595.7,517L2602.4,509.4L2666.8,532L2731.1,548.1L2795.5,562.5L2859.9,576.9L2924.3,591.7L2988.6,607.2L3053,624.5L3117.4,647.2Z" fill="url(#qR41)"/><path d="M3116.3,648.2L3052,625.5L2987.6,608.1L2923.3,592.7L2858.9,577.9L2794.6,563.5L2730.2,549.2L2665.8,533L2601.5,510.4L2608.2,503L2672.6,525.6L2736.9,541.9L2801.3,556.5L2865.7,571.1L2930,586.1L2994.4,601.8L3058.8,619.3L3123.1,642Z" fill="url(#qR42)"/><path d="M3122.1,642.9L3057.7,620.3L2993.4,602.7L2929,587L2864.7,572.1L2800.3,557.5L2736,543L2671.6,526.6L2607.3,504L2614,496.7L2678.4,519.4L2742.8,535.9L2807.1,550.6L2871.5,565.4L2935.8,580.6L3000.2,596.5L3064.5,614.3L3128.9,636.9Z" fill="url(#qR43)"/><path d="M3127.8,637.8L3063.5,615.2L2999.1,597.5L2934.8,581.5L2870.5,566.4L2806.1,551.6L2741.8,536.9L2677.4,520.4L2613.1,497.7L2619.9,490.7L2684.2,513.4L2748.6,530L2812.9,544.9L2877.3,559.8L2941.6,575.2L3006,591.4L3070.3,609.3L3134.7,631.9Z" fill="url(#qR44)"/><path d="M3133.6,632.9L3069.2,610.2L3004.9,592.3L2940.6,576.2L2876.2,560.8L2811.9,545.9L2747.6,531L2683.2,514.4L2618.9,491.7L2625.7,484.8L2690,507.5L2754.4,524.3L2818.7,539.3L2883,554.4L2947.4,570L3011.7,586.4L3076.1,604.5L3140.4,627.1Z" fill="url(#qR45)"/><path d="M3139.3,628L3075,605.4L3010.7,587.3L2946.3,570.9L2882,555.4L2817.7,540.3L2753.4,525.3L2689,508.5L2624.7,485.7L2631.5,479L2695.8,501.8L2760.2,518.8L2824.5,533.9L2888.8,549.1L2953.2,564.9L3017.5,581.5L3081.9,599.7L3146.2,622.3Z" fill="url(#qR46)"/><path d="M3145.1,623.2L3080.8,600.6L3016.4,582.4L2952.1,565.8L2887.8,550.1L2823.5,534.9L2759.1,519.7L2694.8,502.8L2630.5,480L2637.3,473.4L2701.6,496.3L2766,513.4L2830.3,528.7L2894.6,544L2959,559.9L3023.3,576.7L3087.6,595.1L3151.9,617.7Z" fill="url(#qR47)"/><path d="M3150.8,618.6L3086.5,596L3022.2,577.6L2957.9,560.8L2893.6,544.9L2829.3,529.6L2764.9,514.3L2700.6,497.2L2636.3,474.4L2643.1,468L2707.4,490.9L2771.8,508.1L2836.1,523.5L2900.4,539L2964.7,555.1L3029.1,572.1L3093.4,590.6L3157.7,613.2Z" fill="url(#qR48)"/><path d="M3156.6,614.1L3092.3,591.5L3028,572.9L2963.7,556L2899.3,539.9L2835,524.4L2770.7,509L2706.4,491.8L2642.1,469L2648.9,462.7L2713.2,485.7L2777.6,503L2841.9,518.5L2906.2,534.1L2970.5,550.3L3034.8,567.5L3099.2,586.2L3163.5,608.8Z" fill="url(#qR49)"/><path d="M3162.4,609.6L3098,587.1L3033.7,568.4L2969.4,551.2L2905.1,535L2840.8,519.4L2776.5,503.9L2712.2,486.6L2647.9,463.7L2654.7,457.6L2719.1,480.6L2783.4,498L2847.7,513.6L2912,529.3L2976.3,545.7L3040.6,563.1L3104.9,581.9L3169.2,604.5Z" fill="url(#qR50)"/><path d="M3168.1,605.3L3103.8,582.8L3039.5,563.9L2975.2,546.6L2910.9,530.2L2846.6,514.5L2782.3,498.9L2718,481.5L2653.7,458.5L2660.6,452.6L2724.9,475.6L2789.2,493.2L2853.5,508.9L2917.8,524.7L2982.1,541.2L3046.4,558.7L3110.7,577.7L3175,600.2Z" fill="url(#qR51)"/><path d="M3173.9,601.1L3109.6,578.5L3045.3,559.6L2981,542.1L2916.7,525.5L2852.4,509.8L2788.1,494.1L2723.8,476.5L2659.5,453.5L2666.4,447.7L2730.7,470.8L2795,488.5L2859.3,504.3L2923.6,520.1L2987.9,536.8L3052.2,554.5L3116.5,573.6L3180.8,596.1Z" fill="url(#qR52)"/><path d="M3179.6,596.9L3115.3,574.4L3051,555.3L2986.7,537.6L2922.5,521L2858.2,505.1L2793.9,489.4L2729.6,471.7L2665.3,448.6L2672.2,443L2736.5,466.2L2800.8,483.9L2865.1,499.8L2929.4,515.7L2993.6,532.5L3057.9,550.3L3122.2,569.6L3186.5,592.1Z" fill="url(#qR53)"/><path d="M3185.4,592.9L3121.1,570.4L3056.8,551.1L2992.5,533.3L2928.2,516.5L2864,500.6L2799.7,484.8L2735.4,467L2671.1,443.9L2678,438.4L2742.3,461.6L2806.6,479.4L2870.9,495.4L2935.1,511.4L2999.4,528.3L3063.7,546.3L3128,565.6L3192.3,588.1Z" fill="url(#qR54)"/><path d="M3191.1,588.9L3126.8,566.4L3062.6,547.1L2998.3,529.1L2934,512.2L2869.7,496.2L2805.5,480.3L2741.2,462.5L2676.9,439.3L2683.8,434L2748.1,457.2L2812.4,475.1L2876.7,491.1L2940.9,507.2L3005.2,524.2L3069.5,542.3L3133.8,561.8L3198,584.3Z" fill="url(#qR55)"/><path d="M3196.9,585L3132.6,562.6L3068.3,543.1L3004.1,525L2939.8,508L2875.5,491.9L2811.3,475.9L2747,458L2682.7,434.8L2689.6,429.6L2753.9,452.9L2818.2,470.9L2882.4,486.9L2946.7,503L3011,520.2L3075.3,538.4L3139.5,558L3203.8,580.5Z" fill="url(#qR56)"/><path d="M3202.6,581.2L3138.4,558.8L3074.1,539.2L3009.8,521L2945.6,503.8L2881.3,487.8L2817,471.7L2752.8,453.7L2688.5,430.4L2695.4,425.4L2759.7,448.7L2824,466.8L2888.2,482.9L2952.5,499L3016.8,516.2L3081,534.6L3145.3,554.3L3209.6,576.8Z" fill="url(#qR57)"/><path d="M3208.4,577.5L3144.1,555.1L3079.9,535.3L3015.6,517L2951.4,499.8L2887.1,483.7L2822.8,467.6L2758.6,449.5L2694.3,426.2L2701.3,421.3L2765.5,444.6L2829.8,462.8L2894,478.9L2958.3,495.1L3022.6,512.4L3086.8,530.9L3151.1,550.7L3215.3,573.2Z" fill="url(#qR58)"/><path d="M3214.1,573.9L3149.9,551.4L3085.6,531.6L3021.4,513.2L2957.1,495.9L2892.9,479.7L2828.6,463.6L2764.4,445.4L2700.1,422.1L2707.1,417.2L2771.3,440.7L2835.6,458.9L2899.8,475L2964.1,491.2L3028.3,508.6L3092.6,527.2L3156.8,547.1L3221.1,569.6Z" fill="url(#qR59)"/><path d="M3219.9,570.3L3155.7,547.9L3091.4,527.9L3027.2,509.4L2962.9,492L2898.7,475.8L2834.4,459.7L2770.2,441.5L2705.9,418L2712.9,413.3L2777.1,436.8L2841.4,455.1L2905.6,471.3L2969.9,487.5L3034.1,504.9L3098.4,523.6L3162.6,543.7L3226.9,566.1Z" fill="url(#qR60)"/><path d="M3225.7,566.8L3161.4,544.4L3097.2,524.4L3032.9,505.7L2968.7,488.2L2904.4,472L2840.2,455.8L2776,437.6L2711.7,414.1L2718.7,409.5L2782.9,433.1L2847.2,451.4L2911.4,467.6L2975.7,483.8L3039.9,501.3L3104.1,520.1L3168.4,540.2L3232.6,562.7Z" fill="url(#qR61)"/><path d="M3231.4,563.4L3167.2,541L3102.9,520.8L3038.7,502.1L2974.5,484.6L2910.2,468.3L2846,452.1L2781.8,433.8L2717.5,410.3L2724.5,405.8L2788.7,429.4L2853,447.8L2917.2,464L2981.4,480.2L3045.7,497.8L3109.9,516.7L3174.1,536.9L3238.4,559.3Z" fill="url(#qR62)"/><path d="M3237.2,560L3172.9,537.6L3108.7,517.4L3044.5,498.5L2980.3,481L2916,464.7L2851.8,448.5L2787.6,430.2L2723.3,406.6L2730.3,402.2L2794.6,425.9L2858.8,444.2L2923,460.4L2987.2,476.7L3051.5,494.3L3115.7,513.3L3179.9,533.6L3244.1,556Z" fill="url(#qR63)"/><path d="M3242.9,556.7L3178.7,534.3L3114.5,514L3050.3,495L2986,477.4L2921.8,461.2L2857.6,445L2793.4,426.6L2729.1,402.9L2736.1,398.6L2800.4,422.4L2864.6,440.8L2928.8,457L2993,473.2L3057.2,490.9L3121.5,510L3185.7,530.4L3249.9,552.8Z" fill="url(#qR64)"/><path d="M3248.7,553.5L3184.5,531L3120.2,510.7L3056,491.6L2991.8,474L2927.6,457.7L2863.4,441.5L2799.2,423.1L2734.9,399.4L2742,395.2L2806.2,419L2870.4,437.4L2934.6,453.6L2998.8,469.9L3063,487.6L3127.2,506.7L3191.5,527.2L3255.7,549.6Z" fill="url(#qR65)"/><path d="M3254.4,550.3L3190.2,527.9L3126,507.4L3061.8,488.3L2997.6,470.6L2933.4,454.3L2869.2,438.1L2805,419.7L2740.7,395.9L2747.8,391.8L2812,415.7L2876.2,434.1L2940.4,450.3L3004.6,466.5L3068.8,484.3L3133,503.5L3197.2,524L3261.4,546.5Z" fill="url(#qR66)"/><path d="M3260.2,547.2L3196,524.7L3131.8,504.2L3067.6,485L3003.4,467.2L2939.2,451L2875,434.8L2810.8,416.4L2746.6,392.5L2753.6,388.5L2817.8,412.4L2882,430.9L2946.2,447.1L3010.4,463.3L3074.6,481L3138.8,500.3L3203,521L3267.2,543.4Z" fill="url(#qR67)"/><path d="M3265.9,544.1L3201.7,521.6L3137.6,501L3073.4,481.7L3009.2,464L2945,447.7L2880.8,431.6L2816.6,413.1L2752.4,389.2L2759.4,385.3L2823.6,409.3L2887.8,427.8L2952,443.9L3016.2,460.1L3080.4,477.9L3144.6,497.2L3208.8,517.9L3272.9,540.4Z" fill="url(#qR68)"/><path d="M3271.7,541L3207.5,518.6L3143.3,497.9L3079.1,478.5L3014.9,460.7L2950.7,444.6L2886.5,428.4L2822.4,409.9L2758.2,385.9L2765.2,382.1L2829.4,406.2L2893.6,424.7L2957.8,440.8L3021.9,456.9L3086.1,474.7L3150.3,494.1L3214.5,514.9L3278.7,537.4Z" fill="url(#qR69)"/><path d="M3277.5,538L3213.3,515.6L3149.1,494.8L3084.9,475.4L3020.7,457.6L2956.5,441.4L2892.3,425.3L2828.2,406.8L2764,382.8L2771,379L2835.2,403.1L2899.4,421.7L2963.6,437.7L3027.7,453.8L3091.9,471.6L3156.1,491.1L3220.3,512L3284.5,534.5Z" fill="url(#qR70)"/><path d="M3283.2,535.1L3219,512.6L3154.9,491.8L3090.7,472.3L3026.5,454.5L2962.3,438.4L2898.1,422.3L2834,403.8L2769.8,379.6L2776.8,375.9L2841,400.1L2905.2,418.7L2969.3,434.7L3033.5,450.8L3097.7,468.6L3161.9,488.1L3226,509L3290.2,531.5Z" fill="url(#qR71)"/><path d="M3289,532.2L3224.8,509.7L3160.6,488.8L3096.5,469.2L3032.3,451.4L2968.1,435.3L2903.9,419.3L2839.8,400.8L2775.6,376.6L2782.6,372.9L2846.8,397.2L2911,415.8L2975.1,431.7L3039.3,447.7L3103.5,465.6L3167.6,485.2L3231.8,506.1L3296,528.7Z" fill="url(#qR72)"/><path d="M3294.7,529.3L3230.6,506.8L3166.4,485.8L3102.2,466.2L3038.1,448.4L2973.9,432.4L2909.7,416.4L2845.5,397.8L2781.4,373.6L2788.4,370L2852.6,394.3L2916.8,412.9L2980.9,428.8L3045.1,444.8L3109.3,462.6L3173.4,482.2L3237.6,503.3L3301.7,525.8Z" fill="url(#qR73)"/><path d="M3300.5,526.4L3236.3,503.9L3172.2,482.9L3108,463.3L3043.8,445.4L2979.7,429.4L2915.5,413.5L2851.3,395L2787.2,370.6L2794.3,367.1L2858.4,391.5L2922.6,410.1L2986.7,425.9L3050.9,441.8L3115,459.7L3179.2,479.3L3243.3,500.4L3307.5,523Z" fill="url(#qR74)"/><path d="M3306.2,523.6L3242.1,501.1L3177.9,480L3113.8,460.3L3049.6,442.5L2985.5,426.5L2921.3,410.7L2857.2,392.1L2793,367.7L2800.1,364.2L2864.2,388.7L2928.4,407.3L2992.5,423.1L3056.7,438.9L3120.8,456.8L3185,476.5L3249.1,497.6L3313.3,520.2Z" fill="url(#qR75)"/><path d="M3312,520.8L3247.9,498.2L3183.7,477.1L3119.6,457.4L3055.4,439.5L2991.3,423.7L2927.1,407.9L2863,389.3L2798.8,364.8L2805.9,361.4L2870,386L2934.2,404.5L2998.3,420.3L3062.4,436L3126.6,453.9L3190.7,473.6L3254.9,494.8L3319,517.4Z" fill="url(#qR76)"/><path d="M3317.8,518.1L3253.6,495.5L3189.5,474.2L3125.3,454.5L3061.2,436.7L2997,420.9L2932.9,405.1L2868.8,386.6L2804.6,362L2811.7,358.6L2875.8,383.3L2940,401.8L3004.1,417.5L3068.2,433.2L3132.4,451L3196.5,470.8L3260.6,492.1L3324.8,514.7Z" fill="url(#qR77)"/><path d="M3323.5,515.3L3259.4,492.7L3195.2,471.4L3131.1,451.6L3067,433.8L3002.8,418.1L2938.7,402.4L2874.6,383.9L2810.4,359.2L2817.5,355.8L2881.6,380.6L2945.8,399.1L3009.9,414.7L3074,430.4L3138.1,448.2L3202.3,468L3266.4,489.3L3330.5,512Z" fill="url(#qR78)"/><path d="M3329.3,512.6L3265.1,489.9L3201,468.6L3136.9,448.8L3072.8,431L3008.6,415.3L2944.5,399.7L2880.4,381.2L2816.2,356.4L2823.3,353.1L2887.4,378L2951.6,396.5L3015.7,412L3079.8,427.5L3143.9,445.3L3208,465.2L3272.2,486.6L3336.3,509.3Z" fill="url(#qR79)"/><path d="M3335,509.8L3270.9,487.2L3206.8,465.8L3142.7,445.9L3078.5,428.2L3014.4,412.6L2950.3,397.1L2886.2,378.5L2822,353.7L2829.1,350.4L2893.2,375.3L2957.3,393.8L3021.5,409.2L3085.6,424.7L3149.7,442.5L3213.8,462.4L3277.9,483.8L3342.1,506.5Z" fill="url(#qR80)"/><path d="M3340.8,507.1L3276.7,484.4L3212.6,463L3148.4,443.1L3084.3,425.3L3020.2,409.8L2956.1,394.4L2892,375.9L2827.8,351L2834.9,347.7L2899,372.7L2963.1,391.2L3027.3,406.5L3091.4,422L3155.5,439.7L3219.6,459.6L3283.7,481.1L3347.8,503.8Z" fill="url(#qR81)"/><path d="M3346.5,504.4L3282.4,481.7L3218.3,460.2L3154.2,440.3L3090.1,422.6L3026,407.1L2961.9,391.8L2897.8,373.3L2833.6,348.2L2840.7,345L2904.8,370.1L2968.9,388.6L3033,403.8L3097.1,419.2L3161.3,436.9L3225.4,456.8L3289.5,478.4L3353.6,501.2Z" fill="url(#qR82)"/><path d="M3352.3,501.8L3288.2,479L3224.1,457.4L3160,437.5L3095.9,419.8L3031.8,404.4L2967.7,389.2L2903.6,370.7L2839.5,345.6L2846.5,342.3L2910.6,367.6L2974.7,386L3038.8,401.2L3102.9,416.4L3167,434.1L3231.1,454L3295.2,475.7L3359.3,498.5Z" fill="url(#qR83)"/><path d="M3358.1,499.1L3294,476.2L3229.9,454.7L3165.8,434.7L3101.7,417L3037.6,401.7L2973.5,386.6L2909.4,368.1L2845.3,342.9L2852.3,339.6L2916.4,365L2980.5,383.4L3044.6,398.5L3108.7,413.6L3172.8,431.3L3236.9,451.3L3301,472.9L3365.1,495.8Z" fill="url(#qR84)"/><path d="M3363.8,496.4L3299.7,473.5L3235.6,451.9L3171.5,431.9L3107.5,414.2L3043.4,399.1L2979.3,384L2915.2,365.6L2851.1,340.2L2858.2,336.9L2922.2,362.4L2986.3,380.8L3050.4,395.8L3114.5,410.8L3178.6,428.5L3242.7,448.5L3306.8,470.2L3370.9,493.1Z" fill="url(#qR85)"/><path d="M3369.6,493.7L3305.5,470.8L3241.4,449.1L3177.3,429.1L3113.2,411.4L3049.1,396.4L2985.1,381.4L2921,363L2856.9,337.5L2864,334.3L2928,359.9L2992.1,378.2L3056.2,393.1L3120.3,408.1L3184.4,425.7L3248.4,445.7L3312.5,467.4L3376.6,490.4Z" fill="url(#qR86)"/><path d="M3375.3,491L3311.3,468L3247.2,446.3L3183.1,426.3L3119,408.7L3054.9,393.7L2990.8,378.8L2926.8,360.4L2862.7,334.8L2869.8,331.6L2933.8,357.3L2997.9,375.6L3062,390.4L3126.1,405.3L3190.1,422.8L3254.2,442.9L3318.3,464.7L3382.4,487.7Z" fill="url(#qR87)"/><path d="M3381.1,488.3L3317,465.3L3253,443.5L3188.9,423.4L3124.8,405.9L3060.7,391L2996.6,376.2L2932.6,357.9L2868.5,332.2L2875.6,328.9L2939.6,354.7L3003.7,373L3067.8,387.7L3131.8,402.5L3195.9,420L3260,440L3324.1,461.9L3388.1,485Z" fill="url(#qR88)"/><path d="M3386.9,485.6L3322.8,462.5L3258.7,440.7L3194.7,420.6L3130.6,403.1L3066.5,388.3L3002.4,373.6L2938.4,355.3L2874.3,329.5L2881.4,326.2L2945.5,352.1L3009.5,370.4L3073.6,385L3137.6,399.6L3201.7,417.1L3265.8,437.2L3329.8,459.1L3393.9,482.2Z" fill="url(#qR89)"/><path d="M3392.6,482.8L3328.6,459.7L3264.5,437.8L3200.4,417.8L3136.4,400.2L3072.3,385.6L3008.2,371L2944.2,352.7L2880.1,326.7L2887.2,323.4L2951.3,349.5L3015.3,367.8L3079.4,382.2L3143.4,396.8L3207.5,414.2L3271.5,434.3L3335.6,456.3L3399.6,479.5Z" fill="url(#qR90)"/><path d="M3398.4,480.1L3334.3,456.9L3270.3,435L3206.2,414.9L3142.2,397.4L3078.1,382.8L3014,368.3L2950,350.1L2885.9,324L2893,320.7L2957.1,346.9L3021.1,365.1L3085.1,379.5L3149.2,393.9L3213.2,411.3L3277.3,431.5L3341.3,453.5L3405.4,476.7Z" fill="url(#qR91)"/><path d="M3404.1,477.3L3340.1,454.1L3276,432.1L3212,412L3147.9,394.5L3083.9,380.1L3019.8,365.7L2955.8,347.4L2891.7,321.3L2898.8,317.9L2962.9,344.2L3026.9,362.4L3090.9,376.7L3155,391L3219,408.4L3283.1,428.5L3347.1,450.6L3411.2,473.9Z" fill="url(#qR92)"/><path d="M3409.9,474.5L3345.9,451.2L3281.8,429.2L3217.8,409L3153.7,391.7L3089.7,377.3L3025.6,363L2961.6,344.8L2897.5,318.5L2904.6,315.1L2968.7,341.5L3032.7,359.7L3096.7,373.9L3160.8,388.1L3224.8,405.4L3288.8,425.6L3352.9,447.7L3416.9,471.1Z" fill="url(#qR93)"/><path d="M3415.7,471.7L3351.6,448.4L3287.6,426.2L3223.5,406.1L3159.5,388.7L3095.5,374.5L3031.4,360.3L2967.4,342.1L2903.4,315.7L2910.4,312.2L2974.5,338.8L3038.5,357L3102.5,371L3166.5,385.1L3230.6,402.4L3294.6,422.6L3358.6,444.8L3422.7,468.2Z" fill="url(#qR94)"/><path d="M3421.4,468.8L3357.4,445.4L3293.4,423.3L3229.3,403.1L3165.3,385.8L3101.3,371.6L3037.2,357.6L2973.2,339.4L2909.2,312.8L2916.2,309.3L2980.3,336.1L3044.3,354.2L3108.3,368.1L3172.3,382.1L3236.3,399.4L3300.4,419.6L3364.4,441.8L3428.4,465.3Z" fill="url(#qR95)"/><path d="M3427.2,465.9L3363.2,442.5L3299.1,420.3L3235.1,400.1L3171.1,382.8L3107.1,368.7L3043,354.8L2979,336.7L2915,309.9L2922,306.4L2986.1,333.3L3050.1,351.4L3114.1,365.2L3178.1,379.1L3242.1,396.3L3306.1,416.5L3370.2,438.9L3434.2,462.4Z" fill="url(#qR96)"/><path d="M3432.9,463L3368.9,439.5L3304.9,417.2L3240.9,397L3176.9,379.8L3112.8,365.8L3048.8,352L2984.8,333.9L2920.8,307L2927.8,303.4L2991.9,330.4L3055.9,348.5L3119.9,362.2L3183.9,376L3247.9,393.2L3311.9,413.4L3375.9,435.8L3439.9,459.4Z" fill="url(#qR97)"/><path d="M3438.7,460.1L3374.7,436.5L3310.7,414.1L3246.7,393.9L3182.7,376.7L3118.6,362.9L3054.6,349.1L2990.6,331L2926.6,304L2933.6,300.4L2997.7,327.5L3061.7,345.6L3125.7,359.2L3189.7,372.9L3253.7,390L3317.7,410.3L3381.7,432.7L3445.7,456.4Z" fill="url(#qR98)"/><path d="M3444.5,457.1L3380.5,433.4L3316.4,411L3252.4,390.7L3188.4,373.6L3124.4,359.8L3060.4,346.2L2996.4,328.2L2932.4,301L2939.5,297.3L3003.5,324.6L3067.5,342.6L3131.5,356.1L3195.4,369.7L3259.4,386.8L3323.4,407.1L3387.4,429.6L3451.5,453.4Z" fill="url(#qR99)"/><path d="M3450.2,454L3386.2,430.3L3322.2,407.8L3258.2,387.5L3194.2,370.4L3130.2,356.8L3066.2,343.3L3002.2,325.2L2938.2,297.9L2945.3,294.1L3009.3,321.6L3073.3,339.6L3137.2,353L3201.2,366.5L3265.2,383.5L3329.2,403.9L3393.2,426.4L3457.2,450.3Z" fill="url(#qR100)"/><path d="M3456,450.9L3392,427.1L3328,404.5L3264,384.2L3200,367.2L3136,353.7L3072,340.3L3008,322.3L2944,294.8L2951.1,290.9L3015.1,318.6L3079,336.6L3143,349.8L3207,363.2L3271,380.2L3335,400.5L3399,423.2L3463,447.1Z" fill="url(#qR101)"/><path d="M3461.7,447.8L3397.8,423.9L3333.8,401.2L3269.8,380.9L3205.8,363.9L3141.8,350.5L3077.8,337.2L3013.8,319.2L2949.8,291.6L2956.9,287.6L3020.9,315.4L3084.8,333.4L3148.8,346.6L3212.8,359.8L3276.8,376.8L3340.8,397.2L3404.7,419.9L3468.7,443.9Z" fill="url(#qR102)"/><path d="M3467.5,444.6L3403.5,420.6L3339.5,397.9L3275.6,377.5L3211.6,360.5L3147.6,347.3L3083.6,334.1L3019.6,316.1L2955.7,288.3L2962.7,284.3L3026.7,312.3L3090.6,330.2L3154.6,343.2L3218.6,356.4L3282.5,373.4L3346.5,393.8L3410.5,416.5L3474.5,440.7Z" fill="url(#qR103)"/><path d="M3473.3,441.4L3409.3,417.2L3345.3,394.5L3281.3,374.1L3217.4,357.1L3153.4,343.9L3089.4,330.9L3025.4,312.9L2961.5,285L2968.5,280.8L3032.5,309L3096.4,326.9L3160.4,339.9L3224.3,352.9L3288.3,369.8L3352.3,390.3L3416.3,413.1L3480.2,437.4Z" fill="url(#qR104)"/><path d="M3479,438.1L3415.1,413.8L3351.1,391L3287.1,370.6L3223.2,353.7L3159.2,340.6L3095.2,327.6L3031.2,309.7L2967.3,281.6L2974.3,277.3L3038.3,305.7L3102.2,323.6L3166.2,336.4L3230.1,349.4L3294.1,366.3L3358.1,386.7L3422,409.6L3486,434Z" fill="url(#qR105)"/><path d="M3484.8,434.7L3420.8,410.4L3356.9,387.4L3292.9,367L3228.9,350.1L3165,337.1L3101,324.3L3037,306.4L2973.1,278.1L2980.1,273.7L3044.1,302.3L3108,320.2L3172,332.9L3235.9,345.7L3299.9,362.6L3363.8,383.1L3427.8,406.1L3491.7,430.5Z" fill="url(#qR106)"/><path d="M3490.5,431.3L3426.6,406.8L3362.6,383.8L3298.7,363.3L3234.7,346.5L3170.8,333.6L3106.8,320.9L3042.8,303L2978.9,274.5L2985.9,270.1L3049.8,298.8L3113.8,316.7L3177.7,329.3L3241.7,342L3305.6,358.8L3369.6,379.4L3433.5,402.5L3497.5,427Z" fill="url(#qR107)"/><path d="M3496.3,427.8L3432.4,403.2L3368.4,380.1L3304.5,359.6L3240.5,342.8L3176.6,330L3112.6,317.4L3048.7,299.5L2984.7,270.8L2991.7,266.3L3055.6,295.2L3119.6,313.1L3183.5,325.6L3247.5,338.2L3311.4,355L3375.4,375.6L3439.3,398.8L3503.3,423.5Z" fill="url(#qR108)"/><path d="M3502.1,424.2L3438.1,399.5L3374.2,376.4L3310.2,355.8L3246.3,339L3182.4,326.3L3118.4,313.8L3054.5,295.9L2990.5,267.1L2997.5,262.4L3061.4,291.5L3125.4,309.4L3189.3,321.8L3253.2,334.3L3317.2,351.1L3381.1,371.7L3445.1,395L3509,419.8Z" fill="url(#qR109)"/><path d="M3507.8,420.6L3443.9,395.8L3380,372.5L3316,351.9L3252.1,335.1L3188.1,322.6L3124.2,310.2L3060.3,292.3L2996.3,263.2L3003.3,258.4L3067.2,287.7L3131.2,305.6L3195.1,317.9L3259,330.4L3323,347.1L3386.9,367.8L3450.8,391.2L3514.8,416.1Z" fill="url(#qR110)"/><path d="M3513.6,416.8L3449.7,391.9L3385.7,368.6L3321.8,347.9L3257.9,331.2L3193.9,318.7L3130,306.4L3066.1,288.5L3002.2,259.2L3009.1,254.4L3073,283.9L3137,301.8L3200.9,313.9L3264.8,326.3L3328.7,343L3392.7,363.7L3456.6,387.2L3520.5,412.3Z" fill="url(#qR111)"/><path d="M3519.4,413L3455.4,388L3391.5,364.5L3327.6,343.8L3263.7,327.1L3199.7,314.7L3135.8,302.5L3071.9,284.6L3008,255.2L3014.9,250.2L3078.8,279.9L3142.8,297.8L3206.7,309.9L3270.6,322.1L3334.5,338.8L3398.4,359.6L3462.3,383.2L3526.3,408.4Z" fill="url(#qR112)"/><path d="M3525.1,409.2L3461.2,384L3397.3,360.4L3333.4,339.7L3269.5,322.9L3205.5,310.7L3141.6,298.6L3077.7,280.7L3013.8,251L3020.7,245.9L3084.6,275.8L3148.5,293.7L3212.5,305.7L3276.4,317.9L3340.3,334.6L3404.2,355.4L3468.1,379.1L3532,404.4Z" fill="url(#qR113)"/><path d="M3530.9,405.2L3467,379.9L3403.1,356.2L3339.2,335.4L3275.2,318.7L3211.3,306.5L3147.4,294.5L3083.5,276.6L3019.6,246.7L3026.5,241.5L3090.4,271.6L3154.3,289.5L3218.2,301.4L3282.1,313.5L3346,330.2L3410,351.1L3473.9,374.9L3537.8,400.3Z" fill="url(#qR114)"/><path d="M3536.6,401.1L3472.7,375.7L3408.8,351.9L3344.9,331L3281,314.3L3217.1,302.3L3153.2,290.4L3089.3,272.4L3025.4,242.3L3032.3,237L3096.2,267.3L3160.1,285.2L3224,297.1L3287.9,309L3351.8,325.7L3415.7,346.7L3479.6,370.6L3543.5,396.2Z" fill="url(#qR115)"/><path d="M3542.4,397L3478.5,371.4L3414.6,347.5L3350.7,326.6L3286.8,309.9L3222.9,297.9L3159,286.1L3095.1,268.2L3031.2,237.8L3038.1,232.3L3102,262.9L3165.9,280.8L3229.8,292.6L3293.7,304.4L3357.6,321.1L3421.5,342.1L3485.4,366.2L3549.3,391.9Z" fill="url(#qR116)"/><path d="M3548.2,392.8L3484.3,367L3420.4,343L3356.5,322L3292.6,305.3L3228.7,293.4L3164.8,281.7L3100.9,263.7L3037,233.2L3043.9,227.5L3107.8,258.3L3171.7,276.3L3235.6,287.9L3299.5,299.7L3363.4,316.4L3427.3,337.5L3491.1,361.7L3555,387.6Z" fill="url(#qR117)"/><path d="M3553.9,388.4L3490,362.5L3426.2,338.4L3362.3,317.3L3298.4,300.6L3234.5,288.8L3170.6,277.2L3106.7,259.2L3042.8,228.4L3049.7,222.6L3113.6,253.7L3177.5,271.7L3241.4,283.2L3305.3,294.9L3369.1,311.6L3433,332.8L3496.9,357.1L3560.8,383.1Z" fill="url(#qR118)"/><path d="M3559.7,384L3495.8,358L3431.9,333.7L3368.1,312.5L3304.2,295.8L3240.3,284.1L3176.4,272.5L3112.5,254.6L3048.7,223.5L3055.5,217.5L3119.4,248.9L3183.3,266.9L3247.2,278.3L3311,290L3374.9,306.7L3438.8,327.9L3502.7,352.4L3566.5,378.6Z" fill="url(#qR119)"/></g><linearGradient id="lR0" gradientUnits="userSpaceOnUse" x1="2883.6" y1="978.4" x2="2366.7" y2="852.2"><stop offset="0" stop-color="#103eaf"/><stop offset="0.2" stop-color="#0d34b8"/><stop offset="0.5" stop-color="#0418c3"/><stop offset="0.8" stop-color="#0007c1"/><stop offset="1" stop-color="#0005bf"/></linearGradient><linearGradient id="lR3" gradientUnits="userSpaceOnUse" x1="2900.9" y1="947.6" x2="2384.1" y2="833.5"><stop offset="0" stop-color="#164e9f"/><stop offset="0.2" stop-color="#1243ab"/><stop offset="0.5" stop-color="#0721c3"/><stop offset="0.8" stop-color="#010bc3"/><stop offset="1" stop-color="#0006c0"/></linearGradient><linearGradient id="lR6" gradientUnits="userSpaceOnUse" x1="2918.2" y1="917.3" x2="2401.6" y2="809.4"><stop offset="0" stop-color="#1b5c8f"/><stop offset="0.2" stop-color="#17509d"/><stop offset="0.5" stop-color="#0b2dbd"/><stop offset="0.8" stop-color="#0314c3"/><stop offset="1" stop-color="#0009c3"/></linearGradient><linearGradient id="lR9" gradientUnits="userSpaceOnUse" x1="2935.5" y1="887.7" x2="2419" y2="782.2"><stop offset="0" stop-color="#206478"/><stop offset="0.2" stop-color="#1b5c8e"/><stop offset="0.5" stop-color="#103eaf"/><stop offset="0.8" stop-color="#061fc3"/><stop offset="1" stop-color="#0312c3"/></linearGradient><linearGradient id="lR12" gradientUnits="userSpaceOnUse" x1="2952.7" y1="858.9" x2="2436.4" y2="753.8"><stop offset="0" stop-color="#256558"/><stop offset="0.2" stop-color="#1f647a"/><stop offset="0.5" stop-color="#164da0"/><stop offset="0.8" stop-color="#0a2bbe"/><stop offset="1" stop-color="#051dc3"/></linearGradient><linearGradient id="lR15" gradientUnits="userSpaceOnUse" x1="2970" y1="831.2" x2="2453.8" y2="725.2"><stop offset="0" stop-color="#29663b"/><stop offset="0.2" stop-color="#24655d"/><stop offset="0.5" stop-color="#1a5a92"/><stop offset="0.8" stop-color="#103db0"/><stop offset="1" stop-color="#0828c2"/></linearGradient><linearGradient id="lR18" gradientUnits="userSpaceOnUse" x1="2987.3" y1="804.5" x2="2471.3" y2="696.8"><stop offset="0" stop-color="#2d6523"/><stop offset="0.2" stop-color="#286641"/><stop offset="0.5" stop-color="#1e6480"/><stop offset="0.8" stop-color="#154ca1"/><stop offset="1" stop-color="#0e38b4"/></linearGradient><linearGradient id="lR21" gradientUnits="userSpaceOnUse" x1="3004.6" y1="779" x2="2488.7" y2="668.7"><stop offset="0" stop-color="#31640d"/><stop offset="0.2" stop-color="#2c652b"/><stop offset="0.5" stop-color="#236563"/><stop offset="0.8" stop-color="#1a5993"/><stop offset="1" stop-color="#1449a6"/></linearGradient><linearGradient id="lR24" gradientUnits="userSpaceOnUse" x1="3021.8" y1="754.8" x2="2506.1" y2="641.2"><stop offset="0" stop-color="#37610a"/><stop offset="0.2" stop-color="#2f6416"/><stop offset="0.5" stop-color="#276648"/><stop offset="0.8" stop-color="#1e6483"/><stop offset="1" stop-color="#185597"/></linearGradient><linearGradient id="lR27" gradientUnits="userSpaceOnUse" x1="3039.1" y1="732.2" x2="2523.5" y2="614.4"><stop offset="0" stop-color="#3d5e0b"/><stop offset="0.2" stop-color="#34620a"/><stop offset="0.5" stop-color="#2b6531"/><stop offset="0.8" stop-color="#226566"/><stop offset="1" stop-color="#1d608a"/></linearGradient><linearGradient id="lR30" gradientUnits="userSpaceOnUse" x1="3056.4" y1="711" x2="2541" y2="588.7"><stop offset="0" stop-color="#425b0b"/><stop offset="0.2" stop-color="#395f0a"/><stop offset="0.5" stop-color="#2e641d"/><stop offset="0.8" stop-color="#27664c"/><stop offset="1" stop-color="#216472"/></linearGradient><linearGradient id="lR33" gradientUnits="userSpaceOnUse" x1="3073.7" y1="691.3" x2="2558.4" y2="564.2"><stop offset="0" stop-color="#47580b"/><stop offset="0.2" stop-color="#3e5d0b"/><stop offset="0.5" stop-color="#31630a"/><stop offset="0.8" stop-color="#2a6536"/><stop offset="1" stop-color="#256558"/></linearGradient><linearGradient id="lR36" gradientUnits="userSpaceOnUse" x1="3090.9" y1="673" x2="2575.8" y2="541.3"><stop offset="0" stop-color="#48570b"/><stop offset="0.2" stop-color="#435a0b"/><stop offset="0.5" stop-color="#37610a"/><stop offset="0.8" stop-color="#2d6523"/><stop offset="1" stop-color="#286641"/></linearGradient><linearGradient id="lR39" gradientUnits="userSpaceOnUse" x1="3108.2" y1="655.9" x2="2593.2" y2="520.1"><stop offset="0" stop-color="#4a570b"/><stop offset="0.2" stop-color="#47580b"/><stop offset="0.5" stop-color="#3b5e0a"/><stop offset="0.8" stop-color="#306412"/><stop offset="1" stop-color="#2b652f"/></linearGradient><linearGradient id="lR42" gradientUnits="userSpaceOnUse" x1="3125.5" y1="640" x2="2610.7" y2="500.5"><stop offset="0" stop-color="#4b560b"/><stop offset="0.2" stop-color="#48580b"/><stop offset="0.5" stop-color="#3f5c0b"/><stop offset="0.8" stop-color="#34620a"/><stop offset="1" stop-color="#2e641f"/></linearGradient><linearGradient id="lR45" gradientUnits="userSpaceOnUse" x1="3142.8" y1="625.3" x2="2628.1" y2="482.5"><stop offset="0" stop-color="#4c550b"/><stop offset="0.2" stop-color="#49570b"/><stop offset="0.5" stop-color="#435a0b"/><stop offset="0.8" stop-color="#38600a"/><stop offset="1" stop-color="#306411"/></linearGradient><linearGradient id="lR48" gradientUnits="userSpaceOnUse" x1="3160" y1="611.5" x2="2645.5" y2="466"><stop offset="0" stop-color="#4d550b"/><stop offset="0.2" stop-color="#4a560b"/><stop offset="0.5" stop-color="#46580b"/><stop offset="0.8" stop-color="#3b5e0a"/><stop offset="1" stop-color="#33630a"/></linearGradient><linearGradient id="lR51" gradientUnits="userSpaceOnUse" x1="3177.3" y1="598.7" x2="2662.9" y2="450.8"><stop offset="0" stop-color="#4e540b"/><stop offset="0.2" stop-color="#4b560b"/><stop offset="0.5" stop-color="#48580b"/><stop offset="0.8" stop-color="#3e5d0b"/><stop offset="1" stop-color="#36610a"/></linearGradient><linearGradient id="lR54" gradientUnits="userSpaceOnUse" x1="3194.6" y1="586.7" x2="2680.4" y2="436.7"><stop offset="0" stop-color="#4f540b"/><stop offset="0.2" stop-color="#4c550b"/><stop offset="0.5" stop-color="#49570b"/><stop offset="0.8" stop-color="#415b0b"/><stop offset="1" stop-color="#395f0a"/></linearGradient><linearGradient id="lR57" gradientUnits="userSpaceOnUse" x1="3211.9" y1="575.4" x2="2697.8" y2="423.8"><stop offset="0" stop-color="#50530b"/><stop offset="0.2" stop-color="#4d550b"/><stop offset="0.5" stop-color="#49570b"/><stop offset="0.8" stop-color="#445a0b"/><stop offset="1" stop-color="#3c5e0a"/></linearGradient><linearGradient id="lR60" gradientUnits="userSpaceOnUse" x1="3229.1" y1="564.8" x2="2715.2" y2="411.9"><stop offset="0" stop-color="#50530b"/><stop offset="0.2" stop-color="#4e550b"/><stop offset="0.5" stop-color="#4a560b"/><stop offset="0.8" stop-color="#46590b"/><stop offset="1" stop-color="#3e5d0b"/></linearGradient><linearGradient id="lR63" gradientUnits="userSpaceOnUse" x1="3246.4" y1="554.8" x2="2732.6" y2="400.9"><stop offset="0" stop-color="#50530b"/><stop offset="0.2" stop-color="#4e540b"/><stop offset="0.5" stop-color="#4b560b"/><stop offset="0.8" stop-color="#47580b"/><stop offset="1" stop-color="#405c0b"/></linearGradient><linearGradient id="lR66" gradientUnits="userSpaceOnUse" x1="3263.7" y1="545.3" x2="2750.1" y2="390.6"><stop offset="0" stop-color="#50530b"/><stop offset="0.2" stop-color="#4f540b"/><stop offset="0.5" stop-color="#4b560b"/><stop offset="0.8" stop-color="#47580b"/><stop offset="1" stop-color="#425b0b"/></linearGradient><linearGradient id="lR69" gradientUnits="userSpaceOnUse" x1="3281" y1="536.3" x2="2767.5" y2="380.9"><stop offset="0" stop-color="#50530b"/><stop offset="0.2" stop-color="#4f540b"/><stop offset="0.5" stop-color="#4c550b"/><stop offset="0.8" stop-color="#48580b"/><stop offset="1" stop-color="#435a0b"/></linearGradient><linearGradient id="lR72" gradientUnits="userSpaceOnUse" x1="3298.2" y1="527.6" x2="2784.9" y2="371.8"><stop offset="0" stop-color="#50530b"/><stop offset="0.2" stop-color="#50530b"/><stop offset="0.5" stop-color="#4c550b"/><stop offset="0.8" stop-color="#48570b"/><stop offset="1" stop-color="#45590b"/></linearGradient><linearGradient id="lR75" gradientUnits="userSpaceOnUse" x1="3315.5" y1="519.2" x2="2802.3" y2="363.1"><stop offset="0" stop-color="#50530b"/><stop offset="0.2" stop-color="#50530b"/><stop offset="0.5" stop-color="#4d550b"/><stop offset="0.8" stop-color="#49570b"/><stop offset="1" stop-color="#46590b"/></linearGradient><linearGradient id="lR78" gradientUnits="userSpaceOnUse" x1="3332.8" y1="510.9" x2="2819.8" y2="354.8"><stop offset="0" stop-color="#50530b"/><stop offset="0.2" stop-color="#50530b"/><stop offset="0.5" stop-color="#4d550b"/><stop offset="0.8" stop-color="#49570b"/><stop offset="1" stop-color="#47580b"/></linearGradient><linearGradient id="lR81" gradientUnits="userSpaceOnUse" x1="3350.1" y1="502.8" x2="2837.2" y2="346.6"><stop offset="0" stop-color="#50520b"/><stop offset="0.2" stop-color="#50530b"/><stop offset="0.5" stop-color="#4e540b"/><stop offset="0.8" stop-color="#4a570b"/><stop offset="1" stop-color="#47580b"/></linearGradient><linearGradient id="lR84" gradientUnits="userSpaceOnUse" x1="3367.3" y1="494.7" x2="2854.6" y2="338.6"><stop offset="0" stop-color="#50520b"/><stop offset="0.2" stop-color="#50530b"/><stop offset="0.5" stop-color="#4e540b"/><stop offset="0.8" stop-color="#4a570b"/><stop offset="1" stop-color="#47580b"/></linearGradient><linearGradient id="lR87" gradientUnits="userSpaceOnUse" x1="3384.6" y1="486.6" x2="2872" y2="330.5"><stop offset="0" stop-color="#50520b"/><stop offset="0.2" stop-color="#50530b"/><stop offset="0.5" stop-color="#4f540b"/><stop offset="0.8" stop-color="#4a560b"/><stop offset="1" stop-color="#48580b"/></linearGradient><linearGradient id="lR90" gradientUnits="userSpaceOnUse" x1="3401.9" y1="478.4" x2="2889.5" y2="322.3"><stop offset="0" stop-color="#50520b"/><stop offset="0.2" stop-color="#50530b"/><stop offset="0.5" stop-color="#4f540b"/><stop offset="0.8" stop-color="#4b560b"/><stop offset="1" stop-color="#48580b"/></linearGradient><linearGradient id="lR93" gradientUnits="userSpaceOnUse" x1="3419.2" y1="469.9" x2="2906.9" y2="313.9"><stop offset="0" stop-color="#50520b"/><stop offset="0.2" stop-color="#50530b"/><stop offset="0.5" stop-color="#4f540b"/><stop offset="0.8" stop-color="#4b560b"/><stop offset="1" stop-color="#48570b"/></linearGradient><linearGradient id="lR96" gradientUnits="userSpaceOnUse" x1="3436.4" y1="461.2" x2="2924.3" y2="305.2"><stop offset="0" stop-color="#50520b"/><stop offset="0.2" stop-color="#50530b"/><stop offset="0.5" stop-color="#50530b"/><stop offset="0.8" stop-color="#4b560b"/><stop offset="1" stop-color="#49570b"/></linearGradient><linearGradient id="lR99" gradientUnits="userSpaceOnUse" x1="3453.7" y1="452.1" x2="2941.7" y2="296"><stop offset="0" stop-color="#50520b"/><stop offset="0.2" stop-color="#50520b"/><stop offset="0.5" stop-color="#50530b"/><stop offset="0.8" stop-color="#4c560b"/><stop offset="1" stop-color="#49570b"/></linearGradient><linearGradient id="lR102" gradientUnits="userSpaceOnUse" x1="3471" y1="442.6" x2="2959.2" y2="286.2"><stop offset="0" stop-color="#50520b"/><stop offset="0.2" stop-color="#50520b"/><stop offset="0.5" stop-color="#50530b"/><stop offset="0.8" stop-color="#4c550b"/><stop offset="1" stop-color="#4a570b"/></linearGradient><linearGradient id="lR105" gradientUnits="userSpaceOnUse" x1="3488.3" y1="432.6" x2="2976.6" y2="275.8"><stop offset="0" stop-color="#50520b"/><stop offset="0.2" stop-color="#50520b"/><stop offset="0.5" stop-color="#50530b"/><stop offset="0.8" stop-color="#4d550b"/><stop offset="1" stop-color="#4b560b"/></linearGradient><linearGradient id="lR108" gradientUnits="userSpaceOnUse" x1="3505.5" y1="421.9" x2="2994" y2="264.6"><stop offset="0" stop-color="#50520b"/><stop offset="0.2" stop-color="#50520b"/><stop offset="0.5" stop-color="#50530b"/><stop offset="0.8" stop-color="#4e550b"/><stop offset="1" stop-color="#4b560b"/></linearGradient><linearGradient id="lR111" gradientUnits="userSpaceOnUse" x1="3522.8" y1="410.6" x2="3011.4" y2="252.6"><stop offset="0" stop-color="#50520b"/><stop offset="0.2" stop-color="#50520b"/><stop offset="0.5" stop-color="#50530b"/><stop offset="0.8" stop-color="#4e540b"/><stop offset="1" stop-color="#4c550b"/></linearGradient><linearGradient id="lR114" gradientUnits="userSpaceOnUse" x1="3540.1" y1="398.6" x2="3028.9" y2="239.5"><stop offset="0" stop-color="#50520b"/><stop offset="0.2" stop-color="#50520b"/><stop offset="0.5" stop-color="#50520b"/><stop offset="0.8" stop-color="#4f540b"/><stop offset="1" stop-color="#4d550b"/></linearGradient><linearGradient id="lR117" gradientUnits="userSpaceOnUse" x1="3557.4" y1="385.7" x2="3046.3" y2="225.4"><stop offset="0" stop-color="#50520b"/><stop offset="0.2" stop-color="#50520b"/><stop offset="0.5" stop-color="#50520b"/><stop offset="0.8" stop-color="#50530b"/><stop offset="1" stop-color="#4e540b"/></linearGradient><g id="lR"><path d="M2874.7,994.6L2810,956.4L2745.4,941.6L2680.7,933.3L2616.1,925.8L2551.4,917.1L2486.8,908.4L2422.2,895.4L2357.5,860.5L2375.9,844L2440.5,875.4L2505.1,886.7L2569.7,894.1L2634.3,901.5L2698.9,907.8L2763.5,914.9L2828,927.9L2892.6,962.3Z" fill="url(#lR0)"/><path d="M2891.9,963.5L2827.3,929.1L2762.7,916L2698.1,909L2633.5,902.6L2568.9,895.2L2504.2,887.9L2439.6,876.5L2375,845L2393.3,822L2457.8,850.9L2522.4,861.4L2587,868.3L2651.6,875.3L2716.2,881.3L2780.8,887.9L2845.3,900L2909.9,931.6Z" fill="url(#lR3)"/><path d="M2909.2,932.9L2844.6,901.2L2780,889.1L2715.4,882.5L2650.8,876.5L2586.2,869.5L2521.7,862.6L2457.1,852L2392.5,823.1L2410.7,795.7L2475.2,822.8L2539.8,833.2L2604.3,840.2L2668.9,847.3L2733.5,853.5L2798.1,860.3L2862.6,872.1L2927.2,901.7Z" fill="url(#lR6)"/><path d="M2926.5,902.9L2861.9,873.3L2797.3,861.5L2732.8,854.7L2668.2,848.5L2603.6,841.4L2539.1,834.4L2474.5,824L2409.9,796.9L2428.1,767.5L2492.6,793.2L2557.2,803.8L2621.7,811.2L2686.3,818.7L2750.8,825.4L2815.4,832.7L2879.9,844.5L2944.5,872.5Z" fill="url(#lR9)"/><path d="M2943.7,873.7L2879.2,845.7L2814.6,833.9L2750.1,826.6L2685.5,819.9L2621,812.4L2556.4,805L2491.9,794.4L2427.3,768.7L2445.5,738.9L2510,763.6L2574.5,774.4L2639.1,782.3L2703.6,790.3L2768.2,797.6L2832.7,805.5L2897.2,817.5L2961.7,844.2Z" fill="url(#lR12)"/><path d="M2961,845.4L2896.5,818.7L2831.9,806.7L2767.4,798.8L2702.9,791.5L2638.4,783.5L2573.8,775.6L2509.3,764.8L2444.8,740.1L2462.9,710.4L2527.4,734.2L2591.9,745.4L2656.5,753.9L2721,762.5L2785.5,770.5L2850,779L2914.5,791.4L2979,816.9Z" fill="url(#lR15)"/><path d="M2978.3,818.1L2913.7,792.5L2849.2,780.2L2784.7,771.7L2720.2,763.6L2655.7,755.1L2591.2,746.6L2526.7,735.4L2462.2,711.6L2480.3,682.1L2544.8,705.3L2609.3,716.9L2673.8,726.1L2738.3,735.3L2802.8,744.1L2867.3,753.4L2931.8,766.1L2996.3,790.8Z" fill="url(#lR18)"/><path d="M2995.5,792L2931,767.3L2866.5,754.5L2802.1,745.2L2737.6,736.5L2673.1,727.2L2608.6,718.1L2544.1,706.4L2479.6,683.3L2497.8,654.2L2562.2,676.9L2626.7,689.1L2691.2,699L2755.7,709L2820.2,718.6L2884.7,728.7L2949.1,742L3013.6,766Z" fill="url(#lR21)"/><path d="M3012.8,767.1L2948.3,743.1L2883.8,729.9L2819.4,719.7L2754.9,710.1L2690.4,700.2L2626,690.3L2561.5,678.1L2497,655.4L2515.2,627L2579.7,649.4L2644.1,662.2L2708.6,672.9L2773,683.6L2837.5,694.1L2902,705.2L2966.4,719L3030.9,742.6Z" fill="url(#lR24)"/><path d="M3030,743.7L2965.6,720.2L2901.1,706.3L2836.7,695.3L2772.2,684.8L2707.8,674.1L2643.3,663.4L2578.9,650.6L2514.4,628.2L2532.6,600.7L2597.1,623L2661.5,636.5L2726,648L2790.4,659.5L2854.9,670.9L2919.3,682.9L2983.8,697.5L3048.2,720.7Z" fill="url(#lR27)"/><path d="M3047.3,721.8L2982.9,698.6L2918.4,684L2854,672L2789.6,660.6L2725.1,649.1L2660.7,637.7L2596.3,624.2L2531.9,601.8L2550.1,575.5L2614.5,597.9L2678.9,612.1L2743.3,624.4L2807.8,636.7L2872.2,649.1L2936.6,662L3001.1,677.3L3065.5,700.3Z" fill="url(#lR30)"/><path d="M3064.6,701.3L3000.1,678.3L2935.7,663.1L2871.3,650.1L2806.9,637.8L2742.5,625.5L2678.1,613.2L2613.7,599L2549.3,576.7L2567.5,551.8L2631.9,574.2L2696.3,589.1L2760.7,602.2L2825.1,615.3L2889.6,628.5L2954,642.4L3018.4,658.4L3082.8,681.3Z" fill="url(#lR33)"/><path d="M3081.8,682.3L3017.4,659.4L2953,643.4L2888.6,629.6L2824.2,616.4L2759.8,603.3L2695.5,590.2L2631.1,575.3L2566.7,552.9L2585,529.7L2649.3,552.2L2713.7,567.8L2778.1,581.6L2842.5,595.4L2906.9,609.4L2971.3,624.2L3035.7,640.9L3100.1,663.6Z" fill="url(#lR36)"/><path d="M3099.1,664.6L3034.7,641.8L2970.3,625.1L2905.9,610.4L2841.6,596.4L2777.2,582.6L2712.8,568.9L2648.5,553.3L2584.1,530.8L2602.4,509.4L2666.8,532L2731.1,548.1L2795.5,562.5L2859.9,576.9L2924.3,591.7L2988.6,607.2L3053,624.5L3117.4,647.2Z" fill="url(#lR39)"/><path d="M3116.3,648.2L3052,625.5L2987.6,608.1L2923.3,592.7L2858.9,577.9L2794.5,563.5L2730.2,549.2L2665.8,533L2601.5,510.4L2619.9,490.7L2684.2,513.4L2748.5,530L2812.9,544.9L2877.2,559.8L2941.6,575.2L3006,591.4L3070.3,609.3L3134.6,631.9Z" fill="url(#lR42)"/><path d="M3133.6,632.8L3069.2,610.2L3004.9,592.3L2940.6,576.2L2876.2,560.8L2811.9,545.9L2747.6,531L2683.2,514.4L2618.9,491.7L2637.3,473.4L2701.6,496.3L2766,513.4L2830.3,528.6L2894.6,544L2958.9,559.9L3023.3,576.7L3087.6,595.1L3151.9,617.7Z" fill="url(#lR45)"/><path d="M3150.8,618.6L3086.5,596L3022.2,577.6L2957.9,560.8L2893.6,544.9L2829.2,529.6L2764.9,514.3L2700.6,497.2L2636.3,474.4L2654.7,457.6L2719.1,480.6L2783.4,498L2847.7,513.6L2912,529.3L2976.3,545.7L3040.6,563.1L3104.9,581.9L3169.2,604.5Z" fill="url(#lR48)"/><path d="M3168.1,605.3L3103.8,582.8L3039.5,563.9L2975.2,546.6L2910.9,530.2L2846.6,514.5L2782.3,498.9L2718,481.5L2653.7,458.5L2672.2,443L2736.5,466.1L2800.8,483.9L2865.1,499.8L2929.4,515.7L2993.6,532.5L3057.9,550.3L3122.2,569.6L3186.5,592.1Z" fill="url(#lR51)"/><path d="M3185.4,592.9L3121.1,570.4L3056.8,551.1L2992.5,533.3L2928.2,516.5L2863.9,500.6L2799.7,484.8L2735.4,467L2671.1,443.9L2689.6,429.6L2753.9,452.9L2818.2,470.9L2882.4,486.9L2946.7,503L3011,520.2L3075.3,538.4L3139.5,558L3203.8,580.5Z" fill="url(#lR54)"/><path d="M3202.6,581.2L3138.4,558.8L3074.1,539.2L3009.8,520.9L2945.6,503.8L2881.3,487.7L2817,471.7L2752.8,453.7L2688.5,430.4L2707.1,417.2L2771.3,440.7L2835.6,458.9L2899.8,475L2964.1,491.2L3028.3,508.6L3092.6,527.2L3156.8,547.1L3221.1,569.6Z" fill="url(#lR57)"/><path d="M3219.9,570.3L3155.6,547.9L3091.4,527.9L3027.2,509.4L2962.9,492L2898.7,475.8L2834.4,459.6L2770.2,441.5L2705.9,418L2724.5,405.8L2788.7,429.4L2853,447.8L2917.2,464L2981.4,480.2L3045.7,497.8L3109.9,516.7L3174.1,536.9L3238.4,559.3Z" fill="url(#lR60)"/><path d="M3237.2,560L3172.9,537.6L3108.7,517.4L3044.5,498.5L2980.2,480.9L2916,464.7L2851.8,448.5L2787.6,430.2L2723.3,406.6L2741.9,395.2L2806.2,419L2870.4,437.4L2934.6,453.6L2998.8,469.9L3063,487.6L3127.2,506.7L3191.4,527.2L3255.7,549.6Z" fill="url(#lR63)"/><path d="M3254.4,550.3L3190.2,527.9L3126,507.4L3061.8,488.3L2997.6,470.6L2933.4,454.3L2869.2,438.1L2805,419.7L2740.7,395.9L2759.4,385.3L2823.6,409.3L2887.8,427.8L2952,443.9L3016.2,460.1L3080.4,477.9L3144.6,497.2L3208.7,517.9L3272.9,540.4Z" fill="url(#lR66)"/><path d="M3271.7,541L3207.5,518.6L3143.3,497.9L3079.1,478.5L3014.9,460.7L2950.7,444.6L2886.5,428.4L2822.3,409.9L2758.2,385.9L2776.8,375.9L2841,400.1L2905.2,418.7L2969.3,434.7L3033.5,450.8L3097.7,468.6L3161.9,488.1L3226,509L3290.2,531.5Z" fill="url(#lR69)"/><path d="M3289,532.2L3224.8,509.7L3160.6,488.8L3096.5,469.2L3032.3,451.4L2968.1,435.3L2903.9,419.3L2839.7,400.8L2775.6,376.6L2794.2,367.1L2858.4,391.5L2922.6,410.1L2986.7,425.9L3050.9,441.8L3115,459.7L3179.2,479.3L3243.3,500.4L3307.5,523Z" fill="url(#lR72)"/><path d="M3306.2,523.6L3242.1,501.1L3177.9,480L3113.8,460.3L3049.6,442.5L2985.5,426.5L2921.3,410.7L2857.1,392.1L2793,367.7L2811.7,358.6L2875.8,383.3L2940,401.8L3004.1,417.5L3068.2,433.2L3132.4,451L3196.5,470.8L3260.6,492.1L3324.8,514.7Z" fill="url(#lR75)"/><path d="M3323.5,515.3L3259.4,492.7L3195.2,471.4L3131.1,451.6L3067,433.8L3002.8,418.1L2938.7,402.4L2874.6,383.9L2810.4,359.2L2829.1,350.4L2893.2,375.3L2957.3,393.8L3021.5,409.2L3085.6,424.7L3149.7,442.5L3213.8,462.4L3277.9,483.8L3342.1,506.5Z" fill="url(#lR78)"/><path d="M3340.8,507.1L3276.7,484.4L3212.6,463L3148.4,443.1L3084.3,425.3L3020.2,409.8L2956.1,394.4L2892,375.9L2827.8,351L2846.5,342.3L2910.6,367.6L2974.7,386L3038.8,401.2L3102.9,416.4L3167,434.1L3231.1,454L3295.2,475.6L3359.3,498.5Z" fill="url(#lR81)"/><path d="M3358.1,499.1L3294,476.2L3229.9,454.7L3165.8,434.7L3101.7,417L3037.6,401.7L2973.5,386.6L2909.4,368.1L2845.3,342.9L2864,334.3L2928,359.9L2992.1,378.2L3056.2,393.1L3120.3,408.1L3184.4,425.7L3248.4,445.7L3312.5,467.4L3376.6,490.4Z" fill="url(#lR84)"/><path d="M3375.3,491L3311.3,468L3247.2,446.3L3183.1,426.3L3119,408.7L3054.9,393.7L2990.8,378.8L2926.8,360.4L2862.7,334.8L2881.4,326.2L2945.5,352.1L3009.5,370.4L3073.6,385L3137.6,399.6L3201.7,417.1L3265.8,437.2L3329.8,459.1L3393.9,482.2Z" fill="url(#lR87)"/><path d="M3392.6,482.8L3328.6,459.7L3264.5,437.8L3200.4,417.8L3136.4,400.3L3072.3,385.6L3008.2,371L2944.2,352.7L2880.1,326.8L2898.8,317.9L2962.9,344.2L3026.9,362.4L3090.9,376.7L3155,391L3219,408.4L3283.1,428.5L3347.1,450.6L3411.2,473.9Z" fill="url(#lR90)"/><path d="M3409.9,474.5L3345.9,451.2L3281.8,429.2L3217.8,409L3153.7,391.7L3089.7,377.3L3025.6,363L2961.6,344.8L2897.5,318.5L2916.2,309.3L2980.3,336.1L3044.3,354.2L3108.3,368.1L3172.3,382.2L3236.3,399.4L3300.4,419.6L3364.4,441.9L3428.4,465.3Z" fill="url(#lR93)"/><path d="M3427.2,466L3363.2,442.5L3299.1,420.3L3235.1,400.1L3171.1,382.8L3107.1,368.7L3043,354.8L2979,336.7L2915,310L2933.6,300.4L2997.7,327.5L3061.7,345.6L3125.7,359.2L3189.7,372.9L3253.7,390L3317.7,410.3L3381.7,432.7L3445.7,456.4Z" fill="url(#lR96)"/><path d="M3444.5,457.1L3380.5,433.4L3316.5,411L3252.4,390.7L3188.4,373.6L3124.4,359.8L3060.4,346.2L2996.4,328.2L2932.4,301L2951.1,290.9L3015.1,318.6L3079,336.6L3143,349.8L3207,363.2L3271,380.2L3335,400.6L3399,423.2L3463,447.1Z" fill="url(#lR99)"/><path d="M3461.7,447.8L3397.8,423.9L3333.8,401.3L3269.8,380.9L3205.8,363.9L3141.8,350.5L3077.8,337.2L3013.8,319.2L2949.8,291.6L2968.5,280.9L3032.5,309L3096.4,327L3160.4,339.9L3224.4,352.9L3288.3,369.8L3352.3,390.3L3416.3,413.1L3480.2,437.4Z" fill="url(#lR102)"/><path d="M3479,438.1L3415.1,413.8L3351.1,391L3287.1,370.6L3223.2,353.7L3159.2,340.6L3095.2,327.6L3031.2,309.7L2967.3,281.6L2985.9,270.1L3049.9,298.8L3113.8,316.7L3177.7,329.3L3241.7,342L3305.6,358.8L3369.6,379.4L3433.5,402.5L3497.5,427Z" fill="url(#lR105)"/><path d="M3496.3,427.8L3432.4,403.2L3368.4,380.1L3304.5,359.6L3240.5,342.8L3176.6,330L3112.6,317.4L3048.7,299.5L2984.7,270.8L3003.3,258.5L3067.2,287.7L3131.2,305.6L3195.1,317.9L3259,330.4L3323,347.1L3386.9,367.8L3450.8,391.2L3514.8,416.1Z" fill="url(#lR108)"/><path d="M3513.6,416.8L3449.7,391.9L3385.7,368.6L3321.8,347.9L3257.9,331.2L3193.9,318.7L3130,306.4L3066.1,288.5L3002.2,259.2L3020.7,245.9L3084.6,275.8L3148.6,293.7L3212.5,305.7L3276.4,317.9L3340.3,334.6L3404.2,355.4L3468.1,379.1L3532,404.4Z" fill="url(#lR111)"/><path d="M3530.9,405.2L3467,379.9L3403.1,356.2L3339.2,335.4L3275.2,318.7L3211.3,306.5L3147.4,294.5L3083.5,276.6L3019.6,246.7L3038.1,232.3L3102,262.9L3165.9,280.8L3229.8,292.6L3293.7,304.4L3357.6,321.1L3421.5,342.1L3485.4,366.2L3549.3,391.9Z" fill="url(#lR114)"/><path d="M3548.2,392.8L3484.3,367L3420.4,343L3356.5,322L3292.6,305.3L3228.7,293.4L3164.8,281.7L3100.9,263.8L3037,233.2L3055.5,217.6L3119.4,248.9L3183.3,266.9L3247.2,278.4L3311,290L3374.9,306.7L3438.8,327.9L3502.7,352.4L3566.6,378.6Z" fill="url(#lR117)"/></g>
<mask id="mL" maskUnits="userSpaceOnUse" x="0" y="0" width="3780" height="1462"><g fill="none" stroke="#fff" stroke-width="2.0"><polyline points="952,1015 965.5,988.8 979,962.7 992.5,936.5 1006,910.5 1019.6,884.6 1033.2,858.9 1046.8,833.6 1060.6,808.5 1074.4,784 1088.4,759.8 1102.5,736.3 1116.7,713.3 1131,691 1145.5,669.4 1160.2,648.5 1175,628.6 1190,609.5 1205.2,591.3 1220.5,574 1236,557.4 1251.6,541.5 1267.3,526.3 1283.1,511.7 1299.1,497.9 1315.1,484.6 1331.2,472.1 1347.5,460.2 1363.8,448.9 1380.2,438.3 1396.7,428.3 1413.2,418.9 1429.8,410.1 1446.5,401.9 1463.2,394.2 1480,387.1 1496.8,380.6 1513.7,374.6 1530.6,369 1547.6,363.9 1564.5,359.3 1581.5,355.1 1598.5,351.3 1615.6,347.9 1632.6,344.9 1644,343"/><polyline points="942.1,1014.3 955.6,988.2 969.1,962 982.6,935.7 996.1,909.6 1009.7,883.5 1023.3,857.7 1036.9,832.2 1050.7,807 1064.5,782.3 1078.5,758.1 1092.6,734.4 1106.8,711.3 1121.1,688.9 1135.6,667.3 1150.3,646.4 1165.1,626.4 1180.1,607.3 1195.3,589 1210.6,571.5 1226.1,554.8 1241.7,538.7 1257.4,523.3 1273.2,508.5 1289.2,494.4 1305.2,480.8 1321.3,468 1337.6,455.7 1353.9,444.1 1370.3,433.2 1386.7,422.8 1403.3,413.1 1419.9,404 1436.6,395.4 1453.3,387.5 1470.1,380.1 1486.9,373.3 1503.8,367.1 1520.7,361.3 1537.7,356.1 1554.6,351.3 1571.6,347 1588.6,343.1 1605.7,339.7 1622.7,336.6 1634.1,334.7"/><polyline points="932.2,1013.4 945.7,987.3 959.2,961.1 972.7,934.7 986.2,908.5 999.8,882.3 1013.4,856.3 1027,830.7 1040.8,805.4 1054.6,780.6 1068.6,756.2 1082.7,732.5 1096.9,709.3 1111.2,686.9 1125.7,665.1 1140.4,644.2 1155.2,624.1 1170.2,604.9 1185.4,586.6 1200.7,569 1216.2,552.2 1231.8,535.9 1247.5,520.3 1263.3,505.3 1279.3,490.9 1295.3,477.1 1311.4,463.9 1327.7,451.4 1344,439.5 1360.4,428.2 1376.8,417.5 1393.4,407.5 1410,398 1426.7,389.2 1443.4,381 1460.2,373.4 1477,366.3 1493.9,359.8 1510.8,353.9 1527.8,348.5 1544.7,343.6 1561.7,339.2 1578.7,335.2 1595.8,331.7 1612.8,328.6 1624.2,326.8"/><polyline points="922.3,1012.3 935.8,986.3 949.3,960 962.8,933.6 976.3,907.2 989.8,880.9 1003.5,854.8 1017.1,829.1 1030.9,803.7 1044.7,778.7 1058.7,754.3 1072.8,730.5 1087,707.3 1101.3,684.7 1115.8,662.9 1130.5,641.9 1145.3,621.8 1160.3,602.6 1175.5,584.2 1190.8,566.6 1206.3,549.6 1221.9,533.2 1237.6,517.4 1253.4,502.1 1269.4,487.5 1285.4,473.5 1301.5,460 1317.8,447.2 1334.1,434.9 1350.5,423.3 1366.9,412.4 1383.5,402 1400.1,392.3 1416.8,383.2 1433.5,374.7 1450.3,366.8 1467.1,359.5 1484,352.9 1500.9,346.7 1517.9,341.2 1534.8,336.1 1551.8,331.6 1568.8,327.6 1585.9,324 1602.9,320.9 1614.3,319.1"/><polyline points="912.4,1011 925.9,985 939.4,958.7 952.9,932.3 966.4,905.8 979.9,879.4 993.6,853.2 1007.2,827.3 1021,801.8 1034.8,776.8 1048.8,752.3 1062.9,728.4 1077.1,705.1 1091.4,682.5 1105.9,660.7 1120.6,639.6 1135.4,619.5 1150.4,600.2 1165.6,581.8 1180.9,564 1196.4,546.9 1212,530.4 1227.7,514.4 1243.5,499 1259.5,484.1 1275.5,469.8 1291.6,456.1 1307.9,443 1324.2,430.5 1340.6,418.6 1357,407.4 1373.6,396.7 1390.2,386.7 1406.9,377.4 1423.6,368.6 1440.4,360.5 1457.2,353 1474.1,346.1 1491,339.8 1507.9,334.1 1524.9,329 1541.9,324.4 1558.9,320.3 1576,316.6 1593,313.5 1604.4,311.7"/><polyline points="902.5,1009.5 916,983.6 929.5,957.3 943,930.8 956.5,904.2 970,877.7 983.6,851.5 997.3,825.5 1011.1,799.9 1024.9,774.8 1038.9,750.2 1053,726.3 1067.2,702.9 1081.5,680.3 1096,658.4 1110.7,637.3 1125.5,617.1 1140.5,597.8 1155.7,579.4 1171,561.5 1186.5,544.3 1202.1,527.7 1217.8,511.5 1233.6,495.9 1249.6,480.8 1265.6,466.3 1281.7,452.4 1297.9,439 1314.3,426.2 1330.7,414.1 1347.1,402.5 1363.7,391.6 1380.3,381.4 1397,371.7 1413.7,362.8 1430.5,354.4 1447.3,346.8 1464.2,339.7 1481.1,333.2 1498,327.4 1515,322.1 1532,317.4 1549,313.2 1566.1,309.6 1583.1,306.4 1594.5,304.6"/><polyline points="892.6,1007.9 906.1,982 919.6,955.7 933.1,929.2 946.6,902.5 960.1,876 973.7,849.6 987.4,823.5 1001.2,797.8 1015,772.7 1029,748.1 1043,724 1057.3,700.7 1071.6,678 1086.1,656.1 1100.8,635 1115.6,614.7 1130.6,595.4 1145.8,576.9 1161.1,559 1176.6,541.7 1192.2,524.9 1207.9,508.6 1223.7,492.8 1239.7,477.6 1255.7,462.8 1271.8,448.6 1288,435 1304.4,422 1320.8,409.6 1337.2,397.8 1353.8,386.7 1370.4,376.2 1387.1,366.3 1403.8,357.1 1420.6,348.6 1437.4,340.7 1454.3,333.5 1471.2,326.9 1488.1,320.9 1505.1,315.5 1522.1,310.7 1539.1,306.4 1556.2,302.8 1573.2,299.6 1584.6,297.8"/><polyline points="882.7,1006 896.2,980.3 909.7,954 923.2,927.4 936.7,900.7 950.2,874.1 963.8,847.6 977.5,821.5 991.3,795.7 1005.1,770.5 1019.1,745.8 1033.1,721.8 1047.3,698.4 1061.7,675.6 1076.2,653.7 1090.8,632.6 1105.7,612.3 1120.7,593 1135.9,574.4 1151.2,556.5 1166.7,539.1 1182.3,522.2 1198,505.7 1213.8,489.8 1229.7,474.3 1245.8,459.4 1261.9,445 1278.1,431.2 1294.5,417.9 1310.8,405.3 1327.3,393.3 1343.9,381.9 1360.5,371.2 1377.2,361.1 1393.9,351.7 1410.7,343 1427.5,334.9 1444.4,327.5 1461.3,320.8 1478.2,314.6 1495.2,309.2 1512.2,304.3 1529.2,300 1546.3,296.2 1563.3,293.1 1574.7,291.2"/><polyline points="872.8,1004.1 886.3,978.4 899.8,952.1 913.3,925.5 926.8,898.7 940.3,872 953.9,845.5 967.6,819.3 981.4,793.5 995.2,768.2 1009.2,743.5 1023.2,719.4 1037.4,696 1051.8,673.3 1066.3,651.3 1080.9,630.1 1095.8,609.9 1110.8,590.5 1126,571.9 1141.3,553.9 1156.8,536.4 1172.4,519.4 1188.1,502.9 1203.9,486.8 1219.8,471.2 1235.9,456 1252,441.5 1268.2,427.4 1284.5,414 1300.9,401.1 1317.4,388.9 1334,377.3 1350.6,366.4 1367.3,356.1 1384,346.5 1400.8,337.6 1417.6,329.4 1434.5,321.8 1451.4,314.9 1468.3,308.7 1485.3,303.1 1502.3,298.1 1519.3,293.8 1536.3,290 1553.4,286.8 1564.8,285"/><polyline points="862.9,1001.9 876.4,976.3 889.8,950.1 903.3,923.4 916.9,896.6 930.4,869.9 944,843.3 957.7,817.1 971.5,791.2 985.3,765.9 999.3,741.2 1013.3,717 1027.5,693.6 1041.9,670.8 1056.4,648.8 1071,627.7 1085.9,607.4 1100.9,588 1116.1,569.4 1131.4,551.3 1146.9,533.8 1162.5,516.7 1178.2,500 1194,483.8 1209.9,468 1226,452.8 1242.1,438 1258.3,423.8 1274.6,410.1 1291,397.1 1307.5,384.6 1324.1,372.8 1340.7,361.7 1357.4,351.2 1374.1,341.5 1390.9,332.4 1407.7,324 1424.6,316.3 1441.5,309.3 1458.4,303 1475.4,297.3 1492.4,292.2 1509.4,287.8 1526.4,284 1543.5,280.8 1554.9,279"/><polyline points="853,999.6 866.5,974.1 879.9,947.9 893.4,921.2 907,894.4 920.5,867.6 934.1,841 947.8,814.7 961.6,788.8 975.4,763.5 989.4,738.7 1003.4,714.6 1017.6,691.1 1032,668.4 1046.5,646.4 1061.1,625.2 1076,604.9 1091,585.5 1106.2,566.8 1121.5,548.8 1137,531.1 1152.6,514 1168.3,497.2 1184.1,480.8 1200,464.9 1216.1,449.5 1232.2,434.6 1248.4,420.2 1264.7,406.4 1281.1,393.1 1297.6,380.5 1314.2,368.5 1330.8,357.2 1347.5,346.6 1364.2,336.7 1381,327.4 1397.8,318.9 1414.7,311.1 1431.6,304 1448.5,297.5 1465.5,291.7 1482.5,286.6 1499.5,282.2 1516.5,278.3 1533.6,275.1 1545,273.3"/><polyline points="843.1,997.2 856.6,971.7 870,945.6 883.5,918.9 897.1,892.1 910.6,865.3 924.2,838.6 937.9,812.3 951.7,786.4 965.5,761 979.5,736.2 993.5,712.1 1007.7,688.6 1022.1,665.8 1036.6,643.8 1051.2,622.6 1066.1,602.3 1081.1,582.9 1096.3,564.3 1111.6,546.2 1127.1,528.5 1142.7,511.2 1158.4,494.4 1174.2,477.9 1190.1,461.9 1206.2,446.3 1222.3,431.3 1238.5,416.7 1254.8,402.7 1271.2,389.3 1287.7,376.5 1304.3,364.4 1320.9,352.9 1337.5,342.1 1354.3,332.1 1371.1,322.7 1387.9,314 1404.8,306.1 1421.7,298.8 1438.6,292.3 1455.6,286.5 1472.6,281.3 1489.6,276.8 1506.6,272.9 1523.7,269.6 1535.1,267.8"/><polyline points="833.2,994.6 846.6,969.3 860.1,943.1 873.6,916.5 887.2,889.7 900.7,862.8 914.3,836.2 928,809.8 941.7,783.9 955.6,758.5 969.6,733.7 983.6,709.5 997.8,686.1 1012.2,663.3 1026.7,641.3 1041.3,620.1 1056.2,599.8 1071.2,580.4 1086.4,561.7 1101.7,543.6 1117.2,525.9 1132.8,508.5 1148.5,491.6 1164.3,475 1180.2,458.9 1196.3,443.2 1212.4,428 1228.6,413.3 1244.9,399.2 1261.3,385.6 1277.8,372.7 1294.4,360.4 1311,348.8 1327.6,337.9 1344.4,327.6 1361.2,318.1 1378,309.4 1394.9,301.3 1411.8,294 1428.7,287.4 1445.7,281.4 1462.7,276.2 1479.7,271.6 1496.7,267.7 1513.8,264.5 1525.2,262.6"/><polyline points="823.2,991.9 836.7,966.6 850.2,940.6 863.7,914 877.3,887.1 890.8,860.3 904.4,833.6 918.1,807.2 931.8,781.3 945.7,755.9 959.6,731.1 973.7,706.9 987.9,683.5 1002.3,660.7 1016.8,638.7 1031.4,617.5 1046.3,597.2 1061.3,577.8 1076.5,559.1 1091.8,541 1107.3,523.2 1122.9,505.8 1138.6,488.8 1154.4,472.2 1170.3,455.9 1186.4,440.1 1202.5,424.8 1218.7,410 1235,395.7 1251.4,382 1267.9,369 1284.4,356.6 1301.1,344.8 1317.7,333.8 1334.5,323.4 1351.3,313.8 1368.1,304.9 1385,296.8 1401.9,289.3 1418.8,282.6 1435.8,276.7 1452.8,271.4 1469.8,266.8 1486.8,262.8 1503.9,259.5 1515.2,257.7"/><polyline points="813.3,989.1 826.8,963.9 840.3,937.9 853.8,911.3 867.3,884.5 880.9,857.6 894.5,830.9 908.2,804.6 921.9,778.6 935.8,753.2 949.7,728.4 963.8,704.3 978,680.8 992.4,658.1 1006.9,636.1 1021.5,614.9 1036.4,594.6 1051.4,575.2 1066.5,556.5 1081.9,538.3 1097.4,520.5 1112.9,503.1 1128.7,486.1 1144.5,469.3 1160.4,453 1176.5,437.1 1192.6,421.7 1208.8,406.8 1225.1,392.4 1241.5,378.6 1258,365.4 1274.5,352.9 1291.2,341 1307.8,329.8 1324.6,319.4 1341.4,309.7 1358.2,300.7 1375.1,292.5 1392,284.9 1408.9,278.2 1425.9,272.1 1442.9,266.8 1459.9,262.1 1476.9,258.2 1494,254.9 1505.3,253"/><polyline points="803.4,986.1 816.9,961.1 830.4,935.1 843.9,908.6 857.4,881.8 871,854.9 884.6,828.2 898.3,801.8 912,775.9 925.9,750.5 939.8,725.7 953.9,701.6 968.1,678.1 982.5,655.4 997,633.4 1011.6,612.3 1026.5,592 1041.5,572.6 1056.6,553.9 1072,535.7 1087.4,517.9 1103,500.4 1118.8,483.3 1134.6,466.5 1150.5,450.1 1166.6,434.2 1182.7,418.6 1198.9,403.6 1215.2,389.2 1231.6,375.3 1248.1,362 1264.6,349.3 1281.3,337.4 1297.9,326.1 1314.7,315.6 1331.5,305.7 1348.3,296.7 1365.2,288.4 1382.1,280.8 1399,273.9 1416,267.8 1433,262.4 1450,257.8 1467,253.8 1484.1,250.5 1495.4,248.6"/><polyline points="793.5,983.1 807,958.1 820.5,932.2 834,905.7 847.5,878.9 861.1,852.1 874.7,825.4 888.4,799 902.1,773.1 916,747.7 929.9,723 944,698.9 958.2,675.4 972.6,652.7 987.1,630.8 1001.7,609.6 1016.6,589.3 1031.6,569.9 1046.7,551.3 1062.1,533.1 1077.5,515.2 1093.1,497.7 1108.9,480.6 1124.7,463.8 1140.6,447.3 1156.6,431.3 1172.8,415.7 1189,400.6 1205.3,386 1221.7,372 1238.2,358.7 1254.7,345.9 1271.4,333.9 1288,322.5 1304.8,311.9 1321.5,302 1338.4,292.9 1355.3,284.5 1372.2,276.8 1389.1,269.9 1406.1,263.8 1423.1,258.4 1440.1,253.6 1457.1,249.6 1474.2,246.3 1485.5,244.4"/><polyline points="783.6,979.9 797.1,955.1 810.6,929.2 824.1,902.8 837.6,876 851.2,849.2 864.8,822.6 878.5,796.2 892.2,770.3 906.1,744.9 920,720.2 934.1,696.1 948.3,672.7 962.7,650 977.2,628.1 991.8,606.9 1006.6,586.7 1021.7,567.3 1036.8,548.7 1052.2,530.4 1067.6,512.6 1083.2,495.1 1099,477.9 1114.8,461 1130.7,444.5 1146.7,428.4 1162.9,412.8 1179.1,397.6 1195.4,383 1211.8,368.9 1228.3,355.5 1244.8,342.7 1261.4,330.6 1278.1,319.1 1294.9,308.4 1311.6,298.5 1328.5,289.3 1345.3,280.8 1362.3,273.1 1379.2,266.2 1396.2,260 1413.2,254.5 1430.2,249.8 1447.2,245.7 1464.3,242.4 1475.6,240.5"/><polyline points="773.7,976.7 787.2,951.9 800.7,926.2 814.2,899.8 827.7,873.1 841.3,846.3 854.9,819.6 868.6,793.3 882.3,767.4 896.2,742.1 910.1,717.3 924.2,693.3 938.4,669.9 952.8,647.3 967.2,625.3 981.9,604.3 996.7,584 1011.8,564.6 1026.9,546 1042.3,527.8 1057.7,509.9 1073.3,492.4 1089,475.2 1104.9,458.3 1120.8,441.7 1136.8,425.6 1153,409.9 1169.2,394.7 1185.5,380 1201.9,365.9 1218.4,352.4 1234.9,339.6 1251.5,327.4 1268.2,315.9 1285,305.1 1301.7,295.1 1318.6,285.9 1335.4,277.4 1352.4,269.6 1369.3,262.6 1386.3,256.4 1403.3,250.9 1420.3,246.1 1437.3,242 1454.4,238.7 1465.7,236.8"/><polyline points="763.8,973.3 777.3,948.7 790.8,923 804.3,896.7 817.8,870 831.4,843.3 845,816.6 858.7,790.3 872.4,764.4 886.3,739.1 900.2,714.5 914.3,690.4 928.5,667.1 942.8,644.5 957.3,622.6 972,601.5 986.8,581.3 1001.9,562 1017,543.3 1032.4,525.1 1047.8,507.3 1063.4,489.7 1079.1,472.5 1095,455.6 1110.9,439 1126.9,422.9 1143.1,407.1 1159.3,391.9 1175.6,377.2 1192,363 1208.5,349.5 1225,336.6 1241.6,324.4 1258.3,312.8 1275.1,302 1291.8,292 1308.7,282.7 1325.5,274.1 1342.4,266.3 1359.4,259.3 1376.4,253 1393.4,247.5 1410.4,242.7 1427.4,238.6 1444.5,235.2 1455.8,233.4"/><polyline points="753.9,969.9 767.4,945.4 780.9,919.8 794.4,893.5 807.9,866.9 821.5,840.2 835.1,813.6 848.8,787.3 862.5,761.5 876.4,736.2 890.3,711.6 904.4,687.6 918.6,664.3 932.9,641.7 947.4,619.8 962.1,598.8 976.9,578.6 991.9,559.3 1007.1,540.7 1022.5,522.5 1037.9,504.6 1053.5,487.1 1069.2,469.8 1085.1,452.9 1101,436.4 1117,420.2 1133.2,404.4 1149.4,389.2 1165.7,374.4 1182.1,360.3 1198.6,346.7 1215.1,333.8 1231.7,321.5 1248.4,309.9 1265.1,299.1 1281.9,289 1298.8,279.7 1315.6,271.1 1332.5,263.3 1349.5,256.2 1366.5,249.9 1383.5,244.4 1400.5,239.5 1417.5,235.4 1434.6,232 1445.9,230.1"/><polyline points="744,966.4 757.5,942 771,916.5 784.5,890.3 798,863.7 811.6,837 825.2,810.5 838.9,784.2 852.6,758.4 866.5,733.2 880.4,708.6 894.5,684.7 908.7,661.4 923,638.9 937.5,617.1 952.2,596.1 967,575.9 982,556.6 997.2,538 1012.6,519.8 1028,502 1043.6,484.4 1059.3,467.2 1075.2,450.3 1091.1,433.7 1107.1,417.5 1123.3,401.8 1139.5,386.5 1155.8,371.8 1172.2,357.6 1188.7,344 1205.2,331 1221.8,318.8 1238.5,307.2 1255.2,296.3 1272,286.2 1288.9,276.9 1305.7,268.3 1322.6,260.4 1339.6,253.3 1356.6,247 1373.5,241.4 1390.6,236.6 1407.6,232.5 1424.6,229 1436,227.1"/><polyline points="734.1,962.8 747.6,938.5 761.1,913.1 774.6,887 788.1,860.5 801.7,833.9 815.3,807.4 829,781.1 842.7,755.4 856.6,730.2 870.5,705.7 884.6,681.8 898.8,658.5 913.1,636 927.6,614.3 942.3,593.3 957.1,573.2 972.1,553.9 987.3,535.3 1002.6,517.1 1018.1,499.3 1033.7,481.8 1049.4,464.6 1065.3,447.7 1081.2,431.1 1097.2,414.9 1113.4,399.2 1129.6,383.9 1145.9,369.2 1162.3,355 1178.8,341.4 1195.3,328.5 1211.9,316.2 1228.6,304.6 1245.3,293.7 1262.1,283.6 1279,274.2 1295.8,265.6 1312.7,257.8 1329.7,250.7 1346.6,244.3 1363.6,238.7 1380.7,233.9 1397.7,229.7 1414.7,226.3 1426.1,224.4"/><polyline points="724.2,959.2 737.7,935 751.2,909.7 764.7,883.6 778.2,857.2 791.8,830.6 805.4,804.2 819.1,778 832.8,752.3 846.7,727.2 860.6,702.7 874.7,678.8 888.9,655.6 903.2,633.2 917.7,611.5 932.4,590.5 947.2,570.4 962.2,551.2 977.4,532.6 992.7,514.5 1008.2,496.7 1023.8,479.2 1039.5,462 1055.4,445.1 1071.3,428.6 1087.3,412.4 1103.5,396.7 1119.7,381.4 1136,366.7 1152.4,352.5 1168.9,339 1185.4,326 1202,313.8 1218.7,302.2 1235.4,291.3 1252.2,281.2 1269.1,271.8 1285.9,263.2 1302.8,255.3 1319.8,248.2 1336.7,241.8 1353.7,236.2 1370.8,231.4 1387.8,227.2 1404.8,223.7 1416.2,221.8"/><polyline points="714.3,955.5 727.8,931.4 741.3,906.2 754.8,880.3 768.3,853.9 781.9,827.4 795.5,801 809.1,774.8 822.9,749.2 836.7,724.1 850.7,699.6 864.8,675.8 879,652.7 893.3,630.3 907.8,608.6 922.5,587.7 937.3,567.7 952.3,548.4 967.5,529.9 982.8,511.8 998.3,494 1013.9,476.5 1029.6,459.4 1045.5,442.5 1061.4,426 1077.4,409.9 1093.5,394.2 1109.8,379 1126.1,364.3 1142.5,350.2 1159,336.6 1175.5,323.7 1192.1,311.5 1208.8,299.9 1225.5,289 1242.3,278.9 1259.1,269.6 1276,260.9 1292.9,253.1 1309.9,245.9 1326.8,239.6 1343.8,234 1360.9,229.1 1377.9,224.9 1394.9,221.4 1406.3,219.5"/><polyline points="704.4,951.8 717.9,927.8 731.4,902.7 744.9,876.8 758.4,850.5 772,824.1 785.6,797.7 799.2,771.6 813,746 826.8,721 840.8,696.6 854.9,672.9 869.1,649.8 883.4,627.4 897.9,605.8 912.6,584.9 927.4,564.9 942.4,545.7 957.6,527.2 972.9,509.1 988.4,491.4 1004,473.9 1019.7,456.8 1035.5,440 1051.5,423.5 1067.5,407.5 1083.6,391.8 1099.9,376.7 1116.2,362 1132.6,347.9 1149.1,334.4 1165.6,321.5 1182.2,309.3 1198.9,297.8 1215.6,286.9 1232.4,276.8 1249.2,267.5 1266.1,258.9 1283,251 1300,243.9 1316.9,237.5 1333.9,231.9 1350.9,227 1368,222.8 1385,219.3 1396.4,217.4"/><polyline points="694.5,948 708,924.2 721.5,899.1 735,873.3 748.5,847.1 762.1,820.7 775.7,794.4 789.3,768.4 803.1,742.9 816.9,717.9 830.9,693.5 845,669.8 859.2,646.8 873.5,624.5 888,602.9 902.7,582.1 917.5,562.2 932.5,543 947.7,524.5 963,506.4 978.5,488.7 994.1,471.3 1009.8,454.3 1025.6,437.5 1041.6,421.1 1057.6,405.1 1073.7,389.5 1090,374.4 1106.3,359.8 1122.7,345.7 1139.2,332.3 1155.7,319.5 1172.3,307.3 1189,295.8 1205.7,285 1222.5,274.9 1239.3,265.6 1256.2,257 1273.1,249.2 1290.1,242 1307,235.7 1324,230 1341,225.1 1358.1,220.9 1375.1,217.4 1386.5,215.5"/><polyline points="684.6,944.2 698.1,920.5 711.6,895.6 725.1,869.8 738.6,843.7 752.2,817.4 765.8,791.1 779.4,765.2 793.2,739.7 807,714.7 821,690.5 835.1,666.8 849.3,643.9 863.6,621.6 878.1,600.1 892.8,579.3 907.6,559.4 922.6,540.2 937.8,521.8 953.1,503.8 968.6,486.1 984.2,468.7 999.9,451.7 1015.7,435 1031.7,418.7 1047.7,402.7 1063.8,387.2 1080.1,372.2 1096.4,357.7 1112.8,343.7 1129.2,330.3 1145.8,317.5 1162.4,305.4 1179.1,294 1195.8,283.2 1212.6,273.2 1229.4,263.9 1246.3,255.3 1263.2,247.5 1280.2,240.4 1297.1,234 1314.1,228.4 1331.1,223.5 1348.2,219.3 1365.2,215.8 1376.6,213.8"/><polyline points="674.7,940.3 688.2,916.8 701.7,891.9 715.2,866.3 728.7,840.2 742.3,814 755.9,787.8 769.5,761.9 783.3,736.5 797.1,711.6 811.1,687.4 825.2,663.8 839.4,640.9 853.7,618.7 868.2,597.2 882.9,576.5 897.7,556.6 912.7,537.5 927.9,519.1 943.2,501.1 958.7,483.5 974.3,466.2 990,449.2 1005.8,432.6 1021.8,416.3 1037.8,400.4 1053.9,385 1070.2,370 1086.5,355.6 1102.9,341.7 1119.3,328.4 1135.9,315.7 1152.5,303.6 1169.2,292.3 1185.9,281.6 1202.7,271.6 1219.5,262.3 1236.4,253.8 1253.3,246 1270.3,238.9 1287.2,232.6 1304.2,226.9 1321.2,222 1338.3,217.8 1355.3,214.3 1366.7,212.3"/><polyline points="664.8,936.5 678.3,913 691.8,888.3 705.3,862.8 718.8,836.8 732.3,810.6 746,784.5 759.6,758.7 773.4,733.3 787.2,708.5 801.2,684.4 815.3,660.9 829.5,638 843.8,615.9 858.3,594.5 873,573.8 887.8,553.9 902.8,534.9 918,516.5 933.3,498.5 948.8,480.9 964.4,463.7 980.1,446.8 995.9,430.2 1011.9,414.1 1027.9,398.3 1044,382.9 1060.3,368.1 1076.6,353.7 1093,339.9 1109.4,326.7 1126,314.1 1142.6,302.1 1159.3,290.8 1176,280.1 1192.8,270.2 1209.6,261 1226.5,252.5 1243.4,244.7 1260.4,237.7 1277.3,231.3 1294.3,225.7 1311.3,220.8 1328.4,216.5 1345.4,213 1356.8,211"/><polyline points="654.9,932.6 668.4,909.3 681.9,884.8 695.4,859.4 708.9,833.5 722.4,807.5 736.1,781.5 749.7,755.8 763.5,730.5 777.3,705.9 791.3,681.8 805.4,658.4 819.6,635.7 833.9,613.6 848.4,592.3 863.1,571.7 877.9,551.9 892.9,532.9 908.1,514.6 923.4,496.7 938.9,479.1 954.5,462 970.2,445.1 986,428.6 1002,412.5 1018,396.8 1034.1,381.5 1050.4,366.7 1066.7,352.4 1083.1,338.6 1099.5,325.5 1116.1,312.9 1132.7,301 1149.4,289.7 1166.1,279.1 1182.9,269.2 1199.7,260 1216.6,251.5 1233.5,243.7 1250.4,236.7 1267.4,230.3 1284.4,224.7 1301.4,219.7 1318.5,215.5 1335.5,211.9 1346.9,209.9"/><polyline points="645,928.7 658.5,905.7 672,881.4 685.5,856.2 699,830.6 712.5,804.7 726.1,779 739.8,753.4 753.6,728.3 767.4,703.8 781.4,679.9 795.5,656.7 809.7,634.1 824,612.2 838.5,591 853.2,570.6 868,550.9 883,531.9 898.2,513.7 913.5,495.8 929,478.4 944.6,461.3 960.3,444.5 976.1,428 992.1,411.9 1008.1,396.2 1024.2,380.9 1040.4,366.2 1056.8,351.9 1073.2,338.1 1089.6,324.9 1106.2,312.4 1122.8,300.4 1139.5,289.1 1156.2,278.5 1173,268.6 1189.8,259.3 1206.7,250.8 1223.6,243 1240.5,235.9 1257.5,229.6 1274.5,223.9 1291.5,218.9 1308.6,214.6 1325.6,211 1337,209"/><polyline points="635.1,924.8 648.6,902.1 662.1,878.1 675.6,853.2 689.1,827.9 702.6,802.3 716.2,776.7 729.9,751.4 743.7,726.6 757.5,702.3 771.5,678.6 785.5,655.6 799.8,633.2 814.1,611.5 828.6,590.5 843.3,570.2 858.1,550.6 873.1,531.8 888.3,513.6 903.6,495.9 919.1,478.5 934.7,461.4 950.4,444.6 966.2,428.2 982.2,412.1 998.2,396.4 1014.3,381.2 1030.5,366.3 1046.9,352 1063.3,338.2 1079.7,325 1096.3,312.4 1112.9,300.4 1129.6,289 1146.3,278.4 1163.1,268.4 1179.9,259.1 1196.8,250.5 1213.7,242.6 1230.6,235.5 1247.6,229 1264.6,223.3 1281.6,218.3 1298.7,214 1315.7,210.3 1327.1,208.3"/><polyline points="625.2,920.9 638.7,898.5 652.2,874.9 665.7,850.3 679.2,825.2 692.7,799.9 706.3,774.7 720,749.6 733.8,725 747.6,700.9 761.6,677.5 775.6,654.7 789.8,632.5 804.2,611 818.7,590.2 833.3,570 848.2,550.6 863.2,531.9 878.4,513.9 893.7,496.2 909.2,478.9 924.8,461.8 940.5,445.1 956.3,428.7 972.2,412.6 988.3,396.9 1004.4,381.6 1020.6,366.8 1037,352.4 1053.3,338.6 1069.8,325.4 1086.4,312.7 1103,300.6 1119.7,289.2 1136.4,278.5 1153.2,268.4 1170,259 1186.9,250.4 1203.8,242.5 1220.7,235.2 1237.7,228.7 1254.7,223 1271.7,217.9 1288.8,213.5 1305.8,209.8 1317.2,207.8"/><polyline points="615.3,917.1 628.8,895 642.3,871.7 655.8,847.4 669.3,822.6 682.8,797.6 696.4,772.6 710.1,747.8 723.9,723.4 737.7,699.6 751.7,676.3 765.7,653.8 779.9,631.8 794.3,610.5 808.8,589.9 823.4,569.9 838.3,550.6 853.3,532.1 868.5,514.1 883.8,496.5 899.3,479.3 914.9,462.3 930.6,445.6 946.4,429.2 962.3,413.2 978.4,397.5 994.5,382.2 1010.7,367.3 1027,353 1043.4,339.1 1059.9,325.8 1076.5,313.1 1093.1,301 1109.8,289.5 1126.5,278.7 1143.3,268.6 1160.1,259.1 1177,250.4 1193.9,242.4 1210.8,235.2 1227.8,228.6 1244.8,222.8 1261.8,217.6 1278.8,213.2 1295.9,209.5 1307.3,207.4"/><polyline points="605.4,913.2 618.9,891.5 632.3,868.5 645.8,844.5 659.4,820 672.9,795.3 686.5,770.5 700.2,746 714,721.8 727.8,698.2 741.8,675.2 755.8,652.9 770,631.1 784.4,610 798.9,589.6 813.5,569.8 828.4,550.6 843.4,532.2 858.6,514.4 873.9,496.9 889.4,479.7 905,462.8 920.7,446.1 936.5,429.8 952.4,413.7 968.5,398.1 984.6,382.8 1000.8,367.9 1017.1,353.5 1033.5,339.6 1050,326.3 1066.6,313.6 1083.2,301.4 1099.9,289.9 1116.6,279.1 1133.4,268.9 1150.2,259.4 1167.1,250.6 1184,242.6 1200.9,235.2 1217.9,228.6 1234.9,222.7 1251.9,217.6 1268.9,213.1 1286,209.4 1297.4,207.3"/><polyline points="595.5,909.4 609,888 622.4,865.3 635.9,841.6 649.5,817.4 663,793 676.6,768.5 690.3,744.2 704.1,720.2 717.9,696.9 731.9,674.1 745.9,652 760.1,630.5 774.5,609.5 789,589.3 803.6,569.6 818.5,550.7 833.5,532.4 848.7,514.6 864,497.2 879.5,480.1 895.1,463.2 910.8,446.7 926.6,430.3 942.5,414.3 958.6,398.7 974.7,383.4 990.9,368.6 1007.2,354.2 1023.6,340.3 1040.1,326.9 1056.7,314.2 1073.3,302 1090,290.4 1106.7,279.5 1123.5,269.3 1140.3,259.8 1157.2,251 1174.1,242.9 1191,235.5 1208,228.8 1225,222.9 1242,217.7 1259,213.2 1276.1,209.4 1287.5,207.3"/><polyline points="585.6,905.6 599.1,884.5 612.5,862.1 626,838.8 639.6,814.9 653.1,790.7 666.7,766.4 680.4,742.4 694.2,718.7 708,695.6 722,673 736,651.1 750.2,629.8 764.6,609.1 779.1,589 793.7,569.5 808.6,550.7 823.6,532.5 838.8,514.9 854.1,497.5 869.6,480.5 885.2,463.7 900.9,447.2 916.7,430.9 932.6,415 948.7,399.3 964.8,384.1 981,369.3 997.3,354.9 1013.7,341 1030.2,327.6 1046.8,314.9 1063.4,302.7 1080,291.1 1096.8,280.2 1113.6,269.9 1130.4,260.4 1147.3,251.5 1164.2,243.4 1181.1,235.9 1198.1,229.2 1215.1,223.2 1232.1,218 1249.1,213.4 1266.2,209.6 1277.6,207.4"/><polyline points="575.7,901.8 589.1,881.1 602.6,859 616.1,836 629.7,812.4 643.2,788.4 656.8,764.4 670.5,740.6 684.2,717.2 698.1,694.3 712.1,672 726.1,650.2 740.3,629.1 754.7,608.6 769.2,588.7 783.8,569.4 798.7,550.7 813.7,532.7 828.9,515.1 844.2,497.9 859.7,480.9 875.3,464.2 891,447.8 906.8,431.5 922.7,415.6 938.8,400 954.9,384.8 971.1,370 987.4,355.7 1003.8,341.8 1020.3,328.4 1036.9,315.7 1053.5,303.4 1070.1,291.9 1086.9,280.9 1103.7,270.6 1120.5,261.1 1137.4,252.2 1154.3,244 1171.2,236.5 1188.2,229.7 1205.2,223.7 1222.2,218.4 1239.2,213.8 1256.3,210 1267.7,207.8"/><polyline points="565.8,898.1 579.2,877.7 592.7,855.9 606.2,833.2 619.8,809.9 633.3,786.2 646.9,762.5 660.6,738.9 674.3,715.7 688.2,693 702.1,670.9 716.2,649.4 730.4,628.5 744.8,608.2 759.3,588.4 773.9,569.3 788.8,550.8 803.8,532.8 819,515.4 834.3,498.2 849.8,481.4 865.4,464.7 881.1,448.3 896.9,432.2 912.8,416.3 928.9,400.8 945,385.6 961.2,370.8 977.5,356.5 993.9,342.7 1010.4,329.3 1026.9,316.5 1043.6,304.3 1060.2,292.7 1077,281.8 1093.8,271.5 1110.6,261.9 1127.5,253 1144.4,244.7 1161.3,237.2 1178.3,230.4 1195.3,224.4 1212.3,219 1229.3,214.4 1246.4,210.5 1257.8,208.3"/><polyline points="555.8,894.4 569.3,874.4 582.8,852.9 596.3,830.5 609.8,807.4 623.4,784 637,760.5 650.7,737.2 664.4,714.2 678.3,691.7 692.2,669.9 706.3,648.6 720.5,627.9 734.9,607.8 749.4,588.2 764,569.2 778.9,550.8 793.9,533 809,515.7 824.4,498.6 839.9,481.8 855.4,465.3 871.2,448.9 887,432.9 902.9,417.1 919,401.6 935.1,386.5 951.3,371.7 967.6,357.4 984,343.6 1000.5,330.3 1017,317.5 1033.7,305.3 1050.3,293.7 1067.1,282.8 1083.9,272.5 1100.7,262.8 1117.6,253.9 1134.5,245.6 1151.4,238.1 1168.4,231.3 1185.4,225.2 1202.4,219.8 1219.4,215.1 1236.5,211.2 1247.8,209"/><polyline points="545.9,890.8 559.4,871.1 572.9,849.9 586.4,827.8 599.9,805 613.5,781.9 627.1,758.6 640.8,735.5 654.5,712.7 668.4,690.5 682.3,668.9 696.4,647.8 710.6,627.3 725,607.3 739.5,588 754.1,569.1 769,550.9 784,533.2 799.1,515.9 814.5,499 829.9,482.3 845.5,465.8 861.3,449.5 877.1,433.5 893,417.8 909.1,402.4 925.2,387.3 941.4,372.7 957.7,358.4 974.1,344.6 990.6,331.3 1007.1,318.6 1023.8,306.4 1040.4,294.8 1057.2,283.9 1074,273.6 1090.8,263.9 1107.7,255 1124.6,246.7 1141.5,239.1 1158.5,232.3 1175.5,226.1 1192.5,220.7 1209.5,216 1226.6,212 1237.9,209.8"/><polyline points="536,887.3 549.5,867.9 563,847 576.5,825.2 590,802.7 603.6,779.8 617.2,756.8 630.9,733.9 644.6,711.3 658.5,689.3 672.4,667.9 686.5,647 700.7,626.7 715.1,606.9 729.6,587.7 744.2,569.1 759.1,551 774.1,533.4 789.2,516.2 804.6,499.4 820,482.7 835.6,466.4 851.4,450.2 867.2,434.2 883.1,418.6 899.1,403.2 915.3,388.3 931.5,373.6 947.8,359.4 964.2,345.7 980.7,332.5 997.2,319.8 1013.9,307.6 1030.5,296.1 1047.3,285.1 1064,274.8 1080.9,265.2 1097.8,256.2 1114.7,247.9 1131.6,240.3 1148.6,233.4 1165.6,227.2 1182.6,221.8 1199.6,217 1216.7,213 1228,210.7"/><polyline points="526.1,883.8 539.6,864.7 553.1,844.2 566.6,822.6 580.1,800.4 593.7,777.7 607.3,755 621,732.3 634.7,710 648.6,688.1 662.5,666.9 676.6,646.3 690.8,626.1 705.2,606.6 719.7,587.5 734.3,569 749.1,551 764.2,533.6 779.3,516.5 794.7,499.7 810.1,483.2 825.7,466.9 841.5,450.8 857.3,435 873.2,419.4 889.2,404.1 905.4,389.2 921.6,374.7 937.9,360.5 954.3,346.9 970.8,333.7 987.3,321 1003.9,308.9 1020.6,297.4 1037.4,286.4 1054.1,276.2 1071,266.5 1087.8,257.5 1104.8,249.2 1121.7,241.6 1138.7,234.7 1155.7,228.5 1172.7,223 1189.7,218.2 1206.8,214.2 1218.1,211.9"/><polyline points="516.2,880.4 529.7,861.6 543.2,841.4 556.7,820.2 570.2,798.2 583.8,775.7 597.4,753.2 611.1,730.7 624.8,708.6 638.7,687 652.6,666 666.7,645.5 680.9,625.6 695.3,606.2 709.7,587.4 724.4,569 739.2,551.1 754.3,533.8 769.4,516.8 784.8,500.1 800.2,483.7 815.8,467.5 831.5,451.5 847.4,435.7 863.3,420.2 879.3,405.1 895.5,390.2 911.7,375.8 928,361.7 944.4,348.1 960.9,335 977.4,322.4 994,310.3 1010.7,298.8 1027.5,287.9 1044.2,277.6 1061.1,268 1077.9,259 1094.9,250.7 1111.8,243 1128.8,236.1 1145.8,229.9 1162.8,224.3 1179.8,219.5 1196.9,215.4 1208.2,213.1"/><polyline points="506.3,877.1 519.8,858.7 533.3,838.7 546.8,817.7 560.3,796 573.9,773.8 587.5,751.5 601.2,729.3 614.9,707.3 628.8,685.9 642.7,665.1 656.8,644.8 671,625.1 685.3,605.9 699.8,587.2 714.5,569 729.3,551.3 744.4,534 759.5,517.1 774.9,500.5 790.3,484.2 805.9,468.1 821.6,452.2 837.5,436.5 853.4,421.1 869.4,406 885.6,391.3 901.8,376.9 918.1,362.9 934.5,349.4 951,336.3 967.5,323.8 984.1,311.8 1000.8,300.3 1017.6,289.4 1034.3,279.2 1051.2,269.6 1068,260.6 1084.9,252.3 1101.9,244.6 1118.9,237.7 1135.9,231.4 1152.9,225.8 1169.9,221 1187,216.9 1198.3,214.5"/><polyline points="496.4,873.9 509.9,855.8 523.4,836.1 536.9,815.4 550.4,793.9 564,772 577.6,749.9 591.3,727.8 605,706.1 618.9,684.9 632.8,664.3 646.9,644.2 661.1,624.6 675.4,605.6 689.9,587.1 704.6,569 719.4,551.4 734.4,534.2 749.6,517.5 765,501 780.4,484.7 796,468.7 811.7,452.9 827.6,437.3 843.5,422 859.5,407 875.7,392.4 891.9,378.1 908.2,364.2 924.6,350.7 941.1,337.8 957.6,325.3 974.2,313.3 990.9,301.9 1007.6,291.1 1024.4,280.9 1041.3,271.3 1058.1,262.3 1075,254 1092,246.3 1109,239.3 1126,233.1 1143,227.5 1160,222.6 1177.1,218.4 1188.4,216.1"/><polyline points="486.5,870.8 500,853 513.5,833.6 527,813.2 540.5,791.9 554.1,770.2 567.7,748.3 581.4,726.5 595.1,704.9 609,683.9 622.9,663.5 637,643.6 651.2,624.2 665.5,605.3 680,586.9 694.7,569 709.5,551.5 724.5,534.5 739.7,517.8 755.1,501.4 770.5,485.2 786.1,469.3 801.8,453.6 817.7,438.1 833.6,422.9 849.6,408 865.8,393.5 882,379.3 898.3,365.5 914.7,352.2 931.2,339.3 947.7,326.9 964.3,315 981,303.6 997.7,292.8 1014.5,282.7 1031.4,273.1 1048.2,264.1 1065.1,255.8 1082.1,248.2 1099.1,241.2 1116,234.9 1133.1,229.3 1150.1,224.3 1167.1,220.2 1178.5,217.8"/><polyline points="476.6,867.8 490.1,850.3 503.6,831.2 517.1,811 530.6,790 544.2,768.5 557.8,746.8 571.5,725.1 585.2,703.8 599.1,683 613,662.7 627.1,643 641.3,623.8 655.6,605.1 670.1,586.9 684.8,569.1 699.6,551.7 714.6,534.7 729.8,518.2 745.1,501.8 760.6,485.8 776.2,469.9 791.9,454.3 807.8,439 823.7,423.9 839.7,409.1 855.9,394.7 872.1,380.6 888.4,366.9 904.8,353.6 921.3,340.8 937.8,328.5 954.4,316.7 971.1,305.4 987.8,294.7 1004.6,284.5 1021.5,275 1038.3,266.1 1055.2,257.8 1072.2,250.1 1089.1,243.1 1106.1,236.8 1123.2,231.2 1140.2,226.2 1157.2,222 1168.6,219.6"/><polyline points="466.7,864.9 480.2,847.7 493.7,828.9 507.2,809 520.7,788.2 534.3,766.9 547.9,745.4 561.6,723.9 575.3,702.7 589.2,682.1 603.1,662 617.2,642.5 631.4,623.4 645.7,604.9 660.2,586.8 674.9,569.1 689.7,551.9 704.7,535 719.9,518.5 735.2,502.3 750.7,486.3 766.3,470.6 782,455.1 797.9,439.8 813.8,424.9 829.8,410.2 846,395.9 862.2,381.9 878.5,368.3 894.9,355.2 911.4,342.5 927.9,330.2 944.5,318.5 961.2,307.3 977.9,296.6 994.7,286.5 1011.6,277 1028.4,268.1 1045.3,259.8 1062.3,252.2 1079.2,245.2 1096.2,238.8 1113.3,233.2 1130.3,228.2 1147.3,223.9 1158.7,221.5"/><polyline points="456.8,862.2 470.3,845.2 483.8,826.7 497.3,807 510.8,786.4 524.4,765.3 538,744 551.6,722.7 565.4,701.7 579.2,681.3 593.2,661.4 607.3,642 621.5,623.1 635.8,604.7 650.3,586.8 665,569.2 679.8,552.1 694.8,535.3 710,518.9 725.3,502.8 740.8,486.9 756.4,471.2 772.1,455.8 788,440.7 803.9,425.8 819.9,411.3 836,397.1 852.3,383.3 868.6,369.8 885,356.8 901.5,344.2 918,332 934.6,320.4 951.3,309.3 968,298.7 984.8,288.6 1001.6,279.2 1018.5,270.3 1035.4,262 1052.4,254.4 1069.3,247.4 1086.3,241 1103.4,235.3 1120.4,230.3 1137.4,226 1148.8,223.5"/><polyline points="446.9,859.5 460.4,842.9 473.9,824.6 487.4,805.2 500.9,784.8 514.5,763.9 528.1,742.8 541.7,721.6 555.5,700.8 569.3,680.5 583.3,660.8 597.4,641.5 611.6,622.8 625.9,604.6 640.4,586.8 655.1,569.4 669.9,552.3 684.9,535.6 700.1,519.3 715.4,503.2 730.9,487.5 746.5,471.9 762.2,456.6 778,441.6 794,426.9 810,412.5 826.1,398.4 842.4,384.7 858.7,371.3 875.1,358.4 891.6,345.9 908.1,333.9 924.7,322.4 941.4,311.3 958.1,300.8 974.9,290.8 991.7,281.4 1008.6,272.6 1025.5,264.3 1042.5,256.7 1059.4,249.7 1076.4,243.3 1093.4,237.6 1110.5,232.6 1127.5,228.2 1138.9,225.7"/><polyline points="437,857 450.5,840.7 464,822.7 477.5,803.4 491,783.3 504.6,762.5 518.2,741.6 531.8,720.6 545.6,700 559.4,679.8 573.4,660.2 587.5,641.1 601.7,622.6 616,604.5 630.5,586.8 645.2,569.5 660,552.6 675,536 690.2,519.7 705.5,503.7 721,488 736.6,472.6 752.3,457.4 768.1,442.5 784.1,427.9 800.1,413.6 816.2,399.7 832.5,386.1 848.8,372.9 865.2,360.1 881.7,347.8 898.2,335.9 914.8,324.4 931.5,313.5 948.2,303 965,293.1 981.8,283.7 998.7,274.9 1015.6,266.7 1032.6,259.1 1049.5,252.1 1066.5,245.7 1083.5,240 1100.6,234.9 1117.6,230.5 1129,228"/><polyline points="952,1015 912.4,1011 872.8,1004.1 833.2,994.6 793.5,983.1 753.9,969.9 714.3,955.5 674.7,940.3 635.1,924.8 595.5,909.4 555.8,894.4 516.2,880.4 476.6,867.8 437,857"/><polyline points="956.5,1006.3 916.9,1002.4 877.3,995.6 837.7,986.3 798,974.9 758.4,961.9 718.8,947.6 679.2,932.6 639.6,917.4 600,902.4 560.3,887.9 520.7,874.4 481.1,862.2 441.5,851.8"/><polyline points="961,997.6 921.4,993.7 881.8,987 842.2,977.8 802.5,966.6 762.9,953.7 723.3,939.6 683.7,924.8 644.1,909.8 604.5,895.3 564.8,881.2 525.2,868.1 485.6,856.3 446,846.3"/><polyline points="965.5,988.8 925.9,985 886.3,978.4 846.6,969.3 807,958.1 767.4,945.4 727.8,931.4 688.2,916.8 648.6,902.1 609,888 569.3,874.4 529.7,861.6 490.1,850.3 450.5,840.7"/><polyline points="970,980.1 930.4,976.3 890.8,969.7 851.1,960.6 811.5,949.6 771.9,936.9 732.3,923.1 692.7,908.6 653.1,894.2 613.5,880.5 573.8,867.3 534.2,855 494.6,844.1 455,834.8"/><polyline points="974.5,971.4 934.9,967.5 895.3,960.9 855.6,951.9 816,940.9 776.4,928.4 736.8,914.7 697.2,900.3 657.6,886.2 617.9,873 578.3,860.2 538.7,848.3 499.1,837.7 459.5,828.8"/><polyline points="979,962.7 939.4,958.7 899.8,952.1 860.1,943.1 820.5,932.2 780.9,919.8 741.3,906.2 701.7,891.9 662.1,878.1 622.4,865.3 582.8,852.9 543.2,841.4 503.6,831.2 464,822.7"/><polyline points="983.5,953.9 943.9,949.9 904.3,943.3 864.6,934.3 825,923.4 785.4,911.1 745.8,897.6 706.2,883.5 666.6,869.9 626.9,857.5 587.3,845.5 547.7,834.4 508.1,824.6 468.5,816.4"/><polyline points="988,945.2 948.4,941.1 908.7,934.4 869.1,925.4 829.5,914.6 789.9,902.3 750.3,889 710.7,874.9 671.1,861.6 631.4,849.6 591.8,838.1 552.2,827.3 512.6,817.9 473,810"/><polyline points="992.5,936.5 952.9,932.3 913.3,925.5 873.6,916.5 834,905.7 794.4,893.5 754.8,880.3 715.2,866.3 675.6,853.2 635.9,841.6 596.3,830.5 556.7,820.2 517.1,811 477.5,803.4"/><polyline points="997,927.8 957.4,923.4 917.8,916.6 878.1,907.6 838.5,896.8 798.9,884.7 759.3,871.5 719.7,857.6 680.1,844.8 640.4,833.6 600.8,822.9 561.2,812.9 521.6,804.1 482,796.8"/><polyline points="1001.5,919.2 961.9,914.6 922.3,907.7 882.6,898.6 843,887.9 803.4,875.8 763.8,862.7 724.2,848.9 684.6,836.4 645,825.5 605.3,815.2 565.7,805.5 526.1,797.1 486.5,790.1"/><polyline points="1006,910.5 966.4,905.8 926.8,898.7 887.2,889.7 847.5,878.9 807.9,866.9 768.3,853.9 728.7,840.2 689.1,827.9 649.5,817.4 609.8,807.4 570.2,798.2 530.6,790 491,783.3"/><polyline points="1010.5,901.8 970.9,897 931.3,889.8 891.7,880.7 852.1,870 812.4,858 772.8,845 733.2,831.5 693.6,819.3 654,809.3 614.4,799.6 574.7,790.7 535.1,782.9 495.5,776.4"/><polyline points="1015,893.2 975.4,888.2 935.8,880.9 896.2,871.8 856.6,861 817,849.1 777.3,836.2 737.7,822.7 698.1,810.8 658.5,801.1 618.9,791.8 579.3,783.2 539.7,775.7 500,769.5"/><polyline points="1019.6,884.6 979.9,879.4 940.3,872 900.7,862.8 861.1,852.1 821.5,840.2 781.9,827.4 742.3,814 702.6,802.3 663,793 623.4,784 583.8,775.7 544.2,768.5 504.6,762.5"/><polyline points="1024.1,876 984.5,870.6 944.9,863.2 905.2,853.9 865.6,843.2 826,831.3 786.4,818.5 746.8,805.2 707.2,793.8 667.6,784.8 627.9,776.2 588.3,768.2 548.7,761.3 509.1,755.6"/><polyline points="1028.6,867.5 989,861.9 949.4,854.3 909.8,845 870.2,834.3 830.5,822.4 790.9,809.7 751.3,796.5 711.7,785.2 672.1,776.6 632.5,768.3 592.9,760.7 553.2,754 513.6,748.6"/><polyline points="1033.2,858.9 993.6,853.2 953.9,845.5 914.3,836.2 874.7,825.4 835.1,813.6 795.5,801 755.9,787.8 716.2,776.7 676.6,768.5 637,760.5 597.4,753.2 557.8,746.8 518.2,741.6"/><polyline points="1037.7,850.5 998.1,844.5 958.5,836.7 918.9,827.3 879.3,816.6 839.6,804.8 800,792.2 760.4,779.1 720.8,768.3 681.2,760.3 641.6,752.7 601.9,745.7 562.3,739.6 522.7,734.6"/><polyline points="1042.3,842 1002.7,835.9 963,828 923.4,818.5 883.8,807.8 844.2,796 804.6,783.5 765,770.5 725.4,759.8 685.7,752.2 646.1,744.9 606.5,738.2 566.9,732.3 527.3,727.6"/><polyline points="1046.8,833.6 1007.2,827.3 967.6,819.3 928,809.8 888.4,799 848.8,787.3 809.1,774.8 769.5,761.9 729.9,751.4 690.3,744.2 650.7,737.2 611.1,730.7 571.5,725.1 531.8,720.6"/><polyline points="1051.4,825.2 1011.8,818.8 972.2,810.7 932.6,801.1 893,790.3 853.3,778.6 813.7,766.2 774.1,753.4 734.5,743.1 694.9,736.1 655.3,729.5 615.6,723.3 576,718 536.4,713.7"/><polyline points="1056,816.8 1016.4,810.3 976.8,802.1 937.2,792.5 897.5,781.7 857.9,770 818.3,757.7 778.7,744.9 739.1,734.8 699.5,728.2 659.8,721.8 620.2,715.9 580.6,710.9 541,706.8"/><polyline points="1060.6,808.5 1021,801.8 981.4,793.5 941.7,783.9 902.1,773.1 862.5,761.5 822.9,749.2 783.3,736.5 743.7,726.6 704.1,720.2 664.4,714.2 624.8,708.6 585.2,703.8 545.6,700"/><polyline points="1065.2,800.3 1025.6,793.4 986,785 946.4,775.3 906.7,764.6 867.1,753 827.5,740.7 787.9,728.1 748.3,718.4 708.7,712.4 669,706.6 629.4,701.4 589.8,696.8 550.2,693.2"/><polyline points="1069.8,792.1 1030.2,785.1 990.6,776.6 951,766.9 911.4,756.1 871.7,744.6 832.1,732.4 792.5,719.8 752.9,710.3 713.3,704.6 673.7,699.1 634,694.2 594.4,689.9 554.8,686.5"/><polyline points="1074.4,784 1034.8,776.8 995.2,768.2 955.6,758.5 916,747.7 876.4,736.2 836.7,724.1 797.1,711.6 757.5,702.3 717.9,696.9 678.3,691.7 638.7,687 599.1,683 559.4,679.8"/><polyline points="1079.1,775.9 1039.5,768.6 999.9,759.9 960.2,750.1 920.6,739.4 881,727.9 841.4,715.9 801.8,703.5 762.2,694.3 722.5,689.2 682.9,684.4 643.3,680 603.7,676.2 564.1,673.2"/><polyline points="1083.7,767.8 1044.1,760.4 1004.5,751.7 964.9,741.9 925.3,731.2 885.7,719.7 846,707.7 806.4,695.4 766.8,686.4 727.2,681.6 687.6,677.1 648,672.9 608.3,669.4 568.7,666.7"/><polyline points="1088.4,759.8 1048.8,752.3 1009.2,743.5 969.6,733.7 929.9,723 890.3,711.6 850.7,699.6 811.1,687.4 771.5,678.6 731.9,674.1 692.2,669.9 652.6,666 613,662.7 573.4,660.2"/><polyline points="1093.1,751.9 1053.5,744.3 1013.8,735.4 974.2,725.6 934.6,714.9 895,703.5 855.4,691.6 815.8,679.4 776.2,670.9 736.5,666.7 696.9,662.7 657.3,659.1 617.7,656.1 578.1,653.8"/><polyline points="1097.8,744.1 1058.2,736.3 1018.5,727.4 978.9,717.5 939.3,706.8 899.7,695.5 860.1,683.7 820.5,671.6 780.8,663.2 741.2,659.3 701.6,655.6 662,652.3 622.4,649.5 582.8,647.4"/><polyline points="1102.5,736.3 1062.9,728.4 1023.2,719.4 983.6,709.5 944,698.9 904.4,687.6 864.8,675.8 825.2,663.8 785.5,655.6 745.9,652 706.3,648.6 666.7,645.5 627.1,643 587.5,641.1"/><polyline points="1107.2,728.5 1067.6,720.6 1028,711.5 988.3,701.6 948.7,691 909.1,679.7 869.5,668.1 829.9,656.1 790.3,648 750.7,644.7 711,641.6 671.4,638.8 631.8,636.5 592.2,634.9"/><polyline points="1111.9,720.9 1072.3,712.8 1032.7,703.7 993.1,693.8 953.5,683.2 913.8,672 874.2,660.3 834.6,648.5 795,640.6 755.4,637.6 715.8,634.7 676.2,632.2 636.5,630.1 596.9,628.7"/><polyline points="1116.7,713.3 1077.1,705.1 1037.4,696 997.8,686.1 958.2,675.4 918.6,664.3 879,652.7 839.4,640.9 799.8,633.2 760.1,630.5 720.5,627.9 680.9,625.6 641.3,623.8 601.7,622.6"/><polyline points="1121.4,705.8 1081.8,697.5 1042.2,688.3 1002.6,678.4 963,667.8 923.4,656.7 883.7,645.2 844.1,633.4 804.5,625.9 764.9,623.4 725.3,621.1 685.7,619.1 646.1,617.5 606.4,616.5"/><polyline points="1126.2,698.3 1086.6,690 1047,680.8 1007.4,670.8 967.8,660.2 928.1,649.1 888.5,637.7 848.9,626 809.3,618.6 769.7,616.4 730.1,614.4 690.5,612.6 650.8,611.3 611.2,610.5"/><polyline points="1131,691 1091.4,682.5 1051.8,673.3 1012.2,663.3 972.6,652.7 932.9,641.7 893.3,630.3 853.7,618.7 814.1,611.5 774.5,609.5 734.9,607.8 695.3,606.2 655.6,605.1 616,604.5"/><polyline points="1135.8,683.7 1096.2,675.2 1056.6,665.8 1017,655.9 977.4,645.3 937.8,634.3 898.1,623 858.5,611.5 818.9,604.4 779.3,602.7 739.7,601.2 700.1,599.9 660.4,599 620.8,598.5"/><polyline points="1140.7,676.5 1101.1,667.9 1061.4,658.5 1021.8,648.5 982.2,638 942.6,627 903,615.8 863.4,604.3 823.7,597.4 784.1,596 744.5,594.7 704.9,593.6 665.3,592.9 625.7,592.6"/><polyline points="1145.5,669.4 1105.9,660.7 1066.3,651.3 1026.7,641.3 987.1,630.8 947.4,619.8 907.8,608.6 868.2,597.2 828.6,590.5 789,589.3 749.4,588.2 709.7,587.4 670.1,586.9 630.5,586.8"/><polyline points="1150.4,662.3 1110.8,653.6 1071.2,644.1 1031.5,634.1 991.9,623.6 952.3,612.7 912.7,601.6 873.1,590.2 833.5,583.6 793.8,582.7 754.2,581.8 714.6,581.2 675,580.9 635.4,581"/><polyline points="1155.3,655.4 1115.7,646.6 1076,637.1 1036.4,627.1 996.8,616.6 957.2,605.7 917.6,594.6 878,583.3 838.3,576.9 798.7,576.1 759.1,575.5 719.5,575.1 679.9,574.9 640.3,575.2"/><polyline points="1160.2,648.5 1120.6,639.6 1080.9,630.1 1041.3,620.1 1001.7,609.6 962.1,598.8 922.5,587.7 882.9,576.5 843.3,570.2 803.6,569.6 764,569.2 724.4,569 684.8,569.1 645.2,569.5"/><polyline points="1165.1,641.8 1125.5,632.8 1085.9,623.3 1046.3,613.2 1006.6,602.8 967,592 927.4,581 887.8,569.8 848.2,563.6 808.6,563.2 768.9,563 729.3,563 689.7,563.2 650.1,563.8"/><polyline points="1170,635.2 1130.4,626.1 1090.8,616.5 1051.2,606.5 1011.6,596 972,585.3 932.4,574.3 892.7,563.1 853.1,557 813.5,556.9 773.9,556.9 734.3,557 694.7,557.4 655,558.2"/><polyline points="1175,628.6 1135.4,619.5 1095.8,609.9 1056.2,599.8 1016.6,589.3 976.9,578.6 937.3,567.7 897.7,556.6 858.1,550.6 818.5,550.7 778.9,550.8 739.2,551.1 699.6,551.7 660,552.6"/><polyline points="1180,622.2 1140.4,613 1100.8,603.3 1061.2,593.2 1021.5,582.8 981.9,572.1 942.3,561.2 902.7,550.1 863.1,544.3 823.5,544.5 783.8,544.8 744.2,545.3 704.6,546 665,547"/><polyline points="1185,615.8 1145.4,606.6 1105.8,596.8 1066.2,586.7 1026.5,576.3 986.9,565.6 947.3,554.8 907.7,543.8 868.1,538 828.5,538.4 788.8,538.9 749.2,539.5 709.6,540.3 670,541.5"/><polyline points="1190,609.5 1150.4,600.2 1110.8,590.5 1071.2,580.4 1031.6,569.9 991.9,559.3 952.3,548.4 912.7,537.5 873.1,531.8 833.5,532.4 793.9,533 754.3,533.8 714.6,534.7 675,536"/><polyline points="1195.1,603.4 1155.5,594 1115.8,584.2 1076.2,574.1 1036.6,563.7 997,553 957.4,542.2 917.8,531.3 878.1,525.7 838.5,526.4 798.9,527.2 759.3,528.1 719.7,529.2 680.1,530.5"/><polyline points="1200.1,597.3 1160.5,587.9 1120.9,578 1081.3,567.9 1041.7,557.5 1002,546.8 962.4,536 922.8,525.2 883.2,519.6 843.6,520.5 804,521.4 764.4,522.4 724.7,523.6 685.1,525.1"/><polyline points="1205.2,591.3 1165.6,581.8 1126,571.9 1086.4,561.7 1046.7,551.3 1007.1,540.7 967.5,529.9 927.9,519.1 888.3,513.6 848.7,514.6 809,515.7 769.4,516.8 729.8,518.2 690.2,519.7"/><polyline points="1210.3,585.5 1170.7,575.8 1131.1,565.8 1091.5,555.6 1051.8,545.2 1012.2,534.6 972.6,523.8 933,513 893.4,507.7 853.8,508.8 814.1,509.9 774.5,511.2 734.9,512.7 695.3,514.3"/><polyline points="1215.4,579.7 1175.8,569.9 1136.2,559.8 1096.6,549.6 1056.9,539.1 1017.3,528.5 977.7,517.8 938.1,507 898.5,501.8 858.9,503 819.3,504.3 779.6,505.7 740,507.2 700.4,509"/><polyline points="1220.5,574 1180.9,564 1141.3,553.9 1101.7,543.6 1062.1,533.1 1022.5,522.5 982.8,511.8 943.2,501.1 903.6,495.9 864,497.2 824.4,498.6 784.8,500.1 745.1,501.8 705.5,503.7"/><polyline points="1225.7,568.3 1186.1,558.3 1146.4,548 1106.8,537.6 1067.2,527.1 1027.6,516.5 988,505.8 948.4,495.2 908.8,490 869.1,491.5 829.5,493 789.9,494.6 750.3,496.5 710.7,498.5"/><polyline points="1230.8,562.8 1191.2,552.6 1151.6,542.2 1112,531.7 1072.4,521.1 1032.8,510.5 993.1,499.9 953.5,489.3 913.9,484.2 874.3,485.8 834.7,487.4 795.1,489.2 755.4,491.1 715.8,493.2"/><polyline points="1236,557.4 1196.4,546.9 1156.8,536.4 1117.2,525.9 1077.5,515.2 1037.9,504.6 998.3,494 958.7,483.5 919.1,478.5 879.5,480.1 839.9,481.8 800.2,483.7 760.6,485.8 721,488"/><polyline points="1241.2,552 1201.6,541.4 1162,530.7 1122.3,520 1082.7,509.4 1043.1,498.7 1003.5,488.2 963.9,477.7 924.3,472.8 884.7,474.4 845,476.3 805.4,478.3 765.8,480.5 726.2,482.9"/><polyline points="1246.4,546.7 1206.8,535.9 1167.2,525 1127.5,514.3 1087.9,503.5 1048.3,492.9 1008.7,482.3 969.1,471.9 929.5,467.1 889.9,468.8 850.2,470.8 810.6,472.9 771,475.2 731.4,477.7"/><polyline points="1251.6,541.5 1212,530.4 1172.4,519.4 1132.8,508.5 1093.1,497.7 1053.5,487.1 1013.9,476.5 974.3,466.2 934.7,461.4 895.1,463.2 855.4,465.3 815.8,467.5 776.2,469.9 736.6,472.6"/><polyline points="1256.8,536.3 1217.2,525 1177.6,513.9 1138,502.8 1098.4,492 1058.8,481.3 1019.1,470.8 979.5,460.5 939.9,455.8 900.3,457.7 860.7,459.8 821.1,462.1 781.4,464.7 741.8,467.5"/><polyline points="1262.1,531.3 1222.5,519.7 1182.8,508.3 1143.2,497.2 1103.6,486.3 1064,475.6 1024.4,465.1 984.8,454.8 945.1,450.2 905.5,452.2 865.9,454.4 826.3,456.8 786.7,459.5 747.1,462.5"/><polyline points="1267.3,526.3 1227.7,514.4 1188.1,502.9 1148.5,491.6 1108.9,480.6 1069.2,469.8 1029.6,459.4 990,449.2 950.4,444.6 910.8,446.7 871.2,448.9 831.5,451.5 791.9,454.3 752.3,457.4"/><polyline points="1272.6,521.4 1233,509.2 1193.4,497.5 1153.7,486 1114.1,474.9 1074.5,464.2 1034.9,453.7 995.3,443.6 955.7,439.1 916,441.2 876.4,443.5 836.8,446.2 797.2,449.2 757.6,452.4"/><polyline points="1277.9,516.5 1238.2,504.1 1198.6,492.1 1159,480.5 1119.4,469.3 1079.8,458.5 1040.2,448.1 1000.5,438.1 960.9,433.6 921.3,435.7 881.7,438.2 842.1,441 802.5,444.1 762.9,447.5"/><polyline points="1283.1,511.7 1243.5,499 1203.9,486.8 1164.3,475 1124.7,463.8 1085.1,452.9 1045.5,442.5 1005.8,432.6 966.2,428.2 926.6,430.3 887,432.9 847.4,435.7 807.8,439 768.1,442.5"/><polyline points="1288.4,507 1248.8,494 1209.2,481.5 1169.6,469.6 1130,458.2 1090.4,447.4 1050.7,437 1011.1,427.1 971.5,422.8 931.9,425 892.3,427.6 852.7,430.5 813.1,433.9 773.4,437.6"/><polyline points="1293.8,502.4 1254.1,489 1214.5,476.3 1174.9,464.2 1135.3,452.7 1095.7,441.8 1056.1,431.5 1016.4,421.7 976.8,417.4 937.2,419.6 897.6,422.3 858,425.4 818.4,428.9 778.8,432.8"/><polyline points="1299.1,497.9 1259.5,484.1 1219.8,471.2 1180.2,458.9 1140.6,447.3 1101,436.4 1061.4,426 1021.8,416.3 982.2,412.1 942.5,414.3 902.9,417.1 863.3,420.2 823.7,423.9 784.1,427.9"/><polyline points="1304.4,493.4 1264.8,479.3 1225.2,466.1 1185.6,453.6 1145.9,441.9 1106.3,430.9 1066.7,420.6 1027.1,411 987.5,406.8 947.9,409.1 908.3,411.9 868.6,415.1 829,418.9 789.4,423.1"/><polyline points="1309.8,489 1270.1,474.5 1230.5,461 1190.9,448.4 1151.3,436.6 1111.7,425.5 1072.1,415.2 1032.4,405.7 992.8,401.6 953.2,403.9 913.6,406.7 874,410.1 834.4,414 794.8,418.4"/><polyline points="1315.1,484.6 1275.5,469.8 1235.9,456 1196.3,443.2 1156.6,431.3 1117,420.2 1077.4,409.9 1037.8,400.4 998.2,396.4 958.6,398.7 919,401.6 879.3,405.1 839.7,409.1 800.1,413.6"/><polyline points="1320.5,480.4 1280.9,465.2 1241.2,451.1 1201.6,438.1 1162,426 1122.4,414.9 1082.8,404.6 1043.2,395.2 1003.6,391.3 963.9,393.5 924.3,396.5 884.7,400.1 845.1,404.2 805.5,409"/><polyline points="1325.9,476.2 1286.2,460.6 1246.6,446.3 1207,433 1167.4,420.8 1127.8,409.6 1088.2,399.4 1048.5,390.1 1008.9,386.2 969.3,388.5 929.7,391.5 890.1,395.1 850.5,399.4 810.9,404.3"/><polyline points="1331.2,472.1 1291.6,456.1 1252,441.5 1212.4,428 1172.8,415.7 1133.2,404.4 1093.5,394.2 1053.9,385 1014.3,381.2 974.7,383.4 935.1,386.5 895.5,390.2 855.9,394.7 816.2,399.7"/><polyline points="1336.6,468 1297,451.7 1257.4,436.7 1217.8,423 1178.2,410.6 1138.6,399.3 1098.9,389.1 1059.3,380 1019.7,376.2 980.1,378.4 940.5,381.5 900.9,385.4 861.3,389.9 821.6,395.1"/><polyline points="1342,464.1 1302.4,447.3 1262.8,432 1223.2,418.1 1183.6,405.6 1144,394.2 1104.4,384 1064.7,375 1025.1,371.2 985.5,373.5 945.9,376.6 906.3,380.5 866.7,385.2 827,390.6"/><polyline points="1347.5,460.2 1307.9,443 1268.2,427.4 1228.6,413.3 1189,400.6 1149.4,389.2 1109.8,379 1070.2,370 1030.5,366.3 990.9,368.6 951.3,371.7 911.7,375.8 872.1,380.6 832.5,386.1"/><polyline points="1352.9,456.3 1313.3,438.8 1273.7,422.9 1234,408.5 1194.4,395.7 1154.8,384.2 1115.2,374.1 1075.6,365.2 1036,361.5 996.4,363.7 956.7,366.9 917.1,371 877.5,376 837.9,381.7"/><polyline points="1358.3,452.6 1318.7,434.6 1279.1,418.4 1239.5,403.8 1199.9,390.8 1160.3,379.3 1120.6,369.2 1081,360.4 1041.4,356.7 1001.8,358.9 962.2,362.1 922.6,366.3 882.9,371.4 843.3,377.3"/><polyline points="1363.8,448.9 1324.2,430.5 1284.5,414 1244.9,399.2 1205.3,386 1165.7,374.4 1126.1,364.3 1086.5,355.6 1046.9,352 1007.2,354.2 967.6,357.4 928,361.7 888.4,366.9 848.8,372.9"/><polyline points="1369.2,445.3 1329.6,426.5 1290,409.6 1250.4,394.6 1210.8,381.3 1171.2,369.6 1131.5,359.5 1091.9,350.9 1052.3,347.4 1012.7,349.5 973.1,352.8 933.5,357.1 893.9,362.4 854.2,368.6"/><polyline points="1374.7,441.8 1335.1,422.5 1295.5,405.3 1255.9,390.1 1216.2,376.6 1176.6,364.9 1137,354.8 1097.4,346.3 1057.8,342.8 1018.2,344.9 978.5,348.2 938.9,352.6 899.3,358 859.7,364.4"/><polyline points="1380.2,438.3 1340.6,418.6 1300.9,401.1 1261.3,385.6 1221.7,372 1182.1,360.3 1142.5,350.2 1102.9,341.7 1063.3,338.2 1023.6,340.3 984,343.6 944.4,348.1 904.8,353.6 865.2,360.1"/><polyline points="1385.7,434.9 1346,414.8 1306.4,397 1266.8,381.2 1227.2,367.5 1187.6,355.7 1148,345.6 1108.4,337.2 1068.7,333.8 1029.1,335.8 989.5,339.1 949.9,343.7 910.3,349.3 870.7,356"/><polyline points="1391.2,431.5 1351.5,411.1 1311.9,392.9 1272.3,376.9 1232.7,363 1193.1,351.1 1153.5,341.1 1113.8,332.8 1074.2,329.4 1034.6,331.3 995,334.7 955.4,339.3 915.8,345.1 876.2,351.8"/><polyline points="1396.7,428.3 1357,407.4 1317.4,388.9 1277.8,372.7 1238.2,358.7 1198.6,346.7 1159,336.6 1119.3,328.4 1079.7,325 1040.1,326.9 1000.5,330.3 960.9,335 921.3,340.8 881.7,347.8"/><polyline points="1402.2,425.1 1362.5,403.8 1322.9,384.9 1283.3,368.5 1243.7,354.3 1204.1,342.3 1164.5,332.3 1124.9,324.1 1085.2,320.7 1045.6,322.6 1006,326 966.4,330.7 926.8,336.7 887.2,343.8"/><polyline points="1407.7,421.9 1368.1,400.2 1328.4,381.1 1288.8,364.4 1249.2,350.1 1209.6,338 1170,328 1130.4,319.9 1090.8,316.5 1051.1,318.4 1011.5,321.7 971.9,326.5 932.3,332.6 892.7,339.8"/><polyline points="1413.2,418.9 1373.6,396.7 1334,377.3 1294.4,360.4 1254.7,345.9 1215.1,333.8 1175.5,323.7 1135.9,315.7 1096.3,312.4 1056.7,314.2 1017,317.5 977.4,322.4 937.8,328.5 898.2,335.9"/><polyline points="1418.7,415.9 1379.1,393.3 1339.5,373.6 1299.9,356.5 1260.3,341.8 1220.7,329.6 1181,319.6 1141.4,311.6 1101.8,308.3 1062.2,310 1022.6,313.4 983,318.3 943.3,324.5 903.7,332"/><polyline points="1424.3,412.9 1384.7,390 1345,369.9 1305.4,352.6 1265.8,337.8 1226.2,325.5 1186.6,315.5 1147,307.6 1107.3,304.3 1067.7,306 1028.1,309.3 988.5,314.3 948.9,320.6 909.3,328.2"/><polyline points="1429.8,410.1 1390.2,386.7 1350.6,366.4 1311,348.8 1271.4,333.9 1231.7,321.5 1192.1,311.5 1152.5,303.6 1112.9,300.4 1073.3,302 1033.7,305.3 994,310.3 954.4,316.7 914.8,324.4"/><polyline points="1435.4,407.3 1395.8,383.5 1356.1,362.9 1316.5,345.1 1276.9,330 1237.3,317.6 1197.7,307.5 1158.1,299.8 1118.4,296.5 1078.8,298.1 1039.2,301.4 999.6,306.4 960,312.9 920.4,320.7"/><polyline points="1440.9,404.5 1401.3,380.4 1361.7,359.4 1322.1,341.4 1282.5,326.2 1242.8,313.7 1203.2,303.7 1163.6,296 1124,292.8 1084.4,294.2 1044.8,297.5 1005.2,302.6 965.5,309.1 925.9,317.1"/><polyline points="1446.5,401.9 1406.9,377.4 1367.3,356.1 1327.6,337.9 1288,322.5 1248.4,309.9 1208.8,299.9 1169.2,292.3 1129.6,289 1090,290.4 1050.3,293.7 1010.7,298.8 971.1,305.4 931.5,313.5"/><polyline points="1452.1,399.3 1412.4,374.4 1372.8,352.8 1333.2,334.4 1293.6,318.9 1254,306.2 1214.4,296.2 1174.8,288.6 1135.1,285.4 1095.5,286.7 1055.9,290 1016.3,295.1 976.7,301.8 937.1,309.9"/><polyline points="1457.6,396.7 1418,371.5 1378.4,349.6 1338.8,331 1299.2,315.4 1259.6,302.6 1219.9,292.6 1180.3,285.1 1140.7,281.8 1101.1,283.1 1061.5,286.4 1021.9,291.5 982.3,298.2 942.6,306.4"/><polyline points="1463.2,394.2 1423.6,368.6 1384,346.5 1344.4,327.6 1304.8,311.9 1265.1,299.1 1225.5,289 1185.9,281.6 1146.3,278.4 1106.7,279.5 1067.1,282.8 1027.5,287.9 987.8,294.7 948.2,303"/><polyline points="1468.8,391.8 1429.2,365.9 1389.6,343.4 1350,324.4 1310.4,308.5 1270.7,295.6 1231.1,285.6 1191.5,278.2 1151.9,275 1112.3,276.1 1072.7,279.3 1033,284.4 993.4,291.2 953.8,299.6"/><polyline points="1474.4,389.4 1434.8,363.2 1395.2,340.5 1355.6,321.2 1315.9,305.2 1276.3,292.3 1236.7,282.2 1197.1,274.8 1157.5,271.6 1117.9,272.7 1078.3,275.8 1038.6,281 999,287.9 959.4,296.3"/><polyline points="1480,387.1 1440.4,360.5 1400.8,337.6 1361.2,318.1 1321.5,302 1281.9,289 1242.3,278.9 1202.7,271.6 1163.1,268.4 1123.5,269.3 1083.9,272.5 1044.2,277.6 1004.6,284.5 965,293.1"/><polyline points="1485.6,384.9 1446,358 1406.4,334.8 1366.8,315.1 1327.2,298.9 1287.5,285.8 1247.9,275.7 1208.3,268.4 1168.7,265.2 1129.1,266.1 1089.5,269.2 1049.8,274.3 1010.2,281.3 970.6,289.9"/><polyline points="1491.2,382.7 1451.6,355.5 1412,332 1372.4,312.2 1332.8,295.8 1293.1,282.7 1253.5,272.6 1213.9,265.3 1174.3,262.1 1134.7,262.9 1095.1,266 1055.5,271.1 1015.8,278.1 976.2,286.8"/><polyline points="1496.8,380.6 1457.2,353 1417.6,329.4 1378,309.4 1338.4,292.9 1298.8,279.7 1259.1,269.6 1219.5,262.3 1179.9,259.1 1140.3,259.8 1100.7,262.8 1061.1,268 1021.5,275 981.8,283.7"/><polyline points="1502.5,378.5 1462.8,350.7 1423.2,326.8 1383.6,306.6 1344,290 1304.4,276.7 1264.8,266.6 1225.2,259.4 1185.5,256.1 1145.9,256.8 1106.3,259.8 1066.7,264.9 1027.1,271.9 987.5,280.7"/><polyline points="1508.1,376.5 1468.5,348.4 1428.9,324.2 1389.2,303.9 1349.6,287.2 1310,273.9 1270.4,263.7 1230.8,256.6 1191.2,253.3 1151.5,253.9 1111.9,256.8 1072.3,261.9 1032.7,269 993.1,277.8"/><polyline points="1513.7,374.6 1474.1,346.1 1434.5,321.8 1394.9,301.3 1355.3,284.5 1315.6,271.1 1276,260.9 1236.4,253.8 1196.8,250.5 1157.2,251 1117.6,253.9 1077.9,259 1038.3,266.1 998.7,274.9"/><polyline points="1519.3,372.6 1479.7,344 1440.1,319.4 1400.5,298.8 1360.9,281.8 1321.3,268.4 1281.7,258.2 1242,251.1 1202.4,247.8 1162.8,248.2 1123.2,251.1 1083.6,256.1 1044,263.2 1004.3,272.1"/><polyline points="1525,370.8 1485.4,341.9 1445.8,317.1 1406.1,296.3 1366.5,279.3 1326.9,265.8 1287.3,255.6 1247.7,248.5 1208.1,245.2 1168.4,245.5 1128.8,248.3 1089.2,253.4 1049.6,260.5 1010,269.4"/><polyline points="1530.6,369 1491,339.8 1451.4,314.9 1411.8,294 1372.2,276.8 1332.5,263.3 1292.9,253.1 1253.3,246 1213.7,242.6 1174.1,242.9 1134.5,245.6 1094.9,250.7 1055.2,257.8 1015.6,266.7"/><polyline points="1536.3,367.3 1496.7,337.9 1457,312.8 1417.4,291.7 1377.8,274.5 1338.2,260.8 1298.6,250.6 1259,243.6 1219.3,240.2 1179.7,240.3 1140.1,243 1100.5,248 1060.9,255.1 1021.3,264.1"/><polyline points="1541.9,365.6 1502.3,336 1462.7,310.7 1423.1,289.5 1383.5,272.2 1343.8,258.5 1304.2,248.2 1264.6,241.2 1225,237.8 1185.4,237.9 1145.8,240.5 1106.1,245.5 1066.5,252.6 1026.9,261.6"/><polyline points="1547.6,363.9 1507.9,334.1 1468.3,308.7 1428.7,287.4 1389.1,269.9 1349.5,256.2 1309.9,245.9 1270.3,238.9 1230.6,235.5 1191,235.5 1151.4,238.1 1111.8,243 1072.2,250.1 1032.6,259.1"/><polyline points="1553.2,362.3 1513.6,332.3 1474,306.7 1434.4,285.3 1394.8,267.8 1355.1,254 1315.5,243.7 1275.9,236.7 1236.3,233.3 1196.7,233.2 1157.1,235.7 1117.4,240.6 1077.8,247.7 1038.2,256.7"/><polyline points="1558.9,360.8 1519.3,330.6 1479.6,304.9 1440,283.3 1400.4,265.8 1360.8,251.9 1321.2,241.6 1281.6,234.6 1242,231.1 1202.3,231 1162.7,233.5 1123.1,238.3 1083.5,245.4 1043.9,254.3"/><polyline points="1564.5,359.3 1524.9,329 1485.3,303.1 1445.7,281.4 1406.1,263.8 1366.5,249.9 1326.8,239.6 1287.2,232.6 1247.6,229 1208,228.8 1168.4,231.3 1128.8,236.1 1089.1,243.1 1049.5,252.1"/><polyline points="1570.2,357.9 1530.6,327.4 1491,301.4 1451.4,279.6 1411.7,261.9 1372.1,248 1332.5,237.6 1292.9,230.6 1253.3,227.1 1213.7,226.8 1174,229.1 1134.4,233.9 1094.8,240.9 1055.2,249.9"/><polyline points="1575.9,356.5 1536.2,325.8 1496.6,299.7 1457,277.9 1417.4,260.1 1377.8,246.1 1338.2,235.8 1298.6,228.7 1258.9,225.2 1219.3,224.8 1179.7,227.1 1140.1,231.9 1100.5,238.8 1060.9,247.8"/><polyline points="1581.5,355.1 1541.9,324.4 1502.3,298.1 1462.7,276.2 1423.1,258.4 1383.5,244.4 1343.8,234 1304.2,226.9 1264.6,223.3 1225,222.9 1185.4,225.2 1145.8,229.9 1106.1,236.8 1066.5,245.7"/><polyline points="1587.2,353.8 1547.6,322.9 1508,296.6 1468.4,274.6 1428.7,256.7 1389.1,242.7 1349.5,232.2 1309.9,225.2 1270.3,221.6 1230.7,221.1 1191,223.3 1151.4,227.9 1111.8,234.8 1072.2,243.7"/><polyline points="1592.9,352.5 1553.3,321.6 1513.6,295.2 1474,273.1 1434.4,255.1 1394.8,241.1 1355.2,230.6 1315.6,223.6 1275.9,219.9 1236.3,219.3 1196.7,221.5 1157.1,226.1 1117.5,233 1077.9,241.8"/><polyline points="1598.5,351.3 1558.9,320.3 1519.3,293.8 1479.7,271.6 1440.1,253.6 1400.5,239.5 1360.9,229.1 1321.2,222 1281.6,218.3 1242,217.7 1202.4,219.8 1162.8,224.3 1123.2,231.2 1083.5,240"/><polyline points="1604.2,350.1 1564.6,319 1525,292.4 1485.4,270.3 1445.8,252.2 1406.1,238.1 1366.5,227.6 1326.9,220.5 1287.3,216.8 1247.7,216.1 1208.1,218.1 1168.5,222.7 1128.8,229.4 1089.2,238.2"/><polyline points="1609.9,349 1570.3,317.8 1530.7,291.2 1491.1,269 1451.4,250.9 1411.8,236.7 1372.2,226.2 1332.6,219.1 1293,215.3 1253.4,214.6 1213.7,216.6 1174.1,221.1 1134.5,227.8 1094.9,236.5"/><polyline points="1615.6,347.9 1576,316.6 1536.3,290 1496.7,267.7 1457.1,249.6 1417.5,235.4 1377.9,224.9 1338.3,217.8 1298.7,214 1259,213.2 1219.4,215.1 1179.8,219.5 1140.2,226.2 1100.6,234.9"/><polyline points="1621.3,346.9 1581.6,315.5 1542,288.9 1502.4,266.6 1462.8,248.4 1423.2,234.2 1383.6,223.7 1344,216.6 1304.3,212.7 1264.7,211.8 1225.1,213.7 1185.5,218.1 1145.9,224.7 1106.3,233.4"/><polyline points="1626.9,345.8 1587.3,314.5 1547.7,287.8 1508.1,265.5 1468.5,247.3 1428.9,233.1 1389.3,222.5 1349.6,215.4 1310,211.5 1270.4,210.6 1230.8,212.4 1191.2,216.7 1151.6,223.3 1111.9,231.9"/><polyline points="1632.6,344.9 1593,313.5 1553.4,286.8 1513.8,264.5 1474.2,246.3 1434.6,232 1394.9,221.4 1355.3,214.3 1315.7,210.3 1276.1,209.4 1236.5,211.2 1196.9,215.4 1157.2,222 1117.6,230.5"/><polyline points="1638.3,343.9 1598.7,312.6 1559.1,285.9 1519.5,263.5 1479.9,245.3 1440.2,231 1400.6,220.4 1361,213.3 1321.4,209.3 1281.8,208.3 1242.2,210 1202.5,214.2 1162.9,220.7 1123.3,229.2"/><polyline points="1644,343 1604.4,311.7 1564.8,285 1525.2,262.6 1485.5,244.4 1445.9,230.1 1406.3,219.5 1366.7,212.3 1327.1,208.3 1287.5,207.3 1247.8,209 1208.2,213.1 1168.6,219.6 1129,228"/></g></mask>
<mask id="mR" maskUnits="userSpaceOnUse" x="0" y="0" width="3780" height="1462"><g fill="none" stroke="#fff" stroke-width="2.0"><polyline points="2875,994 2886,974.2 2897,954.4 2908.1,934.9 2919.1,915.5 2930.3,896.4 2941.5,877.4 2952.8,858.8 2964.1,840.4 2975.5,822.4 2987,804.8 2998.6,787.5 3010.2,770.7 3022,754.4 3033.9,738.6 3045.9,723.4 3058.1,708.8 3070.3,694.8 3082.7,681.4 3095.2,668.5 3107.7,656.2 3120.4,644.5 3133.2,633.2 3146,622.5 3158.9,612.3 3171.9,602.5 3185,593.2 3198.1,584.3 3211.2,575.7 3224.4,567.6 3237.7,559.7 3251,552.2 3264.3,544.9 3277.7,537.9 3291.1,531.1 3304.5,524.5 3317.9,518 3331.3,511.6 3344.7,505.3 3358.1,499 3371.6,492.7 3385,486.4 3398.4,480 3411.8,473.6 3425.2,466.9 3438.6,460.1 3452,453.1 3465.3,445.8 3478.6,438.3 3491.8,430.5 3505.1,422.3 3518.2,413.8 3531.3,404.9 3544.4,395.5 3557.4,385.8 3566,379"/><polyline points="2863,983.2 2874,964 2885.1,944.9 2896.1,925.8 2907.2,906.9 2918.4,888.2 2929.6,869.6 2940.9,851.3 2952.2,833.3 2963.6,815.6 2975.1,798.2 2986.7,781.2 2998.4,764.7 3010.1,748.6 3022,733 3034,717.9 3046.2,703.5 3058.4,689.6 3070.8,676.3 3083.2,663.5 3095.8,651.3 3108.5,639.6 3121.2,628.5 3134,617.8 3147,607.6 3159.9,597.9 3173,588.6 3186.1,579.8 3199.3,571.3 3212.5,563.1 3225.7,555.3 3239,547.8 3252.4,540.6 3265.7,533.6 3279.1,526.8 3292.5,520.2 3305.9,513.7 3319.3,507.3 3332.8,501 3346.2,494.7 3359.7,488.4 3373.1,482.1 3386.5,475.7 3399.9,469.1 3413.3,462.5 3426.7,455.7 3440.1,448.6 3453.4,441.3 3466.7,433.7 3480,425.9 3493.2,417.6 3506.3,409.1 3519.4,400.1 3532.5,390.7 3545.5,380.9 3554.1,374.1"/><polyline points="2851,974.4 2862,955.8 2873.1,937.1 2884.2,918.5 2895.3,899.9 2906.5,881.5 2917.7,863.2 2929,845.2 2940.3,827.4 2951.7,809.9 2963.2,792.7 2974.8,775.9 2986.5,759.5 2998.2,743.5 3010.1,728 3022.1,713.1 3034.2,698.7 3046.5,684.9 3058.8,671.7 3071.3,659 3083.8,646.8 3096.5,635.2 3109.3,624 3122.1,613.4 3135,603.3 3148,593.6 3161,584.3 3174.1,575.5 3187.3,567 3200.5,558.9 3213.8,551.1 3227.1,543.6 3240.4,536.3 3253.8,529.3 3267.2,522.5 3280.6,515.9 3294,509.4 3307.4,503 3320.8,496.7 3334.3,490.4 3347.7,484.1 3361.2,477.7 3374.6,471.3 3388,464.8 3401.4,458.1 3414.8,451.2 3428.2,444.1 3441.5,436.8 3454.8,429.2 3468.1,421.3 3481.3,413 3494.4,404.4 3507.6,395.3 3520.6,385.9 3533.6,376 3542.2,369.1"/><polyline points="2838.9,967.4 2850.1,949.2 2861.2,931 2872.3,912.6 2883.4,894.3 2894.6,876.1 2905.8,858 2917.1,840.1 2928.4,822.5 2939.8,805.1 2951.3,788.1 2962.9,771.4 2974.6,755 2986.3,739.1 2998.2,723.7 3010.2,708.9 3022.3,694.5 3034.6,680.7 3046.9,667.5 3059.4,654.8 3071.9,642.7 3084.6,631 3097.3,619.9 3110.1,609.3 3123,599.1 3136,589.4 3149.1,580.2 3162.2,571.3 3175.4,562.8 3188.6,554.7 3201.8,546.9 3215.1,539.4 3228.5,532.2 3241.8,525.2 3255.2,518.3 3268.6,511.7 3282,505.2 3295.5,498.8 3308.9,492.4 3322.4,486.1 3335.8,479.8 3349.2,473.4 3362.7,467 3376.1,460.4 3389.5,453.7 3402.9,446.8 3416.3,439.7 3429.6,432.3 3442.9,424.7 3456.2,416.7 3469.4,408.4 3482.6,399.7 3495.7,390.6 3508.7,381.1 3521.7,371.1 3530.3,364.2"/><polyline points="2826.9,961.8 2838.1,944 2849.2,926 2860.4,907.9 2871.5,889.7 2882.7,871.7 2893.9,853.7 2905.2,835.9 2916.5,818.4 2928,801.1 2939.4,784.1 2951,767.5 2962.7,751.2 2974.4,735.3 2986.3,719.9 2998.3,705.1 3010.4,690.7 3022.6,676.9 3035,663.7 3047.4,651 3060,638.8 3072.6,627.2 3085.3,616 3098.2,605.4 3111.1,595.2 3124.1,585.5 3137.1,576.2 3150.2,567.3 3163.4,558.8 3176.6,550.7 3189.9,542.9 3203.2,535.3 3216.5,528.1 3229.9,521 3243.3,514.2 3256.7,507.6 3270.1,501 3283.5,494.6 3297,488.2 3310.4,481.9 3323.9,475.5 3337.3,469.2 3350.8,462.7 3364.2,456.1 3377.6,449.3 3391,442.4 3404.4,435.3 3417.7,427.8 3431,420.2 3444.3,412.1 3457.5,403.8 3470.7,395.1 3483.8,385.9 3496.8,376.4 3509.8,366.3 3518.5,359.4"/><polyline points="2814.9,957.3 2826.1,939.8 2837.3,922 2848.4,904.1 2859.6,886 2870.8,868 2882,850.1 2893.3,832.4 2904.7,814.9 2916.1,797.7 2927.6,780.7 2939.1,764.1 2950.8,747.8 2962.6,731.9 2974.4,716.5 2986.4,701.6 2998.5,687.3 3010.7,673.5 3023,660.2 3035.5,647.4 3048,635.2 3060.7,623.5 3073.4,612.3 3086.2,601.6 3099.1,591.4 3112.1,581.7 3125.1,572.4 3138.3,563.5 3151.4,554.9 3164.6,546.7 3177.9,538.9 3191.2,531.3 3204.5,524.1 3217.9,517 3231.3,510.2 3244.7,503.5 3258.2,496.9 3271.6,490.5 3285,484.1 3298.5,477.7 3311.9,471.3 3325.4,464.9 3338.8,458.4 3352.3,451.8 3365.7,445 3379.1,438.1 3392.5,430.9 3405.8,423.4 3419.1,415.7 3432.4,407.6 3445.6,399.2 3458.8,390.5 3471.9,381.3 3485,371.7 3498,361.6 3506.6,354.6"/><polyline points="2802.9,953.6 2814.1,936.3 2825.3,918.7 2836.5,900.9 2847.7,882.9 2858.9,864.9 2870.1,847.1 2881.4,829.4 2892.8,811.9 2904.2,794.7 2915.7,777.7 2927.2,761 2938.9,744.7 2950.7,728.9 2962.5,713.4 2974.5,698.5 2986.6,684.1 2998.8,670.2 3011.1,656.8 3023.5,644 3036.1,631.7 3048.7,620 3061.4,608.8 3074.3,598 3087.2,587.8 3100.1,578 3113.2,568.6 3126.3,559.7 3139.5,551.1 3152.7,542.9 3165.9,535 3179.3,527.4 3192.6,520.1 3206,513 3219.4,506.1 3232.8,499.4 3246.2,492.8 3259.7,486.4 3273.1,480 3286.6,473.6 3300,467.2 3313.5,460.7 3326.9,454.2 3340.4,447.5 3353.8,440.7 3367.2,433.7 3380.5,426.5 3393.9,419.1 3407.2,411.3 3420.5,403.2 3433.7,394.7 3446.9,385.9 3460,376.7 3473.1,367 3486.1,356.9 3494.7,349.8"/><polyline points="2790.8,950.3 2802.1,933.3 2813.4,915.8 2824.6,898 2835.8,880.1 2847,862.2 2858.2,844.3 2869.5,826.7 2880.9,809.2 2892.3,791.9 2903.8,774.9 2915.4,758.2 2927,741.9 2938.8,725.9 2950.6,710.4 2962.6,695.5 2974.7,681 2986.9,667 2999.2,653.6 3011.6,640.7 3024.1,628.4 3036.8,616.6 3049.5,605.3 3062.3,594.5 3075.2,584.2 3088.2,574.3 3101.2,564.9 3114.3,555.9 3127.5,547.3 3140.7,539.1 3154,531.1 3167.3,523.5 3180.6,516.2 3194,509.1 3207.4,502.2 3220.8,495.4 3234.3,488.8 3247.7,482.3 3261.2,475.9 3274.6,469.5 3288.1,463 3301.5,456.6 3315,450 3328.4,443.3 3341.9,436.5 3355.3,429.5 3368.6,422.2 3382,414.7 3395.3,406.9 3408.6,398.8 3421.8,390.3 3435,381.4 3448.1,372.1 3461.2,362.4 3474.2,352.2 3482.8,345.2"/><polyline points="2778.8,947.4 2790.2,930.6 2801.5,913.2 2812.7,895.5 2823.9,877.6 2835.1,859.7 2846.4,841.8 2857.7,824.1 2869,806.6 2880.4,789.3 2891.9,772.3 2903.5,755.6 2915.1,739.2 2926.9,723.2 2938.7,707.6 2950.7,692.6 2962.8,678 2975,664 2987.3,650.5 2999.7,637.5 3012.2,625.1 3024.8,613.2 3037.5,601.9 3050.3,591 3063.2,580.7 3076.2,570.8 3089.3,561.3 3102.4,552.2 3115.5,543.6 3128.8,535.3 3142,527.3 3155.3,519.7 3168.7,512.3 3182.1,505.1 3195.5,498.2 3208.9,491.4 3222.3,484.8 3235.8,478.3 3249.2,471.8 3262.7,465.4 3276.2,458.9 3289.6,452.5 3303.1,445.9 3316.5,439.2 3330,432.3 3343.4,425.3 3356.7,418 3370.1,410.5 3383.4,402.6 3396.7,394.5 3409.9,385.9 3423.1,377 3436.2,367.7 3449.3,357.9 3462.3,347.7 3470.9,340.6"/><polyline points="2766.8,944.8 2778.2,928.2 2789.5,910.9 2800.8,893.3 2812,875.4 2823.2,857.4 2834.5,839.6 2845.8,821.8 2857.1,804.3 2868.5,786.9 2880,769.9 2891.6,753.1 2903.2,736.6 2915,720.6 2926.8,704.9 2938.8,689.8 2950.8,675.1 2963,661 2975.3,647.5 2987.7,634.4 3000.2,621.9 3012.9,610 3025.6,598.6 3038.4,587.6 3051.3,577.2 3064.3,567.2 3077.3,557.7 3090.4,548.6 3103.6,539.9 3116.8,531.6 3130.1,523.6 3143.4,515.9 3156.7,508.5 3170.1,501.3 3183.5,494.3 3196.9,487.5 3210.4,480.9 3223.8,474.3 3237.3,467.8 3250.8,461.4 3264.2,454.9 3277.7,448.4 3291.2,441.8 3304.6,435.1 3318,428.2 3331.5,421.1 3344.8,413.8 3358.2,406.3 3371.5,398.4 3384.8,390.2 3398,381.6 3411.2,372.7 3424.4,363.3 3437.4,353.5 3450.4,343.2 3459,336.1"/><polyline points="2754.8,942.6 2766.2,926.1 2777.6,908.9 2788.8,891.2 2800.1,873.4 2811.3,855.4 2822.6,837.5 2833.9,819.7 2845.2,802.1 2856.7,784.7 2868.1,767.6 2879.7,750.7 2891.3,734.2 2903.1,718 2914.9,702.3 2926.9,687.1 2938.9,672.4 2951.1,658.2 2963.4,644.5 2975.8,631.4 2988.3,618.8 3000.9,606.8 3013.6,595.3 3026.4,584.3 3039.3,573.8 3052.3,563.8 3065.3,554.2 3078.5,545 3091.6,536.3 3104.8,527.9 3118.1,519.9 3131.4,512.1 3144.8,504.7 3158.2,497.5 3171.6,490.5 3185,483.7 3198.4,477 3211.9,470.4 3225.4,463.9 3238.8,457.4 3252.3,450.9 3265.8,444.4 3279.2,437.8 3292.7,431 3306.1,424.1 3319.5,417 3332.9,409.7 3346.3,402.1 3359.6,394.2 3372.9,386 3386.2,377.4 3399.3,368.4 3412.5,359 3425.5,349.1 3438.5,338.8 3447.2,331.6"/><polyline points="2742.7,940.5 2754.2,924.2 2765.6,907.1 2776.9,889.4 2788.2,871.5 2799.4,853.5 2810.7,835.6 2822,817.7 2833.4,800.1 2844.8,782.6 2856.3,765.4 2867.8,748.5 2879.5,731.9 2891.2,715.6 2903,699.8 2915,684.5 2927,669.7 2939.2,655.4 2951.5,641.6 2963.9,628.4 2976.4,615.8 2989,603.6 3001.7,592.1 3014.5,581 3027.4,570.4 3040.3,560.3 3053.4,550.7 3066.5,541.5 3079.7,532.7 3092.9,524.3 3106.2,516.2 3119.5,508.4 3132.8,500.9 3146.2,493.7 3159.6,486.7 3173,479.8 3186.5,473.1 3200,466.5 3213.4,460 3226.9,453.5 3240.4,447 3253.9,440.5 3267.3,433.8 3280.8,427.1 3294.2,420.1 3307.6,413 3321,405.7 3334.4,398.1 3347.7,390.1 3361,381.9 3374.3,373.3 3387.5,364.2 3400.6,354.8 3413.7,344.9 3426.7,334.5 3435.3,327.3"/><polyline points="2730.7,938.7 2742.3,922.5 2753.7,905.4 2765,887.8 2776.3,869.9 2787.5,851.8 2798.8,833.8 2810.1,815.9 2821.5,798.2 2832.9,780.6 2844.4,763.3 2855.9,746.3 2867.6,729.6 2879.3,713.3 2891.1,697.4 2903.1,682 2915.1,667.1 2927.3,652.7 2939.5,638.8 2951.9,625.5 2964.4,612.8 2977,600.6 2989.7,588.9 3002.5,577.8 3015.4,567.1 3028.4,557 3041.4,547.3 3054.5,538 3067.7,529.2 3080.9,520.7 3094.2,512.6 3107.5,504.8 3120.9,497.2 3134.3,490 3147.7,482.9 3161.1,476.1 3174.6,469.3 3188,462.7 3201.5,456.2 3215,449.7 3228.5,443.1 3241.9,436.6 3255.4,429.9 3268.9,423.1 3282.3,416.2 3295.7,409.1 3309.1,401.7 3322.5,394.1 3335.8,386.1 3349.1,377.9 3362.4,369.2 3375.6,360.2 3388.7,350.7 3401.8,340.7 3414.8,330.3 3423.4,323.1"/><polyline points="2718.7,937.1 2730.3,921 2741.7,904 2753.1,886.3 2764.4,868.4 2775.6,850.2 2786.9,832.1 2798.2,814.2 2809.6,796.3 2821,778.7 2832.5,761.4 2844,744.3 2855.7,727.5 2867.4,711.1 2879.2,695.1 2891.2,679.6 2903.2,664.5 2915.3,650 2927.6,636.1 2940,622.7 2952.5,609.8 2965.1,597.5 2977.8,585.8 2990.6,574.6 3003.5,563.9 3016.4,553.7 3029.5,543.9 3042.6,534.6 3055.7,525.7 3069,517.2 3082.2,509 3095.6,501.1 3108.9,493.6 3122.3,486.3 3135.7,479.2 3149.2,472.3 3162.6,465.6 3176.1,459 3189.6,452.4 3203,445.9 3216.5,439.3 3230,432.8 3243.5,426.1 3257,419.3 3270.4,412.4 3283.8,405.2 3297.2,397.8 3310.6,390.2 3323.9,382.2 3337.2,373.9 3350.5,365.3 3363.7,356.2 3376.8,346.7 3389.9,336.7 3402.9,326.3 3411.5,319"/><polyline points="2706.7,935.6 2718.3,919.6 2729.8,902.6 2741.2,885 2752.4,866.9 2763.7,848.8 2775,830.6 2786.3,812.5 2797.7,794.6 2809.1,776.9 2820.6,759.5 2832.2,742.3 2843.8,725.4 2855.5,708.9 2867.3,692.8 2879.2,677.2 2891.3,662 2903.4,647.4 2915.7,633.4 2928.1,619.9 2940.5,606.9 2953.1,594.6 2965.8,582.7 2978.6,571.4 2991.5,560.7 3004.5,550.4 3017.5,540.6 3030.6,531.2 3043.8,522.2 3057,513.7 3070.3,505.5 3083.6,497.6 3097,490 3110.3,482.7 3123.8,475.6 3137.2,468.7 3150.7,461.9 3164.1,455.3 3177.6,448.7 3191.1,442.2 3204.6,435.6 3218.1,429 3231.6,422.4 3245,415.6 3258.5,408.6 3271.9,401.5 3285.3,394.1 3298.7,386.4 3312,378.4 3325.3,370.1 3338.6,361.4 3351.8,352.3 3364.9,342.8 3378,332.8 3391,322.3 3399.6,315.1"/><polyline points="2694.7,934.2 2706.3,918.3 2717.8,901.4 2729.2,883.7 2740.5,865.6 2751.8,847.3 2763.1,829.1 2774.4,810.9 2785.8,793 2797.2,775.2 2808.7,757.6 2820.3,740.3 2831.9,723.4 2843.6,706.8 2855.4,690.6 2867.3,674.8 2879.4,659.6 2891.5,644.9 2903.8,630.7 2916.1,617.1 2928.6,604.1 2941.2,591.6 2953.9,579.7 2966.7,568.3 2979.5,557.5 2992.5,547.1 3005.5,537.3 3018.6,527.8 3031.8,518.8 3045,510.2 3058.3,502 3071.6,494.1 3085,486.5 3098.4,479.1 3111.8,472 3125.3,465.1 3138.7,458.3 3152.2,451.6 3165.7,445.1 3179.2,438.5 3192.7,432 3206.2,425.4 3219.6,418.7 3233.1,411.9 3246.6,404.9 3260,397.8 3273.4,390.4 3286.8,382.7 3300.1,374.7 3313.4,366.4 3326.7,357.7 3339.9,348.6 3353,339 3366.1,329 3379.1,318.5 3387.7,311.2"/><polyline points="2682.6,932.9 2694.4,917.1 2705.9,900.1 2717.3,882.5 2728.6,864.3 2739.9,846 2751.2,827.6 2762.5,809.4 2773.9,791.4 2785.3,773.5 2796.8,755.8 2808.4,738.4 2820,721.4 2831.7,704.7 2843.5,688.4 2855.4,672.5 2867.5,657.2 2879.6,642.4 2891.8,628.1 2904.2,614.4 2916.7,601.3 2929.2,588.7 2941.9,576.7 2954.7,565.3 2967.6,554.3 2980.5,543.9 2993.6,534 3006.7,524.5 3019.9,515.5 3033.1,506.8 3046.4,498.5 3059.7,490.6 3073,483 3086.4,475.6 3099.9,468.5 3113.3,461.5 3126.8,454.7 3140.3,448.1 3153.8,441.5 3167.3,434.9 3180.7,428.4 3194.2,421.8 3207.7,415.1 3221.2,408.3 3234.7,401.4 3248.1,394.2 3261.5,386.8 3274.9,379.1 3288.2,371.1 3301.5,362.8 3314.8,354.1 3328,345 3341.2,335.4 3354.2,325.4 3367.2,314.9 3375.9,307.6"/><polyline points="2670.6,931.6 2682.4,915.9 2694,899 2705.4,881.2 2716.7,863.1 2728,844.6 2739.3,826.2 2750.7,807.9 2762,789.8 2773.5,771.8 2784.9,754 2796.5,736.6 2808.1,719.4 2819.8,702.6 2831.6,686.2 2843.5,670.2 2855.5,654.8 2867.7,639.9 2879.9,625.5 2892.2,611.7 2904.7,598.5 2917.3,585.8 2930,573.7 2942.7,562.2 2955.6,551.2 2968.6,540.8 2981.6,530.8 2994.7,521.3 3007.9,512.2 3021.1,503.5 3034.4,495.2 3047.7,487.2 3061.1,479.5 3074.5,472.2 3087.9,465 3101.4,458.1 3114.8,451.3 3128.3,444.6 3141.8,438 3155.3,431.5 3168.8,424.9 3182.3,418.3 3195.8,411.6 3209.3,404.8 3222.8,397.9 3236.2,390.7 3249.6,383.3 3263,375.7 3276.3,367.7 3289.7,359.4 3302.9,350.6 3316.1,341.5 3329.3,331.9 3342.3,321.9 3355.4,311.4 3364,304.1"/><polyline points="2658.6,930.3 2670.4,914.7 2682,897.8 2693.5,880 2704.8,861.8 2716.1,843.3 2727.4,824.8 2738.8,806.4 2750.2,788.1 2761.6,770.1 2773.1,752.3 2784.6,734.7 2796.2,717.4 2807.9,700.5 2819.7,684 2831.6,667.9 2843.6,652.4 2855.7,637.4 2868,622.9 2880.3,609 2892.8,595.7 2905.3,583 2918,570.8 2930.8,559.2 2943.7,548.2 2956.6,537.6 2969.6,527.6 2982.8,518 2995.9,508.9 3009.2,500.2 3022.4,491.8 3035.8,483.8 3049.1,476.2 3062.5,468.8 3076,461.6 3089.4,454.6 3102.9,447.9 3116.4,441.2 3129.9,434.6 3143.4,428 3156.9,421.5 3170.4,414.9 3183.9,408.3 3197.4,401.5 3210.8,394.5 3224.3,387.4 3237.7,380 3251.1,372.3 3264.5,364.4 3277.8,356 3291,347.3 3304.2,338.2 3317.4,328.6 3330.5,318.6 3343.5,308 3352.1,300.7"/><polyline points="2646.6,928.9 2658.4,913.4 2670.1,896.5 2681.5,878.8 2692.9,860.5 2704.2,841.9 2715.5,823.3 2726.9,804.8 2738.3,786.5 2749.7,768.4 2761.2,750.5 2772.7,732.8 2784.3,715.4 2796,698.4 2807.8,681.8 2819.7,665.7 2831.7,650 2843.8,634.9 2856,620.3 2868.4,606.3 2880.8,592.9 2893.4,580.1 2906.1,567.9 2918.8,556.2 2931.7,545.1 2944.7,534.5 2957.7,524.4 2970.8,514.8 2984,505.7 2997.2,496.9 3010.5,488.5 3023.8,480.5 3037.2,472.8 3050.6,465.4 3064,458.3 3077.5,451.3 3091,444.5 3104.5,437.8 3118,431.3 3131.5,424.7 3145,418.2 3158.5,411.6 3172,405 3185.5,398.2 3198.9,391.3 3212.4,384.1 3225.8,376.8 3239.2,369.1 3252.6,361.2 3265.9,352.8 3279.1,344.1 3292.3,335 3305.5,325.4 3318.6,315.4 3331.6,304.9 3340.2,297.5"/><polyline points="2634.5,927.5 2646.5,912.1 2658.1,895.2 2669.6,877.5 2681,859.1 2692.3,840.5 2703.6,821.8 2715,803.3 2726.4,784.9 2737.8,766.6 2749.3,748.6 2760.8,730.9 2772.5,713.4 2784.1,696.3 2795.9,679.6 2807.8,663.4 2819.8,647.6 2831.9,632.4 2844.1,617.7 2856.4,603.6 2868.9,590.2 2881.4,577.3 2894.1,565 2906.9,553.3 2919.7,542.1 2932.7,531.5 2945.7,521.3 2958.8,511.7 2972,502.5 2985.2,493.7 2998.5,485.3 3011.9,477.3 3025.2,469.6 3038.6,462.2 3052.1,455 3065.5,448 3079,441.3 3092.5,434.6 3106,428 3119.5,421.5 3133,415 3146.6,408.4 3160.1,401.8 3173.5,395.1 3187,388.1 3200.5,381 3213.9,373.7 3227.3,366 3240.7,358.1 3254,349.8 3267.2,341.1 3280.5,332 3293.6,322.4 3306.7,312.4 3319.7,301.9 3328.3,294.6"/><polyline points="2622.5,926 2634.5,910.7 2646.2,893.9 2657.7,876.1 2669.1,857.7 2680.4,839 2691.8,820.3 2703.1,801.6 2714.5,783.2 2725.9,764.9 2737.4,746.8 2749,728.9 2760.6,711.4 2772.3,694.2 2784,677.4 2795.9,661.1 2807.9,645.2 2820,629.9 2832.2,615.1 2844.5,601 2856.9,587.4 2869.5,574.5 2882.2,562.1 2894.9,550.3 2907.8,539.1 2920.7,528.4 2933.8,518.3 2946.9,508.6 2960,499.3 2973.3,490.5 2986.6,482.1 2999.9,474.1 3013.3,466.4 3026.7,459 3040.1,451.8 3053.6,444.9 3067.1,438.1 3080.6,431.4 3094.1,424.9 3107.6,418.4 3121.1,411.9 3134.6,405.4 3148.1,398.8 3161.6,392 3175.1,385.1 3188.6,378.1 3202,370.7 3215.4,363.1 3228.8,355.2 3242.1,346.9 3255.4,338.2 3268.6,329.2 3281.7,319.6 3294.8,309.6 3307.8,299.1 3316.4,291.8"/><polyline points="2610.5,924.5 2622.5,909.3 2634.2,892.5 2645.8,874.7 2657.2,856.3 2668.5,837.5 2679.9,818.7 2691.2,800 2702.6,781.4 2714,763.1 2725.5,744.9 2737.1,727 2748.7,709.3 2760.4,692.1 2772.1,675.2 2784,658.8 2796,642.8 2808,627.4 2820.2,612.6 2832.6,598.3 2845,584.7 2857.5,571.7 2870.2,559.3 2883,547.4 2895.8,536.2 2908.8,525.4 2921.8,515.2 2934.9,505.5 2948.1,496.2 2961.3,487.4 2974.6,479 2987.9,471 3001.3,463.3 3014.7,455.9 3028.2,448.7 3041.6,441.8 3055.1,435 3068.6,428.4 3082.1,421.8 3095.7,415.4 3109.2,408.9 3122.7,402.4 3136.2,395.8 3149.7,389.1 3163.2,382.3 3176.7,375.2 3190.1,367.9 3203.5,360.3 3216.9,352.4 3230.2,344.2 3243.5,335.5 3256.7,326.5 3269.8,317 3282.9,307 3295.9,296.5 3304.6,289.2"/><polyline points="2598.5,922.9 2610.5,907.8 2622.3,891.1 2633.9,873.3 2645.3,854.8 2656.6,836 2668,817.1 2679.3,798.3 2690.7,779.7 2702.2,761.2 2713.6,743 2725.2,725 2736.8,707.3 2748.5,689.9 2760.2,673 2772.1,656.5 2784.1,640.4 2796.1,624.9 2808.3,610 2820.6,595.7 2833.1,582 2845.6,568.9 2858.3,556.4 2871,544.5 2883.9,533.2 2896.8,522.5 2909.8,512.2 2922.9,502.5 2936.1,493.2 2949.4,484.4 2962.6,476 2976,467.9 2989.4,460.2 3002.8,452.8 3016.2,445.7 3029.7,438.7 3043.2,432 3056.7,425.4 3070.2,418.9 3083.7,412.4 3097.3,406 3110.8,399.5 3124.3,393 3137.8,386.3 3151.3,379.5 3164.8,372.5 3178.2,365.2 3191.6,357.7 3205,349.8 3218.3,341.6 3231.6,333 3244.8,324 3257.9,314.5 3271,304.5 3284,294.1 3292.7,286.8"/><polyline points="2586.4,921.3 2598.5,906.3 2610.4,889.6 2621.9,871.8 2633.4,853.3 2644.7,834.4 2656.1,815.5 2667.4,796.6 2678.8,777.9 2690.3,759.4 2701.8,741.1 2713.3,723 2724.9,705.2 2736.6,687.8 2748.3,670.8 2760.2,654.2 2772.1,638.1 2784.2,622.5 2796.4,607.5 2808.7,593.1 2821.1,579.3 2833.7,566.2 2846.3,553.6 2859.1,541.7 2871.9,530.3 2884.9,519.5 2897.9,509.3 2911,499.5 2924.2,490.2 2937.4,481.4 2950.7,473 2964,464.9 2977.4,457.2 2990.8,449.8 3004.3,442.7 3017.8,435.8 3031.2,429.1 3044.8,422.5 3058.3,416 3071.8,409.6 3085.3,403.2 3098.9,396.8 3112.4,390.3 3125.9,383.7 3139.4,376.9 3152.8,369.9 3166.3,362.7 3179.7,355.2 3193.1,347.4 3206.4,339.2 3219.7,330.6 3232.9,321.7 3246.1,312.2 3259.2,302.3 3272.2,291.8 3280.8,284.6"/><polyline points="2574.4,919.6 2586.6,904.8 2598.4,888.1 2610,870.3 2621.5,851.8 2632.8,832.8 2644.2,813.8 2655.6,794.9 2667,776.2 2678.4,757.6 2689.9,739.2 2701.4,721.1 2713,703.2 2724.7,685.7 2736.4,668.5 2748.3,651.9 2760.2,635.7 2772.3,620 2784.5,604.9 2796.8,590.5 2809.2,576.6 2821.7,563.4 2834.3,550.8 2847.1,538.9 2860,527.5 2872.9,516.6 2885.9,506.3 2899,496.5 2912.2,487.2 2925.4,478.4 2938.7,470 2952.1,461.9 2965.5,454.3 2978.9,446.9 2992.3,439.8 3005.8,432.9 3019.3,426.2 3032.8,419.7 3046.3,413.2 3059.9,406.8 3073.4,400.5 3086.9,394.1 3100.5,387.6 3114,381.1 3127.5,374.3 3140.9,367.4 3154.4,360.2 3167.8,352.8 3181.2,345 3194.5,336.9 3207.8,328.4 3221,319.4 3234.2,310 3247.3,300.1 3260.3,289.7 3268.9,282.5"/><polyline points="2562.4,918 2574.6,903.2 2586.5,886.6 2598.1,868.8 2609.6,850.2 2620.9,831.3 2632.3,812.2 2643.7,793.2 2655.1,774.4 2666.5,755.8 2678,737.3 2689.5,719.1 2701.1,701.1 2712.8,683.5 2724.5,666.3 2736.4,649.6 2748.3,633.3 2760.4,617.6 2772.5,602.4 2784.8,587.9 2797.2,574 2809.8,560.7 2822.4,548.1 2835.1,536 2848,524.6 2860.9,513.7 2874,503.4 2887.1,493.6 2900.2,484.3 2913.5,475.5 2926.8,467 2940.1,459 2953.5,451.3 2966.9,444 2980.4,436.9 2993.9,430 3007.4,423.4 3020.9,416.9 3034.4,410.5 3047.9,404.1 3061.5,397.8 3075,391.5 3088.5,385.1 3102.1,378.5 3115.6,371.9 3129,365 3142.5,357.9 3155.9,350.5 3169.3,342.7 3182.6,334.7 3195.9,326.2 3209.1,317.3 3222.3,307.9 3235.4,298.1 3248.4,287.7 3257,280.5"/><polyline points="2550.4,916.3 2562.6,901.7 2574.5,885.1 2586.2,867.3 2597.7,848.7 2609,829.7 2620.4,810.6 2631.8,791.5 2643.2,772.6 2654.6,753.9 2666.1,735.4 2677.6,717.1 2689.2,699.1 2700.9,681.4 2712.6,664.1 2724.5,647.3 2736.4,630.9 2748.4,615.1 2760.6,599.9 2772.9,585.3 2785.3,571.3 2797.8,558 2810.4,545.3 2823.2,533.2 2836,521.8 2849,510.9 2862,500.5 2875.1,490.7 2888.3,481.4 2901.5,472.5 2914.8,464.1 2928.2,456.1 2941.5,448.4 2955,441.1 2968.4,434 2981.9,427.2 2995.4,420.6 3008.9,414.1 3022.5,407.7 3036,401.4 3049.6,395.2 3063.1,388.9 3076.6,382.5 3090.1,376 3103.6,369.4 3117.1,362.6 3130.6,355.5 3144,348.1 3157.4,340.5 3170.7,332.4 3184,324 3197.2,315.2 3210.4,305.9 3223.5,296.1 3236.5,285.7 3245.1,278.6"/><polyline points="2538.3,914.7 2550.6,900.2 2562.6,883.7 2574.3,865.8 2585.7,847.2 2597.1,828.1 2608.5,808.9 2619.9,789.8 2631.3,770.9 2642.7,752.1 2654.2,733.5 2665.7,715.1 2677.3,697 2689,679.3 2700.7,661.9 2712.6,645 2724.5,628.6 2736.5,612.7 2748.7,597.4 2760.9,582.7 2773.3,568.6 2785.9,555.3 2798.5,542.5 2811.2,530.4 2824.1,518.9 2837,508 2850,497.6 2863.1,487.8 2876.3,478.4 2889.6,469.6 2902.8,461.2 2916.2,453.2 2929.6,445.5 2943,438.2 2956.5,431.1 2970,424.3 2983.5,417.7 2997,411.3 3010.5,405 3024.1,398.7 3037.6,392.5 3051.2,386.3 3064.7,379.9 3078.2,373.5 3091.7,366.9 3105.2,360.2 3118.7,353.1 3132.1,345.8 3145.5,338.2 3158.8,330.2 3172.1,321.9 3185.4,313.1 3198.5,303.8 3211.6,294 3224.6,283.8 3233.3,276.6"/><polyline points="2526.3,913 2538.7,898.7 2550.6,882.2 2562.3,864.4 2573.8,845.7 2585.2,826.5 2596.6,807.3 2608,788.1 2619.4,769.1 2630.9,750.3 2642.3,731.6 2653.9,713.1 2665.4,695 2677.1,677.2 2688.8,659.7 2700.7,642.7 2712.6,626.2 2724.6,610.2 2736.7,594.8 2749,580.1 2761.4,566 2773.9,552.6 2786.5,539.8 2799.3,527.6 2812.1,516.1 2825.1,505.1 2838.1,494.7 2851.2,484.8 2864.3,475.5 2877.6,466.6 2890.9,458.2 2904.2,450.2 2917.6,442.6 2931.1,435.3 2944.5,428.2 2958,421.5 2971.5,414.9 2985.1,408.5 2998.6,402.2 3012.2,396 3025.7,389.8 3039.2,383.6 3052.8,377.4 3066.3,371 3079.8,364.4 3093.3,357.7 3106.8,350.7 3120.2,343.5 3133.6,335.9 3146.9,328 3160.2,319.7 3173.5,310.9 3186.6,301.7 3199.7,292 3212.7,281.7 3221.4,274.6"/><polyline points="2514.3,911.4 2526.7,897.2 2538.7,880.7 2550.4,862.9 2561.9,844.2 2573.3,825 2584.7,805.7 2596.1,786.5 2607.5,767.4 2619,748.4 2630.5,729.7 2642,711.2 2653.6,692.9 2665.2,675 2676.9,657.5 2688.7,640.4 2700.7,623.8 2712.7,607.8 2724.8,592.3 2737.1,577.5 2749.5,563.3 2762,549.8 2774.6,537 2787.3,524.8 2800.2,513.2 2813.1,502.2 2826.1,491.8 2839.2,481.9 2852.4,472.5 2865.6,463.7 2878.9,455.3 2892.3,447.2 2905.7,439.6 2919.1,432.3 2932.6,425.3 2946.1,418.6 2959.6,412 2973.1,405.7 2986.7,399.4 3000.2,393.3 3013.8,387.1 3027.3,380.9 3040.9,374.7 3054.4,368.4 3067.9,361.9 3081.4,355.2 3094.9,348.3 3108.3,341.1 3121.7,333.6 3135,325.7 3148.3,317.4 3161.6,308.7 3174.7,299.5 3187.8,289.8 3200.9,279.6 3209.5,272.5"/><polyline points="2502.3,909.8 2514.7,895.7 2526.8,879.3 2538.5,861.5 2550,842.7 2561.4,823.5 2572.8,804.1 2584.2,784.8 2595.6,765.6 2607.1,746.6 2618.6,727.8 2630.1,709.2 2641.7,690.9 2653.3,672.9 2665,655.3 2676.8,638.1 2688.7,621.5 2700.8,605.3 2712.9,589.8 2725.1,574.9 2737.5,560.6 2750,547.1 2762.6,534.2 2775.4,521.9 2788.2,510.3 2801.1,499.3 2814.1,488.8 2827.3,478.9 2840.4,469.6 2853.7,460.7 2867,452.2 2880.3,444.2 2893.7,436.6 2907.2,429.3 2920.6,422.4 2934.1,415.6 2947.7,409.1 2961.2,402.8 2974.7,396.6 2988.3,390.4 3001.8,384.3 3015.4,378.2 3028.9,372 3042.5,365.7 3056,359.3 3069.5,352.6 3083,345.8 3096.4,338.6 3109.8,331.1 3123.1,323.3 3136.4,315 3149.7,306.4 3162.9,297.2 3176,287.6 3189,277.4 3197.6,270.3"/><polyline points="2490.3,908.3 2502.7,894.3 2514.8,877.9 2526.6,860.1 2538.1,841.3 2549.5,822 2560.9,802.5 2572.3,783.2 2583.8,763.9 2595.2,744.8 2606.7,725.9 2618.2,707.3 2629.8,688.9 2641.4,670.8 2653.1,653.1 2664.9,635.9 2676.8,619.1 2688.8,602.9 2701,587.2 2713.2,572.2 2725.6,557.9 2738.1,544.3 2750.7,531.4 2763.4,519.1 2776.2,507.4 2789.2,496.3 2802.2,485.8 2815.3,475.9 2828.5,466.5 2841.7,457.6 2855,449.2 2868.4,441.2 2881.8,433.6 2895.2,426.3 2908.7,419.3 2922.2,412.6 2935.7,406.1 2949.2,399.8 2962.8,393.6 2976.4,387.5 2989.9,381.4 3003.5,375.3 3017,369.2 3030.6,362.9 3044.1,356.5 3057.6,349.9 3071.1,343.1 3084.5,336 3097.9,328.5 3111.3,320.7 3124.6,312.5 3137.8,303.9 3151,294.8 3164.1,285.2 3177.1,275 3185.7,268"/><polyline points="2478.2,906.7 2490.8,892.8 2502.9,876.5 2514.6,858.6 2526.2,839.8 2537.6,820.4 2549,800.9 2560.5,781.5 2571.9,762.2 2583.3,743 2594.8,724 2606.3,705.3 2617.9,686.8 2629.5,668.7 2641.2,650.9 2653,633.5 2664.9,616.7 2676.9,600.4 2689,584.6 2701.3,569.6 2713.6,555.2 2726.1,541.5 2738.7,528.5 2751.5,516.1 2764.3,504.4 2777.2,493.3 2790.2,482.8 2803.3,472.8 2816.5,463.4 2829.7,454.5 2843.1,446.1 2856.4,438.1 2869.8,430.4 2883.3,423.2 2896.7,416.2 2910.2,409.5 2923.8,403 2937.3,396.7 2950.9,390.6 2964.4,384.5 2978,378.4 2991.6,372.4 3005.1,366.3 3018.7,360 3032.2,353.7 3045.7,347.1 3059.2,340.3 3072.6,333.2 3086,325.8 3099.4,318 3112.7,309.8 3125.9,301.2 3139.1,292.1 3152.2,282.5 3165.2,272.4 3173.8,265.4"/><polyline points="2466.2,904.9 2478.8,891.1 2490.9,874.9 2502.7,857 2514.3,838.1 2525.8,818.7 2537.2,799.2 2548.6,779.7 2560,760.3 2571.4,741.1 2582.9,722 2594.4,703.2 2606,684.7 2617.6,666.4 2629.3,648.6 2641.1,631.1 2653,614.2 2665,597.8 2677.1,582 2689.3,566.8 2701.7,552.4 2714.2,538.6 2726.8,525.6 2739.5,513.1 2752.3,501.4 2765.2,490.2 2778.3,479.7 2791.4,469.7 2804.5,460.2 2817.8,451.3 2831.1,442.9 2844.5,434.8 2857.9,427.2 2871.3,419.9 2884.8,413 2898.3,406.3 2911.8,399.8 2925.4,393.5 2938.9,387.4 2952.5,381.3 2966.1,375.3 2979.6,369.3 2993.2,363.2 3006.7,357 3020.3,350.6 3033.8,344.1 3047.3,337.3 3060.7,330.2 3074.1,322.8 3087.5,315.1 3100.8,306.9 3114,298.3 3127.2,289.2 3140.3,279.7 3153.3,269.6 3162,262.5"/><polyline points="2454.2,902.8 2466.8,889.1 2479,873 2490.8,855.1 2502.4,836.3 2513.9,816.8 2525.3,797.2 2536.7,777.7 2548.1,758.2 2559.6,739 2571,719.9 2582.5,701 2594.1,682.4 2605.7,664.1 2617.4,646.1 2629.2,628.6 2641.1,611.6 2653.1,595.1 2665.2,579.2 2677.4,564 2689.7,549.5 2702.2,535.7 2714.8,522.5 2727.5,510.1 2740.4,498.2 2753.3,487 2766.3,476.4 2779.4,466.4 2792.6,457 2805.8,448 2819.1,439.5 2832.5,431.5 2845.9,423.9 2859.4,416.6 2872.8,409.6 2886.3,402.9 2899.9,396.5 2913.4,390.2 2927,384.1 2940.6,378 2954.1,372 2967.7,366 2981.3,359.9 2994.8,353.7 3008.4,347.4 3021.9,340.8 3035.4,334.1 3048.8,327 3062.2,319.6 3075.6,311.9 3088.9,303.7 3102.1,295.1 3115.3,286.1 3128.4,276.5 3141.4,266.4 3150.1,259.4"/><polyline points="2442.2,900.2 2454.8,886.8 2467,870.7 2478.9,852.9 2490.5,834 2502,814.6 2513.4,795 2524.8,775.4 2536.2,755.9 2547.7,736.6 2559.1,717.5 2570.7,698.5 2582.2,679.9 2593.8,661.5 2605.5,643.5 2617.3,625.9 2629.2,608.8 2641.1,592.3 2653.2,576.3 2665.5,561 2677.8,546.4 2690.3,532.6 2702.9,519.4 2715.6,506.8 2728.4,495 2741.3,483.7 2754.3,473.1 2767.4,463 2780.6,453.5 2793.9,444.6 2807.2,436.1 2820.5,428 2833.9,420.4 2847.4,413.1 2860.9,406.1 2874.4,399.4 2887.9,393 2901.5,386.7 2915.1,380.6 2928.6,374.5 2942.2,368.5 2955.8,362.5 2969.4,356.4 2982.9,350.2 2996.4,343.9 3010,337.4 3023.4,330.6 3036.9,323.6 3050.3,316.2 3063.7,308.4 3077,300.3 3090.2,291.7 3103.4,282.6 3116.5,273 3129.6,262.9 3138.2,255.9"/><polyline points="2430.1,897.2 2442.9,883.9 2455.1,867.9 2467,850.2 2478.6,831.4 2490.1,812 2501.5,792.3 2512.9,772.8 2524.3,753.3 2535.8,734 2547.3,714.8 2558.8,695.8 2570.3,677.1 2581.9,658.7 2593.6,640.6 2605.4,623 2617.3,605.9 2629.2,589.2 2641.3,573.2 2653.5,557.9 2665.9,543.2 2678.3,529.3 2690.9,516 2703.6,503.5 2716.4,491.5 2729.4,480.3 2742.4,469.6 2755.5,459.5 2768.7,450 2781.9,441 2795.2,432.5 2808.6,424.4 2822,416.7 2835.4,409.4 2848.9,402.5 2862.5,395.8 2876,389.3 2889.6,383 2903.1,376.9 2916.7,370.8 2930.3,364.8 2943.9,358.8 2957.4,352.7 2971,346.5 2984.5,340.2 2998.1,333.6 3011.5,326.9 3025,319.8 3038.4,312.4 3051.8,304.7 3065.1,296.5 3078.4,287.9 3091.5,278.8 3104.6,269.2 3117.7,259 3126.3,252"/><polyline points="2418.1,893.4 2430.9,880.4 2443.1,864.6 2455,847 2466.7,828.2 2478.2,808.8 2489.6,789.2 2501,769.7 2512.4,750.2 2523.9,730.9 2535.4,711.8 2546.9,692.8 2558.4,674 2570.1,655.6 2581.7,637.5 2593.5,619.9 2605.3,602.7 2617.3,586 2629.4,569.9 2641.6,554.5 2653.9,539.8 2666.4,525.8 2679,512.5 2691.7,499.9 2704.5,488 2717.4,476.6 2730.4,465.9 2743.5,455.8 2756.7,446.3 2769.9,437.2 2783.3,428.7 2796.6,420.6 2810,412.9 2823.5,405.6 2837,398.6 2850.5,391.9 2864.1,385.4 2877.6,379.1 2891.2,372.9 2904.8,366.9 2918.4,360.8 2931.9,354.8 2945.5,348.7 2959.1,342.5 2972.6,336.2 2986.1,329.6 2999.6,322.8 3013.1,315.7 3026.5,308.3 3039.9,300.5 3053.2,292.4 3066.5,283.7 3079.7,274.6 3092.8,264.9 3105.8,254.7 3114.4,247.6"/><polyline points="2406.1,888.8 2418.9,876.1 2431.2,860.5 2443.1,843.1 2454.8,824.4 2466.3,805.1 2477.7,785.6 2489.1,766.1 2500.6,746.7 2512,727.5 2523.5,708.3 2535,689.4 2546.6,670.6 2558.2,652.2 2569.8,634.1 2581.6,616.4 2593.4,599.2 2605.4,582.5 2617.4,566.4 2629.6,550.9 2642,536.2 2654.4,522.2 2667,508.8 2679.7,496.2 2692.5,484.2 2705.4,472.8 2718.5,462.1 2731.6,451.9 2744.7,442.4 2758,433.3 2771.3,424.7 2784.7,416.6 2798.1,408.9 2811.5,401.5 2825,394.5 2838.6,387.8 2852.1,381.3 2865.7,375 2879.3,368.8 2892.8,362.7 2906.4,356.6 2920,350.6 2933.6,344.5 2947.2,338.2 2960.7,331.8 2974.2,325.3 2987.7,318.4 3001.2,311.3 3014.6,303.9 3028,296.1 3041.3,287.8 3054.6,279.1 3067.8,269.9 3080.9,260.2 3093.9,250 3102.5,242.8"/><polyline points="2394.1,883.3 2406.9,870.9 2419.3,855.7 2431.2,838.4 2442.9,820 2454.4,800.8 2465.8,781.4 2477.2,762 2488.7,742.7 2500.1,723.5 2511.6,704.4 2523.1,685.5 2534.7,666.8 2546.3,648.4 2557.9,630.3 2569.7,612.6 2581.5,595.4 2593.5,578.6 2605.5,562.5 2617.7,547.1 2630,532.3 2642.5,518.2 2655.1,504.9 2667.8,492.2 2680.6,480.2 2693.5,468.8 2706.5,458 2719.6,447.8 2732.8,438.2 2746,429.1 2759.3,420.5 2772.7,412.4 2786.1,404.6 2799.6,397.3 2813.1,390.2 2826.6,383.5 2840.2,376.9 2853.7,370.6 2867.3,364.3 2880.9,358.2 2894.5,352.1 2908.1,346 2921.7,339.9 2935.2,333.6 2948.8,327.2 2962.3,320.6 2975.8,313.7 2989.3,306.5 3002.7,299 3016.1,291.1 3029.4,282.8 3042.7,274.1 3055.9,264.8 3069,255 3082,244.7 3090.7,237.5"/><polyline points="2382,876.7 2394.9,864.8 2407.3,849.9 2419.3,832.9 2431,814.7 2442.5,795.7 2453.9,776.4 2465.3,757.2 2476.8,738 2488.2,718.9 2499.7,699.9 2511.2,681.1 2522.8,662.5 2534.4,644.1 2546,626.1 2557.8,608.4 2569.6,591.2 2581.5,574.5 2593.6,558.4 2605.8,542.9 2618.1,528.1 2630.5,514 2643.1,500.7 2655.8,488 2668.6,475.9 2681.5,464.5 2694.5,453.7 2707.6,443.5 2720.8,433.9 2734.1,424.7 2747.4,416.1 2760.8,407.9 2774.2,400.2 2787.6,392.8 2801.1,385.7 2814.7,378.9 2828.2,372.3 2841.8,365.9 2855.4,359.6 2869,353.5 2882.6,347.3 2896.2,341.2 2909.8,335 2923.3,328.6 2936.9,322.2 2950.4,315.5 2963.9,308.5 2977.4,301.3 2990.8,293.7 3004.2,285.8 3017.5,277.4 3030.8,268.5 3044,259.2 3057.1,249.3 3070.1,238.9 3078.8,231.6"/><polyline points="2370,869 2383,857.6 2395.4,843 2407.4,826.4 2419,808.4 2430.6,789.7 2442,770.7 2453.5,751.7 2464.9,732.7 2476.4,713.7 2487.8,694.9 2499.3,676.2 2510.9,657.7 2522.5,639.4 2534.1,621.4 2545.9,603.8 2557.7,586.6 2569.6,569.9 2581.7,553.8 2593.8,538.4 2606.1,523.6 2618.6,509.5 2631.2,496.2 2643.9,483.4 2656.7,471.4 2669.6,460 2682.6,449.1 2695.7,438.9 2708.8,429.2 2722.1,420.1 2735.4,411.4 2748.8,403.2 2762.2,395.4 2775.7,388 2789.2,380.8 2802.7,374 2816.3,367.4 2829.9,360.9 2843.5,354.6 2857,348.4 2870.6,342.2 2884.2,336 2897.8,329.7 2911.4,323.3 2925,316.7 2938.5,310 2952,303 2965.5,295.6 2978.9,288 2992.3,279.9 3005.6,271.4 3018.9,262.5 3032.1,253 3045.2,243 3058.3,232.5 3066.9,225.1"/><polyline points="2358,860 2371,849.1 2383.4,835.1 2395.4,818.9 2407.1,801.2 2418.7,782.8 2430.1,764.1 2441.6,745.3 2453,726.5 2464.5,707.8 2476,689.2 2487.5,670.6 2499,652.3 2510.6,634.1 2522.2,616.3 2534,598.7 2545.8,581.6 2557.7,565 2569.7,548.9 2581.9,533.5 2594.2,518.8 2606.6,504.7 2619.2,491.3 2631.9,478.6 2644.7,466.6 2657.6,455.1 2670.6,444.3 2683.7,434.1 2696.9,424.4 2710.1,415.2 2723.5,406.5 2736.8,398.2 2750.3,390.4 2763.7,382.9 2777.2,375.7 2790.8,368.8 2804.3,362.1 2817.9,355.6 2831.5,349.2 2845.1,342.9 2858.7,336.7 2872.3,330.4 2885.9,324 2899.5,317.5 2913.1,310.9 2926.6,304 2940.1,296.9 2953.6,289.5 2967,281.7 2980.4,273.5 2993.8,264.9 3007,255.8 3020.2,246.3 3033.3,236.1 3046.4,225.5 3055,218"/><polyline points="2875,994 2826.9,961.8 2778.8,947.4 2730.7,938.7 2682.6,932.9 2634.5,927.5 2586.4,921.3 2538.3,914.7 2490.3,908.3 2442.2,900.2 2394.1,883.3 2358,860"/><polyline points="2878.7,987.4 2830.6,955.9 2782.6,941.9 2734.6,933.5 2686.6,927.8 2638.5,922.6 2590.5,916.5 2542.5,910.1 2494.5,903.9 2446.4,896.1 2398.4,879.6 2362.4,856.8"/><polyline points="2882.3,980.8 2834.4,950 2786.4,936.3 2738.4,928 2690.5,922.5 2642.5,917.4 2594.5,911.5 2546.6,905.3 2498.6,899.2 2450.7,891.6 2402.7,875.4 2366.7,853.2"/><polyline points="2886,974.2 2838.1,944 2790.2,930.6 2742.3,922.5 2694.4,917.1 2646.5,912.1 2598.5,906.3 2550.6,900.2 2502.7,894.3 2454.8,886.8 2406.9,870.9 2371,849.1"/><polyline points="2889.7,967.6 2841.8,938 2793.9,924.9 2746.1,916.9 2698.2,911.6 2650.4,906.6 2602.5,900.9 2554.7,894.9 2506.8,889 2458.9,881.7 2411.1,866.1 2375.2,844.7"/><polyline points="2893.3,961 2845.5,932 2797.7,919.1 2749.9,911.2 2702.1,905.9 2654.3,901 2606.4,895.3 2558.6,889.3 2510.8,883.6 2463,876.3 2415.2,861 2379.3,840"/><polyline points="2897,954.4 2849.2,926 2801.5,913.2 2753.7,905.4 2705.9,900.1 2658.1,895.2 2610.4,889.6 2562.6,883.7 2514.8,877.9 2467,870.7 2419.3,855.7 2383.4,835.1"/><polyline points="2900.7,947.9 2852.9,920 2805.2,907.3 2757.5,899.6 2709.7,894.3 2662,889.4 2614.2,883.8 2566.5,877.8 2518.8,872.1 2471,864.9 2423.3,850.1 2387.5,829.9"/><polyline points="2904.4,941.4 2856.7,913.9 2808.9,901.4 2761.2,893.7 2713.5,888.4 2665.8,883.5 2618.1,877.8 2570.4,871.9 2522.7,866.2 2475,859 2427.3,844.3 2391.5,824.4"/><polyline points="2908.1,934.9 2860.4,907.9 2812.7,895.5 2765,887.8 2717.3,882.5 2669.6,877.5 2621.9,871.8 2574.3,865.8 2526.6,860.1 2478.9,852.9 2431.2,838.4 2395.4,818.9"/><polyline points="2911.7,928.4 2864.1,901.8 2816.4,889.6 2768.8,881.9 2721.1,876.4 2673.4,871.4 2625.8,865.7 2578.1,859.7 2530.4,853.9 2482.8,846.7 2435.1,832.4 2399.4,813.1"/><polyline points="2915.4,922 2867.8,895.8 2820.2,883.6 2772.5,875.9 2724.9,870.4 2677.2,865.3 2629.6,859.5 2581.9,853.5 2534.3,847.6 2486.6,840.4 2439,826.2 2403.3,807.2"/><polyline points="2919.1,915.5 2871.5,889.7 2823.9,877.6 2776.3,869.9 2728.6,864.3 2681,859.1 2633.4,853.3 2585.7,847.2 2538.1,841.3 2490.5,834 2442.9,820 2407.1,801.2"/><polyline points="2922.9,909.1 2875.2,883.7 2827.6,871.6 2780,863.9 2732.4,858.2 2684.8,852.9 2637.2,847 2589.6,840.9 2541.9,834.9 2494.3,827.6 2446.7,813.6 2411,795.2"/><polyline points="2926.6,902.7 2879,877.7 2831.4,865.7 2783.8,857.8 2736.2,852.1 2688.6,846.7 2641,840.7 2593.3,834.5 2545.7,828.4 2498.1,821.1 2450.5,807.2 2414.8,789"/><polyline points="2930.3,896.4 2882.7,871.7 2835.1,859.7 2787.5,851.8 2739.9,846 2692.3,840.5 2644.7,834.4 2597.1,828.1 2549.5,822 2502,814.6 2454.4,800.8 2418.7,782.8"/><polyline points="2934,890 2886.4,865.7 2838.9,853.7 2791.3,845.8 2743.7,839.9 2696.1,834.3 2648.5,828.1 2600.9,821.7 2553.3,815.5 2505.8,808 2458.2,794.3 2422.5,776.6"/><polyline points="2937.8,883.7 2890.2,859.7 2842.6,847.8 2795,839.8 2747.4,833.7 2699.9,828 2652.3,821.8 2604.7,815.3 2557.1,809 2509.6,801.5 2462,787.9 2426.3,770.3"/><polyline points="2941.5,877.4 2893.9,853.7 2846.4,841.8 2798.8,833.8 2751.2,827.6 2703.6,821.8 2656.1,815.5 2608.5,808.9 2560.9,802.5 2513.4,795 2465.8,781.4 2430.1,764.1"/><polyline points="2945.2,871.2 2897.7,847.8 2850.1,835.9 2802.6,827.8 2755,821.6 2707.4,815.6 2659.9,809.2 2612.3,802.6 2564.7,796.1 2517.2,788.4 2469.6,774.9 2433.9,757.8"/><polyline points="2949,865 2901.4,841.8 2853.9,830 2806.3,821.8 2758.8,815.5 2711.2,809.4 2663.7,802.9 2616.1,796.2 2568.5,789.6 2521,781.9 2473.4,768.5 2437.8,751.6"/><polyline points="2952.8,858.8 2905.2,835.9 2857.7,824.1 2810.1,815.9 2762.5,809.4 2715,803.3 2667.4,796.6 2619.9,789.8 2572.3,783.2 2524.8,775.4 2477.2,762 2441.6,745.3"/><polyline points="2956.5,852.6 2909,830.1 2861.4,818.3 2813.9,810 2766.3,803.4 2718.8,797.1 2671.2,790.4 2623.7,783.5 2576.1,776.7 2528.6,768.9 2481,755.6 2445.4,739.1"/><polyline points="2960.3,846.5 2912.8,824.2 2865.2,812.4 2817.7,804 2770.1,797.4 2722.6,791 2675,784.2 2627.5,777.2 2579.9,770.3 2532.4,762.4 2484.9,749.1 2449.2,732.8"/><polyline points="2964.1,840.4 2916.5,818.4 2869,806.6 2821.5,798.2 2773.9,791.4 2726.4,784.9 2678.8,777.9 2631.3,770.9 2583.8,763.9 2536.2,755.9 2488.7,742.7 2453,726.5"/><polyline points="2967.9,834.4 2920.3,812.6 2872.8,800.8 2825.3,792.3 2777.7,785.4 2730.2,778.8 2682.6,771.8 2635.1,764.6 2587.6,757.5 2540,749.5 2492.5,736.3 2456.8,720.3"/><polyline points="2971.7,828.4 2924.1,806.9 2876.6,795.1 2829.1,786.4 2781.5,779.4 2734,772.7 2686.5,765.6 2638.9,758.3 2591.4,751.2 2543.8,743 2496.3,729.9 2460.7,714.1"/><polyline points="2975.5,822.4 2928,801.1 2880.4,789.3 2832.9,780.6 2785.3,773.5 2737.8,766.6 2690.3,759.4 2642.7,752.1 2595.2,744.8 2547.7,736.6 2500.1,723.5 2464.5,707.8"/><polyline points="2979.3,816.5 2931.8,795.4 2884.2,783.6 2836.7,774.8 2789.2,767.6 2741.6,760.6 2694.1,753.3 2646.6,745.9 2599,738.5 2551.5,730.2 2504,717.1 2468.3,701.6"/><polyline points="2983.1,810.6 2935.6,789.8 2888.1,777.9 2840.5,769.1 2793,761.7 2745.5,754.6 2697.9,747.2 2650.4,739.7 2602.9,732.2 2555.3,723.8 2507.8,710.7 2472.1,695.4"/><polyline points="2987,804.8 2939.4,784.1 2891.9,772.3 2844.4,763.3 2796.8,755.8 2749.3,748.6 2701.8,741.1 2654.2,733.5 2606.7,725.9 2559.1,717.5 2511.6,704.4 2476,689.2"/><polyline points="2990.8,799 2943.3,778.5 2895.8,766.7 2848.2,757.6 2800.7,750 2753.1,742.7 2705.6,735.1 2658.1,727.3 2610.5,719.7 2563,711.1 2515.4,698.1 2479.8,683"/><polyline points="2994.7,793.2 2947.2,773 2899.6,761.1 2852.1,752 2804.5,744.2 2757,736.8 2709.4,729 2661.9,721.2 2614.4,713.5 2566.8,704.8 2519.3,691.8 2483.6,676.8"/><polyline points="2998.6,787.5 2951,767.5 2903.5,755.6 2855.9,746.3 2808.4,738.4 2760.8,730.9 2713.3,723 2665.7,715.1 2618.2,707.3 2570.7,698.5 2523.1,685.5 2487.5,670.6"/><polyline points="3002.4,781.9 2954.9,762 2907.3,750.1 2859.8,740.7 2812.3,732.7 2764.7,725 2717.2,717.1 2669.6,709.1 2622.1,701.1 2574.5,692.3 2527,679.2 2491.3,664.5"/><polyline points="3006.3,776.3 2958.8,756.6 2911.2,744.6 2863.7,735.2 2816.1,727 2768.6,719.2 2721,711.1 2673.5,703 2625.9,695 2578.4,686.1 2530.8,673 2495.1,658.4"/><polyline points="3010.2,770.7 2962.7,751.2 2915.1,739.2 2867.6,729.6 2820,721.4 2772.5,713.4 2724.9,705.2 2677.3,697 2629.8,688.9 2582.2,679.9 2534.7,666.8 2499,652.3"/><polyline points="3014.2,765.2 2966.6,745.9 2919,733.8 2871.5,724.1 2823.9,715.8 2776.3,707.7 2728.8,699.4 2681.2,691.1 2633.7,682.8 2586.1,673.7 2538.5,660.6 2502.9,646.2"/><polyline points="3018.1,759.8 2970.5,740.6 2922.9,728.5 2875.4,718.7 2827.8,710.2 2780.2,702 2732.7,693.6 2685.1,685.2 2637.5,676.8 2590,667.6 2542.4,654.5 2506.7,640.1"/><polyline points="3022,754.4 2974.4,735.3 2926.9,723.2 2879.3,713.3 2831.7,704.7 2784.1,696.3 2736.6,687.8 2689,679.3 2641.4,670.8 2593.8,661.5 2546.3,648.4 2510.6,634.1"/><polyline points="3026,749.1 2978.4,730.1 2930.8,717.9 2883.2,708 2835.6,699.2 2788.1,690.7 2740.5,682.1 2692.9,673.5 2645.3,664.9 2597.7,655.4 2550.1,642.3 2514.5,628.1"/><polyline points="3029.9,743.8 2982.4,725 2934.8,712.8 2887.2,702.7 2839.6,693.7 2792,685.1 2744.4,676.4 2696.8,667.7 2649.2,659 2601.6,649.4 2554,636.3 2518.3,622.2"/><polyline points="3033.9,738.6 2986.3,719.9 2938.7,707.6 2891.1,697.4 2843.5,688.4 2795.9,679.6 2748.3,670.8 2700.7,661.9 2653.1,653.1 2605.5,643.5 2557.9,630.3 2522.2,616.3"/><polyline points="3037.9,733.5 2990.3,714.9 2942.7,702.5 2895.1,692.2 2847.5,683 2799.9,674.1 2752.3,665.2 2704.7,656.2 2657.1,647.3 2609.4,637.6 2561.8,624.4 2526.1,610.4"/><polyline points="3041.9,728.4 2994.3,710 2946.7,697.5 2899.1,687.1 2851.5,677.7 2803.8,668.7 2756.2,659.6 2708.6,650.6 2661,641.6 2613.4,631.7 2565.8,618.5 2530,604.5"/><polyline points="3045.9,723.4 2998.3,705.1 2950.7,692.6 2903.1,682 2855.4,672.5 2807.8,663.4 2760.2,654.2 2712.6,645 2664.9,635.9 2617.3,625.9 2569.7,612.6 2534,598.7"/><polyline points="3050,718.5 3002.3,700.2 2954.7,687.7 2907.1,677 2859.4,667.3 2811.8,658.1 2764.2,648.7 2716.5,639.5 2668.9,630.2 2621.3,620.2 2573.6,606.8 2537.9,593"/><polyline points="3054,713.6 3006.4,695.5 2958.7,682.8 2911.1,672 2863.4,662.2 2815.8,652.8 2768.1,643.4 2720.5,634 2672.9,624.6 2625.2,614.5 2577.6,601.1 2541.8,587.3"/><polyline points="3058.1,708.8 3010.4,690.7 2962.8,678 2915.1,667.1 2867.5,657.2 2819.8,647.6 2772.1,638.1 2724.5,628.6 2676.8,619.1 2629.2,608.8 2581.5,595.4 2545.8,581.6"/><polyline points="3062.1,704.1 3014.5,686.1 2966.8,673.3 2919.1,662.2 2871.5,652.2 2823.8,642.5 2776.2,632.8 2728.5,623.2 2680.8,613.6 2633.2,603.2 2585.5,589.7 2549.7,576"/><polyline points="3066.2,699.4 3018.6,681.5 2970.9,668.6 2923.2,657.4 2875.5,647.2 2827.8,637.4 2780.2,627.6 2732.5,617.9 2684.8,608.2 2637.1,597.7 2589.5,584.2 2553.7,570.5"/><polyline points="3070.3,694.8 3022.6,676.9 2975,664 2927.3,652.7 2879.6,642.4 2831.9,632.4 2784.2,622.5 2736.5,612.7 2688.8,602.9 2641.1,592.3 2593.5,578.6 2557.7,565"/><polyline points="3074.4,690.3 3026.7,672.5 2979,659.4 2931.3,648 2883.6,637.5 2836,627.4 2788.3,617.4 2740.6,607.5 2692.9,597.6 2645.2,586.9 2597.5,573.2 2561.7,559.6"/><polyline points="3078.6,685.8 3030.9,668.1 2983.1,654.9 2935.4,643.4 2887.7,632.8 2840,622.5 2792.3,612.4 2744.6,602.4 2696.9,592.4 2649.2,581.6 2601.5,567.8 2565.7,554.2"/><polyline points="3082.7,681.4 3035,663.7 2987.3,650.5 2939.5,638.8 2891.8,628.1 2844.1,617.7 2796.4,607.5 2748.7,597.4 2701,587.2 2653.2,576.3 2605.5,562.5 2569.7,548.9"/><polyline points="3086.8,677 3039.1,659.4 2991.4,646.1 2943.7,634.3 2895.9,623.4 2848.2,613 2800.5,602.6 2752.7,592.4 2705,582.2 2657.3,571.1 2609.6,557.3 2573.8,543.7"/><polyline points="3091,672.8 3043.3,655.2 2995.5,641.8 2947.8,629.9 2900,618.9 2852.3,608.3 2804.6,597.8 2756.8,587.5 2709.1,577.2 2661.4,566 2613.6,552.1 2577.8,538.6"/><polyline points="3095.2,668.5 3047.4,651 2999.7,637.5 2951.9,625.5 2904.2,614.4 2856.4,603.6 2808.7,593.1 2760.9,582.7 2713.2,572.2 2665.5,561 2617.7,547.1 2581.9,533.5"/><polyline points="3099.3,664.4 3051.6,646.9 3003.8,633.3 2956.1,621.2 2908.3,609.9 2860.6,599.1 2812.8,588.4 2765.1,577.9 2717.3,567.4 2669.6,556.1 2621.8,542.1 2586,528.5"/><polyline points="3103.5,660.3 3055.8,642.8 3008,629.2 2960.2,617 2912.5,605.6 2864.7,594.6 2817,583.8 2769.2,573.3 2721.4,562.6 2673.7,551.2 2625.9,537.1 2590.1,523.6"/><polyline points="3107.7,656.2 3060,638.8 3012.2,625.1 2964.4,612.8 2916.7,601.3 2868.9,590.2 2821.1,579.3 2773.3,568.6 2725.6,557.9 2677.8,546.4 2630,532.3 2594.2,518.8"/><polyline points="3111.9,652.2 3064.2,634.9 3016.4,621.1 2968.6,608.6 2920.8,597 2873.1,585.8 2825.3,574.9 2777.5,564.1 2729.7,553.3 2681.9,541.7 2634.2,527.5 2598.3,514"/><polyline points="3116.2,648.3 3068.4,631 3020.6,617.1 2972.8,604.6 2925,592.8 2877.2,581.5 2829.5,570.5 2781.7,559.7 2733.9,548.8 2686.1,537.1 2638.3,522.8 2602.5,509.3"/><polyline points="3120.4,644.5 3072.6,627.2 3024.8,613.2 2977,600.6 2929.2,588.7 2881.4,577.3 2833.7,566.2 2785.9,555.3 2738.1,544.3 2690.3,532.6 2642.5,518.2 2606.6,504.7"/><polyline points="3124.6,640.7 3076.8,623.4 3029,609.4 2981.2,596.6 2933.5,584.6 2885.7,573.1 2837.9,561.9 2790.1,551 2742.3,539.9 2694.5,528.1 2646.7,513.7 2610.8,500.2"/><polyline points="3128.9,636.9 3081.1,619.7 3033.3,605.6 2985.5,592.7 2937.7,580.6 2889.9,569 2842.1,557.7 2794.3,546.7 2746.5,535.6 2698.7,523.7 2650.9,509.3 2615,495.7"/><polyline points="3133.2,633.2 3085.3,616 3037.5,601.9 2989.7,588.9 2941.9,576.7 2894.1,565 2846.3,553.6 2798.5,542.5 2750.7,531.4 2702.9,519.4 2655.1,504.9 2619.2,491.3"/><polyline points="3137.4,629.6 3089.6,612.4 3041.8,598.2 2994,585.1 2946.2,572.8 2898.4,561 2850.5,549.6 2802.7,538.4 2754.9,527.2 2707.1,515.1 2659.3,500.6 2623.4,487"/><polyline points="3141.7,626 3093.9,608.9 3046.1,594.6 2998.3,581.4 2950.4,569 2902.6,557.1 2854.8,545.6 2807,534.4 2759.2,523.1 2711.3,510.9 2663.5,496.3 2627.7,482.8"/><polyline points="3146,622.5 3098.2,605.4 3050.3,591 3002.5,577.8 2954.7,565.3 2906.9,553.3 2859.1,541.7 2811.2,530.4 2763.4,519.1 2715.6,506.8 2667.8,492.2 2631.9,478.6"/><polyline points="3150.3,619 3102.5,601.9 3054.6,587.5 3006.8,574.2 2959,561.6 2911.2,549.5 2863.3,537.8 2815.5,526.5 2767.7,515.1 2719.8,502.8 2672,488.1 2636.2,474.5"/><polyline points="3154.6,615.6 3106.8,598.6 3058.9,584.1 3011.1,570.6 2963.3,557.9 2915.4,545.8 2867.6,534.1 2819.8,522.7 2772,511.2 2724.1,498.8 2676.3,484.1 2640.4,470.5"/><polyline points="3158.9,612.3 3111.1,595.2 3063.2,580.7 3015.4,567.1 2967.6,554.3 2919.7,542.1 2871.9,530.3 2824.1,518.9 2776.2,507.4 2728.4,495 2680.6,480.2 2644.7,466.6"/><polyline points="3163.2,609 3115.4,591.9 3067.6,577.3 3019.7,563.7 2971.9,550.8 2924.1,538.5 2876.2,526.7 2828.4,515.2 2780.5,503.6 2732.7,491.1 2684.9,476.3 2649,462.7"/><polyline points="3167.6,605.7 3119.7,588.7 3071.9,574 3024,560.3 2976.2,547.3 2928.4,535 2880.5,523.1 2832.7,511.6 2784.9,499.9 2737,487.4 2689.2,472.5 2653.3,458.9"/><polyline points="3171.9,602.5 3124.1,585.5 3076.2,570.8 3028.4,557 2980.5,543.9 2932.7,531.5 2884.9,519.5 2837,508 2789.2,496.3 2741.3,483.7 2693.5,468.8 2657.6,455.1"/><polyline points="3176.2,599.3 3128.4,582.4 3080.6,567.6 3032.7,553.7 2984.9,540.6 2937,528 2889.2,516.1 2841.3,504.5 2793.5,492.8 2745.7,480.1 2697.8,465.1 2661.9,451.5"/><polyline points="3180.6,596.2 3132.8,579.3 3084.9,564.4 3037.1,550.5 2989.2,537.3 2941.4,524.7 2893.5,512.6 2845.7,501 2797.8,489.3 2750,476.6 2702.1,461.5 2666.3,447.8"/><polyline points="3185,593.2 3137.1,576.2 3089.3,561.3 3041.4,547.3 2993.6,534 2945.7,521.3 2897.9,509.3 2850,497.6 2802.2,485.8 2754.3,473.1 2706.5,458 2670.6,444.3"/><polyline points="3189.3,590.2 3141.5,573.2 3093.6,558.2 3045.8,544.1 2997.9,530.8 2950.1,518.1 2902.2,506 2854.4,494.3 2806.5,482.5 2758.7,469.7 2710.9,454.6 2675,440.8"/><polyline points="3193.7,587.2 3145.8,570.3 3098,555.2 3050.2,541.1 3002.3,527.6 2954.5,514.8 2906.6,502.7 2858.8,491 2810.9,479.2 2763.1,466.3 2715.2,451.2 2679.3,437.4"/><polyline points="3198.1,584.3 3150.2,567.3 3102.4,552.2 3054.5,538 3006.7,524.5 2958.8,511.7 2911,499.5 2863.1,487.8 2815.3,475.9 2767.4,463 2719.6,447.8 2683.7,434.1"/><polyline points="3202.5,581.4 3154.6,564.5 3106.8,549.3 3058.9,535 3011.1,521.5 2963.2,508.6 2915.4,496.4 2867.5,484.6 2819.7,472.7 2771.8,459.8 2724,444.6 2688.1,430.8"/><polyline points="3206.8,578.5 3159,561.6 3111.1,546.4 3063.3,532.1 3015.5,518.4 2967.6,505.5 2919.8,493.3 2871.9,481.5 2824.1,469.6 2776.2,456.7 2728.4,441.4 2692.5,427.5"/><polyline points="3211.2,575.7 3163.4,558.8 3115.5,543.6 3067.7,529.2 3019.9,515.5 2972,502.5 2924.2,490.2 2876.3,478.4 2828.5,466.5 2780.6,453.5 2732.8,438.2 2696.9,424.4"/><polyline points="3215.6,573 3167.8,556.1 3119.9,540.8 3072.1,526.3 3024.3,512.5 2976.4,499.5 2928.6,487.2 2880.7,475.4 2832.9,463.5 2785,450.5 2737.2,435.1 2701.3,421.2"/><polyline points="3220,570.2 3172.2,553.4 3124.4,538 3076.5,523.5 3028.7,509.7 2980.8,496.6 2933,484.3 2885.1,472.5 2837.3,460.5 2789.4,447.5 2741.6,432.1 2705.7,418.2"/><polyline points="3224.4,567.6 3176.6,550.7 3128.8,535.3 3080.9,520.7 3033.1,506.8 2985.2,493.7 2937.4,481.4 2889.6,469.6 2841.7,457.6 2793.9,444.6 2746,429.1 2710.1,415.2"/><polyline points="3228.9,564.9 3181,548 3133.2,532.6 3085.3,517.9 3037.5,504 2989.7,490.9 2941.8,478.5 2894,466.7 2846.1,454.8 2798.3,441.7 2750.5,426.2 2714.6,412.2"/><polyline points="3233.3,562.3 3185.4,545.4 3137.6,529.9 3089.8,515.2 3041.9,501.3 2994.1,488.1 2946.2,475.7 2898.4,463.9 2850.6,452 2802.7,438.9 2754.9,423.3 2719,409.3"/><polyline points="3237.7,559.7 3189.9,542.9 3142,527.3 3094.2,512.6 3046.4,498.5 2998.5,485.3 2950.7,473 2902.8,461.2 2855,449.2 2807.2,436.1 2759.3,420.5 2723.5,406.5"/><polyline points="3242.1,557.2 3194.3,540.3 3146.5,524.7 3098.6,509.9 3050.8,495.9 3003,482.6 2955.1,470.2 2907.3,458.5 2859.5,446.5 2811.6,433.3 2763.8,417.8 2727.9,403.7"/><polyline points="3246.6,554.7 3198.7,537.8 3150.9,522.2 3103.1,507.3 3055.2,493.2 3007.4,479.9 2959.6,467.5 2911.7,455.8 2863.9,443.8 2816.1,430.7 2768.2,415.1 2732.4,400.9"/><polyline points="3251,552.2 3203.2,535.3 3155.3,519.7 3107.5,504.8 3059.7,490.6 3011.9,477.3 2964,464.9 2916.2,453.2 2868.4,441.2 2820.5,428 2772.7,412.4 2736.8,398.2"/><polyline points="3255.4,549.8 3207.6,532.9 3159.8,517.2 3112,502.2 3064.1,488 3016.3,474.7 2968.5,462.3 2920.7,450.6 2872.8,438.6 2825,425.4 2777.2,409.8 2741.3,395.6"/><polyline points="3259.9,547.3 3212.1,530.5 3164.2,514.7 3116.4,499.7 3068.6,485.5 3020.8,472.1 2972.9,459.7 2925.1,448 2877.3,436.1 2829.5,422.9 2781.7,407.2 2745.8,393"/><polyline points="3264.3,544.9 3216.5,528.1 3168.7,512.3 3120.9,497.2 3073,483 3025.2,469.6 2977.4,457.2 2929.6,445.5 2881.8,433.6 2833.9,420.4 2786.1,404.6 2750.3,390.4"/><polyline points="3268.8,542.6 3221,525.7 3173.1,509.9 3125.3,494.8 3077.5,480.5 3029.7,467.1 2981.9,454.7 2934.1,443 2886.2,431.1 2838.4,417.9 2790.6,402.1 2754.8,387.8"/><polyline points="3273.2,540.2 3225.4,523.4 3177.6,507.5 3129.8,492.4 3082,478 3034.2,464.6 2986.3,452.2 2938.5,440.6 2890.7,428.7 2842.9,415.5 2795.1,399.7 2759.2,385.3"/><polyline points="3277.7,537.9 3229.9,521 3182.1,505.1 3134.3,490 3086.4,475.6 3038.6,462.2 2990.8,449.8 2943,438.2 2895.2,426.3 2847.4,413.1 2799.6,397.3 2763.7,382.9"/><polyline points="3282.1,535.6 3234.3,518.8 3186.5,502.8 3138.7,487.6 3090.9,473.2 3043.1,459.8 2995.3,447.4 2947.5,435.8 2899.7,423.9 2851.9,410.7 2804.1,394.9 2768.2,380.5"/><polyline points="3286.6,533.4 3238.8,516.5 3191,500.5 3143.2,485.2 3095.4,470.8 3047.6,457.4 2999.8,445 2952,433.5 2904.2,421.6 2856.4,408.4 2808.6,392.5 2772.7,378.1"/><polyline points="3291.1,531.1 3243.3,514.2 3195.5,498.2 3147.7,482.9 3099.9,468.5 3052.1,455 3004.3,442.7 2956.5,431.1 2908.7,419.3 2860.9,406.1 2813.1,390.2 2777.2,375.7"/><polyline points="3295.5,528.9 3247.7,512 3199.9,495.9 3152.1,480.6 3104.3,466.1 3056.6,452.7 3008.8,440.4 2961,428.8 2913.2,417.1 2865.4,403.9 2817.6,387.9 2781.8,373.4"/><polyline points="3300,526.7 3252.2,509.8 3204.4,493.7 3156.6,478.3 3108.8,463.8 3061,450.3 3013.3,438.1 2965.5,426.6 2917.7,414.8 2869.9,401.6 2822.1,385.7 2786.3,371.1"/><polyline points="3304.5,524.5 3256.7,507.6 3208.9,491.4 3161.1,476.1 3113.3,461.5 3065.5,448 3017.8,435.8 2970,424.3 2922.2,412.6 2874.4,399.4 2826.6,383.5 2790.8,368.8"/><polyline points="3308.9,522.3 3261.1,505.4 3213.4,489.2 3165.6,473.8 3117.8,459.3 3070,445.8 3022.2,433.5 2974.5,422.1 2926.7,410.4 2878.9,397.3 2831.1,381.2 2795.3,366.6"/><polyline points="3313.4,520.2 3265.6,503.2 3217.8,487 3170.1,471.6 3122.3,457 3074.5,443.5 3026.7,431.3 2979,419.9 2931.2,408.3 2883.4,395.1 2835.7,379.1 2799.8,364.3"/><polyline points="3317.9,518 3270.1,501 3222.3,484.8 3174.6,469.3 3126.8,454.7 3079,441.3 3031.2,429.1 2983.5,417.7 2935.7,406.1 2887.9,393 2840.2,376.9 2804.3,362.1"/><polyline points="3322.3,515.9 3274.6,498.9 3226.8,482.6 3179,467.1 3131.3,452.5 3083.5,439 3035.7,426.9 2988,415.6 2940.2,404 2892.5,390.9 2844.7,374.8 2808.9,359.9"/><polyline points="3326.8,513.7 3279,496.7 3231.3,480.5 3183.5,464.9 3135.8,450.3 3088,436.8 3040.3,424.7 2992.5,413.4 2944.7,401.9 2897,388.8 2849.2,372.7 2813.4,357.8"/><polyline points="3331.3,511.6 3283.5,494.6 3235.8,478.3 3188,462.7 3140.3,448.1 3092.5,434.6 3044.8,422.5 2997,411.3 2949.2,399.8 2901.5,386.7 2853.7,370.6 2817.9,355.6"/><polyline points="3335.8,509.5 3288,492.5 3240.3,476.1 3192.5,460.5 3144.8,445.9 3097,432.4 3049.3,420.3 3001.5,409.2 2953.8,397.7 2906,384.6 2858.3,368.5 2822.5,353.5"/><polyline points="3340.2,507.4 3292.5,490.4 3244.7,474 3197,458.3 3149.3,443.7 3101.5,430.2 3053.8,418.2 3006,407.1 2958.3,395.7 2910.5,382.6 2862.8,366.4 2827,351.4"/><polyline points="3344.7,505.3 3297,488.2 3249.2,471.8 3201.5,456.2 3153.8,441.5 3106,428 3058.3,416 3010.5,405 2962.8,393.6 2915.1,380.6 2867.3,364.3 2831.5,349.2"/><polyline points="3349.2,503.2 3301.5,486.1 3253.7,469.7 3206,454 3158.3,439.3 3110.5,425.9 3062.8,413.9 3015.1,402.9 2967.3,391.6 2919.6,378.5 2871.9,362.3 2836,347.1"/><polyline points="3353.7,501.1 3305.9,484 3258.2,467.5 3210.5,451.8 3162.8,437.1 3115,423.7 3067.3,411.7 3019.6,400.8 2971.8,389.5 2924.1,376.5 2876.4,360.3 2840.6,345"/><polyline points="3358.1,499 3310.4,481.9 3262.7,465.4 3215,449.7 3167.3,434.9 3119.5,421.5 3071.8,409.6 3024.1,398.7 2976.4,387.5 2928.6,374.5 2880.9,358.2 2845.1,342.9"/><polyline points="3362.6,496.9 3314.9,479.8 3267.2,463.2 3219.5,447.5 3171.8,432.8 3124,419.3 3076.3,407.5 3028.6,396.7 2980.9,385.5 2933.2,372.5 2885.4,356.2 2849.7,340.8"/><polyline points="3367.1,494.8 3319.4,477.7 3271.7,461.1 3224,445.3 3176.3,430.6 3128.5,417.2 3080.8,405.3 3033.1,394.6 2985.4,383.5 2937.7,370.5 2890,354.2 2854.2,338.8"/><polyline points="3371.6,492.7 3323.9,475.5 3276.2,458.9 3228.5,443.1 3180.7,428.4 3133,415 3085.3,403.2 3037.6,392.5 2989.9,381.4 2942.2,368.5 2894.5,352.1 2858.7,336.7"/><polyline points="3376.1,490.6 3328.4,473.4 3280.7,456.8 3233,441 3185.2,426.2 3137.5,412.8 3089.8,401.1 3042.1,390.4 2994.4,379.4 2946.7,366.5 2899,350.1 2863.3,334.6"/><polyline points="3380.5,488.5 3332.8,471.3 3285.1,454.6 3237.4,438.8 3189.7,424 3142,410.6 3094.4,398.9 3046.7,388.3 2999,377.4 2951.3,364.5 2903.6,348.1 2867.8,332.5"/><polyline points="3385,486.4 3337.3,469.2 3289.6,452.5 3241.9,436.6 3194.2,421.8 3146.6,408.4 3098.9,396.8 3051.2,386.3 3003.5,375.3 2955.8,362.5 2908.1,346 2872.3,330.4"/><polyline points="3389.5,484.3 3341.8,467 3294.1,450.3 3246.4,434.4 3198.7,419.6 3151.1,406.2 3103.4,394.6 3055.7,384.2 3008,373.3 2960.3,360.5 2912.6,344 2876.9,328.3"/><polyline points="3394,482.2 3346.3,464.8 3298.6,448.1 3250.9,432.1 3203.2,417.4 3155.6,404 3107.9,392.5 3060.2,382.1 3012.5,371.3 2964.8,358.4 2917.2,341.9 2881.4,326.2"/><polyline points="3398.4,480 3350.8,462.7 3303.1,445.9 3255.4,429.9 3207.7,415.1 3160.1,401.8 3112.4,390.3 3064.7,379.9 3017,369.2 2969.4,356.4 2921.7,339.9 2885.9,324"/><polyline points="3402.9,477.9 3355.2,460.5 3307.6,443.7 3259.9,427.7 3212.2,412.9 3164.6,399.6 3116.9,388.1 3069.2,377.8 3021.5,367.1 2973.9,354.4 2926.2,337.8 2890.5,321.9"/><polyline points="3407.4,475.7 3359.7,458.3 3312,441.4 3264.4,425.4 3216.7,410.6 3169.1,397.3 3121.4,385.9 3073.7,375.7 3026.1,365 2978.4,352.3 2930.7,335.7 2895,319.7"/><polyline points="3411.8,473.6 3364.2,456.1 3316.5,439.2 3268.9,423.1 3221.2,408.3 3173.5,395.1 3125.9,383.7 3078.2,373.5 3030.6,362.9 2982.9,350.2 2935.2,333.6 2899.5,317.5"/><polyline points="3416.3,471.4 3368.7,453.9 3321,436.9 3273.3,420.9 3225.7,406 3178,392.8 3130.4,381.4 3082.7,371.3 3035.1,360.8 2987.4,348.1 2939.8,331.5 2904,315.3"/><polyline points="3420.8,469.1 3373.1,451.6 3325.5,434.6 3277.8,418.5 3230.2,403.7 3182.5,390.5 3134.9,379.2 3087.2,369.1 3039.6,358.7 2991.9,346 2944.3,329.4 2908.6,313.1"/><polyline points="3425.2,466.9 3377.6,449.3 3330,432.3 3282.3,416.2 3234.7,401.4 3187,388.1 3139.4,376.9 3091.7,366.9 3044.1,356.5 2996.4,343.9 2948.8,327.2 2913.1,310.9"/><polyline points="3429.7,464.7 3382.1,447.1 3334.4,430 3286.8,413.9 3239.1,399 3191.5,385.8 3143.9,374.6 3096.2,364.7 3048.6,354.4 3001,341.7 2953.3,325 2917.6,308.6"/><polyline points="3434.2,462.4 3386.5,444.7 3338.9,427.7 3291.3,411.5 3243.6,396.6 3196,383.4 3148.4,372.3 3100.7,362.4 3053.1,352.2 3005.5,339.6 2957.8,322.8 2922.1,306.3"/><polyline points="3438.6,460.1 3391,442.4 3343.4,425.3 3295.7,409.1 3248.1,394.2 3200.5,381 3152.8,369.9 3105.2,360.2 3057.6,349.9 3010,337.4 2962.3,320.6 2926.6,304"/><polyline points="3443.1,457.8 3395.4,440 3347.8,422.9 3300.2,406.7 3252.6,391.8 3205,378.6 3157.3,367.5 3109.7,357.8 3062.1,347.7 3014.5,335.1 2966.8,318.3 2931.1,301.7"/><polyline points="3447.5,455.5 3399.9,437.7 3352.3,420.5 3304.7,404.2 3257,389.3 3209.4,376.2 3161.8,365.1 3114.2,355.5 3066.6,345.4 3019,332.9 2971.3,316 2935.6,299.3"/><polyline points="3452,453.1 3404.4,435.3 3356.7,418 3309.1,401.7 3261.5,386.8 3213.9,373.7 3166.3,362.7 3118.7,353.1 3071.1,343.1 3023.4,330.6 2975.8,313.7 2940.1,296.9"/><polyline points="3456.4,450.7 3408.8,432.8 3361.2,415.5 3313.6,399.2 3266,384.3 3218.4,371.2 3170.8,360.2 3123.2,350.7 3075.5,340.8 3027.9,328.3 2980.3,311.3 2944.6,294.5"/><polyline points="3460.9,448.3 3413.3,430.3 3365.6,413 3318,396.7 3270.4,381.7 3222.8,368.6 3175.2,357.7 3127.6,348.3 3080,338.4 3032.4,325.9 2984.8,309 2949.1,292"/><polyline points="3465.3,445.8 3417.7,427.8 3370.1,410.5 3322.5,394.1 3274.9,379.1 3227.3,366 3179.7,355.2 3132.1,345.8 3084.5,336 3036.9,323.6 2989.3,306.5 2953.6,289.5"/><polyline points="3469.7,443.4 3422.1,425.3 3374.5,407.9 3326.9,391.5 3279.4,376.5 3231.8,363.4 3184.2,352.6 3136.6,343.3 3089,333.5 3041.4,321.1 2993.8,304.1 2958.1,286.9"/><polyline points="3474.2,440.9 3426.6,422.8 3379,405.3 3331.4,388.8 3283.8,373.8 3236.2,360.8 3188.6,350 3141,340.8 3093.4,331.1 3045.8,318.7 2998.3,301.6 2962.6,284.3"/><polyline points="3478.6,438.3 3431,420.2 3383.4,402.6 3335.8,386.1 3288.2,371.1 3240.7,358.1 3193.1,347.4 3145.5,338.2 3097.9,328.5 3050.3,316.2 3002.7,299 2967,281.7"/><polyline points="3483,435.7 3435.4,417.5 3387.8,399.9 3340.3,383.4 3292.7,368.4 3245.1,355.4 3197.5,344.7 3149.9,335.6 3102.4,326 3054.8,313.6 3007.2,296.4 2971.5,279"/><polyline points="3487.4,433.1 3439.9,414.9 3392.3,397.2 3344.7,380.7 3297.1,365.6 3249.5,352.6 3202,342 3154.4,332.9 3106.8,323.4 3059.2,311.1 3011.7,293.8 2976,276.3"/><polyline points="3491.8,430.5 3444.3,412.1 3396.7,394.5 3349.1,377.9 3301.5,362.8 3254,349.8 3206.4,339.2 3158.8,330.2 3111.3,320.7 3063.7,308.4 3016.1,291.1 2980.4,273.5"/><polyline points="3496.3,427.8 3448.7,409.4 3401.1,391.7 3353.5,375 3306,360 3258.4,346.9 3210.8,336.4 3163.3,327.5 3115.7,318 3068.1,305.8 3020.6,288.4 2984.9,270.7"/><polyline points="3500.7,425.1 3453.1,406.6 3405.5,388.8 3358,372.1 3310.4,357.1 3262.8,344 3215.3,333.5 3167.7,324.7 3120.1,315.3 3072.6,303 3025,285.6 2989.3,267.8"/><polyline points="3505.1,422.3 3457.5,403.8 3409.9,385.9 3362.4,369.2 3314.8,354.1 3267.2,341.1 3219.7,330.6 3172.1,321.9 3124.6,312.5 3077,300.3 3029.4,282.8 2993.8,264.9"/><polyline points="3509.5,419.5 3461.9,400.9 3414.3,383 3366.8,366.2 3319.2,351.1 3271.7,338.1 3224.1,327.7 3176.5,319 3129,309.7 3081.4,297.5 3033.9,280 2998.2,261.9"/><polyline points="3513.8,416.7 3466.3,398 3418.7,380 3371.2,363.2 3323.6,348.1 3276.1,335.1 3228.5,324.7 3180.9,316 3133.4,306.8 3085.8,294.6 3038.3,277 3002.6,258.9"/><polyline points="3518.2,413.8 3470.7,395.1 3423.1,377 3375.6,360.2 3328,345 3280.5,332 3232.9,321.7 3185.4,313.1 3137.8,303.9 3090.2,291.7 3042.7,274.1 3007,255.8"/><polyline points="3522.6,410.9 3475.1,392.1 3427.5,374 3379.9,357 3332.4,341.8 3284.8,328.9 3237.3,318.6 3189.7,310 3142.2,300.9 3094.6,288.7 3047.1,271 3011.4,252.7"/><polyline points="3527,407.9 3479.4,389 3431.9,370.8 3384.3,353.9 3336.8,338.7 3289.2,325.7 3241.7,315.4 3194.1,306.9 3146.6,297.9 3099,285.7 3051.5,268 3015.8,249.5"/><polyline points="3531.3,404.9 3483.8,385.9 3436.2,367.7 3388.7,350.7 3341.2,335.4 3293.6,322.4 3246.1,312.2 3198.5,303.8 3151,294.8 3103.4,282.6 3055.9,264.8 3020.2,246.3"/><polyline points="3535.7,401.8 3488.2,382.8 3440.6,364.5 3393.1,347.4 3345.5,332.1 3298,319.2 3250.4,309 3202.9,300.6 3155.3,291.6 3107.8,279.5 3060.3,261.6 3024.6,242.9"/><polyline points="3540,398.7 3492.5,379.6 3445,361.2 3397.4,344.1 3349.9,328.8 3302.3,315.8 3254.8,305.6 3207.3,297.3 3159.7,288.4 3112.2,276.3 3064.6,258.4 3029,239.6"/><polyline points="3544.4,395.5 3496.8,376.4 3449.3,357.9 3401.8,340.7 3354.2,325.4 3306.7,312.4 3259.2,302.3 3211.6,294 3164.1,285.2 3116.5,273 3069,255 3033.3,236.1"/><polyline points="3548.7,392.3 3501.2,373.1 3453.7,354.5 3406.1,337.3 3358.6,321.9 3311,309 3263.5,298.9 3216,290.7 3168.4,281.8 3120.9,269.7 3073.3,251.7 3037.7,232.6"/><polyline points="3553.1,389.1 3505.5,369.7 3458,351.1 3410.4,333.9 3362.9,318.4 3315.4,305.4 3267.8,295.4 3220.3,287.2 3172.8,278.5 3125.2,266.3 3077.7,248.2 3042,229.1"/><polyline points="3557.4,385.8 3509.8,366.3 3462.3,347.7 3414.8,330.3 3367.2,314.9 3319.7,301.9 3272.2,291.8 3224.6,283.8 3177.1,275 3129.6,262.9 3082,244.7 3046.4,225.5"/><polyline points="3561.7,382.4 3514.2,362.9 3466.6,344.1 3419.1,326.7 3371.6,311.3 3324,298.2 3276.5,288.2 3228.9,280.2 3181.4,271.5 3133.9,259.4 3086.3,241.2 3050.7,221.8"/><polyline points="3566,379 3518.5,359.4 3470.9,340.6 3423.4,323.1 3375.9,307.6 3328.3,294.6 3280.8,284.6 3233.3,276.6 3185.7,268 3138.2,255.9 3090.7,237.5 3055,218"/></g></mask>
<clipPath id="cL"><path d="M437,857L448.8,842.9L460.6,827.5L472.3,811.1L484.1,793.9L495.9,776.2L507.7,758.2L519.5,740.1L531.2,722.2L543,704.5L554.8,687.2L566.6,670.5L578.4,654.2L590.1,638.5L601.9,623.2L613.7,608.3L625.5,593.9L637.3,579.8L649,566.1L660.8,552.8L672.6,539.7L684.4,527L696.2,514.6L707.9,502.5L719.7,490.6L731.5,478.9L743.3,467.4L755.1,456.1L766.8,445.1L778.6,434.2L790.4,423.6L802.2,413.2L813.9,403L825.7,393.1L837.5,383.4L849.3,373.9L861.1,364.7L872.8,355.7L884.6,347L896.4,338.5L908.2,330.3L920,322.4L931.7,314.7L943.5,307.2L955.3,300.1L967.1,293.2L978.9,286.6L990.6,280.3L1002.4,274.3L1014.2,268.5L1026,263.1L1037.8,258L1049.5,253.1L1061.3,248.6L1073.1,244.4L1084.9,240.4L1096.7,236.9L1108.4,233.6L1120.2,230.6L1132,228L1132,228L1145.1,225L1158.3,222.2L1171.4,219.6L1184.5,217.2L1197.6,215L1210.8,213.1L1223.9,211.5L1237,210.1L1250.2,209L1263.3,208.1L1276.4,207.5L1289.5,207.3L1302.7,207.3L1315.8,207.6L1328.9,208.3L1342.1,209.3L1355.2,210.6L1368.3,212.3L1381.4,214.3L1394.6,216.7L1407.7,219.5L1420.8,222.7L1433.9,226.2L1447.1,230.1L1460.2,234.5L1473.3,239.2L1486.5,244.4L1499.6,250L1512.7,256.1L1525.8,262.6L1539,269.6L1552.1,277L1565.2,285L1578.4,293.4L1591.5,302.3L1604.6,311.7L1617.7,321.6L1630.9,332L1644,343L1644,343L1632.3,344.9L1620.5,347L1608.8,349.2L1597.1,351.6L1585.4,354.2L1573.6,357L1561.9,360L1550.2,363.2L1538.4,366.6L1526.7,370.2L1515,374.1L1503.3,378.2L1491.5,382.6L1479.8,387.2L1468.1,392.1L1456.3,397.3L1444.6,402.8L1432.9,408.5L1421.2,414.6L1409.4,421L1397.7,427.7L1386,434.7L1374.2,442L1362.5,449.8L1350.8,457.8L1339.1,466.3L1327.3,475.1L1315.6,484.3L1303.9,493.8L1292.1,503.8L1280.4,514.2L1268.7,525L1256.9,536.2L1245.2,547.9L1233.5,560L1221.8,572.6L1210,585.8L1198.3,599.5L1186.6,613.8L1174.8,628.8L1163.1,644.5L1151.4,660.9L1139.7,678L1127.9,695.7L1116.2,714L1104.5,733L1092.7,752.5L1081,772.5L1069.3,793L1057.6,814L1045.8,835.4L1034.1,857.2L1022.4,879.3L1010.6,901.6L998.9,924.1L987.2,946.8L975.5,969.5L963.7,992.3L952,1015L952,1015L938.8,1014L925.6,1012.7L912.4,1011L899.2,1009L886,1006.7L872.8,1004.1L859.6,1001.2L846.4,998L833.2,994.6L819.9,991L806.7,987.1L793.5,983.1L780.3,978.8L767.1,974.4L753.9,969.9L740.7,965.2L727.5,960.4L714.3,955.5L701.1,950.5L687.9,945.5L674.7,940.3L661.5,935.2L648.3,930L635.1,924.8L621.9,919.6L608.7,914.5L595.5,909.4L582.3,904.3L569.1,899.3L555.8,894.4L542.6,889.6L529.4,885L516.2,880.4L503,876.1L489.8,871.8L476.6,867.8L463.4,864L450.2,860.4L437,857Z"/></clipPath>
<clipPath id="cR"><path d="M2358,860L2369.8,850.3L2381.6,837.3L2393.4,821.7L2405.3,804.2L2417.1,785.4L2428.9,766.1L2440.7,746.7L2452.5,727.4L2464.3,708.1L2476.1,688.9L2487.9,669.9L2499.8,651.1L2511.6,632.6L2523.4,614.5L2535.2,596.9L2547,579.9L2558.8,563.4L2570.6,547.7L2582.5,532.8L2594.3,518.7L2606.1,505.3L2617.9,492.7L2629.7,480.8L2641.5,469.5L2653.3,458.8L2665.2,448.8L2677,439.2L2688.8,430.3L2700.6,421.7L2712.4,413.7L2724.2,406L2736,398.7L2747.8,391.8L2759.7,385.1L2771.5,378.7L2783.3,372.6L2795.1,366.7L2806.9,360.9L2818.7,355.2L2830.5,349.7L2842.4,344.2L2854.2,338.8L2866,333.3L2877.8,327.8L2889.6,322.3L2901.4,316.6L2913.2,310.8L2925.1,304.8L2936.9,298.7L2948.7,292.2L2960.5,285.5L2972.3,278.5L2984.1,271.2L2995.9,263.5L3007.7,255.3L3019.6,246.7L3031.4,237.7L3043.2,228.1L3055,218L3055,218L3068.1,225.8L3081.2,232.9L3094.3,239.2L3107.4,244.9L3120.5,249.9L3133.6,254.4L3146.7,258.4L3159.8,262L3172.9,265.2L3186,268L3199.1,270.6L3212.2,273L3225.3,275.3L3238.4,277.5L3251.5,279.6L3264.6,281.8L3277.7,284L3290.8,286.4L3303.9,289L3317.1,291.9L3330.2,295L3343.3,298.3L3356.4,301.9L3369.5,305.7L3382.6,309.6L3395.7,313.8L3408.8,318.1L3421.9,322.6L3435,327.2L3448.1,332L3461.2,336.9L3474.3,341.9L3487.4,347L3500.5,352.1L3513.6,357.4L3526.7,362.7L3539.8,368.1L3552.9,373.6L3566,379L3566,379L3554.3,388.1L3542.6,396.9L3530.9,405.2L3519.2,413.2L3507.4,420.8L3495.7,428.1L3484,435.1L3472.3,441.9L3460.6,448.4L3448.9,454.7L3437.2,460.9L3425.5,466.8L3413.7,472.6L3402,478.3L3390.3,483.9L3378.6,489.4L3366.9,494.9L3355.2,500.4L3343.5,505.9L3331.8,511.4L3320.1,517L3308.3,522.6L3296.6,528.3L3284.9,534.2L3273.2,540.3L3261.5,546.5L3249.8,552.9L3238.1,559.5L3226.4,566.4L3214.6,573.6L3202.9,581.1L3191.2,588.9L3179.5,597L3167.8,605.5L3156.1,614.5L3144.4,623.8L3132.7,633.7L3120.9,644L3109.2,654.8L3097.5,666.2L3085.8,678.1L3074.1,690.7L3062.4,703.8L3050.7,717.7L3039,732.2L3027.3,747.4L3015.5,763.3L3003.8,779.9L2992.1,797.1L2980.4,814.8L2968.7,833.1L2957,851.9L2945.3,871.2L2933.6,890.8L2921.8,910.9L2910.1,931.2L2898.4,951.9L2886.7,972.9L2875,994L2875,994L2861.7,982.2L2848.5,972.8L2835.2,965.5L2822,959.8L2808.7,955.3L2795.5,951.5L2782.2,948.2L2768.9,945.3L2755.7,942.7L2742.4,940.5L2729.2,938.5L2715.9,936.8L2702.7,935.1L2689.4,933.6L2676.2,932.2L2662.9,930.8L2649.6,929.3L2636.4,927.7L2623.1,926.1L2609.9,924.4L2596.6,922.6L2583.4,920.8L2570.1,919L2556.8,917.2L2543.6,915.4L2530.3,913.6L2517.1,911.8L2503.8,910L2490.6,908.3L2477.3,906.6L2464.1,904.5L2450.8,902.1L2437.5,899.1L2424.3,895.4L2411,890.8L2397.8,885.1L2384.5,878.2L2371.3,869.9L2358,860Z"/></clipPath>
<filter id="dk" filterUnits="userSpaceOnUse" x="0" y="0" width="3780" height="1462" color-interpolation-filters="sRGB"><feComponentTransfer><feFuncR type="gamma" exponent="2.6" amplitude="0.8"/><feFuncG type="gamma" exponent="2.4" amplitude="0.8"/><feFuncB type="gamma" exponent="2.2" amplitude="0.92"/></feComponentTransfer></filter>
<filter id="bl" x="-20%" y="-20%" width="140%" height="140%"><feGaussianBlur stdDeviation="7"/></filter>
<filter id="bl0" x="-50%" y="-50%" width="200%" height="200%"><feGaussianBlur stdDeviation="2.5"/></filter>
<filter id="bl3" x="-50%" y="-80%" width="200%" height="260%"><feGaussianBlur stdDeviation="22"/></filter>
<filter id="bl2" x="-50%" y="-50%" width="200%" height="200%"><feGaussianBlur stdDeviation="30"/></filter>
<linearGradient id="rgL" gradientUnits="userSpaceOnUse" x1="560" y1="0" x2="1600" y2="0"><stop offset="0" stop-color="#0c1410" stop-opacity="0"/><stop offset="0.15" stop-color="#0c1410" stop-opacity="0.92"/><stop offset="0.8" stop-color="#0c1410" stop-opacity="0.92"/><stop offset="1" stop-color="#0c1410" stop-opacity="0.2"/></linearGradient>
<linearGradient id="dgL" gradientUnits="userSpaceOnUse" x1="0" y1="380" x2="0" y2="900"><stop offset="0" stop-color="#02102a" stop-opacity="0.3"/><stop offset="0.55" stop-color="#02102a" stop-opacity="0.3"/><stop offset="1" stop-color="#02102a" stop-opacity="0.04"/></linearGradient>
</defs>
<g stroke="#dee1de" stroke-width="2.3" fill="none"><path d="M953,1176L1725,949"/><path d="M854.2,1126.3L1626.2,899.3"/><path d="M755.3,1076.7L1527.3,849.7"/><path d="M656.5,1027L1428.5,800"/><path d="M557.7,977.3L1329.7,750.3"/><path d="M458.8,927.7L1230.8,700.7"/><path d="M360,878L1132,651"/><path d="M953,1176L360,878"/><path d="M1030.2,1153.3L437.2,855.3"/><path d="M1107.4,1130.6L514.4,832.6"/><path d="M1184.6,1107.9L591.6,809.9"/><path d="M1261.8,1085.2L668.8,787.2"/><path d="M1339,1062.5L746,764.5"/><path d="M1416.2,1039.8L823.2,741.8"/><path d="M1493.4,1017.1L900.4,719.1"/><path d="M1570.6,994.4L977.6,696.4"/><path d="M1647.8,971.7L1054.8,673.7"/><path d="M1725,949L1132,651"/><path d="M360,878L360,236"/><path d="M437.2,855.3L437.2,213.3"/><path d="M514.4,832.6L514.4,190.6"/><path d="M591.6,809.9L591.6,167.9"/><path d="M668.8,787.2L668.8,145.2"/><path d="M746,764.5L746,122.5"/><path d="M823.2,741.8L823.2,99.8"/><path d="M900.4,719.1L900.4,77.1"/><path d="M977.6,696.4L977.6,54.4"/><path d="M1054.8,673.7L1054.8,31.7"/><path d="M1132,651L1132,9"/><path d="M360,878L1132,651"/><path d="M360,806.7L1132,579.7"/><path d="M360,735.3L1132,508.3"/><path d="M360,664L1132,437"/><path d="M360,592.7L1132,365.7"/><path d="M360,521.3L1132,294.3"/><path d="M360,450L1132,223"/><path d="M360,378.7L1132,151.7"/><path d="M360,307.3L1132,80.3"/><path d="M360,236L1132,9"/><path d="M1230.8,700.7L1230.8,58.7"/><path d="M1329.7,750.3L1329.7,108.3"/><path d="M1428.5,800L1428.5,158"/><path d="M1527.3,849.7L1527.3,207.7"/><path d="M1626.2,899.3L1626.2,257.3"/><path d="M1725,949L1725,307"/><path d="M1132,651L1725,949"/><path d="M1132,579.7L1725,877.7"/><path d="M1132,508.3L1725,806.3"/><path d="M1132,437L1725,735"/><path d="M1132,365.7L1725,663.7"/><path d="M1132,294.3L1725,592.3"/><path d="M1132,223L1725,521"/><path d="M1132,151.7L1725,449.7"/><path d="M1132,80.3L1725,378.3"/><path d="M1132,9L1725,307"/></g>
<g stroke="#dee1de" stroke-width="2.3" fill="none"><path d="M2876,1180L3649,950"/><path d="M2777,1130.3L3550,900.3"/><path d="M2678,1080.7L3451,850.7"/><path d="M2579,1031L3352,801"/><path d="M2480,981.3L3253,751.3"/><path d="M2381,931.7L3154,701.7"/><path d="M2282,882L3055,652"/><path d="M2876,1180L2282,882"/><path d="M2953.3,1157L2359.3,859"/><path d="M3030.6,1134L2436.6,836"/><path d="M3107.9,1111L2513.9,813"/><path d="M3185.2,1088L2591.2,790"/><path d="M3262.5,1065L2668.5,767"/><path d="M3339.8,1042L2745.8,744"/><path d="M3417.1,1019L2823.1,721"/><path d="M3494.4,996L2900.4,698"/><path d="M3571.7,973L2977.7,675"/><path d="M3649,950L3055,652"/><path d="M2282,882L2282,234.5"/><path d="M2359.3,859L2359.3,211.5"/><path d="M2436.6,836L2436.6,188.5"/><path d="M2513.9,813L2513.9,165.5"/><path d="M2591.2,790L2591.2,142.5"/><path d="M2668.5,767L2668.5,119.5"/><path d="M2745.8,744L2745.8,96.5"/><path d="M2823.1,721L2823.1,73.5"/><path d="M2900.4,698L2900.4,50.5"/><path d="M2977.7,675L2977.7,27.5"/><path d="M3055,652L3055,4.5"/><path d="M2282,882L3055,652"/><path d="M2282,774.1L3055,544.1"/><path d="M2282,666.2L3055,436.2"/><path d="M2282,558.2L3055,328.2"/><path d="M2282,450.3L3055,220.3"/><path d="M2282,342.4L3055,112.4"/><path d="M2282,234.5L3055,4.5"/><path d="M3154,701.7L3154,54.2"/><path d="M3253,751.3L3253,103.8"/><path d="M3352,801L3352,153.5"/><path d="M3451,850.7L3451,203.2"/><path d="M3550,900.3L3550,252.8"/><path d="M3649,950L3649,302.5"/><path d="M3055,652L3649,950"/><path d="M3055,544.1L3649,842.1"/><path d="M3055,436.2L3649,734.2"/><path d="M3055,328.2L3649,626.2"/><path d="M3055,220.3L3649,518.3"/><path d="M3055,112.4L3649,410.4"/><path d="M3055,4.5L3649,302.5"/></g>
<g clip-path="url(#cL)">
<use href="#qL"/>
<g mask="url(#mL)"><use href="#lL"/></g>
<ellipse cx="1080" cy="428" rx="175" ry="68" transform="rotate(-20 1080 428)" fill="#ffa080" opacity="0.72" filter="url(#bl2)"/><ellipse cx="1225" cy="498" rx="75" ry="36" transform="rotate(-40 1225 498)" fill="#ffa080" opacity="0.6" filter="url(#bl2)"/><ellipse cx="1132" cy="372" rx="30" ry="11" transform="rotate(70 1132 372)" fill="#6a8a28" opacity="0.5" filter="url(#bl)"/><path d="M760,470 Q715,600 689,690 T655,915" fill="none" stroke="#d0fff6" stroke-opacity="0.22" stroke-width="16" filter="url(#bl)"/><path d="M652,935 L668,800 L689,690 L715,600 L760,470 L835,375 L700,360 L300,900 Z" fill="url(#dgL)" filter="url(#bl)"/><circle cx="1526" cy="279" r="9" fill="#3c4a10" opacity="0.45" filter="url(#bl0)"/><circle cx="807" cy="446" r="9" fill="#0c3030" opacity="0.5" filter="url(#bl0)"/><path d="M542.6,705.1L551.4,692.2L560.2,679.5L569,667.2L577.8,655.1L586.6,643.2L595.4,631.6L604.2,620.3L612.9,609.2L621.7,598.4L630.5,587.8L639.3,577.3L648.1,567.1L656.9,557.1L665.7,547.3L674.5,537.6L683.3,528.2L692.1,518.8L700.9,509.7L709.7,500.6L718.5,491.8L727.3,483L736.1,474.3L744.9,465.8L753.7,457.4L762.5,449.1L771.3,440.9L780.1,432.9L788.9,424.9L797.7,417.1L806.5,409.5L815.3,401.9L824.1,394.5L832.9,387.2L841.7,380L850.5,373L859.3,366.1L868.1,359.3L876.9,352.7L885.7,346.2L894.5,339.9L903.3,333.7L912.1,327.7L920.9,321.8L929.7,316L938.5,310.4L947.3,305L956.1,299.6L964.8,294.5L973.6,289.5L982.4,284.7L991.2,280L1000,275.5L1008.8,271.1L1017.6,266.9L1026.4,262.9L1035.2,259L1044,255.4L1052.8,251.8L1061.6,248.5L1070.4,245.3L1079.2,242.3L1088,239.5L1096.8,236.8L1105.6,234.3L1114.4,232L1123.2,229.9L1132,228L1132,228L1145.1,225L1158.3,222.2L1171.4,219.6L1184.5,217.2L1197.6,215L1210.8,213.1L1223.9,211.5L1237,210.1L1250.2,209L1263.3,208.1L1276.4,207.5L1289.5,207.3L1302.7,207.3L1315.8,207.6L1328.9,208.3L1342.1,209.3L1355.2,210.6L1368.3,212.3L1381.4,214.3L1394.6,216.7L1407.7,219.5L1420.8,222.7L1433.9,226.2L1447.1,230.1L1460.2,234.5L1473.3,239.2L1486.5,244.4L1499.6,250L1512.7,256.1L1525.8,262.6L1539,269.6L1552.1,277L1565.2,285L1578.4,293.4L1591.5,302.3L1604.6,311.7L1617.7,321.6" fill="none" stroke="#3c2c08" stroke-opacity="0.32" stroke-width="110" filter="url(#bl2)"/><path d="M542.6,705.1L551.4,692.2L560.2,679.5L569,667.2L577.8,655.1L586.6,643.2L595.4,631.6L604.2,620.3L612.9,609.2L621.7,598.4L630.5,587.8L639.3,577.3L648.1,567.1L656.9,557.1L665.7,547.3L674.5,537.6L683.3,528.2L692.1,518.8L700.9,509.7L709.7,500.6L718.5,491.8L727.3,483L736.1,474.3L744.9,465.8L753.7,457.4L762.5,449.1L771.3,440.9L780.1,432.9L788.9,424.9L797.7,417.1L806.5,409.5L815.3,401.9L824.1,394.5L832.9,387.2L841.7,380L850.5,373L859.3,366.1L868.1,359.3L876.9,352.7L885.7,346.2L894.5,339.9L903.3,333.7L912.1,327.7L920.9,321.8L929.7,316L938.5,310.4L947.3,305L956.1,299.6L964.8,294.5L973.6,289.5L982.4,284.7L991.2,280L1000,275.5L1008.8,271.1L1017.6,266.9L1026.4,262.9L1035.2,259L1044,255.4L1052.8,251.8L1061.6,248.5L1070.4,245.3L1079.2,242.3L1088,239.5L1096.8,236.8L1105.6,234.3L1114.4,232L1123.2,229.9L1132,228L1132,228L1145.1,225L1158.3,222.2L1171.4,219.6L1184.5,217.2L1197.6,215L1210.8,213.1L1223.9,211.5L1237,210.1L1250.2,209L1263.3,208.1L1276.4,207.5L1289.5,207.3L1302.7,207.3L1315.8,207.6L1328.9,208.3L1342.1,209.3L1355.2,210.6L1368.3,212.3L1381.4,214.3L1394.6,216.7L1407.7,219.5L1420.8,222.7L1433.9,226.2L1447.1,230.1L1460.2,234.5L1473.3,239.2L1486.5,244.4L1499.6,250L1512.7,256.1L1525.8,262.6L1539,269.6L1552.1,277L1565.2,285L1578.4,293.4L1591.5,302.3L1604.6,311.7L1617.7,321.6" fill="none" stroke="url(#rgL)" stroke-width="28" filter="url(#bl)"/>
</g>
<g clip-path="url(#cR)">
<use href="#qR"/>
<g mask="url(#mR)"><use href="#lR"/></g>
<ellipse cx="3015" cy="432" rx="235" ry="40" transform="rotate(-21 3015 432)" fill="#342404" opacity="0.78" filter="url(#bl3)"/><ellipse cx="3185" cy="388" rx="105" ry="55" fill="#5a3810" opacity="0.42" filter="url(#bl2)"/><ellipse cx="3140" cy="545" rx="170" ry="65" transform="rotate(-30 3140 545)" fill="#ffa880" opacity="0.6" filter="url(#bl2)"/><ellipse cx="3200" cy="295" rx="120" ry="36" transform="rotate(8 3200 295)" fill="#f0a070" opacity="0.5" filter="url(#bl2)"/><path d="M3159.8,262L3172.9,265.2L3186,268L3199.1,270.6L3212.2,273L3225.3,275.3L3238.4,277.5L3251.5,279.6L3264.6,281.8L3277.7,284L3290.8,286.4L3303.9,289L3317.1,291.9L3330.2,295L3343.3,298.3L3356.4,301.9L3369.5,305.7L3382.6,309.6L3395.7,313.8L3408.8,318.1L3421.9,322.6L3435,327.2L3448.1,332L3461.2,336.9L3474.3,341.9L3487.4,347L3500.5,352.1L3513.6,357.4L3526.7,362.7L3539.8,368.1L3552.9,373.6L3566,379" fill="none" stroke="#0c1410" stroke-opacity="0.7" stroke-width="12" filter="url(#bl)"/><ellipse cx="3085" cy="262" rx="110" ry="38" transform="rotate(24 3085 262)" fill="#f0a070" opacity="0.42" filter="url(#bl2)"/><circle cx="2669" cy="470" r="8" fill="#104a28" opacity="0.55" filter="url(#bl0)"/><circle cx="3258" cy="305" r="8" fill="#3c4a10" opacity="0.5" filter="url(#bl0)"/>
</g>
<g stroke="#111" stroke-width="5" fill="none" stroke-linecap="square" stroke-linejoin="miter"><path d="M360,236L360,878L953,1176L1725,949"/></g><g stroke="#111" stroke-width="4.5" fill="none" stroke-linecap="butt"><path d="M360,236L378.2,230.6"/><path d="M360,378.7L378.2,373.3"/><path d="M360,521.3L378.2,516"/><path d="M360,664L378.2,658.6"/><path d="M360,806.7L378.2,801.3"/><path d="M360,878L380.1,872.1"/><path d="M854.2,1126.3L874.3,1120.4"/><path d="M755.3,1076.7L775.5,1070.7"/><path d="M656.5,1027L676.6,1021.1"/><path d="M557.7,977.3L577.8,971.4"/><path d="M458.8,927.7L479,921.7"/><path d="M1030.2,1153.3L1008.8,1142.5"/><path d="M1107.4,1130.6L1086,1119.8"/><path d="M1184.6,1107.9L1163.2,1097.1"/><path d="M1261.8,1085.2L1240.4,1074.4"/><path d="M1339,1062.5L1317.6,1051.7"/><path d="M1416.2,1039.8L1394.8,1029"/><path d="M1493.4,1017.1L1472,1006.3"/><path d="M1570.6,994.4L1549.2,983.6"/><path d="M1647.8,971.7L1626.4,960.9"/><path d="M1725,949L1703.6,938.2"/></g>
<g stroke="#111" stroke-width="5" fill="none" stroke-linecap="square" stroke-linejoin="miter"><path d="M2282,234.5L2282,882L2876,1180L3649,950"/></g><g stroke="#111" stroke-width="4.5" fill="none" stroke-linecap="butt"><path d="M2282,234.5L2300.2,229.1"/><path d="M2282,342.4L2300.2,337"/><path d="M2282,450.3L2300.2,444.9"/><path d="M2282,558.2L2300.2,552.8"/><path d="M2282,666.2L2300.2,660.7"/><path d="M2282,774.1L2300.2,768.7"/><path d="M2282,882L2302.1,876"/><path d="M2777,1130.3L2797.1,1124.3"/><path d="M2678,1080.7L2698.1,1074.7"/><path d="M2579,1031L2599.1,1025"/><path d="M2480,981.3L2500.1,975.3"/><path d="M2381,931.7L2401.1,925.7"/><path d="M2953.3,1157L2931.8,1146.2"/><path d="M3030.6,1134L3009.1,1123.2"/><path d="M3107.9,1111L3086.4,1100.2"/><path d="M3185.2,1088L3163.7,1077.2"/><path d="M3262.5,1065L3241,1054.2"/><path d="M3339.8,1042L3318.3,1031.2"/><path d="M3417.1,1019L3395.6,1008.2"/><path d="M3494.4,996L3472.9,985.2"/><path d="M3571.7,973L3550.2,962.2"/><path d="M3649,950L3627.5,939.2"/></g>
<text x="335" y="255" text-anchor="end">0.45</text>
<text x="335" y="397.7" text-anchor="end">0.35</text>
<text x="335" y="540.3" text-anchor="end">0.25</text>
<text x="335" y="683" text-anchor="end">0.15</text>
<text x="335" y="825.7" text-anchor="end">0.05</text>
<text x="2254" y="253.5" text-anchor="end">0.30</text>
<text x="2254" y="361.4" text-anchor="end">0.25</text>
<text x="2254" y="469.3" text-anchor="end">0.20</text>
<text x="2254" y="577.2" text-anchor="end">0.15</text>
<text x="2254" y="685.2" text-anchor="end">0.10</text>
<text x="2254" y="793.1" text-anchor="end">0.05</text>
<text x="2258" y="883" text-anchor="end">0</text>
<text x="287.5" y="928.5" text-anchor="middle">0.30</text>
<text x="372" y="983" text-anchor="middle">0.25</text>
<text x="477.5" y="1036" text-anchor="middle">0.20</text>
<text x="574.5" y="1090" text-anchor="middle">0.15</text>
<text x="675" y="1139" text-anchor="middle">0.10</text>
<text x="776.5" y="1188" text-anchor="middle">0.05</text>
<text x="956" y="1237.5" text-anchor="middle">0</text>
<text x="2189" y="933" text-anchor="middle">0.30</text>
<text x="2305.4" y="983" text-anchor="middle">0.25</text>
<text x="2405.8" y="1035.7" text-anchor="middle">0.20</text>
<text x="2502.5" y="1088" text-anchor="middle">0.15</text>
<text x="2603" y="1138.6" text-anchor="middle">0.10</text>
<text x="2704.4" y="1186" text-anchor="middle">0.05</text>
<text x="2877.7" y="1257.6" text-anchor="middle">0</text>
<text x="1095" y="1214" text-anchor="middle" transform="rotate(-3 1095 1192)">10</text>
<text x="1172.5" y="1190.7" text-anchor="middle" transform="rotate(-8 1172.5 1168.7)">20</text>
<text x="1240" y="1167" text-anchor="middle" transform="rotate(-9 1240 1145)">30</text>
<text x="1320.5" y="1143.5" text-anchor="middle" transform="rotate(-8 1320.5 1121.5)">40</text>
<text x="1401" y="1120" text-anchor="middle" transform="rotate(-8 1401 1098)">50</text>
<text x="1481" y="1096" text-anchor="middle" transform="rotate(-8 1481 1074)">60</text>
<text x="1560" y="1073" text-anchor="middle" transform="rotate(-9 1560 1051)">70</text>
<text x="1640" y="1050" text-anchor="middle" transform="rotate(-8 1640 1028)">80</text>
<text x="1720" y="1028" text-anchor="middle" transform="rotate(-8 1720 1006)">90</text>
<text x="1803" y="1002" text-anchor="middle" transform="rotate(-3 1803 980)">100</text>
<text x="3018.5" y="1222" text-anchor="middle" transform="rotate(-3 3018.5 1200)">10</text>
<text x="3095" y="1199.5" text-anchor="middle" transform="rotate(-8 3095 1177.5)">20</text>
<text x="3164" y="1176" text-anchor="middle" transform="rotate(-9 3164 1154)">30</text>
<text x="3243" y="1150" text-anchor="middle" transform="rotate(-8 3243 1128)">40</text>
<text x="3324" y="1126" text-anchor="middle" transform="rotate(-8 3324 1104)">50</text>
<text x="3404" y="1102" text-anchor="middle" transform="rotate(-8 3404 1080)">60</text>
<text x="3483" y="1079" text-anchor="middle" transform="rotate(-9 3483 1057)">70</text>
<text x="3563" y="1056" text-anchor="middle" transform="rotate(-8 3563 1034)">80</text>
<text x="3643" y="1034" text-anchor="middle" transform="rotate(-8 3643 1012)">90</text>
<text x="3726" y="1011" text-anchor="middle" transform="rotate(-3 3726 989)">100</text>
<text x="1526" y="1197" text-anchor="middle" transform="rotate(-18.4 1526 1197)" font-size="66">Weight of TNT/kg</text>
<text x="480" y="1177" text-anchor="middle" transform="rotate(26 480 1177)" font-size="66">Scaled distance/</text>
<text x="446" y="1246" text-anchor="middle" transform="rotate(26 446 1246)">(m·kg<tspan font-size="37" dy="-22">−1/3</tspan><tspan dy="22">)</tspan></text>
<text x="3434" y="1201" text-anchor="middle" transform="rotate(-18.4 3434 1201)" font-size="66">Weight of TNT/kg</text>
<text x="2407" y="1172" text-anchor="middle" transform="rotate(26 2407 1172)" font-size="66">Scaled distance/</text>
<text x="2372" y="1247" text-anchor="middle" transform="rotate(26 2372 1247)">(m·kg<tspan font-size="37" dy="-22">−1/3</tspan><tspan dy="22">)</tspan></text>
<text x="59" y="527" text-anchor="middle" transform="rotate(-90 59 527)" font-size="66">Rupture width/transverse dimension</text>
<text x="138" y="527" text-anchor="middle" transform="rotate(-90 138 527)" font-size="66">of bridge deck</text>
<text x="2000" y="527" text-anchor="middle" transform="rotate(-90 2000 527)" font-size="66">Rupture width/transverse dimension</text>
<text x="2079" y="527" text-anchor="middle" transform="rotate(-90 2079 527)" font-size="66">of bridge deck</text>
<text x="927.8" y="1441" text-anchor="middle" font-size="66.6">(a) Fitted surface with explosion centre at L1-2</text>
<text x="2858.5" y="1441" text-anchor="middle" font-size="66.6">(b) Fitted surface with explosion centre at L2-2</text>
<text x="1519.5" y="465" text-anchor="middle">Gaussian</text>
<text x="1518" y="545" text-anchor="middle">surface</text>
<text x="1253" y="787" text-anchor="middle">Cubic</text>
<text x="1254" y="868.5" text-anchor="middle">surface</text>
<text x="3448" y="579" text-anchor="middle">Gaussian</text>
<text x="3448" y="658" text-anchor="middle">surface</text>
<text x="3141" y="823.4" text-anchor="middle">Cubic</text>
<text x="3142" y="901" text-anchor="middle">surface</text>
<g fill="none" stroke="#ee2a2e" stroke-width="8" stroke-linecap="round">
<ellipse cx="1298" cy="294" rx="101" ry="59" transform="rotate(12 1298 294)"/>
<path d="M1395,306 Q1452,306 1491.5,378"/>
<path d="M1012.5,719 Q1090,722 1135,777"/>
<ellipse cx="3190" cy="392.5" rx="100" ry="60" transform="rotate(12 3190 392.5)"/>
<path d="M3287.5,406.5 Q3345,410 3383,478"/>
<path d="M2965,711.5 Q3040,722 3085.5,768"/>
</g>
<g fill="#1560bd">
<circle cx="1329" cy="145.5" r="10.5" fill="#c8ecf4" opacity="0.4"/><circle cx="1329" cy="145.5" r="6.5"/>
<circle cx="1646" cy="302" r="10.5" fill="#c8ecf4" opacity="0.4"/><circle cx="1646" cy="302" r="6.5"/>
<circle cx="942" cy="370.5" r="10.5" fill="#c8ecf4" opacity="0.4"/><circle cx="942" cy="370.5" r="6.5"/>
<circle cx="1141" cy="414" r="10.5" fill="#c8ecf4" opacity="0.4"/><circle cx="1141" cy="414" r="6.5"/>
<circle cx="1259.5" cy="542.5" r="10.5" fill="#c8ecf4" opacity="0.4"/><circle cx="1259.5" cy="542.5" r="6.5"/>
<circle cx="437" cy="857" r="10.5" fill="#c8ecf4" opacity="0.4"/><circle cx="437" cy="857" r="6.5"/>
<circle cx="634" cy="956" r="10.5" fill="#c8ecf4" opacity="0.4"/><circle cx="634" cy="956" r="6.5"/>
<circle cx="832" cy="969" r="10.5" fill="#c8ecf4" opacity="0.4"/><circle cx="832" cy="969" r="6.5"/>
<circle cx="952" cy="1015" r="10.5" fill="#c8ecf4" opacity="0.4"/><circle cx="952" cy="1015" r="6.5"/>
<circle cx="3056.5" cy="186" r="10.5" fill="#c8ecf4" opacity="0.4"/><circle cx="3056.5" cy="186" r="6.5"/>
<circle cx="3453.7" cy="299.4" r="10.5" fill="#c8ecf4" opacity="0.4"/><circle cx="3453.7" cy="299.4" r="6.5"/>
<circle cx="3572.5" cy="381" r="10.5" fill="#c8ecf4" opacity="0.4"/><circle cx="3572.5" cy="381" r="6.5"/>
<circle cx="2868" cy="440" r="10.5" fill="#c8ecf4" opacity="0.4"/><circle cx="2868" cy="440" r="6.5"/>
<circle cx="3065.6" cy="538" r="10.5" fill="#c8ecf4" opacity="0.4"/><circle cx="3065.6" cy="538" r="6.5"/>
<circle cx="3184.5" cy="601" r="10.5" fill="#c8ecf4" opacity="0.4"/><circle cx="3184.5" cy="601" r="6.5"/>
<circle cx="2359" cy="861" r="10.5" fill="#c8ecf4" opacity="0.4"/><circle cx="2359" cy="861" r="6.5"/>
<circle cx="2557" cy="960.4" r="10.5" fill="#c8ecf4" opacity="0.4"/><circle cx="2557" cy="960.4" r="6.5"/>
<circle cx="2755.8" cy="910" r="10.5" fill="#c8ecf4" opacity="0.4"/><circle cx="2755.8" cy="910" r="6.5"/>
<circle cx="2872" cy="971.5" r="10.5" fill="#c8ecf4" opacity="0.4"/><circle cx="2872" cy="971.5" r="6.5"/>
</g>
</svg>
</body></html>
